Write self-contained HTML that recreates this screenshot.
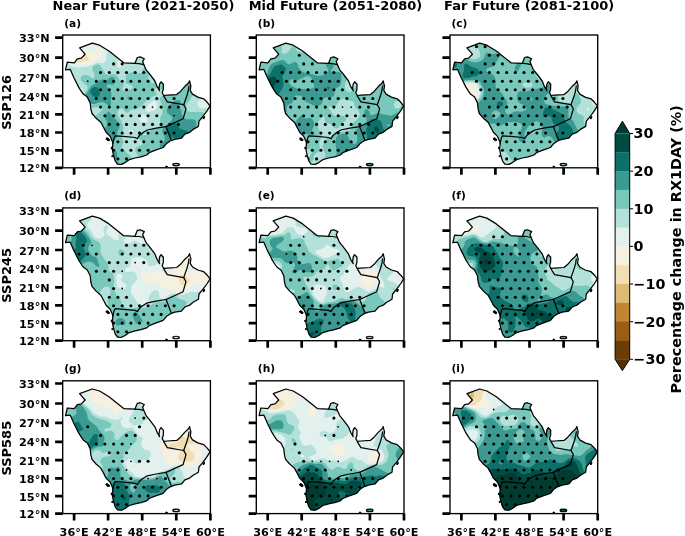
<!DOCTYPE html>
<html lang="en"><head><meta charset="utf-8"><title>Percentage change in RX1DAY</title>
<style>html,body{margin:0;padding:0;background:#fff}svg{display:block;will-change:transform}text{font-family:"DejaVu Sans","Liberation Sans",sans-serif;font-weight:bold;fill:#000}</style></head><body>
<svg width="685" height="536" viewBox="0 0 685 536">
<rect width="685" height="536" fill="#fff"/>
<defs>
<clipPath id="land"><path d="M2.8,34.8 4.6,27.2 11.6,27.8 14.6,23.9 18.7,23.1 22.4,19.2 16.9,12.9 29.6,8.2 36.9,10.2 46.3,16 61,27.8 72.2,28.4 74.6,22.5 77.5,21.9 81.6,23.7 79.9,26.6 81.1,29.6 83.4,34.8 86.9,39 92.2,46 94.6,51.9 96.9,55.8 96.3,53.5 96.9,49 98.3,46.8 100.7,49.3 100.6,54.5 99.5,57.8 101,60.5 104.6,60.2 114,59.6 117.8,56.4 122.2,51.3 125.6,48.2 126.9,45.8 127.5,48.5 128.2,51 127.5,55.4 129.8,59.1 135.1,62.1 141,63.8 144.5,67.3 147.4,70.9 144.5,75.6 139.8,82 136.3,86.1 135.7,91.4 130.4,94.4 126.9,97.3 122.2,99.1 118.7,103.2 112.1,104.3 107.4,106 103.9,108.4 100.4,112.5 92.2,115.4 86.4,117.7 84,120 78.2,121.8 72.3,123 66.5,124.7 62.4,127.6 58.9,129.4 54.8,129.2 52.5,125.9 50.7,120 49.6,114.2 50.2,108.4 49.8,106.7 47.5,101.4 43.4,97.3 41,92.6 38.1,87.3 33.4,83.2 29.3,78.5 28.1,73.8 27.5,67.9 24.6,62.1 20.5,59.1 18.1,55.6 15.8,51.9 11.1,42.5 7.5,34.3Z"/>
<ellipse cx="45" cy="104.3" rx="1.9" ry="1.1" transform="rotate(35 45 104.3)"/>
<ellipse cx="48.9" cy="113" rx="0.5" ry="0.9" transform="rotate(0 48.9 113)"/>
<ellipse cx="49.5" cy="121.2" rx="0.5" ry="0.6" transform="rotate(0 49.5 121.2)"/>
<ellipse cx="141.2" cy="82.6" rx="0.6" ry="1.3" transform="rotate(25 141.2 82.6)"/>
<ellipse cx="113.4" cy="129.6" rx="3.3" ry="1.25" transform="rotate(0 113.4 129.6)"/>
<ellipse cx="103.7" cy="131.6" rx="0.8" ry="0.5" transform="rotate(0 103.7 131.6)"/>
</clipPath>
<clipPath id="box"><rect x="0" y="0" width="147.7" height="132.8"/></clipPath>
<g id="ov" fill="none" stroke="#000" stroke-width="1.25" stroke-linejoin="round" stroke-linecap="round">
<path d="M2.8,34.8 4.6,27.2 11.6,27.8 14.6,23.9 18.7,23.1 22.4,19.2 16.9,12.9 29.6,8.2 36.9,10.2 46.3,16 61,27.8 72.2,28.4 74.6,22.5 77.5,21.9 81.6,23.7 79.9,26.6 81.1,29.6 83.4,34.8 86.9,39 92.2,46 94.6,51.9 96.9,55.8 96.3,53.5 96.9,49 98.3,46.8 100.7,49.3 100.6,54.5 99.5,57.8 101,60.5 104.6,60.2 114,59.6 117.8,56.4 122.2,51.3 125.6,48.2 126.9,45.8 127.5,48.5 128.2,51 127.5,55.4 129.8,59.1 135.1,62.1 141,63.8 144.5,67.3 147.4,70.9 144.5,75.6 139.8,82 136.3,86.1 135.7,91.4 130.4,94.4 126.9,97.3 122.2,99.1 118.7,103.2 112.1,104.3 107.4,106 103.9,108.4 100.4,112.5 92.2,115.4 86.4,117.7 84,120 78.2,121.8 72.3,123 66.5,124.7 62.4,127.6 58.9,129.4 54.8,129.2 52.5,125.9 50.7,120 49.6,114.2 50.2,108.4 49.8,106.7 47.5,101.4 43.4,97.3 41,92.6 38.1,87.3 33.4,83.2 29.3,78.5 28.1,73.8 27.5,67.9 24.6,62.1 20.5,59.1 18.1,55.6 15.8,51.9 11.1,42.5 7.5,34.3Z"/>
<path d="M72.2,28.4 76.3,28.6 81.1,29.6"/>
<path d="M50.2,108.4 51.3,103 52.5,100.8 60.7,101.4 72.3,102.5 74.7,103.7 77,100.2 79.9,97.9 84.6,95 93.4,93.2 103.4,91.6"/>
<path d="M103.4,91.6 120.4,83.8 123.3,73.8 121,69.7"/>
<path d="M121,69.7 104.6,66.8 101,60.9"/>
<path d="M121,69.7 124.5,59.7 125.7,55 126.3,51"/>
<path d="M103.4,91.6 108.3,104.5"/>
<ellipse cx="45" cy="104.3" rx="1.9" ry="1.1" stroke-width="0.9" fill="#000" transform="rotate(35 45 104.3)"/>
<ellipse cx="48.9" cy="113" rx="0.5" ry="0.9" stroke-width="0.9" fill="#000" transform="rotate(0 48.9 113)"/>
<ellipse cx="49.5" cy="121.2" rx="0.5" ry="0.6" stroke-width="0.9" fill="#000" transform="rotate(0 49.5 121.2)"/>
<ellipse cx="141.2" cy="82.6" rx="0.6" ry="1.3" stroke-width="0.9" fill="#000" transform="rotate(25 141.2 82.6)"/>
<ellipse cx="113.4" cy="129.6" rx="3.3" ry="1.25" stroke-width="1.2" fill="none" transform="rotate(0 113.4 129.6)"/>
<ellipse cx="103.7" cy="131.6" rx="0.8" ry="0.5" stroke-width="0.9" fill="#000" transform="rotate(0 103.7 131.6)"/>
</g>
<g id="fr">
<rect x="0" y="0" width="147.7" height="132.8" fill="none" stroke="#000" stroke-width="1.35"/>
<path d="M-7.6,132.8H0M-7.6,115.3H0M-7.6,97.5H0M-7.6,79.4H0M-7.6,61H0M-7.6,42.1H0M-7.6,22.7H0M-7.6,2.7H0M11.4,132.8v7M45.4,132.8v7M79.5,132.8v7M113.6,132.8v7M147.7,132.8v7" stroke="#000" stroke-width="2.7" fill="none"/>
</g>
</defs>
<g transform="translate(62.7,35.0)">
<g clip-path="url(#land)">
<rect x="-2" y="-2" width="151.7" height="136.8" fill="#f1dfb3"/>
<path d="M-.4-2l1.6,0l1.6,0l1.6,0l1.6,0l1.6,0l1.6,0l1.6,0l1.6,0l1.6,0l1.6,0l1.6,0l1.6,0l1.6,0l1.6,0l1.6,0l1.6,0l1.6,0l1.6,0l1.6,0l1.6,0l1.6,0l1.6,0l1.6,0l1.6,0l1.6,0l1.6,0l1.6,0l1.6,0l1.6,0l1.6,0l1.6,0l1.6,0l1.6,0l1.6,0l1.6,0l1.6,0l1.6,0l1.6,0l1.6,0l1.6,0l1.6,0l1.6,0l1.6,0l1.6,0l1.6,0l1.6,0l1.6,0l1.6,0l1.6,0l1.6,0l1.6,0l1.6,0l1.6,0l1.6,0l1.6,0l1.6,0l1.6,0l1.6,0l1.6,0l1.6,0l1.6,0l1.6,0l1.6,0l1.6,0l1.6,0l1.6,0l1.6,0l1.6,0l1.6,0l1.6,0l1.6,0l1.6,0l1.6,0l1.6,0l1.6,0l1.6,0l1.6,0l1.6,0l1.6,0l1.6,0l1.6,0l1.6,0l1.6,0l1.6,0l1.6,0l1.6,0l1.6,0l1.6,0l1.6,0l1.6,0l1.6,0l1.6,0l1.6,0l1.6,0l0,1.6l0,1.6l0,1.6l0,1.6l0,1.6l0,1.6l0,1.6l0,1.6l0,1.6l0,1.6l0,1.6l0,1.6l0,1.6l0,1.6l0,1.6l0,1.6l0,1.6l0,1.6l0,1.6l0,1.6l0,1.6l0,1.6l0,1.6l0,1.6l0,1.6l0,1.6l0,1.6l0,1.6l0,1.6l0,1.6l0,1.6l0,1.6l0,1.6l0,1.6l0,1.6l0,1.6l0,1.6l0,1.6l0,1.6l0,1.6l0,1.6l0,1.6l0,1.6l0,1.6l0,1.6l0,1.6l0,1.6l0,1.6l0,1.6l0,1.6l0,1.6l0,1.6l0,1.6l0,1.6l0,1.6l0,1.6l0,1.6l0,1.6l0,1.6l0,1.6l0,1.6l0,1.6l0,1.6l0,1.6l0,1.6l0,1.6l0,1.6l0,1.6l0,1.6l0,1.6l0,1.6l0,1.6l0,1.6l0,1.6l0,1.6l0,1.6l0,1.6l0,1.6l0,1.6l0,1.6l0,1.6l0,1.6l0,1.6l0,1.6l0,1.6l0,1.6l-1.6,0l-1.6,0l-1.6,0l-1.6,0l-1.6,0l-1.6,0l-1.6,0l-1.6,0l-1.6,0l-1.6,0l-1.6,0l-1.6,0l-1.6,0l-1.6,0l-1.6,0l-1.6,0l-1.6,0l-1.6,0l-1.6,0l-1.6,0l-1.6,0l-1.6,0l-1.6,0l-1.6,0l-1.6,0l-1.6,0l-1.6,0l-1.6,0l-1.6,0l-1.6,0l-1.6,0l-1.6,0l-1.6,0l-1.6,0l-1.6,0l-1.6,0l-1.6,0l-1.6,0l-1.6,0l-1.6,0l-1.6,0l-1.6,0l-1.6,0l-1.6,0l-1.6,0l-1.6,0l-1.6,0l-1.6,0l-1.6,0l-1.6,0l-1.6,0l-1.6,0l-1.6,0l-1.6,0l-1.6,0l-1.6,0l-1.6,0l-1.6,0l-1.6,0l-1.6,0l-1.6,0l-1.6,0l-1.6,0l-1.6,0l-1.6,0l-1.6,0l-1.6,0l-1.6,0l-1.6,0l-1.6,0l-1.6,0l-1.6,0l-1.6,0l-1.6,0l-1.6,0l-1.6,0l-1.6,0l-1.6,0l-1.6,0l-1.6,0l-1.6,0l-1.6,0l-1.6,0l-1.6,0l-1.6,0l-1.6,0l-1.6,0l-1.6,0l-1.6,0l-1.6,0l-1.6,0l-1.6,0l-1.6,0l-1.6,0l-1.6,0l0-1.6l0-1.6l0-1.6l0-1.6l0-1.6l0-1.6l0-1.6l0-1.6l0-1.6l0-1.6l0-1.6l0-1.6l0-1.6l0-1.6l0-1.6l0-1.6l0-1.6l0-1.6l0-1.6l0-1.6l0-1.6l0-1.6l0-1.6l0-1.6l0-1.6l0-1.6l0-1.6l0-1.6l0-1.6l0-1.6l0-1.6l0-1.6l0-1.6l0-1.6l0-1.6l0-1.6l0-1.6l0-1.6l0-1.6l0-1.6l0-1.6l0-1.6l0-1.6l0-1.6l0-1.6l0-1.6l0-1.6l0-1.6l0-1.6l0-1.6l0-1.6l0-1.6l0-1.6l0-1.6l0-1.6l0-1.6l0-1.6l0-1.6l0-1.6l0-1.6l0-1.6l0-1.6l0-1.6l0-1.6l0-1.6l0-1.6l0-1.6l0-1.6l0-1.6l0-1.6l0-1.6l0-1.6l0-1.6l0-1.6l0-1.6l0-1.6l0-1.6l0-1.6l0-1.6l0-1.6l0-1.6l0-1.6l0-1.6l0-1.6l0-1.6l0-1.6zM4.3,9.2l-1.1,1.6l.5,1.6l.7,1.2l.3,.4l1.2,1.6l.1,.2l1.1,1.4l.5,.7l.8,.9l.8,1.2l.3,.4l1,1.6l.3,.6l.5,1l.6,1.6l.5,.6l1.3,1l.3,.2l1.6,.4l1.6-.2l1.6-.3l.6-.1l1-.3l1.6-.2l1.6-.1l1.6-.4l.7-.6l-.2-1.6l-.5-1.1l-.3-.5l-1.1-1.6l-.2-.2l-1.6-1.1l-.6-.3l-1-.4l-1.6-.8l-.4-.4l-1.2-.8l-1-.8l-.6-.4l-1.6-1.2l-1.6-.9l-.9-.7l-.7-.4l-1.6-1l-.3-.2l-1.3-.7l-1.4-.9l-.2-.1l-1.6,0z" fill="#f5f0e0"/>
<path d="M-.4-2l1.6,0l1.6,0l1.6,0l1.6,0l1.6,0l1.6,0l1.6,0l1.6,0l1.6,0l1.6,0l1.6,0l1.6,0l1.6,0l1.6,0l1.6,0l1.6,0l1.6,0l1.6,0l1.6,0l1.6,0l1.6,0l1.6,0l1.6,0l1.6,0l1.6,0l1.6,0l1.6,0l1.6,0l1.6,0l1.6,0l1.6,0l1.6,0l1.6,0l1.6,0l1.6,0l1.6,0l1.6,0l1.6,0l1.6,0l1.6,0l1.6,0l1.6,0l1.6,0l1.6,0l1.6,0l1.6,0l1.6,0l1.6,0l1.6,0l1.6,0l1.6,0l1.6,0l1.6,0l1.6,0l1.6,0l1.6,0l1.6,0l1.6,0l1.6,0l1.6,0l1.6,0l1.6,0l1.6,0l1.6,0l1.6,0l1.6,0l1.6,0l1.6,0l1.6,0l1.6,0l1.6,0l1.6,0l1.6,0l1.6,0l1.6,0l1.6,0l1.6,0l1.6,0l1.6,0l1.6,0l1.6,0l1.6,0l1.6,0l1.6,0l1.6,0l1.6,0l1.6,0l1.6,0l1.6,0l1.6,0l1.6,0l1.6,0l1.6,0l1.6,0l0,1.6l0,1.6l0,1.6l0,1.6l0,1.6l0,1.6l0,1.6l0,1.6l0,1.6l0,1.6l0,1.6l0,1.6l0,1.6l0,1.6l0,1.6l0,1.6l0,1.6l0,1.6l0,1.6l0,1.6l0,1.6l0,1.6l0,1.6l0,1.6l0,1.6l0,1.6l0,1.6l0,1.6l0,1.6l0,1.6l0,1.6l0,1.6l0,1.6l0,1.6l0,1.6l0,1.6l0,1.6l0,1.6l0,1.6l0,1.6l0,1.6l0,1.6l0,1.6l0,1.6l0,1.6l0,1.6l0,1.6l0,1.6l0,1.6l0,1.6l0,1.6l0,1.6l0,1.6l0,1.6l0,1.6l0,1.6l0,1.6l0,1.6l0,1.6l0,1.6l0,1.6l0,1.6l0,1.6l0,1.6l0,1.6l0,1.6l0,1.6l0,1.6l0,1.6l0,1.6l0,1.6l0,1.6l0,1.6l0,1.6l0,1.6l0,1.6l0,1.6l0,1.6l0,1.6l0,1.6l0,1.6l0,1.6l0,1.6l0,1.6l0,1.6l0,1.6l-1.6,0l-1.6,0l-1.6,0l-1.6,0l-1.6,0l-1.6,0l-1.6,0l-1.6,0l-1.6,0l-1.6,0l-1.6,0l-1.6,0l-1.6,0l-1.6,0l-1.6,0l-1.6,0l-1.6,0l-1.6,0l-1.6,0l-1.6,0l-1.6,0l-1.6,0l-1.6,0l-1.6,0l-1.6,0l-1.6,0l-1.6,0l-1.6,0l-1.6,0l-1.6,0l-1.6,0l-1.6,0l-1.6,0l-1.6,0l-1.6,0l-1.6,0l-1.6,0l-1.6,0l-1.6,0l-1.6,0l-1.6,0l-1.6,0l-1.6,0l-1.6,0l-1.6,0l-1.6,0l-1.6,0l-1.6,0l-1.6,0l-1.6,0l-1.6,0l-1.6,0l-1.6,0l-1.6,0l-1.6,0l-1.6,0l-1.6,0l-1.6,0l-1.6,0l-1.6,0l-1.6,0l-1.6,0l-1.6,0l-1.6,0l-1.6,0l-1.6,0l-1.6,0l-1.6,0l-1.6,0l-1.6,0l-1.6,0l-1.6,0l-1.6,0l-1.6,0l-1.6,0l-1.6,0l-1.6,0l-1.6,0l-1.6,0l-1.6,0l-1.6,0l-1.6,0l-1.6,0l-1.6,0l-1.6,0l-1.6,0l-1.6,0l-1.6,0l-1.6,0l-1.6,0l-1.6,0l-1.6,0l-1.6,0l-1.6,0l-1.6,0l0-1.6l0-1.6l0-1.6l0-1.6l0-1.6l0-1.6l0-1.6l0-1.6l0-1.6l0-1.6l0-1.6l0-1.6l0-1.6l0-1.6l0-1.6l0-1.6l0-1.6l0-1.6l0-1.6l0-1.6l0-1.6l0-1.6l0-1.6l0-1.6l0-1.6l0-1.6l0-1.6l0-1.6l0-1.6l0-1.6l0-1.6l0-1.6l0-1.6l0-1.6l0-1.6l0-1.6l0-1.6l0-1.6l0-1.6l0-1.6l0-1.6l0-1.6l0-1.6l0-1.6l0-1.6l0-1.6l0-1.6l0-1.6l0-1.6l0-1.6l0-1.6l0-1.6l0-1.6l0-1.6l0-1.6l0-1.6l0-1.6l0-1.6l0-1.6l0-1.6l0-1.6l0-1.6l0-1.6l0-1.6l0-1.6l0-1.6l0-1.6l0-1.6l0-1.6l0-1.6l0-1.6l0-1.6l0-1.6l0-1.6l0-1.6l0-1.6l0-1.6l0-1.6l0-1.6l0-1.6l0-1.6l0-1.6l0-1.6l0-1.6l0-1.6l0-1.6zM3.6,7.6l-.8,.6l-.9,1l-.7,1.6l.4,1.6l1.1,1.6l.1,.1l1.1,1.5l.5,.7l.7,.9l.9,1.2l.3,.4l1.2,1.6l.1,.2l1,1.4l.6,1.1l.3,.5l.3,1.6l.7,1.6l.3,.4l1.4,1.2l.2,.1l1.6,.8l1.6,.3l1.6,0l1.6-.3l1.6-.2l1.6-.1l1.6,.1l1.6-.1l1.6-.1l1.6-.4l.3-.1l1.3-.8l1.6-.8l.9-1.6l.7-1.4l1.6,.4l1.6,0l1.4-.6l.2-.1l.8-1.5l.5-1.6l.2-1.6l-.1-1.6l-.4-1.6l-.8-1.6l-.2-.2l-1.5-1.4l-.1-.1l-1.6-.1l-.2,.2l-1.4,1.2l-.4,.4l-1.1,1.6l-.1,.3l-.8,1.3l-.8,1.4l-1.6-.3l-1.6-.9l-.4-.2l-1.2-.6l-1.6-.5l-1.6-.5l-.1,0l-1.5-.5l-1.6-.6l-.8-.5l-.8-.5l-1.6-1l-.2-.1l-1.4-.9l-1.2-.7l-.4-.3l-1.6-.9l-.7-.4l-.9-.6l-1.6-.9l-.2-.1l-1.4-.7l-1.6,0z" fill="#e2f0ee"/>
<path d="M58.8-2l1.6,0l1.6,0l1.6,0l1.6,0l1.6,0l1.6,0l1.6,0l1.6,0l1.6,0l1.6,0l1.6,0l1.6,0l1.6,0l1.6,0l1.6,0l1.6,0l1.6,0l1.6,0l1.6,0l1.6,0l1.6,0l1.6,0l1.6,0l1.6,0l1.6,0l1.6,0l1.6,0l1.6,0l1.6,0l1.6,0l1.6,0l1.6,0l1.6,0l1.6,0l1.6,0l1.6,0l1.6,0l1.6,0l1.6,0l1.6,0l1.6,0l1.6,0l1.6,0l1.6,0l1.6,0l1.6,0l1.6,0l1.6,0l1.6,0l1.6,0l1.6,0l1.6,0l1.6,0l1.6,0l1.6,0l1.6,0l1.6,0l0,1.6l0,1.6l0,1.6l0,1.6l0,1.6l0,1.6l0,1.6l0,1.6l0,1.6l0,1.6l0,1.6l0,1.6l0,1.6l0,1.6l0,1.6l0,1.6l0,1.6l0,1.6l0,1.6l0,1.6l0,1.6l0,1.6l0,1.6l0,1.6l0,1.6l0,1.6l0,1.6l0,1.6l0,1.6l0,1.6l0,1.6l0,1.6l0,1.6l0,1.6l0,1.6l0,.7l-.8,.9l-.8,.8l-.7,.8l-.9,.9l-.7,.7l-.9,.8l-1.1,.8l-.5,.2l-1.6,.6l-1.6,.6l-.3,.2l-1.3,1.1l-.5,.5l-1.1,1.3l-.4,.3l-1.2,1.4l-.2,.2l-.8,1.6l.2,1.6l.8,1.4l.1,.2l1.5,1.2l.9,.4l.7,.2l1.6,.2l1.6-.3l.6-.1l1-.2l1.6,.1l.4,.1l1.2,.9l.3,.7l-.1,1.6l-.2,.8l-.2,.8l-.1,1.6l.3,.9l.3,.7l1.1,1.6l.2,.2l1.2,1.4l.4,.5l0,1.1l0,1.6l0,1.6l0,1.6l0,1.6l0,1.6l0,1.6l0,1.6l0,1.6l0,1.6l0,1.6l0,1.6l0,1.6l0,1.6l0,1.6l0,1.6l0,1.6l0,1.6l0,1.6l0,1.6l0,1.6l0,1.6l0,1.6l0,1.6l0,1.6l0,1.6l0,1.6l0,1.6l0,1.6l0,1.6l0,1.6l0,1.6l-1.6,0l-1.6,0l-1.6,0l-1.6,0l-1.6,0l-1.6,0l-1.6,0l-1.6,0l-1.6,0l-1.6,0l-1.6,0l-1.6,0l-1.6,0l-1.6,0l-1.6,0l-1.6,0l-1.6,0l-1.6,0l-1.6,0l-1.6,0l-1.6,0l-1.6,0l-1.6,0l-1.6,0l-1.6,0l-1.6,0l-1.6,0l-1.6,0l-1.6,0l-1.6,0l-1.6,0l-1.6,0l-1.6,0l-1.6,0l-1.6,0l-1.6,0l-1.6,0l-1.6,0l-1.6,0l-1.6,0l-1.6,0l-1.6,0l-1.6,0l-1.6,0l-1.6,0l-1.6,0l-1.6,0l-1.6,0l-1.6,0l-1.6,0l-1.6,0l-1.6,0l-1.6,0l-1.6,0l-1.6,0l-1.6,0l-1.6,0l-1.6,0l-1.6,0l-1.6,0l-1.6,0l-1.6,0l-1.6,0l-1.6,0l-1.6,0l-1.6,0l-1.6,0l-1.6,0l-1.6,0l-1.6,0l-1.6,0l-1.6,0l-1.6,0l-1.6,0l-1.6,0l-1.6,0l-1.6,0l-1.6,0l-1.6,0l-1.6,0l-1.6,0l-1.6,0l-1.6,0l-1.6,0l-1.6,0l-1.6,0l-1.6,0l-1.6,0l-1.6,0l-1.6,0l-1.6,0l-1.6,0l-1.6,0l-1.6,0l-1.6,0l0-1.6l0-1.6l0-1.6l0-1.6l0-1.6l0-1.6l0-1.6l0-1.6l0-1.6l0-1.6l0-1.6l0-1.6l0-1.6l0-1.6l0-1.6l0-1.6l0-1.6l0-1.6l0-1.6l0-1.6l0-1.6l0-1.6l0-1.6l0-1.6l0-1.6l0-1.6l0-1.6l0-1.6l0-1.6l0-1.6l0-1.6l0-1.6l0-1.6l0-1.6l0-1.6l0-1.6l0-1.6l0-1.6l0-1.6l0-1.6l0-1.6l0-1.6l0-1.6l0-1.6l0-1.6l0-1.6l0-1.6l0-1.6l0-1.6l0-1.6l0-1.6l0-1.6l0-1.6l0-1.6l0-1.6l0-1.6l0-1.6l0-1.6l0-1.6l0-1.6l0-1.6l0-1.6l0-1.6l0-1.6l0-1.6l0-1.6l0-1.6l0-1.6l0-1.6l0-1.6l0-1.6l0-1.6l0-1.6l0-1.6l0-1.6l0-1.6l0-1.6l0-.3l.3,.3l1.3,.6l.8,1l.8,.9l.5,.7l1.1,1.4l.1,.2l1.2,1.6l.3,.4l.8,1.2l.8,1l.4,.6l.8,1.6l-.2,1.6l-.9,1.6l-.1,1.6l.6,1.6l1,1l1.4,.6l.2,.1l1.6,.3l1.6,.3l1.6,.2l1.6,0l1.6-.1l1.6-.3l1.6-.2l1.6-.1l1.6,0l.8-.2l.8-.1l1.6-.4l1.6-.7l.5-.4l1.1-.5l1.6-.6l1.2-.5l.4-.2l1.6-.4l1.6-.2l1.6,.1l1.6,.2l1.6,.2l1.4-1.3l.2-.3l.3-1.3l.3-1.6l.2-1.6l.2-1.6l.3-1.6l.3-1.6l.2-1.6l-.2-.8l-.1-.8l.1-.8l1.6-.3l1.6,.5l1.2,.6l.4,.2l1.2,1.4l.4,.6l.5,1l.7,1.6l.4,.6l.6,1l.9,1.6l.1,.2l.6,1.4l.3,1.6l0,1.6l-.1,1.6l-.1,1.6l.1,1.6l.8,1l1.6-.1l1.6-.4l1.2-.5l.4-.2l1.6-1.4l.5-1.6l.3-1.6l.5-1.6l.3-.7l.2-.9l.3-1.6l.2-1.6l.2-1.6l.1-1.6l0-1.6l0-1.6l0-1.6l-.1-1.6l-.2-1.6l-.3-1.6l-.4-1.1l-.4-.5l-.8-1.6l-.4-.8l-.5-.8l-1-1.6l-.1-.1l-1.2-1.5l-.4-.5l-1.1-1.1zM8.5,42.8l-.4,1.6l0,1.6l.4,1.6l.7,1.5l.1,.1l.6,1.6l-.1,1.6l-.6,.8l-.5,.8l-1.1,1.1l-.5,.5l-1.1,1.2l-.3,.4l-1.3,1.4l-.2,.2l-1.4,1.6l-1,1.6l-.1,1.6l.7,1.6l.4,.5l.8,1.1l.8,.8l1,.8l.6,.3l1.6,0l.6-.3l1-.8l1.1-.8l.5-.4l1.5-1.2l.1-.1l1.6-1.4l.1-.1l1.5-1.4l.1-.2l1-1.6l.2-1.6l-.5-1.6l-.6-1.6l-.2-.4l-.5-1.2l-.4-1.6l-.7-.6l-.5-1l-.3-1.6l-.2-1.6l-.4-1.6l-.2-.4l-.7-1.2l-.9-.9l-1.1-.7l-.5-.4zM16.5,54l.7,.4l1.6,.9l1.6-.8l.2-.5l-.2-.3l-1.6-.8l-1.6,.1zM89.1,66.8l-1.5,1.2l-.4,.4l-1.2,1.2l-.3,.4l-1.2,1.6l-.1,.2l-.8,1.4l-.5,1.6l.5,1.6l.8,.6l1.6-.2l1.6-.3l.5-.1l1.1-.2l1.6-.4l1.6-.8l.2-.2l1.3-1.6l.1-.2l.5-1.4l.2-1.6l-.4-1.6l-.3-.6l-.8-1l-.8-.7l-1.6-.1l-1.6,.7zM79.2,79.6l-1.2,.5l-1.1,1.1l-.5,1.3l-.1,.3l.1,1l.1,.6l1,1.6l.5,.3l1.6,.8l1.4,.5l.2,0l1.6,.1l.2-.1l1.4-1.5l0-.1l.3-1.6l-.3-1.2l-.1-.4l-1-1.6l-.5-.8l-1.6-.7l-.6-.1l-1-.1zM65.9,95.6l-.2,1.6l.9,1.6l.2,.1l1.6,.5l1.1-.6l.5-.7l.3-.9l-.3-1.6l0-.1l-1.6-1.1l-1.6,.2zM20.4,1.7l1.6-.3l1.6,.1l1.6,.4l1.2,.9l.4,.2l1.4,1.4l.2,1.4l1.6,.2l-1.6,0l-1.6,.2l-1.6,.7l-1.1,.7l-.5,.1l-1.6,.1l-.9-.2l-.7-.7l-1.2-.9l-.3-1.6l.5-1.6z" fill="#b4e2db"/>
<path d="M148.4,7.2l1.6-.6l0,1l0,1.6l0,1.6l0,1.6l0,1.6l0,.6l-.9,1l-.7,.7l-.7,.9l-.9,1.1l-.3,.5l-1.2,1.6l-.1,.2l-1,1.4l-.6,.9l-.4,.7l-1,1.6l-.2,.2l-.8,1.4l-.8,1.4l-.1,.2l-.9,1.6l-.6,1.1l-.2,.5l-.8,1.6l-.6,1.2l-.2,.4l-.3,1.6l.5,.9l.2,.7l1.2,1.6l.2,.3l.6,1.3l-.4,1.6l-.2,.3l-.6,1.3l-.8,1.6l-.2,.4l-.6,1.2l-.8,1.6l-.2,.5l-.5,1.1l-.7,1.6l-.4,.9l-.3,.7l-.5,1.6l-.3,1.6l-.5,1.6l-1.6,1l-.7,.6l-.9,.9l-.5,.7l-.8,1.6l-.3,.5l-.6,1.1l-1,1.3l-.2,.3l-1.2,1.6l-.2,.3l-.5,1.3l-.5,1.6l-.1,1.6l.2,1.6l.9,1.4l1,.2l.6,.1l1.6,.2l1.6,.3l1.6,.1l1.6-.2l1.6-.2l1.6,0l1.6,.2l1.6,.2l1.6,.4l1.4,.5l.2,.1l1.1,1.5l.3,1.6l.2,.7l.3,.9l1.1,1.6l.2,.3l1.1,1.3l.5,.6l.9,1l.7,.8l.6,.8l1,1.1l0,.5l0,1.6l0,1.6l0,1.6l0,1.6l0,1.6l0,1.6l0,1.6l0,1.6l0,1.6l0,1.6l0,1.6l0,1.6l0,1.6l0,1.6l0,1.6l0,1.6l0,1.6l0,1.6l0,1.6l0,1.6l0,1.6l0,1.6l0,1.6l0,1.6l0,1.6l0,1.6l0,1.6l0,1.6l-1.6,0l-1.6,0l-1.6,0l-1.6,0l-1.6,0l-1.6,0l-1.6,0l-1.6,0l-1.6,0l-1.6,0l-1.6,0l-1.6,0l-1.6,0l-1.6,0l-1.6,0l-1.6,0l-1.6,0l-1.6,0l-1.6,0l-1.6,0l-1.6,0l-1.6,0l-1.6,0l-1.6,0l-1.6,0l-1.6,0l-1.6,0l-1.6,0l-1.6,0l-1.6,0l-1.6,0l-1.6,0l-1.6,0l-1.6,0l-1.6,0l-1.6,0l-1.6,0l-1.6,0l-1.6,0l-1.6,0l-1.6,0l-1.6,0l-1.6,0l-1.6,0l-1.6,0l-1.6,0l-1.6,0l-1.6,0l-1.6,0l-1.6,0l-1.6,0l-1.6,0l-1.6,0l-1.6,0l-1.6,0l-1.6,0l-1.6,0l-1.6,0l-1.6,0l-1.6,0l-1.6,0l-1.6,0l-1.6,0l-1.6,0l-1.6,0l-1.6,0l-1.6,0l-1.6,0l-1.6,0l-1.6,0l-1.6,0l-1.6,0l-1.6,0l-1.6,0l-1.6,0l-1.6,0l-1.6,0l-1.6,0l-1.6,0l-1.6,0l-1.6,0l-1.6,0l-1.6,0l-1.6,0l-1.6,0l-1.6,0l-1.6,0l-1.6,0l-1.6,0l-1.6,0l-1.6,0l-1.6,0l-1.6,0l-1.6,0l-1.6,0l0-1.6l0-1.6l0-1.6l0-1.6l0-1.6l0-1.6l0-1.6l0-1.6l0-1.6l0-1.6l0-1.6l0-1.6l0-1.6l0-1.6l0-1.6l0-1.6l0-1.6l0-1.6l0-1.6l0-1.6l0-1.6l0-1.6l0-1.6l0-1.6l0-1.6l0-1.6l0-1.6l0-1.6l0-1.6l0-1.6l0-1.6l0-1.6l0-1.6l0-1.6l0-1.6l0-1.6l0-1.6l0-1.6l0-1.6l0-1.6l0-1.6l0-.7l1.6-.2l1.6,.4l1.3,.5l.3,.1l1.6,1l1.6,.4l1.6-.1l1.6-1l.4-.4l1.2-1l.7-.6l.9-.7l1-.9l.6-.5l1.2-1.1l.4-.3l1.4-1.3l.2-.2l1.2-1.4l.4-.6l.6-1l1-1.1l.5-.5l1.1-.9l.6-.7l1-1.2l.2-.4l.8-1.6l.3-1.6l-.5-1.6l-.8-.9l-.9-.7l-.7-.5l-1.6-1.1l-.1,0l-1.5-1.4l-.2-.2l-.5-1.6l0-1.6l.7-1.4l.2-.2l1.4-.9l1.6-.4l1.6,.1l1.6,.5l1.2,.7l.4,.3l1.6,1.1l.3,.2l1.3,.7l1.5-.7l.1-.1l.3-1.5l0-1.6l-.3-1.2l-.1-.4l-.8-1.6l-.7-1.4l-.1-.2l-.2-1.6l.3-.7l.3-.9l1.3-1l.8-.6l.8-.3l1.6-.2l1.6,.3l.3,.2l1.3,1.4l.1,.2l1.1,1.6l.4,.5l.7,1.1l.9,1.4l.1,.2l1,1.6l.5,.6l1.3,1l.3,.2l1.6,.1l1.3-.3l.3-.1l1.6-.4l1.6-.1l1.6,.4l.3,.2l1.3,.8l.8,.8l.8,1.2l.3,.4l.8,1.6l.5,1.3l.3,.3l1.3,1.6l1.6,1.1l1.2,.5l-.7,1.6l-.5,.6l-.4,1l-.3,1.6l.7,1l.7,.6l.9,.3l1.6-.2l.3-.1l1.3-.5l1.6-.5l1.6-.6l1.6-1.4l.2-.2l-.2-.3l-.8-1.3l-.8-.5l-1.6-.7l-1.5-.4l-.1,0l-1.6-.6l-.6-1l.1-1.6l-.1-1.6l.1-1.6l.3-1.6l.2-.5l.5-1.1l1.1-.8l1.5-.8l.1-.1l1.6-.6l1.6-.1l1.6,.2l1.6,.4l.8,.2l.8,.2l1.6,.2l1.6-.1l.4-.3l.8-1.6l.4-.5l.5-1.1l1.1-1.1l.5-.5l1.1-.9l1.6-.6l1.6,.8l.9,.7l.6,1.6l-.4,1.6l-1,1.6l-.1,.5l-.3,1.1l0,1.6l.1,1.6l.2,.7l.2,.9l.7,1.6l.7,1l.8,.6l.8,.7l1.6-.2l.5-.5l1.1-.8l.7-.8l.9-.6l1.6-.4l1.6,0l1.6,.2l1.6,.7l.3,.1l1.3,.9l1.6,.5l.4-1.4l.4-1.6l.5-1.6l.3-.7l.6-.9l.7-1.6l.3-1.4l.1-.2l0-1.6l-.1-1l0-.6l-.1-1.6l0-1.6l.1-.9l.3-.7l1.2-1.6l.1-.2l1.3-1.4l.3-.3l1.3-1.3l.3-.3l1.4-1.3l.2-.2l1.6-1.4l1.6-1.3l.4-.3l1.2-.9l1-.7l.6-.4l1.6-1.1l.2-.1l1.4-.9l1.3-.7l.3-.2l1.6-.8l1.2-.6l.4-.2l1.6-.8l1.5-.6l.1,0l1.6-.7l1.6-.5l1.2-.4l.4-.2l1.6-.4l1.6-.5l1.6-.4l.4-.1l1.2-.3l1.6-.4l1.6-.3l1.6-.5l.4-.1zM92.1,54l0,1.6l.3,.8l.7,.8l.7,1.6l-.3,1.6l-1.1,.3l-1.6,.5l-1.3,.8l-.3,.2l-1.6,1l-.8,.4l-.8,.5l-1.6,1l-.1,.1l-1.5,1.3l-.3,.3l-1.3,1.6l-1.5,1.6l-.1,.1l-1.6,1.5l-1.6,1.1l-.9,.5l-.7,.3l-1.6,.6l-1.6,.3l-1.6,0l-1.6,.3l-.2,.1l-1.4,1.3l-.3,.3l-1.3,1.3l-1.6-.1l-1.3-1.2l-.3-.4l-1-1.2l-.6-.7l-1.6-.7l-1.6,.5l-1.1,.9l-.5,.5l-.5,1.1l-.3,1.6l.2,1.6l.6,1.6l1,1.6l.6,.9l.4,.7l.9,1.6l.3,.6l.5,1l.6,1.6l.5,1.6l.3,1.6l-.1,1.6l-.2,1l-.1,.6l-.5,1.6l-.4,1.6l-.3,1.6l-.2,1.6l.4,1.6l1.1,1.6l.5,1.6l-.5,1.2l-.1,.4l-.7,1.6l-.4,1.6l.5,1.6l.7,.8l.8,.8l.8,.6l1,1l.6,.6l.9,1l.7,.8l.7,.8l.9,.9l.7,.7l.9,1l.6,.6l1,1.6l1.2,1.6l.4,.7l1.6,.1l1.6-.3l1.5-.5l.1,0l1.6-1.4l.2-.2l-.2-.4l-.3-1.2l-1.3-1.3l-.4-.3l-1.2-1.2l-.3-.4l-.9-1.6l-.4-.7l-.3-.9l-.4-1.6l.5-1.6l.2-.3l1.6-1.2l.3-.1l1.3-.6l1.6-.6l1.1-.4l.5-.6l.5-1l-.5-1.6l-1.3-1.6l-.3-.2l-1.6-1.3l-.1-.1l-1.3-1.6l-.2-.9l-.1-.7l.1-.5l.3-1.1l.7-1.6l.5-1.6l.1-.3l.2,.3l1.4,1.1l.3,.5l1.3,1.5l.1,.1l1.5,.9l1.6,.2l1.6-.6l.7-.5l.9-.9l.6-.7l.8-1.6l.2-.4l1.1-1.2l.5-.2l1.6-.3l1.6-.3l1.6-.5l1.1-.3l.5-.3l1.6-.8l.6-.5l.1-1.6l-.3-1.6l-.3-1.6l0-1.6l.2-1.6l.7-1.6l.6-.9l.4-.7l.5-1.6l.1-1.6l0-1.6l-.1-1.6l-.1-1.6l-.4-1.6l-.4-1l-.2-.6l-.7-1.6l-.6-1.6l-.1-.9l-.1-.7l.1-.5l.7-1.1l.9-.5l1.6-.7l.8-.4l.8-.5l1.4-1.1l.2-.3l.6-1.3l-.1-1.6l-.5-1.3l-1.6,.1l-1.6,.1l-1.6,0l-1.6-.2l-.5-.3l-1.1-.6l-1.6-.8l-1.6,1zM23.9,73.2l-.3,.2l-1.6,.7l-1.6,.5l-.6,.2l-1,.5l-1.6,.6l-1.3,.5l-.3,.2l-1.6,.8l-1.2,.6l-.4,.6l-.5,1l.1,1.6l.3,1.6l.1,.2l.4,1.4l.5,1.6l.7,1.3l.2,.3l.8,1.6l.6,.8l.6,.8l1,1.2l.4,.4l1.2,1.2l.5,.4l1.1,.8l1.2,.8l.4,.2l1.6,.4l1.6-.5l.1-.1l1.5-1.5l.1-.1l1.4-1.6l.1-.1l1.2-1.5l.4-.5l.8-1.1l.8-1.1l.3-.5l.6-1.6l-.1-1.6l0-1.6l.7-1.6l.1-.1l1.2-1.5l.4-.4l1.6-1.1l.1-.1l1.5-1.2l.3-.4l1.2-1.6l.1-.7l.2-.9l-.2-.2l-1.6-1.1l-1.6,0l-1.6,.2l-1.6,.3l-1.6,0l-1.6,0l-1.6-.1l-1.6,0l-1.6,.4z" fill="#79c8bc"/>
<path d="M47.6,42.6l1.6-.6l1.6,.2l.7,.6l.6,1.6l.2,1.6l-.1,1.6l-.9,1.6l-.5,.4l-1.6,.1l-1.6-.4l-.5-.1l-1.1-.4l-.9,.4l-.7,.7l-.1,.9l.1,.7l.2,.9l1.1,1.6l.3,.3l1.2,1.3l.4,.5l.7,1.1l.4,1.6l.1,1.6l-.1,1.6l-.2,1.6l-.3,1.6l0,1.6l.2,1.6l-.2,1.6l-.6,.8l-1.6,.1l-1.2-.9l-.4-.3l-1.3-1.3l-.3-.3l-1.6-.7l-1.6-.3l-1.6,.1l-1.6,.3l-1.6,.6l-.9,.3l-.7,.2l-1.6,.3l-1.6,0l-1.6-.2l-1.1-.3l-.5-.5l-.8-1.1l-.7-1.6l-.1-.1l-1.6-.1l-.5,.2l-.2,1.6l-.3,1.6l-.6,.5l-1.6,.5l-1.3-1l.8-1.6l.5-1.1l.4-.5l.6-1.6l.1-1.6l.5-.8l.5-.8l1.1-1.5l.1-.1l1-1.6l.5-.8l.4-.8l.9-1.6l.3-.6l.7-1l.9-1.1l.7-.5l.9-.7l1.6-.8l.1-.1l1.5-1.1l.7-.5l.9-.7l1.4-.9l.2-.2l1.6-.9l1.6-.3l1.6,0l1.6,.3l1.6,0l.5-.5l1.1-.6l1.1-1zM65.2,61.9l1.6-.2l.5,.3l.5,1.6l-1,1.4l-1.6-.8l-.3-.6l.2-1.6zM114.8,65.2l.1,0l1.5,.1l1.6,.8l.4,.7l-.4,.2l-1.6,1.3l0,.1l-.8,1.6l-.1,1.6l.7,1.6l.2,.2l1.6,1l.3,.4l.5,1.6l0,1.6l.4,1.6l.4,.7l.6,.9l1,1.2l.5,.4l1.1,.9l1.6,.5l1.6,.1l1.6-.1l1.6,0l1.3,.2l.3,.1l1.6,.8l.7,.7l.5,1.6l.1,1.6l-.2,1.6l-.6,1.6l-.3,1.6l1.4,.6l1.6,0l1.6,.7l.3,.3l1.3,1.3l.2,.3l1,1.6l.4,1l.1,.6l-.1,.3l-.6,1.3l-1,1.4l-.1,.2l-1.1,1.6l-.4,.6l-.6,1l-1,1.4l-.1,.2l-1.2,1.6l-.3,.3l-1.2,1.3l-.4,.5l-1.4,1.1l-.2,.2l-1.6,1.3l-.2,.1l-1.4,1.2l-.6,.4l-1,1l-.6,.6l-1,1.4l-.2,.2l-1.1,1.6l-.3,.3l-1.1,1.3l-.5,.5l-1.1,1.1l-.5,.4l-1.6,1.2l-1.6,1l-1.1,.6l-.5,.3l-1.6,.6l-1.6,.6l-.3,.1l-1.3,.3l-1.6,.3l-1.6,.1l-1.6,0l-1.6-.1l-1.6-.2l-1.3-.4l-.3-.2l-.7-1.4l-.9-1.6l-.4-1.6l-.4-1.6l-.7-1.6l-.1-.1l-.2-1.5l0-1.6l.2-.5l1.1-1.1l.5-1.1l.2-.5l-.2-.5l-.6-1.1l-1-1.5l-.1-.1l-.3-1.6l.4-.2l1.6-1.3l.1-.1l1.5-1.2l.4-.4l1.1-1.6l.1-.3l.3-1.3l-.3-1.6l-.7-1.6l-.8-1.6l-.1-.3l-.7-1.3l-.2-1.6l.7-1.6l.2-.2l1.2-1.4l.4-.4l1.3-1.2l.3-.3l1.4-1.3l.2-.2l1.5-1.4l.1-.1l1.4-1.5l.2-.3l.9-1.3l.3-1.6l-1-1.6l-.2-.2l-1.6-1.1l-.5-.3l-1.1-.9l-.5-.7l-.5-1.6l.1-1.6l.5-1.6l.4-.7l.6-.9l1-1.3l.3-.3l1.3-1.3l.3-.3l1.3-1.1l.7-.5l.9-.6l1.6-.7l1.6-.3zM46,76.2l.1,.2l1.4,1.6l.1,0l1.1,1.6l.5,.5l.8,1.1l.8,.6l.8,1l.8,.7l.6,.9l1,1.1l.4,.5l1.2,1.4l.1,.2l.8,1.6l.4,1.6l-.3,1.6l-.7,1.6l-.3,.7l-.4,.9l-.6,1.6l-.2,1.6l-.2,1.6l-.2,1l-.1,.6l-.6,1.6l-.9,1.6l-1.6,1.4l-.5,.2l-1.1,.6l-1.6,.5l-1.6,.4l-.2,.1l-1.4,.7l-1.6,.7l-.3,.2l-1.3,.6l-1.6,.4l-1.6,.4l-1,.2l-.6,.1l-.6-.1l-1-.2l-1.6-1.4l-1.3-1.6l-.3-.5l-.8-1.1l-.8-1.6l-.7-1.6l-.3-1.6l.7-1.6l.3-.4l1.3-1.2l.3-.3l1.5-1.3l.1-.1l1.6-1.4l.2-.1l1.4-1l1.6-.5l1.6,0l.6-.1l1-.3l1.6-1.2l.1-.1l1.2-1.6l.3-1.5l0-.1l0-.1l-.1-1.5l-.4-1.6l-.9-1.6l-.2-.5l-.7-1.1l.1-1.6l.6-1.3l.2-.3l1.3-1.6l.1-.2l1.5-1.4zM49.2,113.6l1.6,.4l1.3,.8l.3,.2l1.2,1.4l.4,.7l.4,.9l.2,1.6l-.2,1.6l-.4,1.6l-.5,1.6l-.2,1.6l.7,.4l1.6,1.2l.1,0l1.5,1.3l.2,.3l.1,1.6l-.3,.3l-1.6,.3l-.9-.6l-.7-.5l-.7-1.1l-.8-1.6l-.1-.3l-.2-1.3l-1.4-1l-.4-.6l-.8-1.6l-.4-.5l-.6-1.1l-.6-1.6l-.3-1.6l.1-1.6l.6-1.6z" fill="#3b9b93"/>
<path d="M31.6,52l1.6-.1l1.1,.5l.5,.4l1,1.2l.6,1.2l.2,.4l.5,1.6l.1,1.6l-.5,1.6l-.3,.4l-1.4,1.2l-.2,.1l-1.6,.4l-1.3-.5l-.3-.1l-1.6-1.5l-1.6-1.4l-.1-.2l-.8-1.6l.3-1.6l.6-1.3l.2-.3l1.4-1.3l.6-.3zM110,87.6l1.6-.2l.8,.2l.8,.4l1.3,1.2l.3,.5l.6,1.1l.7,1.6l.3,.4l1.6,1.1l.2,.1l1.4,.5l1.6,.5l1.6,.5l.3,.1l1.3,.5l1.6,.8l.3,.3l.9,1.6l-.7,1.6l-.5,.7l-1.4,.9l-.2,.2l-1.6,1.2l-.3,.2l-.6,1.6l.5,1.6l.4,1l.3,.6l-.3,.5l-1.6,0l-1.2-.5l-.4-.2l-1.6-1.3l-.2-.1l-1.4-1.4l-.2-.2l-1.4-.6l-1.6-.4l-1.6-.6l-1.6-.9l-1.1-.7l-.5-.3l-1.6-1.2l-.1-.1l-1.5-1.5l-.1-.1l-1-1.6l-.5-1.3l-.1-.3l.1-1.6l0-.1l1-1.5l.6-.6l1-1l.6-.6l1.1-1l.5-.5l1.6-1.1z" fill="#0c7169"/>
<g fill="#000"><circle cx="50.9" cy="28.9" r="1.55"/><circle cx="59.5" cy="28.9" r="1.55"/><circle cx="37.9" cy="37.5" r="1.55"/><circle cx="46.6" cy="37.5" r="1.55"/><circle cx="55.2" cy="37.5" r="1.55"/><circle cx="63.8" cy="37.5" r="1.55"/><circle cx="72.5" cy="37.5" r="1.55"/><circle cx="81.1" cy="37.5" r="1.55"/><circle cx="25" cy="46.2" r="0.9"/><circle cx="33.6" cy="46.2" r="1.55"/><circle cx="42.2" cy="46.2" r="1.55"/><circle cx="50.9" cy="46.2" r="1.55"/><circle cx="59.5" cy="46.2" r="1.55"/><circle cx="68.2" cy="46.2" r="1.55"/><circle cx="76.8" cy="46.2" r="1.55"/><circle cx="85.4" cy="46.2" r="1.55"/><circle cx="37.9" cy="54.8" r="1.55"/><circle cx="46.6" cy="54.8" r="1.55"/><circle cx="55.2" cy="54.8" r="1.55"/><circle cx="63.8" cy="54.8" r="1.55"/><circle cx="72.5" cy="54.8" r="1.55"/><circle cx="81.1" cy="54.8" r="1.55"/><circle cx="89.8" cy="54.8" r="1.55"/><circle cx="33.6" cy="63.5" r="1.55"/><circle cx="42.2" cy="63.5" r="1.55"/><circle cx="50.9" cy="63.5" r="1.55"/><circle cx="59.5" cy="63.5" r="1.55"/><circle cx="68.2" cy="63.5" r="1.55"/><circle cx="76.8" cy="63.5" r="1.55"/><circle cx="85.4" cy="63.5" r="1.55"/><circle cx="94.1" cy="63.5" r="1.55"/><circle cx="111.4" cy="63.5" r="1.55"/><circle cx="37.9" cy="72.1" r="1.55"/><circle cx="46.6" cy="72.1" r="1.55"/><circle cx="55.2" cy="72.1" r="1.55"/><circle cx="63.8" cy="72.1" r="1.55"/><circle cx="72.5" cy="72.1" r="1.55"/><circle cx="81.1" cy="72.1" r="1.55"/><circle cx="89.8" cy="72.1" r="0.9"/><circle cx="98.4" cy="72.1" r="1.55"/><circle cx="107" cy="72.1" r="1.55"/><circle cx="115.7" cy="72.1" r="1.55"/><circle cx="42.2" cy="80.7" r="1.55"/><circle cx="50.9" cy="80.7" r="1.55"/><circle cx="59.5" cy="80.7" r="1.55"/><circle cx="68.2" cy="80.7" r="1.55"/><circle cx="76.8" cy="80.7" r="1.55"/><circle cx="85.4" cy="80.7" r="1.55"/><circle cx="94.1" cy="80.7" r="1.55"/><circle cx="111.4" cy="80.7" r="0.9"/><circle cx="46.6" cy="89.4" r="1.55"/><circle cx="55.2" cy="89.4" r="1.55"/><circle cx="63.8" cy="89.4" r="1.55"/><circle cx="72.5" cy="89.4" r="1.55"/><circle cx="81.1" cy="89.4" r="1.55"/><circle cx="89.8" cy="89.4" r="1.55"/><circle cx="98.4" cy="89.4" r="1.55"/><circle cx="107" cy="89.4" r="1.55"/><circle cx="115.7" cy="89.4" r="1.55"/><circle cx="50.9" cy="98" r="1.55"/><circle cx="59.5" cy="98" r="1.55"/><circle cx="68.2" cy="98" r="1.55"/><circle cx="76.8" cy="98" r="1.55"/><circle cx="85.4" cy="98" r="1.55"/><circle cx="94.1" cy="98" r="1.55"/><circle cx="102.7" cy="98" r="1.55"/><circle cx="111.4" cy="98" r="1.55"/><circle cx="55.2" cy="106.7" r="1.55"/><circle cx="63.8" cy="106.7" r="1.55"/><circle cx="72.5" cy="106.7" r="1.55"/><circle cx="81.1" cy="106.7" r="1.55"/><circle cx="89.8" cy="106.7" r="1.55"/><circle cx="98.4" cy="106.7" r="1.55"/><circle cx="50.9" cy="115.3" r="1.55"/><circle cx="59.5" cy="115.3" r="1.55"/><circle cx="68.2" cy="115.3" r="1.55"/><circle cx="76.8" cy="115.3" r="1.55"/><circle cx="85.4" cy="115.3" r="1.55"/><circle cx="55.2" cy="123.9" r="1.55"/><circle cx="63.8" cy="123.9" r="1.55"/></g>
</g>
<use href="#ov"/><use href="#fr"/>
<text x="1.5" y="-7.8" font-size="10.6">(a)</text>
<text x="-13" y="137.4" font-size="11.25" text-anchor="end">12°N</text>
<text x="-13" y="119.9" font-size="11.25" text-anchor="end">15°N</text>
<text x="-13" y="102.1" font-size="11.25" text-anchor="end">18°N</text>
<text x="-13" y="84" font-size="11.25" text-anchor="end">21°N</text>
<text x="-13" y="65.6" font-size="11.25" text-anchor="end">24°N</text>
<text x="-13" y="46.7" font-size="11.25" text-anchor="end">27°N</text>
<text x="-13" y="27.3" font-size="11.25" text-anchor="end">30°N</text>
<text x="-13" y="7.3" font-size="11.25" text-anchor="end">33°N</text>
</g>
<g transform="translate(256.3,35.0)">
<g clip-path="url(#land)">
<rect x="-2" y="-2" width="151.7" height="136.8" fill="#b4e2db"/>
<path d="M-.4-2l1.6,0l1.6,0l1.6,0l1.6,0l1.6,0l1.6,0l1.6,0l.5,0l-.5,.5l-1.1,1.1l-.5,.6l-.8,1l-.8,1l-.4,.6l-1.2,1.5l-.1,.1l-1.5,1.6l-1.6,1.5l-.1,.1l-1.4,1.6l-.1,.2l-1,1.4l-.6,.8l-.5,.8l-.9,1.6l-.2,.3l0-.3l0-1.6l0-1.6l0-1.6l0-1.6l0-1.6l0-1.6l0-1.6l0-1.6l0-1.6l0-1.6zM38-2l1.6,0l1.6,0l1.6,0l1.6,0l1.6,0l1.6,0l1.6,0l1.6,0l1.6,0l1.6,0l1.6,0l1.6,0l1.6,0l1.6,0l1.6,0l1.6,0l1.6,0l1.6,0l1.6,0l1.6,0l1.6,0l1.6,0l1.6,0l1.6,0l1.6,0l1.6,0l1.6,0l1.6,0l1.6,0l1.6,0l1.6,0l1.6,0l1.6,0l1.6,0l1.6,0l1.6,0l1.6,0l1.6,0l1.6,0l1.6,0l1.6,0l1.6,0l1.6,0l1.6,0l1.6,0l1.6,0l1.6,0l1.6,0l1.6,0l1.6,0l1.6,0l1.6,0l1.6,0l1.6,0l1.6,0l1.6,0l1.6,0l1.6,0l1.6,0l1.6,0l1.6,0l1.6,0l1.6,0l1.6,0l1.6,0l1.6,0l1.6,0l1.6,0l1.6,0l1.6,0l0,1.6l0,1.6l0,1.6l0,1.6l0,1.6l0,1.6l0,1.6l0,1.6l0,1.6l0,1.6l0,1.6l0,1.6l0,1.6l0,1.6l0,1.6l0,1.6l0,1.6l0,1.6l0,1.6l0,1.6l0,1.6l0,1.6l0,1.6l0,1.6l0,1.6l0,1.6l0,1.6l0,1.6l0,1.6l0,1.6l0,1.6l0,1.6l0,1.6l0,.9l-.6,.7l-1,1.6l-.8,1.6l-.8,1.5l0,.1l-.5,1.6l-.2,1.6l.2,1.6l.5,.9l.5,.7l1.1,1.4l.3,.2l1.3,1.4l0,.2l0,1.6l0,1.6l0,1.6l0,1.6l0,1.6l0,1.6l0,1.6l0,1.6l0,1.6l0,1.6l0,1.6l0,1.6l0,1.6l0,1.6l0,1.6l0,1.6l0,1.6l0,1.6l0,1.6l0,1.6l0,1.6l0,1.6l0,1.6l0,1.6l0,1.6l0,1.6l0,1.6l0,1.6l0,1.6l0,1.6l0,1.6l0,1.6l0,1.6l0,1.6l0,1.6l0,1.6l0,1.6l0,1.6l0,1.6l0,1.6l0,1.6l0,1.6l0,1.6l-1.6,0l-1.6,0l-1.6,0l-1.6,0l-1.6,0l-1.6,0l-1.6,0l-1.6,0l-1.6,0l-1.6,0l-1.6,0l-1.6,0l-1.6,0l-1.6,0l-1.6,0l-1.6,0l-1.6,0l-1.6,0l-1.6,0l-1.6,0l-1.6,0l-1.6,0l-1.6,0l-1.6,0l-1.6,0l-1.6,0l-1.6,0l-1.6,0l-1.6,0l-1.6,0l-1.6,0l-1.6,0l-1.6,0l-1.6,0l-1.6,0l-1.6,0l-1.6,0l-1.6,0l-1.6,0l-1.6,0l-1.6,0l-1.6,0l-1.6,0l-1.6,0l-1.6,0l-1.6,0l-1.6,0l-1.6,0l-1.6,0l-1.6,0l-1.6,0l-1.6,0l-.8,0l.7-1.6l.1,0l.4-1.6l.6-1.6l.6-1.5l0-.1l.5-1.6l.3-1.6l-.1-1.6l-.3-1.6l-.1-1.6l0-1.6l-.3-1.5l0-.1l-.6-1.6l-.6-1.6l-.4-1.5l-.1-.1l-.4-1.6l.3-1.6l.2-.3l.3-1.3l.8-1.6l.5-.6l.5-1l1-1.6l.1-.1l1.6-.9l1.5-.6l.1,0l1.6-.5l1.6-.6l.8-.5l.8-.5l1.6-1l.1-.1l1.5-1.1l1.6-.5l1.6-.4l1.6-.1l1.6-.1l1.6-.1l1.6-.2l1.6-.5l.4-.2l1.2-.7l1-.9l.6-1l.4-.6l.1-1.6l0-1.6l1.1-1.6l1.6-1.4l.2-.2l1.4-1.3l.3-.3l1.3-1.6l0-.1l.8-1.5l.4-1.6l0-1.6l-.6-1.6l-.6-1l-.6-.6l-1-1l-.8-.6l-.8-1.1l-.4-.5l-.4-1.6l-.2-1.6l-.5-1.6l-.1-.1l-1.6-.7l-1.6,0l-1.6-.2l-1.2-.6l-.4-.2l-1.6-1.1l-1-.3l-.6-.2l-.5,.2l-1.1,.2l-1.6,.9l-.6,.5l-1,.8l-.7,.8l-.9,1.4l-.1,.2l-1.1,1.6l-.4,.6l-1.2,1l-.4,.3l-1.6,.4l-1.6-.3l-1-.4l-.6-.2l-.5,.2l-.4,1.6l.9,.9l.5,.7l1.1,1.5l0,.1l1,1.6l.6,1.2l.3,.4l1.3,1.1l1.6,.2l1.6-.2l1.6-.1l1.6,0l1.6,.2l1.6,.4l1.6,1.4l.1,.2l.5,1.6l-.3,1.6l-.3,.2l-1.6,.5l-1.6,.8l-.1,.1l-1.2,1.6l-.3,.5l-.6,1.1l-.9,1.6l-.1,.1l-1.6,1.1l-1.6-.1l-1.6-.7l-.8-.4l-.8-.9l-.8-.7l-.8-1.4l-.4-.2l-1.2-.5l-1.6-.1l-1.6-.8l-.3-.2l-1-1.6l-.3-1.6l.1-1.6l-.1-.8l-1.6-.5l-1.2,1.3l-.4,.3l-1.1,1.3l-.5,.4l-1.3,1.2l-.3,.4l-.5,1.2l-.1,1.6l.2,1.6l.2,1.6l.2,.6l.3,1l.9,1.6l.4,.5l.6,1.1l.6,1.6l.4,1.6l-.3,1.6l-.6,1.6l-.4,1.6l-.3,1l-.2,.6l-.3,1.6l-.1,1.6l.3,1.6l.2,1.6l-.1,1.6l-.7,1.6l-.7,.6l-1.6,1l-1.6,1l-.7,.6l-.5,1.6l-.1,1.6l-.3,1.3l-.1,.3l-1.2,1.6l-.3,.3l-1.6,.3l-1.3-.6l-.3-.3l-.5-1.3l.5-1.6l.9-1.6l.7-1.3l.3-.3l1-1.6l.3-1.2l.1-.4l-.1-.6l-.2-1l-1.4-.6l-1.6,0l-1.6,.2l-1.6,.1l-.9,.3l-.7,.3l-1.6,1l-.6,.3l-1,1.3l-.7,.3l-.9,1.5l-.2,.1l-.9,1.6l0,1.6l1.1,1.4l1.6-.1l1.5,.3l.1,0l1.6,1.3l.2,.3l0,1.6l-.2,1l-.6,.6l-.9,1.6l-.1,1.3l-.1,.3l.1,.1l.5,1.5l1.1,1.2l.3,.4l-.3,0l-1.6,0l-1.6,0l-1.6,0l-1.6,0l-1.6,0l-1.6,0l-1.6,0l-1.6,0l-1.6,0l-1.6,0l-1.6,0l-1.6,0l-1.6,0l-1.6,0l-1.6,0l-1.6,0l-1.6,0l-1.6,0l-1.6,0l-1.6,0l-1.6,0l-1.6,0l-1.6,0l-1.6,0l-1.6,0l-1.6,0l-1.6,0l-1.6,0l-1.6,0l-1.6,0l-1.6,0l0-1.6l0-1.6l0-1.6l0-1.6l0-1.6l0-1.6l0-1.6l0-1.6l0-1.6l0-1.6l0-1.6l0-1.6l0-1.6l0-1.6l0-1.6l0-1.6l0-1.6l0-1.6l0-1.6l0-1.6l0-1.6l0-1.6l0-1.6l0-1.6l0-1.6l0-1.6l0-1.6l0-1.6l0-1.6l0-1.6l0-1.6l0-1.6l0-1.6l0-1.6l0-1.6l0-1.6l0-1.6l0-1.6l0-1.6l0-1.6l0-1.6l0-1.6l0-1.6l0-1.6l0-1.6l0-1.6l0-1.6l0-1.6l0-1.6l0-1.6l0-1.6l0-1.6l0-1.2l.3-.4l1.3-1.4l.1-.2l1.2-1.6l.3-.4l.8-1.2l.8-1l.4-.6l1.2-1.6l.9-1.6l.7-1.4l.1-.2l-.1-.9l-.1-.7l-.9-1.6l-.6-.8l-.9-.8l-.7-.5l-1.5-1.1l-.1-.2l-1-1.4l0-1.6l.8-1.6l.2-.1l1.6-1.1l.9-.4l.7-.2l1.6-.6l1.6-.6l.3-.2l1.3-.7l1.6-.9l.1,0l1.5-.9l1.4-.7l.2-.1l1.6-.9l1.1-.6l.5-.4l1.1-1.2l.2-1.6l-.1-1.6l-.2-1.6l.1-1.6l.5-.8l.7-.8l.9-.7l1.6-.7l.3-.2l1.3-.5l.9,.5l.1,1.6l.6,1.2l.1,.4l.2,1.6l-.2,1.6l-.1,.8l-.3,.8l.3,.5l1.6,.8l1.6,.1l1.6-.3l1.6-1.1l1.2-1.6l.4-.7l.6-.9l1-1.4l.3-.2l1.3-1.1l1.6,.2l.5,.9l.9,1.6l.2,.2l1,1.4l.6,.4l1.6,.9l1,.3l.6,.1l1.6,0l.7-.1l.9-.2l1.4-1.4l-.9-1.6l-.5-.5l-1.5-1.1l-.1,0l-1.6-.8l-1.6-.4l-1.6-.4l-1.6-.3l-1.6-.4l-.3-.9l-1.2-1.6l-.1-.2l-.3-1.4l-.1-1.6l.3-1.6l.1-.2l.4-1.4l.4-1.6l.4-1.6zM97.4,28.4l-.2,.1l-1.6,1l-.9,.5l-.7,.5l-1.2,1.1l-.4,.9l-.2,.7l-.1,1.6l.1,1.6l.2,1.5l0,.1l.4,1.6l.3,1.6l.1,1.6l-.8,.8l-1.6,.8l-.9,1.6l-.6,1.6l-.1,.3l-.2,1.3l-.3,1.6l-.1,1.6l.1,1.6l.5,1.1l.5,.5l1.1,.7l1.6,.6l1.6,0l1.6-.8l.4-.5l1.2-1.1l.4-.5l1.2-1.6l.9-1.6l0-1.6l.7-1.4l1.6,1.2l.2,.2l.9,1.6l.3,1.6l.1,1.6l.1,.3l.4,1.3l.8,1.6l.4,1.2l.3,.4l1.3,1.4l1.6-.9l.3-.5l.7-1.6l.6-.9l.4-.7l1.2-1.4l.1-.2l1.1-1.6l.4-.8l.3-.8l.4-1.6l.4-1.6l.2-1.6l.2-1.6l.1-1.6l-.1-1.6l-.2-1.6l-1.3-1.5l-.2-.1l-1.4-.3l-1.6-.2l-1.5-1.1l-.1-.1l-.8-1.5l-.8-1.4l-.1-.2l-1.1-1.6l-.4-.5l-1.1-1.1l-.5-.7l-1.3-.9l-.3-.4l-1.6-.7l-1.6,.4zM138.6,66.8l-.9,1.6l-.2,1.6l.4,1.6l.9,1.2l.6,.4l1,.4l1.6-.1l.9-.3l.7-.5l1-1.1l.4-1.6l-.4-1.6l-1-1.4l-.2-.2l-1.4-.7l-1.6-.1l-1.6,.6z" fill="#79c8bc"/>
<path d="M25.2,25.1l1.6,0l.2,.1l1.4,.8l.8,.8l.8,.9l.8,.7l.8,.5l1.6,.3l1.6-.6l.4-.2l1.2-.9l1.6-.5l1.6,.1l1.2,1.3l.4,.7l.3,.9l.5,1.6l.7,1.6l.1,.1l1.2,1.5l.4,.5l1.6,1.1l1.6,1l1.6,.6l.2,0l1.4,.4l1.6,.2l1.6,.4l1.6,.3l1.4,.3l.2,.1l1.6,.5l1.6,.3l1.6,.2l1.6,0l1.6-.2l1.6-.5l.7-.4l.9-.6l1.3-1l.3-.4l1.4-1.2l.2-.6l.8-1l-.8-.6l-.4-1l-.9-1.6l-.3-.6l-.3-1l-.2-1.6l.5-1.5l.2-.1l1.4-.5l1.1,.5l.5,.1l1.6,.8l1.1,.7l.5,.5l.9,1.1l0,1.6l-.8,1.6l-.1,.1l-1.6,1.4l-.4,.1l.4,1.3l.1,.3l1.5,.4l1.6,.2l1.6-.1l1.6,0l1.6,.2l1.4,.9l.2,.2l.6,1.4l.1,1.6l0,1.6l0,1.6l-.1,1.6l-.2,1.6l-.4,1.3l-.1,.3l-1,1.6l-.5,.6l-1.4,1l-.2,.1l-1.6,1.1l-.3,.4l-.8,1.6l-.3,1.6l-.1,1.6l-.1,.3l-.3,1.3l-1.3,1.4l-.6,.2l-1,.3l-1.6,.2l-1.6-.1l-1.6,0l-1.6,.3l-.9,.9l-.7,1.5l-.1,.1l-.5,1.6l-.7,1.6l-.3,.4l-1.2,1.2l-.4,.3l-1.6,.7l-1.6,.1l-1.6-.2l-1.6-.5l-1.1-.4l-.5-.3l-1.6-1l-.7-.3l-.9-.7l-1.6-.4l-1.5-.5l-.1-.1l-.9-1.5l-.7-1.5l0-.1l-1.2-1.6l-.4-.4l-1.6-.7l-1.6-.3l-1.6-.1l-1.6,.1l-1.6,1l-.2,.4l-.4,1.6l-.3,1.6l-.6,1.6l-.1,.1l-1.6,1.5l-1.6,.9l-1.4,.7l-.2,.1l-.8,1.5l-.4,1.6l-.1,1.6l0,1.6l0,1.6l-.1,1.6l0,1.6l.3,1.6l1.1,1.5l.1,.1l1.5,1.5l.1,.1l1.5,1.2l.7,.4l.9,.6l1.6,.2l.8-.8l.8-.9l.4-.7l1-1.6l.2-.3l1.1-1.3l.5-.8l1.2-.8l.4-.5l1.6-.8l1.4,1.3l.2,.3l.4,1.3l1.2,.6l1.6,.1l1.6-.5l1.6,0l1.6,.8l.5,.6l1.1,1.6l.4,1.6l.2,1.6l-.2,1.6l-.4,1l-.3,.6l-.7,1.6l-.5,1.6l-.1,.6l-.3,1l-.2,1.6l-1.1,1.3l-1.6-.5l-1.6-.5l-1.6-.1l-1.6,.1l-1.6,.1l-1.6,0l-1.6,.5l-1.1,.7l-.5,.4l-1.6,.9l-.6,.3l-1,.4l-1.6,.6l-1.6,.5l-1.6-.1l-1.6-1.3l-.2-.1l-1.3-1.6l-.1-.1l-1.6-1.5l-1.6-.3l-.6,.3l-1,.5l-1.6,1.1l-1.6,1.1l-.7,.5l-.9,.7l-1.3,.9l-.3,.2l-1.6,1.2l-.3,.2l-1.3,1l-.8,.6l-.8,.6l-1.3,1l-.3,.2l-1.6,1.2l-.3,.2l-1.3,1l-.8,.6l-.8,.6l-1.3,1l-.3,.2l-1.6,1.2l-.3,.2l-1.3,.9l-.9,.7l-.7,.5l-1.6,1.1l-1.6,1.1l0-1.1l0-1.6l0-1.6l0-1.6l0-1.6l0-1.6l0-1.6l0-1.6l0-1.6l0-1.6l0-1.6l0-1.6l0-1.6l0-1.6l0-1.6l0-1.6l0-1.6l0-1.6l0-1.6l0-1.6l0-1.6l0-1.6l0-1.6l0-1.6l0-1.6l0-1.6l0-1.6l0-1.6l0-1.6l0-1.6l0-1.6l0-1.6l0-1.6l0-1.6l0-1.6l0-1.6l0-1.6l0-1.6l0-1.6l0-1.6l0-.6l1.6-1l1.3-1.6l.3-.3l1-1.3l.6-.7l.7-.9l.9-1.2l.3-.4l1.3-1.6l1-1.6l.6-.8l.6-.8l1-1.4l.1-.2l1.1-1.6l.4-.9l.4-.7l.5-1.6l.4-1.6l.3-.8l.3-.8l.7-1.6l.6-1.1l.4-.5l1.2-1.2l.7-.4l.9-.4l1.6-.6l1.6-.5l.2-.1l1.4-.6l1.6-.6l1.3-.4zM50.6,41.2l-1.4,.3l-1.6,.8l-.8,.5l-.8,.4l-1.6,.6l-1.4,.6l-.2,.1l-1.6,1.3l-1.6,0l-1.6-.8l-1.3-.6l-.3-.2l-1.6,0l-.2,.2l-1.3,1.6l-.1,.6l-.1,1l.1,.8l.2,.8l1.4,1.4l.3,.2l1.3,.6l1.6,.9l.3,.1l1.3,.8l1.6,.5l1.6,.1l1.6,.2l1.5,0l.1,0l1.6,0l1.6-.1l1.6-.1l1.6,0l1.6-.1l1.6-.3l1.6-.8l.3-.2l.4-1.6l-.3-1.6l-.4-.8l-.2-.8l-.6-1.6l-.7-1.6l-.1-.2l-.8-1.4l-.8-1.1l-1.3-.5l-.3-.2l-1.6,.1zM122.8,49l.3,.2l-.2,1.6l-.1,.2l-1.6,1.2l-.5-1.4l.5-.8l1.2-.8zM110,74.3l1.6,.2l.3,.3l1.1,1.6l.2,.7l.2,.9l.5,1.6l.9,.4l1.6,0l1.2-.4l.4-.1l1.6-.8l1.5-.7l.1-.1l1.6,0l.3,.1l1.3,.4l1.6,.6l1.6,.5l.7,.1l.9,.2l1.6,.3l1.6,.4l1.6,.3l1.6-.2l1.6-.7l.3-.3l1.3-.8l1.5-.8l.1,0l1.6-.4l1.6-.3l1.5,.7l.1,.1l.4,1.5l.3,1.6l.2,1.6l.1,1.6l.1,1.6l.1,1.6l.2,1.6l.1,1.6l.1,1.6l0,1.6l-.2,1.6l-.3,1.6l.1,1.6l.4,.4l.2,1.2l.8,1.6l.6,1.5l0,.1l.6,1.6l.4,1.6l.4,1.6l.2,1.4l0,.2l0,1.6l0,1.6l0,1.6l0,1.6l0,1.5l0,.1l-.3,1.6l-.4,1.6l-.5,1.6l-.4,1l-.2,.6l-.8,1.6l-.6,1.2l-.3,.4l-1,1.6l-.3,.5l-.9,1.1l-.7,.9l-.7,.7l-.9,.9l-.7,.7l-.9,.7l-1.1,.9l-.5,0l-1.6,0l-1.6,0l-1.6,0l-1.6,0l-1.6,0l-1.6,0l-1.6,0l-1.6,0l-1.6,0l-1.6,0l-1.6,0l-1.6,0l-1.6,0l-1.6,0l-1.6,0l-1.6,0l-1.6,0l-1.6,0l-1.6,0l-1.6,0l-1.6,0l-1.1,0l-.5-.2l-1.6-.3l-1.6,.2l-1.6,.2l-1.1,.1l-.5,0l-1.6,0l-1.6,0l-1.6,0l-.4,0l-1.2-1.4l-.1-.2l-.7-1.6l-.6-1.6l-.2-.5l-.5-1.1l-.6-1.6l-.5-1l-.3-.6l-1.2-1.6l-.1,0l-1.6-.7l-1.6-.3l-1.1-.6l-.5-.5l-.5-1.1l-.3-1.6l-.1-1.6l-.2-1.6l-.2-1.6l-.2-1.6l-.1-.8l-.1-.8l-.1-1.6l0-1.6l0-1.6l0-1.6l.2-1.5l0-.1l.8-1.6l.8-.8l.8-.8l.8-.3l1.6-.6l1.6-.5l1.1-.2l.5,0l.8,0l.8,.1l1.6,1l.4,.5l.8,1.6l.4,.9l.3,.7l.8,1.6l.5,.7l.9,.9l.7,.7l1.5,.9l.1,.1l1.6,.5l.7-.6l.9-1.5l0-.1l.4-1.6l.2-1.6l-.1-1.6l-.3-1.6l-.2-1.1l-.1-.5l-.4-1.6l-.3-1.6l.6-1.6l.2-.1l1.6-.9l1.6-.4l.7-.2l.9-.3l1.6-.7l.7-.6l.9-.9l.5-.7l.8-1.6l.3-.9l.2-.7l.1-1.6l-.3-1.4l-.1-.2l-1.3-1.6l-.2-.3l-.4-1.3l-.2-1.6l.2-1.6l.4-1l.6-.6zM131.9,89.2l-1.1,1.3l0,.3l0,.1l1.6,.4l.6-.5l-.3-1.6l-.3-.2z" fill="#3b9b93"/>
<path d="M22,29.9l1.6-.4l1.6,.1l.8,.4l.8,.6l1.1,1l.5,.6l.8,1l.4,1.6l-.5,1.6l-.7,1.1l-.3,.5l-1.1,1.6l-.2,.3l-.5,1.3l-.1,1.6l.3,1.6l.3,1l.2,.6l.2,1.6l0,1.6l-.2,1.6l-.2,.9l-.2,.7l-.7,1.6l-.7,1.2l-.3,.4l-1.2,1.6l-.1,.1l-1.1,1.5l-.5,.5l-.9,1.1l-.7,.8l-1.1,.8l-.5,.4l-1.6,.6l-1.6,.6l-1.6,.7l-1.6,.6l-.7,.3l-.9,.5l-1.6,.5l-1.6,0l-1.5-1l-.1,0l-1.6-1l-.7-.6l-.9-.8l-.8-.8l-.8-.9l-.7-.7l-.8-1.6l-.1-.5l-.2-1.1l.2-.2l.8-1.4l.8-1l.5-.6l1.1-1.4l.2-.2l1.3-1.6l.1-.2l1.2-1.4l.4-.5l.9-1.1l.7-1l.4-.6l1.1-1.6l.1-.2l1.2-1.4l.4-.5l1.1-1.1l.5-.6l.9-1l.7-1l.5-.6l.7-1.6l.4-1l.3-.6l.8-1.6l.5-.6l1.1-1l.5-.4l1.6-.7l1.3-.5zM71.6,51.4l1.6,.9l0,.1l.1,1.6l-.1,.4l-1.6,.1l-.4-.5l-.6-1.6zM116.4,83.9l1.6,0l1.6,.3l.7,.2l.9,.2l1.6,.4l1.6,.8l.2,.2l.9,1.6l.4,1.6l.1,.8l.1,.8l.5,1.6l.7,1.6l.3,.5l1,1.1l.6,.8l.9,.8l.7,1.6l.7,1.6l.9,1.4l.1,.2l1.2,1.6l.3,.7l.2,.9l-.2,.7l-.2,.9l-.7,1.6l-.7,1.4l-.1,.2l-.9,1.6l-.6,.7l-.7,.9l-.9,1.1l-.5,.5l-1.1,1l-.6,.6l-1,.8l-1.2,.8l-.4,.3l-1.6,.8l-1.2,.5l-.4,.2l-1.6,.5l-1.6,.3l-1.6-.1l-1.2-.9l-.4-.6l-.6-1l-.8-1.6l-.2-.4l-.6-1.2l-.8-1.6l-.2-.4l-.6-1.2l-.7-1.6l-.3-1.2l-.1-.4l.1-.7l.2-.9l.2-1.6l.2-1.6l.1-1.6l-.1-1.6l-.3-1.6l-.3-1.3l-.1-.3l-.2-1.6l.3-.9l.1-.7l.6-1.6l.8-1.6l.1-.2l.7-1.4l.6-1.6l.3-.7l.5-.9l1.1-1.6l.1,0z" fill="#0c7169"/>
<path d="M14,42.7l1.6-.8l1.6-.3l1.6,.5l.6,.7l.9,1.6l.1,1.3l0,.3l0,.1l-.4,1.5l-1.1,1.6l-.1,.2l-1.1,1.4l-.3,1.6l.4,1.6l.5,1.6l.1,1.6l-1.2,1.3l-1.6-.3l-1.6-.2l-1.6,.4l-.6,.4l-1,.7l-1.1,.9l-.5,.4l-1.6,.9l-1.6-.1l-1.6-1l-.3-.2l-1.3-1.4l-.1-.2l-.2-1.6l.3-.6l.7-1l.9-1.2l.4-.4l1.2-1.5l.1-.1l1.4-1.6l.1-.1l1.4-1.5l.2-.3l.8-1.3l.6-1.6l.2-.3l1.1-1.3l.5-.5l1.5-1.1zM119.6,91.3l1.6,.5l.4,.6l1,1.6l.2,.7l.2,.9l-.2,1.6l-1.6,1l-1.6-.6l-.3-.4l-1-1.6l-.3-.9l-.2-.7l.2-1.6z" fill="#004c42"/>
<g fill="#000"><circle cx="43" cy="20.2" r="1.55"/><circle cx="47.4" cy="28.9" r="1.55"/><circle cx="56" cy="28.9" r="1.55"/><circle cx="25.8" cy="37.5" r="1.55"/><circle cx="34.4" cy="37.5" r="1.55"/><circle cx="43" cy="37.5" r="1.55"/><circle cx="51.7" cy="37.5" r="1.55"/><circle cx="60.3" cy="37.5" r="1.55"/><circle cx="69" cy="37.5" r="1.55"/><circle cx="77.6" cy="37.5" r="1.55"/><circle cx="21.4" cy="46.2" r="1.55"/><circle cx="30.1" cy="46.2" r="1.55"/><circle cx="38.7" cy="46.2" r="1.55"/><circle cx="47.4" cy="46.2" r="1.55"/><circle cx="56" cy="46.2" r="1.55"/><circle cx="64.6" cy="46.2" r="1.55"/><circle cx="73.3" cy="46.2" r="1.55"/><circle cx="81.9" cy="46.2" r="1.55"/><circle cx="34.4" cy="54.8" r="1.55"/><circle cx="43" cy="54.8" r="1.55"/><circle cx="51.7" cy="54.8" r="1.55"/><circle cx="60.3" cy="54.8" r="1.55"/><circle cx="69" cy="54.8" r="1.55"/><circle cx="77.6" cy="54.8" r="1.55"/><circle cx="86.2" cy="54.8" r="1.55"/><circle cx="30.1" cy="63.5" r="1.55"/><circle cx="38.7" cy="63.5" r="1.55"/><circle cx="47.4" cy="63.5" r="1.55"/><circle cx="56" cy="63.5" r="1.55"/><circle cx="64.6" cy="63.5" r="1.55"/><circle cx="73.3" cy="63.5" r="1.55"/><circle cx="81.9" cy="63.5" r="1.55"/><circle cx="90.6" cy="63.5" r="1.55"/><circle cx="107.8" cy="63.5" r="1.55"/><circle cx="116.5" cy="63.5" r="1.55"/><circle cx="34.4" cy="72.1" r="1.55"/><circle cx="43" cy="72.1" r="1.55"/><circle cx="51.7" cy="72.1" r="1.55"/><circle cx="60.3" cy="72.1" r="1.55"/><circle cx="69" cy="72.1" r="1.55"/><circle cx="77.6" cy="72.1" r="1.55"/><circle cx="86.2" cy="72.1" r="0.9"/><circle cx="94.9" cy="72.1" r="0.9"/><circle cx="103.5" cy="72.1" r="1.55"/><circle cx="112.2" cy="72.1" r="1.55"/><circle cx="38.7" cy="80.7" r="1.55"/><circle cx="47.4" cy="80.7" r="1.55"/><circle cx="56" cy="80.7" r="1.55"/><circle cx="64.6" cy="80.7" r="1.55"/><circle cx="73.3" cy="80.7" r="1.55"/><circle cx="81.9" cy="80.7" r="1.55"/><circle cx="90.6" cy="80.7" r="1.55"/><circle cx="99.2" cy="80.7" r="1.55"/><circle cx="107.8" cy="80.7" r="1.55"/><circle cx="43" cy="89.4" r="1.55"/><circle cx="51.7" cy="89.4" r="1.55"/><circle cx="60.3" cy="89.4" r="1.55"/><circle cx="69" cy="89.4" r="1.55"/><circle cx="77.6" cy="89.4" r="1.55"/><circle cx="86.2" cy="89.4" r="1.55"/><circle cx="94.9" cy="89.4" r="1.55"/><circle cx="103.5" cy="89.4" r="1.55"/><circle cx="112.2" cy="89.4" r="1.55"/><circle cx="47.4" cy="98" r="1.55"/><circle cx="56" cy="98" r="1.55"/><circle cx="64.6" cy="98" r="1.55"/><circle cx="73.3" cy="98" r="1.55"/><circle cx="81.9" cy="98" r="1.55"/><circle cx="90.6" cy="98" r="1.55"/><circle cx="99.2" cy="98" r="1.55"/><circle cx="107.8" cy="98" r="1.55"/><circle cx="116.5" cy="98" r="1.55"/><circle cx="51.7" cy="106.7" r="1.55"/><circle cx="60.3" cy="106.7" r="1.55"/><circle cx="69" cy="106.7" r="1.55"/><circle cx="77.6" cy="106.7" r="1.55"/><circle cx="86.2" cy="106.7" r="1.55"/><circle cx="94.9" cy="106.7" r="1.55"/><circle cx="56" cy="115.3" r="1.55"/><circle cx="64.6" cy="115.3" r="1.55"/><circle cx="73.3" cy="115.3" r="1.55"/><circle cx="81.9" cy="115.3" r="1.55"/><circle cx="90.6" cy="115.3" r="1.55"/><circle cx="51.7" cy="123.9" r="1.55"/><circle cx="60.3" cy="123.9" r="1.55"/></g>
</g>
<use href="#ov"/><use href="#fr"/>
<text x="1.5" y="-7.8" font-size="10.6">(b)</text>
</g>
<g transform="translate(450.0,35.0)">
<g clip-path="url(#land)">
<rect x="-2" y="-2" width="151.7" height="136.8" fill="#f1dfb3"/>
<path d="M-.4-2l1.6,0l1.6,0l1.6,0l1.6,0l1.6,0l1.6,0l1.6,0l1.6,0l1.6,0l1.6,0l1.6,0l1.6,0l1.6,0l1.6,0l1.6,0l1.6,0l1.6,0l1.6,0l1.6,0l1.6,0l1.6,0l1.6,0l1.6,0l1.6,0l1.6,0l1.6,0l1.6,0l1.6,0l1.6,0l1.6,0l1.6,0l1.6,0l1.6,0l1.6,0l1.6,0l1.6,0l1.6,0l1.6,0l1.6,0l1.6,0l1.6,0l1.6,0l1.6,0l1.6,0l1.6,0l1.6,0l1.6,0l1.6,0l1.6,0l1.6,0l1.6,0l1.6,0l1.6,0l1.6,0l1.6,0l1.6,0l1.6,0l1.6,0l1.6,0l1.6,0l1.6,0l1.6,0l1.6,0l1.6,0l1.6,0l1.6,0l1.6,0l1.6,0l1.6,0l1.6,0l1.6,0l1.6,0l1.6,0l1.6,0l1.6,0l1.6,0l1.6,0l1.6,0l1.6,0l1.6,0l1.6,0l1.6,0l1.6,0l1.6,0l1.6,0l1.6,0l1.6,0l1.6,0l1.6,0l1.6,0l1.6,0l1.6,0l1.6,0l1.6,0l0,1.6l0,1.6l0,1.6l0,1.6l0,1.6l0,1.6l0,1.6l0,1.6l0,1.6l0,1.6l0,1.6l0,1.6l0,1.6l0,1.6l0,1.6l0,1.6l0,1.6l0,1.6l0,1.6l0,1.6l0,1.6l0,1.6l0,1.6l0,1.6l0,1.6l0,1.6l0,1.6l0,1.6l0,1.6l0,1.6l0,1.6l0,1.6l0,1.6l0,1.6l0,1.6l0,1.6l0,1.6l0,1.6l0,1.6l0,1.6l0,1.6l0,1.6l0,1.6l0,1.6l0,1.6l0,1.6l0,1.6l0,1.6l0,1.6l0,1.6l0,1.6l0,1.6l0,1.6l0,1.6l0,1.6l0,1.6l0,1.6l0,1.6l0,1.6l0,1.6l0,1.6l0,1.6l0,1.6l0,1.6l0,1.6l0,1.6l0,1.6l0,1.6l0,1.6l0,1.6l0,1.6l0,1.6l0,1.6l0,1.6l0,1.6l0,1.6l0,1.6l0,1.6l0,1.6l0,1.6l0,1.6l0,1.6l0,1.6l0,1.6l0,1.6l0,1.6l-1.6,0l-1.6,0l-1.6,0l-1.6,0l-1.6,0l-1.6,0l-1.6,0l-1.6,0l-1.6,0l-1.6,0l-1.6,0l-1.6,0l-1.6,0l-1.6,0l-1.6,0l-1.6,0l-1.6,0l-1.6,0l-1.6,0l-1.6,0l-1.6,0l-1.6,0l-1.6,0l-1.6,0l-1.6,0l-1.6,0l-1.6,0l-1.6,0l-1.6,0l-1.6,0l-1.6,0l-1.6,0l-1.6,0l-1.6,0l-1.6,0l-1.6,0l-1.6,0l-1.6,0l-1.6,0l-1.6,0l-1.6,0l-1.6,0l-1.6,0l-1.6,0l-1.6,0l-1.6,0l-1.6,0l-1.6,0l-1.6,0l-1.6,0l-1.6,0l-1.6,0l-1.6,0l-1.6,0l-1.6,0l-1.6,0l-1.6,0l-1.6,0l-1.6,0l-1.6,0l-1.6,0l-1.6,0l-1.6,0l-1.6,0l-1.6,0l-1.6,0l-1.6,0l-1.6,0l-1.6,0l-1.6,0l-1.6,0l-1.6,0l-1.6,0l-1.6,0l-1.6,0l-1.6,0l-1.6,0l-1.6,0l-1.6,0l-1.6,0l-1.6,0l-1.6,0l-1.6,0l-1.6,0l-1.6,0l-1.6,0l-1.6,0l-1.6,0l-1.6,0l-1.6,0l-1.6,0l-1.6,0l-1.6,0l-1.6,0l-1.6,0l0-1.6l0-1.6l0-1.6l0-1.6l0-1.6l0-1.6l0-1.6l0-1.6l0-1.6l0-1.6l0-1.6l0-1.6l0-1.6l0-1.6l0-1.6l0-1.6l0-1.6l0-1.6l0-1.6l0-1.6l0-1.6l0-1.6l0-1.6l0-1.6l0-1.6l0-1.6l0-1.6l0-1.6l0-1.6l0-1.6l0-1.6l0-1.6l0-1.6l0-1.6l0-1.6l0-1.6l0-1.6l0-1.6l0-1.6l0-1.6l0-1.6l0-1.6l0-1.6l0-1.6l0-1.6l0-1.6l0-1.6l0-1.6l0-1.6l0-1.6l0-1.6l0-1.6l0-1.6l0-1.6l0-1.6l0-1.6l0-1.6l0-1.6l0-1.6l0-1.6l0-1.6l0-1.6l0-1.6l0-1.6l0-1.6l0-1.6l0-1.6l0-1.6l0-1.6l0-1.6l0-1.6l0-1.6l0-1.6l0-1.6l0-1.6l0-1.6l0-1.6l0-1.6l0-1.6l0-1.6l0-1.6l0-1.6l0-1.6l0-1.6l0-1.6l0-1.6zM13.9,54l-1.5,.3l-1.6,.4l-1.6,.5l-1.4,.4l-.2,0l-1.6,.5l-1.6,.5l-1.6,.5l-.1,.1l-1.5,1.4l-.1,.2l-.1,1.6l0,1.6l.2,1.6l.7,1.6l.6,1.6l.3,.8l.5,.8l.9,1.6l.2,.2l1.2,1.4l.4,.5l1.1,1.1l.5,.4l1.4,1.2l.2,.1l1.6,.8l1.3,.7l.3,.1l1.6,.1l.4-.2l1.2-1.1l.3-.5l1.2-1.6l.1-.1l.8-1.5l.8-1.1l.3-.5l.9-1.6l.4-.8l.3-.8l.5-1.6l.1-1.6l-.3-1.6l-.3-1.6l-.2-1.6l-.1-.3l-.4-1.3l-.6-1.6l-.6-.8l-1.6-.7l-.6-.1l-1-.1l-1.6,.1z" fill="#f5f0e0"/>
<path d="M-.4-2l1.6,0l1.6,0l1.6,0l1.6,0l1.6,0l1.6,0l1.6,0l1.6,0l1.6,0l1.6,0l1.6,0l1.6,0l1.6,0l1.6,0l1.6,0l1.6,0l1.6,0l1.6,0l1.6,0l1.6,0l1.6,0l1.6,0l1.6,0l1.6,0l1.6,0l1.6,0l1.6,0l1.6,0l1.6,0l1.6,0l1.6,0l1.6,0l1.6,0l1.6,0l1.6,0l1.6,0l1.6,0l1.6,0l1.6,0l1.6,0l1.6,0l1.6,0l1.6,0l1.6,0l1.6,0l1.6,0l1.6,0l1.6,0l1.6,0l1.6,0l1.6,0l1.6,0l1.6,0l1.6,0l1.6,0l1.6,0l1.6,0l1.6,0l1.6,0l1.6,0l1.6,0l1.6,0l1.6,0l1.6,0l1.6,0l1.6,0l1.6,0l1.6,0l1.6,0l1.6,0l1.6,0l1.6,0l1.6,0l1.6,0l1.6,0l1.6,0l1.6,0l1.6,0l1.6,0l1.6,0l1.6,0l1.6,0l1.6,0l1.6,0l1.6,0l1.6,0l1.6,0l1.6,0l1.6,0l1.6,0l1.6,0l1.6,0l1.6,0l1.6,0l0,1.6l0,1.6l0,1.6l0,1.6l0,1.6l0,1.6l0,1.6l0,1.6l0,1.6l0,1.6l0,1.6l0,1.6l0,1.6l0,1.6l0,1.6l0,1.6l0,1.6l0,1.6l0,1.6l0,1.6l0,1.6l0,1.6l0,1.6l0,1.6l0,1.6l0,1.6l0,1.6l0,1.6l0,1.6l0,1.6l0,1.6l0,1.6l0,1.6l0,1.6l0,1.6l0,1.6l0,1.6l0,1.6l0,1.6l0,1.6l0,1.6l0,1.6l0,1.6l0,1.6l0,1.6l0,1.6l0,1.6l0,1.6l0,1.6l0,1.6l0,1.6l0,1.6l0,1.6l0,1.6l0,1.6l0,1.6l0,1.6l0,1.6l0,1.6l0,1.6l0,1.6l0,1.6l0,1.6l0,1.6l0,1.6l0,1.6l0,1.6l0,1.6l0,1.6l0,1.6l0,1.6l0,1.6l0,1.6l0,1.6l0,1.6l0,1.6l0,1.6l0,1.6l0,1.6l0,1.6l0,1.6l0,1.6l0,1.6l0,1.6l0,1.6l0,1.6l-1.6,0l-1.6,0l-1.6,0l-1.6,0l-1.6,0l-1.6,0l-1.6,0l-1.6,0l-1.6,0l-1.6,0l-1.6,0l-1.6,0l-1.6,0l-1.6,0l-1.6,0l-1.6,0l-1.6,0l-1.6,0l-1.6,0l-1.6,0l-1.6,0l-1.6,0l-1.6,0l-1.6,0l-1.6,0l-1.6,0l-1.6,0l-1.6,0l-1.6,0l-1.6,0l-1.6,0l-1.6,0l-1.6,0l-1.6,0l-1.6,0l-1.6,0l-1.6,0l-1.6,0l-1.6,0l-1.6,0l-1.6,0l-1.6,0l-1.6,0l-1.6,0l-1.6,0l-1.6,0l-1.6,0l-1.6,0l-1.6,0l-1.6,0l-1.6,0l-1.6,0l-1.6,0l-1.6,0l-1.6,0l-1.6,0l-1.6,0l-1.6,0l-1.6,0l-1.6,0l-1.6,0l-1.6,0l-1.6,0l-1.6,0l-1.6,0l-1.6,0l-1.6,0l-1.6,0l-1.6,0l-1.6,0l-1.6,0l-1.6,0l-1.6,0l-1.6,0l-1.6,0l-1.6,0l-1.6,0l-1.6,0l-1.6,0l-1.6,0l-1.6,0l-1.6,0l-1.6,0l-1.6,0l-1.6,0l-1.6,0l-1.6,0l-1.6,0l-1.6,0l-1.6,0l-1.6,0l-1.6,0l-1.6,0l-1.6,0l-1.6,0l0-1.6l0-1.6l0-1.6l0-1.6l0-1.6l0-1.6l0-1.6l0-1.6l0-1.6l0-1.6l0-1.6l0-1.6l0-1.6l0-1.6l0-1.6l0-1.6l0-1.6l0-1.6l0-1.6l0-1.6l0-1.6l0-1.6l0-1.6l0-1.6l0-1.6l0-1.6l0-1.6l0-1.6l0-1.6l0-1.6l0-1.6l0-1.6l0-1.6l0-1.6l0-1.6l0-1.6l0-1.6l0-1.6l0-1.6l0-1.6l0-1.6l0-1.6l0-1.6l0-1.6l0-1.6l0-1.6l0-1.6l0-1.6l0-1.6l0-1.6l0-1.6l0-1.6l0-1.6l0-1.6l0-1.6l0-1.6l0-1.6l0-1.6l0-1.6l0-1.6l0-1.6l0-1.6l0-1.6l0-1.6l0-1.6l0-1.6l0-1.6l0-1.6l0-1.6l0-1.6l0-1.6l0-1.6l0-1.6l0-1.6l0-1.6l0-1.6l0-1.6l0-1.6l0-1.6l0-1.6l0-1.6l0-1.6l0-1.6l0-1.6l0-1.6l0-1.6zM13.2,49.2l-.8,.2l-1.6,.4l-1.6,.6l-1.4,.4l-.2,.1l-1.6,.9l-1.5,.6l-.1,0l-1.6,1l-1.4,.6l-.2,.1l-1.6,1.4l-.1,.1l-.4,1.6l-.1,1.6l.1,1.6l.3,1.6l.2,.6l.2,1l.5,1.6l.6,1.6l.3,.5l.5,1.1l1,1.6l.1,.2l1,1.4l.6,.7l.8,.9l.8,.8l.9,.8l.7,.6l1.6,1l1.6,1l1.4,.6l.2,.1l1.6,.4l1.6-.2l.3-.3l1.3-1.4l.2-.2l1.1-1.6l.3-.4l.8-1.2l.8-1.1l.3-.5l1.1-1.6l.2-.3l.7-1.3l.9-1.5l.1-.1l.7-1.6l.8-1.4l.1-.2l.8-1.6l.7-1.5l0-.1l.3-1.6l-.1-1.6l-.2-1l-.1-.6l-.4-1.6l-.3-1.6l-.5-1.6l-.3-.4l-1.6-1.1l-.2-.1l-1.4-.2l-1.6-.1l-1.6,0l-1.6,0l-1.6,.1l-1.6,.1z" fill="#e2f0ee"/>
<path d="M-.4-2l1.6,0l1.6,0l1.6,0l1.6,0l1.6,0l1.6,0l1.6,0l1.6,0l1.6,0l1.6,0l1.6,0l1.6,0l1.6,0l1.6,0l1.6,0l1.6,0l1.6,0l1.6,0l1.6,0l1.6,0l1.6,0l1.6,0l1.6,0l1.6,0l1.6,0l1.6,0l1.6,0l1.6,0l1.6,0l1.6,0l1.6,0l1.6,0l1.6,0l1.6,0l1.6,0l1.6,0l1.6,0l1.6,0l1.6,0l1.6,0l1.6,0l1.6,0l1.6,0l1.6,0l1.6,0l1.6,0l1.6,0l1.6,0l1.6,0l1.6,0l1.6,0l1.6,0l1.6,0l1.6,0l1.6,0l1.6,0l1.6,0l1.6,0l1.6,0l1.6,0l1.6,0l1.6,0l1.6,0l1.6,0l1.6,0l1.6,0l1.6,0l1.6,0l1.6,0l1.6,0l1.6,0l1.6,0l1.6,0l1.6,0l1.6,0l1.6,0l1.6,0l1.6,0l1.6,0l1.6,0l1.6,0l1.6,0l1.6,0l1.6,0l1.6,0l1.6,0l1.6,0l1.6,0l1.6,0l1.6,0l1.6,0l1.6,0l1.6,0l1.6,0l0,1.6l0,1.6l0,1.6l0,1.6l0,1.6l0,1.6l0,1.6l0,1.6l0,1.6l0,1.6l0,1.6l0,1.6l0,1.6l0,1.6l0,1.6l0,1.6l0,1.6l0,1.6l0,1.6l0,1.6l0,1.6l0,1.6l0,1.6l0,1.6l0,1.6l0,1.6l0,1.6l0,1.6l0,1.6l0,1.6l0,1.6l0,1.6l0,1.6l0,1.6l0,1.6l0,1.6l0,1.6l0,1.6l0,1.6l0,1.6l0,1.6l0,1.6l0,1.6l0,1.6l0,1.6l0,1.6l0,1.6l0,1.6l0,1.6l0,1.6l0,1.6l0,1.6l0,1.6l0,1.6l0,1.6l0,1.6l0,1.6l0,1.6l0,1.6l0,1.6l0,1.6l0,1.6l0,1.6l0,1.6l0,1.6l0,1.6l0,1.6l0,1.6l0,1.6l0,1.6l0,1.6l0,1.6l0,1.6l0,1.6l0,1.6l0,1.6l0,1.6l0,1.6l0,1.6l0,1.6l0,1.6l0,1.6l0,1.6l0,1.6l0,1.6l0,1.6l-1.6,0l-1.6,0l-1.6,0l-1.6,0l-1.6,0l-1.6,0l-1.6,0l-1.6,0l-1.6,0l-1.6,0l-1.6,0l-1.6,0l-1.6,0l-1.6,0l-1.6,0l-1.6,0l-1.6,0l-1.6,0l-1.6,0l-1.6,0l-1.6,0l-1.6,0l-1.6,0l-1.6,0l-1.6,0l-1.6,0l-1.6,0l-1.6,0l-1.6,0l-1.6,0l-1.6,0l-1.6,0l-1.6,0l-1.6,0l-1.6,0l-1.6,0l-1.6,0l-1.6,0l-1.6,0l-1.6,0l-1.6,0l-1.6,0l-1.6,0l-1.6,0l-1.6,0l-1.6,0l-1.6,0l-1.6,0l-1.6,0l-1.6,0l-1.6,0l-1.6,0l-1.6,0l-1.6,0l-1.6,0l-1.6,0l-1.6,0l-1.6,0l-1.6,0l-1.6,0l-1.6,0l-1.6,0l-1.6,0l-1.6,0l-1.6,0l-1.6,0l-1.6,0l-1.6,0l-1.6,0l-1.6,0l-1.6,0l-1.6,0l-1.6,0l-1.6,0l-1.6,0l-1.6,0l-1.6,0l-1.6,0l-1.6,0l-1.6,0l-1.6,0l-1.6,0l-1.6,0l-1.6,0l-1.6,0l-1.6,0l-1.6,0l-1.6,0l-1.6,0l-1.6,0l-1.6,0l-1.6,0l-1.6,0l-1.6,0l-1.6,0l0-1.6l0-1.6l0-1.6l0-1.6l0-1.6l0-1.6l0-1.6l0-1.6l0-1.6l0-1.6l0-1.6l0-1.6l0-1.6l0-1.6l0-1.6l0-1.6l0-1.6l0-1.6l0-1.6l0-1.6l0-1.6l0-1.6l0-1.6l0-1.6l0-1.6l0-1.6l0-1.6l0-1.6l0-1.6l0-1.6l0-1.6l0-1.6l0-1.6l0-1.6l0-1.6l0-1.6l0-1.6l0-1.6l0-1.6l0-1.6l0-1.6l0-1.4l.5,1.4l1,1.6l.1,.1l1.1,1.5l.5,.5l1.2,1.1l.4,.3l1.6,1.2l.2,.1l1.4,.9l1.6,.7l1.6,.9l1.6,.6l.7,.1l.9,.4l1.6,.4l1.6-.1l.6-.7l1-.8l.6-.8l1-1.4l.1-.2l1.2-1.6l.3-.4l.8-1.2l.8-1.1l.3-.5l1-1.6l.3-.4l.7-1.2l.9-1.6l1.2-1.6l.4-.6l.7-1l.9-1.3l.2-.3l.8-1.6l.5-1.6l.1-.5l.1-1.1l-.1-1.5l0-.1l-.5-1.6l-.6-1.6l-.5-1.5l0-.1l-1-1.6l-.6-.6l-1.6-.7l-1.2-.3l-.4-.1l-1.6-.1l-1.6,0l-1.6,0l-1.6,0l-1.6,.1l-1.3,.1l-.3,.1l-1.6,.4l-1.6,.4l-1.6,.5l-.3,.2l-1.3,.6l-1.6,.7l-.5,.3l-1.1,.6l-1.6,.8l-.4,.2l-1.2,.7l-1.6,.8l-.3,.1l-1.3,1.3l0-1.3l0-1.6l0-1.6l0-1.6l0-1.6l0-1.6l0-1.6l0-1.6l0-1.6l0-1.6l0-1.6l0-1.6l0-1.6l0-1.6l0-1.6l0-1.6l0-1.6l0-1.6l0-1.6l0-1.6l0-1.6l0-1.6l0-1.6l0-1.6l0-1.6l0-1.6l0-1.6l0-1.6l0-1.6l0-1.6l0-1.6l0-1.6l0-1.6l0-1.6l0-1.6l0-1.6zM142.6,65.2l-.6,1.6l0,.5l0,1.1l0,.1l1.6,1.5l.1,0l1.5,.2l1.6,.2l.5-.4l.7-1.6l-.4-1.6l-.8-.9l-.7-.7l-.9-.5l-1.6-.2zM136.4,73.2l.6,1.6l.2,.1l1.6,0l.2-.1l0-1.6l-.2-.2l-1.6-.2z" fill="#b4e2db"/>
<path d="M-.4-2l1.6,0l1.6,0l1.6,0l1.6,0l1.6,0l1.6,0l1.6,0l1.6,0l1.6,0l1.6,0l1.6,0l1.6,0l1.6,0l1.6,0l1.6,0l1.6,0l1.6,0l1.6,0l1.6,0l1.6,0l1.6,0l1.6,0l1.6,0l1.6,0l1.6,0l1.6,0l1.6,0l1.6,0l1.6,0l1.6,0l1.6,0l1.6,0l1.6,0l1.6,0l1.6,0l1.6,0l1.6,0l1.6,0l1.6,0l1.6,0l1.6,0l1.6,0l1.6,0l1.6,0l1.6,0l1.6,0l1.6,0l1.6,0l1.6,0l1.6,0l1.6,0l1.6,0l1.6,0l1.6,0l1.6,0l1.6,0l1.6,0l1.6,0l1.6,0l1.6,0l1.6,0l1.6,0l1.6,0l1.6,0l1.6,0l1.6,0l1.6,0l1.6,0l1.6,0l1.6,0l1.6,0l1.6,0l1.6,0l1.6,0l1.6,0l1.6,0l1.6,0l1.6,0l1.6,0l1.6,0l1.6,0l1.6,0l1.6,0l1.6,0l1.6,0l1.6,0l1.6,0l1.6,0l1.6,0l1.6,0l1.6,0l1.6,0l1.6,0l1.6,0l0,1.6l0,1.6l0,1.6l0,1.6l0,1.6l0,1.6l0,1.6l0,1.6l0,1.6l0,1.6l0,1.6l0,1.6l0,1.6l0,1.6l0,1.6l0,1.6l0,1.6l0,1.6l0,1.6l0,1.6l0,1.6l0,1.6l0,1.6l0,1.6l0,1.6l0,1.6l0,1.6l0,1.6l0,1.6l0,1.6l0,1.6l0,1.6l0,.8l-1.2-.8l-.4-.3l-1.6-.8l-1.6-.5l-1.6,.6l-.8,1l-.8,1.1l-.3,.5l-1,1.6l-.3,.5l-.7,1.1l-.9,1.2l-.3,.4l-1.3,1.1l-1.4,.5l-.2,.1l-.3-.1l-1.3-.3l-1.6-1.2l-.1-.1l-1.2-1.6l-.3-.5l-1-1.1l-.5-1.6l-.1-.2l-.4-1.4l-.2-1.6l0-1.6l.3-1.6l.3-1l.2-.6l.3-1.6l-.4-1.6l-.1-.1l-1.6-1l-.8-.5l-.8-.3l-1.6-.4l-1.6-.3l-1.6-.1l-1.6,0l-1.6,.1l-1.6,.2l-1.6,.2l-1.6,.5l-.2,.1l-1.4,.6l-1.6,.7l-.5,.3l-1.1,.8l-1.1,.8l-.5,.8l-.4,.8l.2,1.6l.2,.7l.3,.9l.6,1.6l.5,1.6l.2,.9l.3,.7l.5,1.6l.4,1.6l0,1.6l-.5,1.6l-.6,1.6l-.1,.4l-.1,1.2l-.1,1.6l.1,1.6l.1,.7l.2,.9l1.1,1.6l.3,.2l1.6,.5l1.6,.3l1.6,.1l1.6,.3l1.1,.2l.5,.1l1.6,.3l1.6-.2l.3-.2l1.3-1.6l0-.1l.5-1.5l.3-1.6l.2-1.6l.3-1.6l.3-1.3l.2-.3l1.4-1.3l1.6,1.3l1.1,1.6l.5,.6l.5,1l.8,1.6l.3,.9l.2,.7l.1,1.6l-.3,.7l-.5,.9l-1.1,1.3l-.3,.3l-1.3,1.4l-.2,.2l-.8,1.6l-.1,1.6l.3,1.6l.8,1.5l.1,.1l1.5,1.1l1.4,.5l.2,.1l1.6,.8l1,.7l.5,1.6l-.3,1.6l-.1,1.6l.4,1.6l.1,.2l.8,1.4l.8,1.2l1.6,.3l1.1-1.5l.5-.6l.5-1l.9-1.6l.2-.4l.8-1.2l.8-1.3l.2-.3l1.4-1.5l.2-.1l1.4-.6l1.6,0l1.6,.3l1.5,.3l.1,0l0,1.6l0,1.6l0,1.6l0,1.6l0,1.6l0,1.6l0,1.6l0,1.6l0,1.6l0,1.6l0,1.6l0,1.6l0,1.6l0,1.6l0,1.6l0,1.6l0,1.6l0,1.6l0,1.6l0,1.6l0,1.6l0,1.6l0,1.6l0,1.6l0,1.6l0,1.6l0,1.6l0,1.6l0,1.6l0,1.6l0,1.6l0,1.6l0,1.6l0,1.6l-1.6,0l-1.6,0l-1.6,0l-1.6,0l-1.6,0l-1.6,0l-1.6,0l-1.6,0l-1.6,0l-1.6,0l-1.6,0l-1.6,0l-1.6,0l-1.6,0l-1.6,0l-1.6,0l-1.6,0l-1.6,0l-1.6,0l-1.6,0l-1.6,0l-1.6,0l-1.6,0l-1.6,0l-1.6,0l-1.6,0l-1.6,0l-1.6,0l-1.6,0l-1.6,0l-1.6,0l-1.6,0l-1.6,0l-1.6,0l-1.6,0l-1.6,0l-1.6,0l-1.6,0l-1.6,0l-1.6,0l-1.6,0l-1.6,0l-1.6,0l-1.6,0l-1.6,0l-1.6,0l-1.6,0l-1.6,0l-1.6,0l-1.6,0l-1.6,0l-1.6,0l-1.6,0l-1.6,0l-.5,0l0-1.6l.1-1.6l.1-1.6l-.1-1.6l-.5-1.6l-.6-1.6l-.1-.1l-1.1-1.5l-.5-.6l-.7-1l-.9-1.5l-.1-.1l-1-1.6l-.5-.7l-.8-.9l-.8-.8l-1.1-.8l-.5-.3l-1.6-1.3l-1.1-1.6l-.5-.8l-.4-.8l-1.2-1.6l0-.1l-1.6-1.3l-1.6-.1l-1.6,0l-.4-.1l-1.2-.2l-1.6-.4l-1.6-.2l-1.6-.1l-1.6,0l-1.6,.2l-1.6,.3l-1.3,.4l-.3,.2l-1.3,1.4l-.3,.8l-.5,.8l-.5,1.6l-.2,1.6l-.2,1.6l-.1,1.6l0,1.6l0,1.6l.2,1.6l.3,1.6l.4,1.6l.6,1.1l.2,.5l.6,1.6l.8,1.2l.2,.4l1.1,1.6l.3,.4l1,1.2l.6,.7l1,.9l-1,0l-1.6,0l-1.6,0l-1.6,0l-1.6,0l-1.6,0l-1.6,0l-1.6,0l-1.6,0l-1.6,0l-1.6,0l-1.6,0l-1.6,0l-1.6,0l-1.6,0l-1.6,0l-1.6,0l-1.6,0l-1.6,0l-1.6,0l-1.6,0l-1.6,0l-1.6,0l-1.6,0l0-1.6l0-1.6l0-1.6l0-1.6l0-1.6l0-1.6l0-1.6l0-1.6l0-1.6l0-1.6l0-1.6l0-1.6l0-1.6l0-1.6l0-1.6l0-1.6l0-1.6l0-.5l1.6-.6l1.4-.5l.2-.1l1.6-.6l1.6-.8l.2-.1l1.4-.7l1.5-.9l.1,0l1.6-1l.8-.6l.8-.6l1.3-1l.3-.2l1.6-1.3l.1-.1l1.5-1.4l.2-.2l1.4-1.4l.2-.2l1.4-1.6l1.1-1.6l.5-.7l.2-.9l.4-1.6l.6-1.6l.3-1.6l-1-1.6l-.5-.5l-1-1.1l-.6-.8l-.5-.8l.2-1.6l.3-.5l.8-1.1l.8-1.3l.2-.3l1.2-1.6l.2-.3l.9-1.3l.7-1.2l.3-.4l.9-1.6l.4-.8l.5-.8l1.1-1.5l0-.1l1.4-1.6l.2-.3l1-1.3l.6-.9l.5-.7l.7-1.6l.4-1.3l.1-.3l.3-1.6l-.1-1.6l-.3-1.5l0-.1l-.7-1.6l-.7-1.6l-.2-.3l-.7-1.3l-.9-1.3l-.3-.3l-1.3-.7l-1.6-.3l-1.6-.2l-1.6,0l-1.6-.1l-1.6,0l-1.6,.1l-1.6,.1l-1.6,.2l-1.6,.3l-1.6,.5l-.1,.1l-1.5,.5l-1.6,.7l-.7,.4l-.9,.4l-1.6,.8l-.7,.4l-.9,.5l-1.6,.7l-.6,.4l-1,.5l-1.6,.4l0-.9l0-1.6l0-1.6l0-1.6l0-1.6l0-1.6l0-1.6l0-1.6l0-1.6l0-1.6l0-1.6l0-1.6l0-1.6l0-1.6l0-1.6l0-1.6l0-1.6l0-1.6l0-1.6l0-1.6l0-1.6l0-1.6l0-1.6l0-1.6l0-1.6l0-1.6l0-1.6l0-1.6l0-1.6l0-1.6l0-1.6l0-1.6l0-1.6l0-1.6l0-1.6zM21.5,9.2l-1.1,.5l-1.4,1.1l-.2,.3l-.9,1.3l-.7,1.2l-.3,.4l-1.3,1.1l-.8,.5l-.8,.4l-1.6,1.2l.9,1.6l.7,.8l.6,.8l1,1l.7,.6l.9,.6l1.6,.9l.2,.1l1.4,.4l1.6,.3l1.6,.1l1.6-.1l1.6-.4l.7-.3l.9-.6l1.1-1l.5-1.1l.2-.5l0-1.6l-.2-1.3l-.1-.3l-.6-1.6l-.8-1.6l-.1-.2l-1.1-1.4l-.5-.7l-.9-.9l-.7-1.1l-.5-.5l-1.1-.5l-1.6,.3zM90.2,36.4l-1,.1l-1.6,.7l-.8,.8l-.5,1.6l.2,1.6l1,1.6l.1,.1l1.5,1.5l.1,.1l1.6,1.2l1.2,.3l.4,.1l.2-.1l1.4-.6l1.6-.3l1.6-.3l1.6-.3l.1-.1l1.5-1.1l.3-.5l.2-1.6l-.4-1.6l-.1-.2l-.9-1.4l-.7-1.1l-.5-.5l-1.1-.5l-1.6,0l-1.6,.2l-1.6,.1l-1.6,.1zM75.4,47.6l-.6,.3l-1.6,.7l-1.1,.6l.9,1.6l.2,.1l1.6,1l1.1,.5l.5,.1l1.6,.1l1.6-.1l.4-.1l1.2-.5l1.6-1.1l.1,0l-.1-.2l-.4-1.4l-1.2-1.3l-.4-.3l-1.2-1l-1.6-.2l-1.6,.7zM87.5,113.2l-.1,1.6l.2,.2l1.6,.7l.5-.9l-.2-1.6l-.3-.3l-1.6,.2z" fill="#79c8bc"/>
<path d="M2.8,13.9l.1,.1l1.5,.6l1.5,1l.1,.1l1.6,1.1l.5,.4l1.1,.9l.9,.7l.7,.6l1.1,1l.5,.5l1.1,1.1l.5,.5l1.5,1.1l.1,0l1.6,1.1l.8,.5l.8,.5l1.6,.8l1.1,.3l.5,.2l1.6,.3l1.6,.1l1.6-.2l1.6-.3l.2-.1l1.4-.4l1.6-.8l.6-.4l1-.9l.5-.7l.8-1.6l.3-1.1l.2-.5l.6-1.6l.8-1.2l1.6,.1l1.6,.6l1.6,.5l.5,0l1.1,.1l1-.1l.6-.1l1.6-.1l1.6,.1l.2,.1l1.3,1.6l.1,.6l.1,1l-.1,.3l-.5,1.3l-1.1,1.6l-1.1,1.6l-.5,.8l-.4,.8l-.9,1.6l-.3,.4l-1.4,1.2l-.2,.1l-1.6,.6l-1.6,.2l-1.6,.4l-.6,.3l-1,1l-.3,.6l.3,1.6l1.6,.9l1.6,.7l.1,0l1.5,.8l1.5,.8l.1,0l1.5,1.6l.1,.2l.7,1.4l.5,1.6l.2,1.6l0,1.6l-.2,1.6l0,1.6l.4,1.5l0,.1l1.1,1.6l.5,.6l1,1l.6,.6l1.3,1l.3,.3l1.4,1.3l.2,.3l.9,1.3l.7,1.6l1.2,1.6l.4,.6l.7,1l.8,1.6l.1,.6l.2,1l-.2,1l-.1,.6l-.5,1.6l-.7,1.6l-.3,.9l-.2,.7l-.2,1.6l.4,1l.4,.6l1.2,1.1l1.6,.4l1.6-.6l1.5-.9l.1,0l1.6-.9l1.6-.6l.5-.1l1.1-.2l1.6,.1l.4,.1l1.2,.2l1.6,0l.9-.2l.7-.2l1.6-.6l1.3-.8l.3-.7l.3-.9l-.3-.5l-.8-1.1l-.8-.4l-1.6-1.1l-.1-.1l-1.5-.9l-1.3-.7l-.3-.2l-1.6-1.2l-.2-.2l-.7-1.6l-.2-1.6l-.1-1.6l0-1.6l.1-1.6l1-1.6l.1-.1l1.6-.5l1.6-.3l1.6,0l1.6,.1l1.6,0l1.6-.3l1.6-.4l.3-.1l1.3-.2l1.6-.4l1.6-.4l1.6-.5l.2-.1l1.4-.5l1.6-.4l1.6-.3l1.6-.4l.1,0l1.5-.5l1.6-.7l.7-.4l.9-.6l1.3-1l.3-.3l1.6-.4l.7,.7l.6,1.6l.3,1l.1,.6l0,1.6l-.1,.7l-.3,.9l-.7,1.6l-.6,1.2l-1.6,.3l-.5,.1l-1.1,.2l-.9,1.4l-.7,.8l-.4,.8l-.6,1.6l-.3,1.6l0,1.6l.8,1.6l.5,.3l1.6,.8l1.4,.5l.2,.1l1.6,.3l1.6,.2l1.6,.1l1.6,.1l1.6,.2l1.6,.2l1.6,.3l1.6,.1l1.6-.1l1.6-.1l1.6,.1l.2,.1l1.4,1.6l0,.1l.3,1.5l.1,1.6l0,1.6l0,1.6l.1,1.6l.7,1.6l.4,.4l1.6,1.1l.2,.1l1.4,1.1l.4,.5l1,1.6l.2,.4l.5,1.2l.6,1.6l.5,1l.3,.6l.9,1.6l.4,.8l.5,.8l1,1.6l.1,.1l1.6,.6l1.6,.7l.5,.2l1.1,.7l.9,.9l.7,.7l.6,.9l.6,1.6l-.2,1.6l-.9,1.6l-.1,.2l-.7,1.4l-.9,1.3l-.2,.3l-1.1,1.6l-.3,.6l-.5,1l-.8,1.6l-.3,.8l-.3,.8l-.6,1.6l-.7,1.6l-.9,1.6l-.7,1l-.5,.6l-1.1,1.2l-.4,.4l-1.2,1l-.9,.6l-.7,.5l-1.6,.8l-.8,.3l-.8,.3l-1.6,.4l-1.6,.2l-1.6,0l-1.6-.1l-1.6-.3l-1.6-.4l-.2-.1l-1.4-.7l-1.6-.8l-.6-.1l-1-1.3l-.8-.3l-.3-1.6l.5-1.6l.6-.4l.4-1.2l.7-1.6l.4-1.6l.1-.5l.1-1.1l.1-1.6l0-1.6l-.2-1.3l0-.3l-.7-1.6l-.9-1.1l-.4-.5l-1.2-1.5l-.1-.1l-1.2-1.6l-.3-.5l-1.1-1.1l-.5-.5l-1.6-.6l-1.6,.4l-1.4,.7l-.2,.1l-1.6,.5l-1-.6l-.6-.4l-.5-1.2l-.4-1.6l0-1.6l.4-1.6l.5-1.1l.2-.5l.1-1.6l-.3-1.3l-.1-.3l-1-1.6l-.5-.5l-1.3-1.1l-.3-.2l-1.6-.9l-1.6-.2l-1.6,1l-.5,.3l-1.1,.8l-1.3,.8l-.3,.2l-1.6,1l-.6,.4l-1,1l-.4,.6l-1,1.6l-.2,.3l-.8,1.3l-.7,1.6l-.1,.4l-.4,1.2l.1,1.6l.3,.9l.2,.7l-.1,1.6l-.1,.4l-.7,1.2l-.9,1.2l-.8,.4l-.8,.3l-1.6-.3l-1.3-1.6l0-1.6l.4-1.6l.3-1.6l.1-1.6l.5-1.6l.8-1.6l.6-1.6l.2-.9l.2-.7l.5-1.6l-.2-1.6l-.5-.3l-1.6-.7l-1.6-.6l-1.6-.3l-1.6-.1l-1.6,0l-1.6,0l-1.6,0l-1.6-.1l-1.6,.5l-1.6,.7l-1.6,.7l-.5,.2l-1.1,.6l-1.6,.7l-1.6,0l-1.6-.7l-1.1-.6l-.5-.3l-1.6-.5l-1.6,0l-1.6,.2l-1.6,.1l-1.6,0l-1.6-.1l-1.6-.2l-1.6-.6l-.3-.2l-1.3-.4l-1.6-.8l-1.1-.4l-.5-.1l-1.6,0l-1.6-1.3l-.1-.2l-1.2-1.6l-.3-.8l-.4-.8l.2-1.6l.2-.5l.3-1.1l.6-1.6l.5-1.6l.2-.7l.3-.9l.6-1.6l.6-1.6l.1-.2l1.3-1.4l.3-.4l1.2-1.2l.4-.5l1-1.1l.6-.8l.6-.8l.7-1.6l.3-1.2l.1-.4l.4-1.6l.2-1.6l.1-1.6l-.3-1.6l-.5-1l-.2-.6l-.8-1.6l-.6-.9l-.3-.7l-.9-1.6l-.4-.5l-1.2-1.1l-.4-.2l-1.6-.5l-1.6-.2l-1.6,0l-1.6-.1l-1.6,0l-1.6,.1l-1.6,0l-1.6,.2l-1.6,.2l-1.4,.5l-.2,.1l-1.6,.3l-1.6,.3l-1.6,.8l-.1,.1l-1.5,.5l-1.6,1l-.2,.1l-1.4,.5l-1.6,1.1l-.1,0l-1.5,.4l-1.6,.1l0-.5l0-1.6l0-1.6l0-1.6l0-1.6l0-1.6l0-1.6l0-1.6l0-1.6l0-1.6l0-1.6l0-1.6l0-1.6l0-1.6l0-1.6l0-1.6l0-1.6l0-1.6l0-1.6l0-1.6l0-1.6l0-1.6l0-.6l1.1-1l.5-.5l1.6-.9l1.2-.2zM79.5,63.6l.1,.2l1.2,1.4l.4,.2l.8-.2l.5-1.6l-1.3-.4l-1.6,.3zM43.3,76.4l-.5,.5l-.7,1.1l-.5,1.6l.3,1.6l.9,1.6l1.6,1.2l1.6-.2l1.4-1l.2-.1l1.4-1.5l.2-.2l.9-1.4l.1-1.6l-1-.9l-.7-.7l-.9-.4l-1.6-.5l-1.6,.1zM66.8,28.3l1.6-1.4l1.6,.2l1.2,1.3l-.2,1.6l-.7,1.6l-.3,.5l-.8,1.1l-.7,1.6l-.1,.2l-.9,1.4l-.7,1.3l-1.6-.1l-.5-1.2l-.2-1.6l.2-1.6l.5-1.3l.1-.3l.7-1.6l.7-1.6zM98.8,115.1l1.3,1.3l.3,1.2l.3,.4l-.1,1.6l-.2,.3l-.6-.3l-1-.1l-.8-1.5l-.7-1.6z" fill="#3b9b93"/>
<path d="M4.4,27.1l1.6,.6l.3,.7l.9,1.6l-.5,1.6l-.7,.3l-1.6,.8l-1.6-.7l-.3-.4l-.2-1.6l.5-1.3l.2-.3zM14,30l1.6-1.5l1.6,.6l1.4,.9l.2,.1l1.6,1.1l.7,.4l.9,.4l1.6,.6l1.6,.4l.9,.2l.7,.3l1.5,1.3l.1,.3l.5,1.3l.3,1.6l-.4,1.6l-.4,.5l-1.6,1l-.3,.1l-1.3,.1l-1.6,.1l-1.6,.3l-1.6,.6l-1.2,.5l-.4,.1l-1.6,.2l-1.6,.1l-1.6-.1l-.9-.3l-.5-1.6l.2-1.6l.3-1.6l.5-1.6l.4-1.4l.1-.2l.3-1.6l-.3-1.6l-.1-1.4l0-.2zM49.2,66.6l1.6-.3l1.5,.5l.1,.1l.8,1.5l-.2,1.6l-.6,.9l-1.2,.7l-.4,.2l-1.6,0l-.7-.2l-.9-.6l-.8-1l.1-1.6l.7-.8l1.2-.8zM95.6,72.7l1.6-.3l1.6,.3l1.6,.4l.4,.1l1.2,.7l1.6,.6l.7,.3l.9,.5l1.6,.7l.9,.4l.7,.4l1.6,.9l.5,.3l1.1,.9l.9,.7l.7,.8l.5,.8l.5,1.6l.4,1.6l.2,.6l.4,1l1.2,1.5l.1,.1l1.5,1.4l.3,.2l1.3,1.1l.5,.5l1.1,1.2l.3,.4l.9,1.6l.4,1.1l.1,.5l.1,1.6l-.1,1.6l-.1,1.2l0,.4l0,1.6l0,.2l.4,1.4l1.1,1.6l.1,.1l1.3,1.5l.3,.4l.9,1.2l.5,1.6l-.6,1.6l-.8,.9l-.6,.7l-1,.7l-1.1,.9l-.5,.3l-1.6,.7l-1.6,.4l-1.6-1l-.4-.4l-1.1-1.6l-.1-.2l-.8-1.4l-.8-1.3l-.2-.3l-1.1-1.6l-.3-.2l-1.6-.9l-.7-.5l-.9-.6l-1-1l-.6-.6l-.9-1l-.7-1l-.4-.6l-.8-1.6l0-1.6l1.1-1.6l.1-.1l1.6-1.4l.1-.1l.6-1.6l-.2-1.6l-.5-.9l-.7-.7l-.9-.7l-1.6-.7l-.5-.2l-1.1-.5l-.7-1.1l-.5-1.6l-.4-1.1l-.1-.5l-.6-1.6l-.9-1.4l-.5-.2l-1.1-.3l-1.1,.3l-.5,.1l-1.6,.5l-1.6,.2l-1-.8l-.2-1.6l.4-1.6l.4-1.6l.4-1.2l.2-.4l.9-1.6z" fill="#0c7169"/>
<g fill="#000"><circle cx="26.5" cy="11.6" r="1.55"/><circle cx="35.1" cy="11.6" r="1.55"/><circle cx="39.4" cy="20.2" r="1.55"/><circle cx="48.1" cy="20.2" r="1.55"/><circle cx="35.1" cy="28.9" r="1.55"/><circle cx="43.7" cy="28.9" r="1.55"/><circle cx="52.4" cy="28.9" r="1.55"/><circle cx="22.1" cy="37.5" r="1.55"/><circle cx="30.8" cy="37.5" r="1.55"/><circle cx="39.4" cy="37.5" r="1.55"/><circle cx="48.1" cy="37.5" r="1.55"/><circle cx="56.7" cy="37.5" r="1.55"/><circle cx="65.3" cy="37.5" r="1.55"/><circle cx="74" cy="37.5" r="1.55"/><circle cx="82.6" cy="37.5" r="1.55"/><circle cx="26.5" cy="46.2" r="1.55"/><circle cx="35.1" cy="46.2" r="1.55"/><circle cx="43.7" cy="46.2" r="1.55"/><circle cx="52.4" cy="46.2" r="1.55"/><circle cx="61" cy="46.2" r="1.55"/><circle cx="69.7" cy="46.2" r="1.55"/><circle cx="78.3" cy="46.2" r="1.55"/><circle cx="86.9" cy="46.2" r="1.55"/><circle cx="30.8" cy="54.8" r="1.55"/><circle cx="39.4" cy="54.8" r="1.55"/><circle cx="48.1" cy="54.8" r="1.55"/><circle cx="56.7" cy="54.8" r="1.55"/><circle cx="65.3" cy="54.8" r="1.55"/><circle cx="74" cy="54.8" r="1.55"/><circle cx="82.6" cy="54.8" r="1.55"/><circle cx="91.3" cy="54.8" r="1.55"/><circle cx="35.1" cy="63.5" r="1.55"/><circle cx="43.7" cy="63.5" r="1.55"/><circle cx="52.4" cy="63.5" r="1.55"/><circle cx="61" cy="63.5" r="1.55"/><circle cx="69.7" cy="63.5" r="1.55"/><circle cx="78.3" cy="63.5" r="1.55"/><circle cx="86.9" cy="63.5" r="1.55"/><circle cx="95.6" cy="63.5" r="1.55"/><circle cx="104.2" cy="63.5" r="1.55"/><circle cx="112.9" cy="63.5" r="1.55"/><circle cx="39.4" cy="72.1" r="1.55"/><circle cx="48.1" cy="72.1" r="1.55"/><circle cx="56.7" cy="72.1" r="1.55"/><circle cx="65.3" cy="72.1" r="1.55"/><circle cx="74" cy="72.1" r="1.55"/><circle cx="82.6" cy="72.1" r="1.55"/><circle cx="91.3" cy="72.1" r="1.55"/><circle cx="99.9" cy="72.1" r="1.55"/><circle cx="108.5" cy="72.1" r="1.55"/><circle cx="117.2" cy="72.1" r="1.55"/><circle cx="35.1" cy="80.7" r="1.55"/><circle cx="43.7" cy="80.7" r="1.55"/><circle cx="52.4" cy="80.7" r="1.55"/><circle cx="61" cy="80.7" r="1.55"/><circle cx="69.7" cy="80.7" r="1.55"/><circle cx="78.3" cy="80.7" r="1.55"/><circle cx="86.9" cy="80.7" r="1.55"/><circle cx="95.6" cy="80.7" r="1.55"/><circle cx="104.2" cy="80.7" r="1.55"/><circle cx="112.9" cy="80.7" r="1.55"/><circle cx="48.1" cy="89.4" r="1.55"/><circle cx="56.7" cy="89.4" r="1.55"/><circle cx="65.3" cy="89.4" r="1.55"/><circle cx="74" cy="89.4" r="1.55"/><circle cx="82.6" cy="89.4" r="1.55"/><circle cx="91.3" cy="89.4" r="1.55"/><circle cx="52.4" cy="98" r="1.55"/><circle cx="61" cy="98" r="1.55"/><circle cx="69.7" cy="98" r="1.55"/><circle cx="78.3" cy="98" r="1.55"/><circle cx="86.9" cy="98" r="1.55"/><circle cx="95.6" cy="98" r="1.55"/><circle cx="112.9" cy="98" r="1.55"/><circle cx="56.7" cy="106.7" r="1.55"/><circle cx="65.3" cy="106.7" r="1.55"/><circle cx="74" cy="106.7" r="1.55"/><circle cx="82.6" cy="106.7" r="1.55"/><circle cx="91.3" cy="106.7" r="1.55"/><circle cx="99.9" cy="106.7" r="1.55"/><circle cx="52.4" cy="115.3" r="1.55"/><circle cx="61" cy="115.3" r="1.55"/><circle cx="69.7" cy="115.3" r="1.55"/><circle cx="78.3" cy="115.3" r="1.55"/><circle cx="86.9" cy="115.3" r="1.55"/><circle cx="56.7" cy="123.9" r="1.55"/><circle cx="65.3" cy="123.9" r="1.55"/></g>
</g>
<use href="#ov"/><use href="#fr"/>
<text x="1.5" y="-7.8" font-size="10.6">(c)</text>
</g>
<g transform="translate(62.7,207.9)">
<g clip-path="url(#land)">
<rect x="-2" y="-2" width="151.7" height="136.8" fill="#f1dfb3"/>
<path d="M-.4-2l1.6,0l1.6,0l1.6,0l1.6,0l1.6,0l1.6,0l1.6,0l1.6,0l1.6,0l1.6,0l1.6,0l1.6,0l1.6,0l1.6,0l1.6,0l1.6,0l1.6,0l1.6,0l1.6,0l1.6,0l1.6,0l1.6,0l1.6,0l1.6,0l1.6,0l1.6,0l1.6,0l1.6,0l1.6,0l1.6,0l1.6,0l1.6,0l1.6,0l1.6,0l1.6,0l1.6,0l1.6,0l1.6,0l1.6,0l1.6,0l1.6,0l1.6,0l1.6,0l1.6,0l1.6,0l1.6,0l1.6,0l1.6,0l1.6,0l1.6,0l1.6,0l1.6,0l1.6,0l1.6,0l1.6,0l1.6,0l1.6,0l1.6,0l1.6,0l1.6,0l1.6,0l1.6,0l1.6,0l1.6,0l1.6,0l1.6,0l1.6,0l1.6,0l1.6,0l1.6,0l1.6,0l1.6,0l1.6,0l1.6,0l1.6,0l1.6,0l1.6,0l1.6,0l1.6,0l1.6,0l1.6,0l1.6,0l1.6,0l1.6,0l1.6,0l1.6,0l1.6,0l1.6,0l1.6,0l1.6,0l1.6,0l1.6,0l1.6,0l1.6,0l0,1.6l0,1.6l0,1.6l0,1.6l0,1.6l0,1.6l0,1.6l0,1.6l0,1.6l0,1.6l0,1.6l0,1.6l0,1.6l0,1.6l0,1.6l0,1.6l0,1.6l0,1.6l0,1.6l0,1.6l0,1.6l0,1.6l0,1.6l0,1.6l0,1.6l0,1.6l0,1.6l0,1.6l0,1.6l0,1.6l0,1.6l0,1.6l0,1.6l0,1.6l0,1.6l0,1.6l0,1.6l0,1.6l0,1.6l0,1.6l0,1.6l0,1.6l0,1.6l0,1.6l0,1.6l0,1.6l0,1.6l0,1.6l0,1.6l0,1.6l0,1.6l0,1.6l0,1.6l0,1.6l0,1.6l0,1.6l0,1.6l0,1.6l0,1.6l0,1.6l0,1.6l0,1.6l0,1.6l0,1.6l0,1.6l0,1.6l0,1.6l0,1.6l0,1.6l0,1.6l0,1.6l0,1.6l0,1.6l0,1.6l0,1.6l0,1.6l0,1.6l0,1.6l0,1.6l0,1.6l0,1.6l0,1.6l0,1.6l0,1.6l0,1.6l0,1.6l-1.6,0l-1.6,0l-1.6,0l-1.6,0l-1.6,0l-1.6,0l-1.6,0l-1.6,0l-1.6,0l-1.6,0l-1.6,0l-1.6,0l-1.6,0l-1.6,0l-1.6,0l-1.6,0l-1.6,0l-1.6,0l-1.6,0l-1.6,0l-1.6,0l-1.6,0l-1.6,0l-1.6,0l-1.6,0l-1.6,0l-1.6,0l-1.6,0l-1.6,0l-1.6,0l-1.6,0l-1.6,0l-1.6,0l-1.6,0l-1.6,0l-1.6,0l-1.6,0l-1.6,0l-1.6,0l-1.6,0l-1.6,0l-1.6,0l-1.6,0l-1.6,0l-1.6,0l-1.6,0l-1.6,0l-1.6,0l-1.6,0l-1.6,0l-1.6,0l-1.6,0l-1.6,0l-1.6,0l-1.6,0l-1.6,0l-1.6,0l-1.6,0l-1.6,0l-1.6,0l-1.6,0l-1.6,0l-1.6,0l-1.6,0l-1.6,0l-1.6,0l-1.6,0l-1.6,0l-1.6,0l-1.6,0l-1.6,0l-1.6,0l-1.6,0l-1.6,0l-1.6,0l-1.6,0l-1.6,0l-1.6,0l-1.6,0l-1.6,0l-1.6,0l-1.6,0l-1.6,0l-1.6,0l-1.6,0l-1.6,0l-1.6,0l-1.6,0l-1.6,0l-1.6,0l-1.6,0l-1.6,0l-1.6,0l-1.6,0l-1.6,0l0-1.6l0-1.6l0-1.6l0-1.6l0-1.6l0-1.6l0-1.6l0-1.6l0-1.6l0-1.6l0-1.6l0-1.6l0-1.6l0-1.6l0-1.6l0-1.6l0-1.6l0-1.6l0-1.6l0-1.6l0-1.6l0-1.6l0-1.6l0-1.6l0-1.6l0-1.6l0-1.6l0-1.6l0-1.6l0-1.6l0-1.6l0-1.6l0-1.6l0-1.6l0-1.6l0-1.6l0-1.6l0-1.6l0-1.6l0-1.6l0-1.6l0-1.6l0-1.6l0-1.6l0-1.6l0-1.6l0-1.6l0-1.6l0-1.6l0-1.6l0-1.6l0-1.6l0-1.6l0-1.6l0-1.6l0-1.6l0-1.6l0-1.6l0-1.6l0-1.6l0-1.6l0-1.6l0-1.6l0-1.6l0-1.6l0-1.6l0-1.6l0-1.6l0-1.6l0-1.6l0-1.6l0-1.6l0-1.6l0-1.6l0-1.6l0-1.6l0-1.6l0-1.6l0-1.6l0-1.6l0-1.6l0-1.6l0-1.6l0-1.6l0-1.6l0-1.6zM117.6,68.4l-1,1.6l-.2,1l-.2,.6l.2,1.5l0,.1l.7,1.6l.9,1.4l.2,.2l1.4,1.5l1.6-.3l1.6-.7l1-.5l.6-.3l1.4-1.3l.2-.3l.7-1.3l.3-1.6l-1-1.5l-.1-.1l-1.5-1l-.9-.6l-.7-.4l-1.6-.5l-1.6,0l-1.6,.6zM103.3,73.2l.3,.2l.7-.2l-.7-.2z" fill="#f5f0e0"/>
<path d="M-.4-2l1.6,0l1.6,0l1.6,0l1.6,0l1.6,0l1.6,0l1.6,0l1.6,0l1.6,0l1.6,0l1.6,0l1.6,0l1.6,0l1.6,0l1.6,0l1.6,0l1.6,0l1.6,0l1.6,0l1.6,0l1.6,0l1.6,0l1.6,0l1.6,0l1.6,0l1.6,0l1.6,0l1.6,0l1.6,0l1.6,0l1.6,0l1.6,0l1.6,0l1.6,0l1.6,0l1.6,0l1.6,0l1.6,0l1.6,0l1.6,0l1.6,0l1.6,0l1.6,0l1.6,0l1.6,0l1.6,0l1.6,0l1.6,0l1.6,0l1.6,0l1.6,0l1.6,0l1.6,0l1.6,0l1.6,0l1.6,0l1.6,0l1.6,0l1.6,0l1.6,0l1.6,0l1.6,0l1.6,0l1.6,0l1.6,0l1.6,0l1.6,0l1.6,0l1.6,0l1.6,0l1.6,0l1.6,0l1.6,0l1.6,0l1.6,0l1.6,0l1.6,0l1.6,0l1.6,0l1.6,0l1.6,0l1.6,0l1.6,0l1.6,0l1.6,0l1.6,0l1.6,0l1.6,0l1.6,0l1.6,0l1.6,0l1.6,0l1.6,0l1.6,0l0,1.6l0,1.6l0,1.6l0,1.6l0,1.6l0,1.6l0,1.6l0,1.6l0,1.6l0,1.6l0,1.6l0,1.6l0,1.6l0,1.6l0,1.6l0,1.6l0,1.6l0,1.6l0,1.6l0,1.6l0,1.6l0,1.6l0,1.6l0,1.6l0,1.6l0,1.6l0,1.6l0,1.6l0,1.6l0,1.6l0,1.6l0,1.6l0,1.6l0,1.6l0,.6l-1.4,1l-.2,.2l-1.6,1.1l-.4,.3l-1.2,.9l-1,.7l-.6,.5l-1.3,1.1l-.3,.4l-.6,1.2l.6,1.6l0,.1l1.2,1.5l-1.2,.8l-1.6-.8l-.1,0l-1.5-.4l-1.6-.1l-1.6-.1l-1.6-.1l-1.6-.2l-1.6,0l-1.6,.4l-.8,.5l-.8,.3l-1.6,.4l-1.6-.4l-.9-.3l-.7-.6l-.8-1l.4-1.6l.4-.6l.8-1l.8-.7l1.6,0l1.6,.6l.4,.1l1.2,.4l1.5-.4l.1,0l.9-1.6l0-1.6l-.2-1.6l-.4-1.6l-.3-.7l-.4-.9l-1.2-1.2l-1.1-.4l-.5-.2l-1.4,.2l-.2,0l-.1,0l-1.5-.5l-1.6-.7l-1.6,.1l-1.6,1.1l-1.5,1.6l-.1,.1l-1.3,1.5l-.3,.3l-1.2,1.3l-.4,.4l-1.3,1.2l-.3,.2l-1.6,1.3l-.1,.1l-1,1.6l-.5,1.6l-.8,1.6l-.8,1l-.6,.6l-1,.7l-1.6,.7l-1.2,.2l-.4,.1l-1.6,.1l-1.6,.1l-1.5-.3l-.1,0l-1.6-.7l-1.6-.5l-1.6,.1l-1.6,.5l-1.5,.6l-.1,0l-1.6,.5l-1.6,.2l-1.6-.3l-.8-.4l-.8-.3l-1.6-.6l-1.6-.4l-1.6,.5l-.7,.8l-.8,1.6l-.1,.4l-.1,1.2l.1,1.5l0,.1l1,1.6l.6,.8l.6,.8l1,.7l1.3,.9l.3,.1l1.6,.6l1.6,0l1.6-.5l.4-.2l1.2-.4l1.6-.4l1.6-.1l1.6,.3l1,.6l.6,.4l1.2,1.2l.4,.4l1,1.2l.6,.6l1.1,1l.5,.4l1.6,.9l1.3,.3l.3,.1l1.6,.1l1.6,.5l1,.9l.6,.4l1.6,.7l1.6,.3l1.6,.2l1.6,.2l1.6,.1l1.6,0l1.5-.3l.1,0l1.6-.7l1.5-.9l.1-.1l1.6-1.2l.4-.3l1.2-.9l1-.7l.6-.5l1.2-1.1l.4-.5l1.2-1.1l.4-.3l1.6-.4l1.6,.3l1.6,.4l1.6,0l1.6-.4l1.6-.5l1.6,.4l.4,.5l1.2,.7l1.6,.9l.4,0l1.2,0l1.6,.1l1.6,.2l0,1.3l0,1.6l0,1.6l0,1.6l0,1.6l0,1.6l0,1.6l0,1.6l0,1.6l0,1.6l0,1.6l0,1.6l0,1.6l0,1.6l0,1.6l0,1.6l0,1.6l0,1.6l0,1.6l0,1.6l0,1.6l0,1.6l0,1.6l0,1.6l0,1.6l0,1.6l0,1.6l0,1.6l0,1.6l0,1.6l0,1.6l0,1.6l0,1.6l0,1.6l0,1.6l0,1.6l-1.6,0l-1.6,0l-1.6,0l-1.6,0l-1.6,0l-1.6,0l-1.6,0l-1.6,0l-1.6,0l-1.6,0l-1.6,0l-1.6,0l-1.6,0l-1.6,0l-1.6,0l-1.6,0l-1.6,0l-1.6,0l-1.6,0l-1.6,0l-1.6,0l-1.6,0l-1.6,0l-1.6,0l-1.6,0l-1.6,0l-1.6,0l-1.6,0l-1.6,0l-1.6,0l-1.6,0l-1.6,0l-1.6,0l-1.6,0l-1.6,0l-1.6,0l-1.6,0l-1.6,0l-1.6,0l-1.6,0l-1.6,0l-1.6,0l-1.6,0l-1.6,0l-1.6,0l-1.6,0l-1.6,0l-1.6,0l-1.6,0l-1.6,0l-1.6,0l-1.6,0l-1.6,0l-1.6,0l-1.6,0l-1.6,0l-1.6,0l-1.6,0l-1.6,0l-1.6,0l-1.6,0l-1.6,0l-1.6,0l-1.6,0l-1.6,0l-1.6,0l-1.6,0l-1.6,0l-1.6,0l-1.6,0l-1.6,0l-1.6,0l-1.6,0l-1.6,0l-1.6,0l-1.6,0l-1.6,0l-1.6,0l-1.6,0l-1.6,0l-1.6,0l-1.6,0l-1.6,0l-1.6,0l-1.6,0l-1.6,0l-1.6,0l-1.6,0l-1.6,0l-1.6,0l-1.6,0l-1.6,0l-1.6,0l-1.6,0l-1.6,0l0-1.6l0-1.6l0-1.6l0-1.6l0-1.6l0-1.6l0-1.6l0-1.6l0-1.6l0-1.6l0-1.6l0-1.6l0-1.6l0-1.6l0-1.6l0-1.6l0-1.6l0-1.6l0-1.6l0-1.6l0-1.6l0-1.6l0-1.6l0-1.6l0-1.6l0-1.6l0-1.6l0-1.6l0-1.6l0-1.6l0-1.6l0-1.6l0-1.6l0-1.6l0-1.6l0-1.6l0-1.6l0-1.6l0-1.6l0-1.6l0-1.6l0-1.6l0-1.6l0-1.6l0-1.6l0-1.6l0-1.6l0-1.6l0-1.6l0-1.6l0-1.6l0-1.6l0-1.6l0-1.6l0-1.6l0-1.6l0-1.6l0-1.6l0-1.6l0-1.6l0-1.6l0-1.6l0-1.6l0-1.6l0-1.6l0-1.6l0-1.6l0-1.6l0-1.6l0-1.6l0-1.6l0-1.6l0-1.6l0-1.6l0-1.6l0-1.6l0-1.6l0-1.6l0-1.6l0-1.6l0-1.6l0-1.6l0-1.6l0-1.6l0-1.6l0-1.6z" fill="#e2f0ee"/>
<path d="M-.4-2l1.6,0l1.6,0l1.6,0l1.6,0l1.6,0l1.6,0l1.6,0l1.6,0l1.1,0l-1.1,1.1l-.4,.5l-1.2,1.5l-.1,.1l-.7,1.6l-.8,1.2l-.1,.4l-.5,1.6l-.5,1.6l-.3,1.6l.8,1.6l.6,.5l1.4,1.1l.2,.1l1.6,.6l1.6,.8l1.6-.1l1.6-1l.4-.4l1.2-.9l1.1-.7l.5-.5l1.1-1.1l.5-.6l1.4-1l.2-.2l1.6-.6l1.6,0l1.5,.8l.1,.2l.5,1.4l-.2,1.6l-.3,.4l-.6,1.2l-1,1l-.8,.6l-.8,.8l-.5,.8l-.3,1.6l.6,1.6l.2,.3l.9,1.3l.7,.8l.7,.8l.9,1l.5,.6l.9,1.6l.2,.3l.6,1.3l.9,1.6l.1,.1l1.6,1.4l.2,.1l1.4,.5l1.6,.2l1.6-.2l1.1-.5l.5-.4l1.3-1.2l.3-.7l.8-.9l-.1-1.6l-.7-.8l-.2-.8l-.2-1.6l.1-1.6l.3-.9l.4-.7l1.2-1.3l.9-.3l.7-.2l.3,.2l.4,1.6l-.3,1.6l-.4,1.3l-.2,.3l-.7,1.6l-.3,1.6l1.1,1.6l.1,0l1.6,1.1l.9,.5l.7,.5l1.4,1.1l.2,.2l1.5,1.4l.1,0l1.6,.7l1.6,0l1.6-.5l.3-.2l.5-1.6l-.3-1.6l-.3-1.6l-.1-1.6l.6-1.6l.9-.6l1.6,.4l.3,.2l1.3,1.1l.5,.5l1.1,1.4l.2,.2l.7,1.6l-.3,1.6l-.6,.8l-.8,.8l-.5,1.6l1.3,1.3l.4,.3l1.2,.4l1.6,.3l1.6,0l1.6-.7l1.6-1.2l.8-.4l.8-.4l1.6,.3l.1,.1l1.5,.8l1.1,.8l.5,.2l1.6,.6l1.6,.2l1.6,0l1.6-.3l1.6-.4l.5-.3l1-1.6l-.2-1.6l-.5-1.6l-.5-1.6l-.3-.7l-.3-.9l-1.1-1.6l-.2-.2l-1.6-.9l-1.6-.1l-1.6,0l-1.6-.2l-.7-.2l-.9-.2l-1.6-.5l-1.6,0l-1.6,.3l-1.6,.4l-1.6-.9l-.3-.7l.2-1.6l.1-.2l.4-1.4l.4-1.6l.2-1.6l.2-1.6l.1-1.6l.1-1.6l.1-1.6l0-1.6l-.5-1.6l-1-.9l-1.1-.7l-.5-.3l-1.6-.8l-.9-.5l-.7-.5l-1.6-.8l-.7-.3l-.9-.6l-1.6-.6l-1.3-.4l-.3-.1l-1.6-.6l-1.6-.2l-1.6-.2l-1.6-.1l-1.6-.1l-1.6-.3l-.1,0l.1,0l1.6,0l1.6,0l1.6,0l1.6,0l1.6,0l1.6,0l1.6,0l1.6,0l1.6,0l1.6,0l1.6,0l1.6,0l1.6,0l1.6,0l1.6,0l1.6,0l1.6,0l1.6,0l1.6,0l1.6,0l1.6,0l1.6,0l1.6,0l1.6,0l1.6,0l1.6,0l1.6,0l1.6,0l1.6,0l1.6,0l1.6,0l1.6,0l1.6,0l1.6,0l1.6,0l1.6,0l.6,0l-.6,1.4l-.1,.2l-.7,1.6l-.6,1.6l-.2,.5l-.4,1.1l-.6,1.6l-.5,1.6l-.1,.2l-.4,1.4l-.5,1.6l-.3,1.6l0,1.6l.3,1.6l.3,1.6l.2,1.6l.2,1.6l.2,1.6l0,.2l.1,1.4l0,1.6l-.1,1.5l0,.1l-.3,1.6l-.3,1.6l-.2,1.6l.2,1.6l.6,1.3l.1,.3l.7,1.6l.5,1.6l.2,1.6l-.6,1.6l-.7,1.6l-.2,.6l-.7,1l-.3,1.6l.5,1.6l.5,1.1l.2,.5l-.2,.4l-1.1,1.2l-.5,.5l-.8,1.1l-.8,1l-.4,.6l-1.2,1.3l-.4,.3l-1.2,.8l-1.6,.7l-.2,.1l-1.4,.6l-1.6,.5l-1.6,.2l-1.6-.5l-.7-.8l-.3-1.6l-.4-1.6l-.2-.3l-1-1.3l-.6-.5l-1.4-1.1l-.2-.1l-1.6-.9l-1.6-.5l-.8-.1l-.8-.1l-1.6-.1l-1.1,.2l-.5,0l-1.6,.4l-1.6,.6l-.8,.6l-.8,1.1l-.3,.5l-.2,1.6l.1,1.6l-.2,1.6l-.9,1.6l-.1,0l-1.6,.9l-1.6,.6l-.1,.1l-1.2,1.6l0,1.6l1.3,.6l1.6,0l1.6-.3l1.6-.2l1.4-.1l.2,0l.1,0l1.5,.5l1.2,1.1l.4,.4l.5,1.2l.4,1.6l.2,1.6l-.1,1.6l-.7,1.6l-.3,.3l-1.6,1.2l-.1,.1l-1.5,1.6l0,.1l-.9,1.5l-.5,1.6l-.2,1.1l-.1,.5l-.1,1.6l.1,1.6l.1,.2l.4,1.4l.9,1.6l.3,.4l.9,1.2l.7,.9l.6,.7l1,1.6l0,.1l1.1,1.5l.5,.9l.6,.7l1,1l.7,.6l.9,.2l1.6,.3l1.6,.2l1.6-.3l1.3-.4l.3-.3l1.6-1.3l0-.3l.2-1.3l-.2-1.2l-.1-.4l0-1.6l.1-.3l.3-1.3l.5-1.6l.7-1.6l.1-.2l1-1.4l.6-.6l1.5-1l.1-.1l1.6-.6l1.6,.2l.9,.5l.7,.6l.6,1l.3,1.6l0,1.6l.4,1.6l.3,.5l1.2,1.1l.4,.1l1.6,.2l1.4-.3l.2-.1l1.6-1.1l.5-.4l1.1-1l.6-.6l1-.8l1.5-.8l.1,0l1.6-.3l1.6,.1l1.6,.2l1.6,.4l1.6,.3l1.6,.1l1.6,0l1.6-.3l1.4-.5l.2-.1l1.6-.6l1.6-.8l.2-.1l1.4-.4l1.6-.1l1.6,.1l1.6,.2l1.6,0l1.6-.3l1.6-.6l1.2-.5l.4-.1l1.6-.2l.7,.3l.9,1.2l.4,.4l.7,1.6l.4,1.6l.1,.4l.8,1.2l.6,1.6l.2,1.6l-.3,1.6l-1,1.6l-.3,.1l-.8,1.5l-.8,.7l-.4,.9l-1.2,1.5l-.1,.1l-1.4,1.6l-.1,.1l-1.3,1.5l-.3,.3l-1.1,1.3l-.5,.6l-.8,1l-.8,1l-.4,.6l-1.2,1.4l-.2,.2l-1.3,1.6l-.1,.1l-1.2,1.5l-.4,.5l-1,1.1l-.6,.9l-.6,.7l-1,1.6l-.3,1.6l0,1.6l.1,1.6l.2,1.6l.2,1.6l.2,1.6l.3,1.6l.3,1.6l.4,1.6l.2,.9l.2,.7l.4,1.6l-.6,0l-1.6,0l-1.6,0l-1.6,0l-1.6,0l-1.6,0l-1.6,0l-1.6,0l-1.6,0l-1.6,0l-1.6,0l-1.6,0l-1.6,0l-1.6,0l-1.6,0l-1.6,0l-1.6,0l-1.6,0l-1.6,0l-1.6,0l-1.6,0l-1.6,0l-1.6,0l-1.6,0l-1.6,0l-1.6,0l-1.6,0l-1.6,0l-1.6,0l-1.6,0l-1.6,0l-1.6,0l-1.6,0l-1.6,0l-1.6,0l-1.6,0l-1.6,0l-1.6,0l-1.6,0l-1.6,0l-1.6,0l-1.6,0l-1.6,0l-1.6,0l-1.6,0l-1.6,0l-1.6,0l-1.6,0l-1.6,0l-1.6,0l-1.6,0l-1.6,0l-1.6,0l-1.6,0l-1.6,0l-1.6,0l-1.6,0l-1.6,0l-1.6,0l-1.6,0l-1.6,0l-1.6,0l-1.6,0l-1.6,0l-1.6,0l-1.6,0l-1.6,0l-1.6,0l-1.6,0l-1.6,0l-1.6,0l-1.6,0l-1.6,0l-1.6,0l-1.6,0l-1.6,0l-1.6,0l-1.6,0l-1.6,0l-1.6,0l-1.6,0l-1.6,0l0-1.6l0-1.6l0-1.6l0-1.6l0-1.6l0-1.6l0-1.6l0-1.6l0-1.6l0-1.6l0-1.6l0-1.6l0-1.6l0-1.6l0-1.6l0-1.6l0-1.6l0-1.6l0-1.6l0-1.6l0-1.6l0-1.6l0-1.6l0-1.6l0-1.6l0-1.6l0-1.6l0-1.6l0-1.6l0-1.6l0-1.6l0-1.6l0-1.6l0-1.6l0-1.6l0-1.6l0-1.6l0-1.6l0-1.6l0-1.6l0-1.6l0-1.6l0-1.6l0-1.6l0-1.6l0-1.6l0-1.6l0-1.6l0-1.6l0-1.6l0-1.6l0-1.6l0-1.6l0-1.6l0-1.6l0-1.6l0-1.6l0-1.6l0-1.6l0-1.6l0-1.6l0-1.6l0-1.6l0-1.6l0-1.6l0-1.6l0-1.6l0-1.6l0-1.6l0-1.6l0-1.6l0-1.6l0-1.6l0-1.6l0-1.6l0-1.6l0-1.6l0-1.6l0-1.6l0-1.6l0-1.6l0-1.6l0-1.6l0-1.6l0-1.6l0-1.6zM53.8,66.8l-.4,1.6l.2,1.6l.2,1.6l.1,1.6l-.1,1.6l0,1.6l.2,.8l.3,.8l1,1.6l.3,.4l1.6,1l1.5,.2l.1,0l.1,0l1.5-.2l1.6-.5l1.3-.9l.3-1.5l0-.1l-.8-1.6l-.8-.8l-1.2-.8l-.4-.4l-1.6-1.1l-.2-.1l-.2-1.6l.4-.7l.5-.9l.8-1.6l0-1.6l-1.3-.7l-1.6-.2l-1.6,0l-1.6,.6z" fill="#b4e2db"/>
<path d="M-.4-2l1.6,0l1.6,0l1.6,0l1.6,0l1.6,0l1.6,0l.4,0l-.4,.6l-.6,1l-.8,1.6l-.2,.5l-.6,1.1l-.5,1.6l-.4,1.6l-.1,.5l-.3,1.1l-.2,1.6l.3,1.6l.2,.3l1.2,1.3l.4,.3l1.6,.9l.6,.4l1,.5l1.6,.9l.3,.2l1.3,.6l1.6,.7l.7,.3l.9,.3l1.6,.3l1.3,1l.3,.3l1.4,1.3l.2,.3l1.1,1.3l.5,.6l.9,1l.7,.8l.7,.8l.9,1.3l.2,.3l1,1.6l.4,.5l.9,1.1l.7,.6l1.3,1l.3,.2l1.6,.9l1.3,.5l.3,.2l1.6,1.2l.2,.2l1,1.6l.4,1l.2,.6l-.1,1.6l-.1,1l-.2,.6l-.2,1.6l.4,1.5l0,.1l.6,1.6l1,1.6l.9,1.6l.7,1.6l1.3,1.6l.3,.2l1.5,1.4l.1,.1l.8,1.5l.4,1.6l.2,1.6l.1,1.6l.1,.9l.1,.7l1,1.6l.5,.3l1.6,1.1l.2,.2l1.2,1.6l.2,.5l.2,1.1l.1,1.6l.1,1.6l.1,1.6l-.1,1.6l-.2,1.6l-.2,1.6l-.2,1.6l.2,.3l.3,1.3l.9,1.6l.4,.7l.3,.9l.6,1.6l.7,1.6l1.4,1.6l.2,.2l1.5,1.4l.1,.2l.9,1.4l.4,1.6l.3,1.6l.8,1.6l.8,.8l1.1,.8l.5,.3l1.6,.6l1.6,.6l.6,.1l1,.2l1.6,0l1.6-.2l.2,0l1.4-.4l1.6-.4l1.6,0l1.6,.1l1.6,.2l1.6,.1l1.6,.1l1.6-.1l1.6-.4l1.3-.8l.3-.1l1.6-.9l.8-.6l.8-.5l1.6-.9l.4-.2l1.2-.7l1.6-.5l1.6-.2l1.6,0l1.6,0l1.6-.1l.2-.1l1.4-.4l1.6-.9l.4-.3l1.2-.9l.9-.7l.7-.7l1.1-.9l.5-.5l1.6-.8l1.6,.2l1.6,.8l.5,.3l1.1,.9l1.5,.7l.1,0l1.6,.6l1.6,.5l1.6,.4l.4,.1l1.2,.7l1.2,.9l-.3,1.6l-.4,1.6l0,1.6l.5,1.6l.6,.7l.8,.9l.8,.7l1,.9l.6,.6l1,1l.6,.7l.5,.9l-.1,1.6l-.4,.7l-.5,.9l-1.1,1.3l-.2,.3l-1.4,1.4l-.2,.2l-1.4,1.2l-.4,.4l-1.2,.9l-.9,.7l-.7,.5l-1.6,.9l-.3,.2l-1.3,.6l-1.6,.7l-.5,.3l-1.1,.5l-1.6,.9l-.3,.2l-1.3,.8l-1.2,.8l-.4,.3l-1.6,.7l-1.3,.6l-.3,.1l-1.6,.6l-1.6,.4l-1.6,.3l-.8,.2l-.8,.2l-1.6,.5l-1.6,.4l-1.1,.5l-.5,.3l-1.3,1.3l-.3,.4l-.7,1.2l-.9,1.3l-.2,.3l-1.2,1.6l-.2,.3l-1.2,1.3l-.4,0l-1.6,0l-1.6,0l-1.6,0l-1.6,0l-1.6,0l-1.6,0l-1.6,0l-1.6,0l-1.6,0l-1.6,0l-1.6,0l-1.6,0l-1.6,0l-1.6,0l-1.6,0l-1.6,0l-1.6,0l-1.6,0l-1.6,0l-1.6,0l-1.6,0l-1.6,0l-1.6,0l-1.6,0l-1.6,0l-1.6,0l-1.6,0l-1.6,0l-1.6,0l-1.6,0l-1.6,0l-1.6,0l-1.6,0l-1.6,0l-1.6,0l-1.6,0l-1.6,0l-1.6,0l-1.6,0l-1.6,0l-1.6,0l-1.6,0l-1.6,0l-1.6,0l-1.6,0l-1.6,0l-1.6,0l-1.6,0l-1,0l-.6-.4l-1.6-.8l-1-.4l-.6-.2l-1.6-.6l-1.6-.5l-1.4-.3l-.2,0l-1.6-.3l-1.6-.3l-1.6-.1l0-.9l0-1.6l0-1.6l0-1.6l0-1.6l0-1.6l0-1.6l0-1.6l0-1.6l0-1.6l0-1.6l0-1.6l0-1.6l0-1.6l0-1.6l0-1.6l0-1.6l0-1.6l0-1.6l0-1.6l0-1.6l0-1.6l0-1.6l0-1.6l0-1.6l0-1.6l0-1.6l0-1.6l0-1.6l0-1.6l0-1.6l0-1.6l0-1.6l0-1.6l0-1.6l0-1.6l0-1.6l0-1.6l0-1.6l0-1.6l0-1.6l0-1.6l0-1.6l0-1.6l0-1.6l0-1.6l0-1.6l0-1.6l0-1.6l0-1.6l0-1.6l0-1.6l0-1.6l0-1.6l0-1.6l0-1.6l0-1.6l0-1.6l0-1.6l0-1.6l0-1.6l0-1.6l0-1.6l0-1.6l0-1.6l0-1.6l0-1.6l0-1.6l0-1.6l0-1.6l0-1.6l0-1.6l0-1.6l0-1.6l0-1.6l0-1.6l0-1.6l0-1.6l0-1.6l0-1.6l0-1.6l0-1.6l0-1.6l0-1.6zM41.2,79.6l-1.6,1.4l-.1,.2l-1.2,1.6l-.3,.6l-.5,1l-.5,1.6l-.2,1.6l0,1.6l.1,1.6l.3,1.6l.8,1.4l.1,.2l1.5,1.3l.3,.3l1.3,1.3l.4,.3l1.2,.8l1.6,.3l1.1-1.1l-.2-1.6l-.5-1.6l-.1-1.6l.7-1.6l.6-.9l.6-.7l.8-1.6l.2-1.1l.1-.5l.1-1.6l.1-1.6l-.1-1.6l-.2-.4l-.8-1.2l-.8-.4l-1.6-.5l-1.6,.1l-1.6,.8zM57.2,41.6l1.6,.1l1.6,.8l.5,.3l1.1,1.4l.1,.2l-.1,.8l-.2,.8l-1.4,1.1l-.8,.5l-.8,.3l-1.6,0l-.4-.3l-.9-1.6l-.3-1.1l-.1-.5l.1-1.4l0-.2z" fill="#79c8bc"/>
<path d="M9.2,15.4l.6,.2l1,.4l1.6,.8l.9,.4l.7,.4l1.6,.9l.7,.3l.9,.6l1.4,1l.2,.2l1.1,1.4l.5,.6l.8,1l.8,.9l.7,.7l.9,1l.5,.6l1.1,1.5l.1,.1l1.1,1.6l.4,.6l.8,1l.8,1.3l.2,.3l0,1.6l-.2,.3l-.9,1.3l-.7,.9l-.5,.7l-.7,1.6l-.1,1.6l.4,1.6l.7,1.6l.2,.4l.9,1.2l.7,.9l1,.7l.6,.6l1.6,.6l1.6,.3l.2,.1l1.3,1.6l.1,.4l.2,1.2l.3,1.6l.6,1.6l.5,1l.4,.6l-.4,1.5l-1,.1l-.6,0l-1.6-1l-.6-.6l-1-1.2l-.4-.4l-1.2-1l-1.1-.6l-.5-.2l-1.6-.1l-1.6,.1l-1.3,.2l-.3,.1l-1.6,.7l-1.5,.8l-.1,.1l-1.6,.9l-.6,.6l-1,1l-.3,.6l-1.3,1.3l-.4,.3l-1.2,1l-1.1,.6l-.5,.4l-1.6,.9l-.6,.3l-1,.8l-1.6,.7l-.2,.1l-1.4,1.1l-1.6,.4l-1.6-.1l-1.6-.5l-1.6-.8l-.2-.1l-1.4-.5l0-1.1l0-1.6l0-1.6l0-1.6l0-1.6l0-1.6l0-1.6l0-1.6l0-1.6l0-1.6l0-1.6l0-1.6l0-1.6l0-1.6l0-1.6l0-1.6l0-.2l1.6-.5l1.6-.5l1.5-.4l.1,0l1.6-.4l1.6-.6l.7-.6l.9-1.1l.3-.5l.6-1.6l.3-1.6l.1-1.6l-.1-1.6l-.3-1.6l-.3-1.6l-.1-1.6l0-1.6l0-1.6l-.1-1.6l-.2-1.6l.2-1.6zM71.6,104.3l1.6-.2l1.6,1l.1,.1l1.3,1.6l.2,.3l.8,1.3l.8,1.5l.1,.1l1.1,1.6l.4,1l.9,.6l-.9,.4l-1.6,1.2l-1.6,.6l-1.6,.4l-1.6-.5l-.3-.5l-.7-1.6l-.6-1.2l-.1-.4l-.8-1.6l-.7-1.6l-.3-1.6l.3-1.2l.2-.4zM55.6,110.7l1.6-.6l1.6,.1l1.6,.7l.8,.7l.8,.9l.4,.7l.4,1.6l-.5,1.6l-.3,.2l-1.6,.4l-1.6,.2l-1.6,.2l-1.6,.1l-1.6-.4l-.8-.7l-.7-1.6l.3-1.6l1.2-1.4l.2-.2zM50.8,125.2l1,.8l.6,.2l1.6,1l.8,.4l.8,.5l1.6,.9l.4,.2l1.2,.8l1.6,.1l1.6-.6l.7-.3l.9-.2l.5,.2l.2,1.6l-.7,1.1l-.7,.5l-.9,.4l-1.6,0l-1.6-.3l-.6-.1l-1-.1l-1.6,0l-1.6-.3l-1.6-.9l-.4-.3l-1.2-1.6l-.8-1.6l0-1.6z" fill="#3b9b93"/>
<path d="M12.4,19.7l1.6,0l1.3,.7l.3,.2l1.4,1.4l.2,.4l.6,1.2l1,1.4l.2,.2l1.4,1.4l.2,.2l1.4,1.5l.1,.1l1.1,1.6l.4,.8l.4,.8l.2,1.6l-.6,1.2l-.2,.4l-1.2,1.6l-.2,.3l-.9,1.3l-.5,1.6l.3,1.6l1,1.6l.1,.1l.7,1.5l.4,1.6l-.1,1.6l-1,1.5l-.1,.1l-1.5,1.5l-.1,.1l-1.5,1.6l-1.4,1.6l-.2,.2l-.9,1.4l-.5,1.6l-.2,.3l-.8,1.3l-.8,.7l-.9,.9l-.7,.4l-1.6,1.1l-.2,.1l-1.4,.8l-1.2,.8l-.4,.3l-1.6,.6l-1.6,0l-1.6-.8l-.1-.1l-1.5-1.1l-.5-.5l-1.1-1.1l-.5-.5l-1.1-1.4l0-.2l0-1.6l0-1.6l0-1.6l0-1.6l0-1.6l0-.4l1.6-1l.4-.2l1.2-.8l1.5-.8l.1-.1l1.6-1l.9-.5l.7-.5l1.6-1l.1-.1l1.5-1.2l.6-.4l1-.7l1.5-.9l.1-.2l.8-1.4l-.1-1.6l-.1-1.6l0-1.6l.3-1.6l.3-1.6l.2-1.6l-.2-1.6l-.6-1.6l-.6-1l-.3-.6l-.4-1.6l.1-1.6l.2-1.6z" fill="#0c7169"/>
<path d="M7.6,50.2l1.6-.4l1.5,1l.1,.1l.6,1.5l.7,1.6l.3,.7l.3,.9l.1,1.6l-.4,1.1l-.2,.5l-1.4,1.3l-.3,.3l-1.3,.7l-1.1,.9l-.5,.2l-1.6,.6l-1.6-.2l-1.2-.6l-.4-.3l-1.5-1.3l-.1-.1l-1.1-1.5l-.5-.8l-.4-.8l0-1.6l.4-.6l1.3-1l.3-.2l1.6-.9l.8-.5l.8-.4l1.6-1l.4-.2z" fill="#004c42"/>
<g fill="#000"><circle cx="20.6" cy="37.4" r="1.55"/><circle cx="29.3" cy="37.4" r="0.9"/><circle cx="63.8" cy="37.4" r="1.55"/><circle cx="72.5" cy="37.4" r="1.55"/><circle cx="81.1" cy="37.4" r="1.55"/><circle cx="16.3" cy="46.1" r="1.55"/><circle cx="25" cy="46.1" r="1.55"/><circle cx="33.6" cy="46.1" r="1.55"/><circle cx="59.5" cy="46.1" r="1.55"/><circle cx="68.2" cy="46.1" r="1.55"/><circle cx="76.8" cy="46.1" r="1.55"/><circle cx="85.4" cy="46.1" r="1.55"/><circle cx="46.6" cy="54.7" r="1.55"/><circle cx="55.2" cy="54.7" r="1.55"/><circle cx="63.8" cy="54.7" r="1.55"/><circle cx="72.5" cy="54.7" r="0.9"/><circle cx="81.1" cy="54.7" r="1.55"/><circle cx="33.6" cy="63.3" r="1.55"/><circle cx="42.2" cy="63.3" r="1.55"/><circle cx="50.9" cy="63.3" r="1.55"/><circle cx="59.5" cy="63.3" r="0.9"/><circle cx="46.6" cy="72" r="1.55"/><circle cx="50.9" cy="80.6" r="1.55"/><circle cx="59.5" cy="80.6" r="0.9"/><circle cx="46.6" cy="89.3" r="1.55"/><circle cx="55.2" cy="89.3" r="1.55"/><circle cx="63.8" cy="89.3" r="1.55"/><circle cx="50.9" cy="97.9" r="1.55"/><circle cx="59.5" cy="97.9" r="1.55"/><circle cx="68.2" cy="97.9" r="1.55"/><circle cx="76.8" cy="97.9" r="1.55"/><circle cx="85.4" cy="97.9" r="1.55"/><circle cx="94.1" cy="97.9" r="0.9"/><circle cx="102.7" cy="97.9" r="1.55"/><circle cx="111.4" cy="97.9" r="1.55"/><circle cx="55.2" cy="106.5" r="1.55"/><circle cx="63.8" cy="106.5" r="1.55"/><circle cx="72.5" cy="106.5" r="1.55"/><circle cx="81.1" cy="106.5" r="1.55"/><circle cx="89.8" cy="106.5" r="1.55"/><circle cx="98.4" cy="106.5" r="1.55"/><circle cx="50.9" cy="115.2" r="1.55"/><circle cx="59.5" cy="115.2" r="1.55"/><circle cx="68.2" cy="115.2" r="1.55"/><circle cx="76.8" cy="115.2" r="1.55"/><circle cx="85.4" cy="115.2" r="1.55"/><circle cx="55.2" cy="123.8" r="1.55"/><circle cx="63.8" cy="123.8" r="1.55"/></g>
</g>
<use href="#ov"/><use href="#fr"/>
<text x="1.5" y="-8.9" font-size="10.6">(d)</text>
<text x="-13" y="137.4" font-size="11.25" text-anchor="end">12°N</text>
<text x="-13" y="119.9" font-size="11.25" text-anchor="end">15°N</text>
<text x="-13" y="102.1" font-size="11.25" text-anchor="end">18°N</text>
<text x="-13" y="84" font-size="11.25" text-anchor="end">21°N</text>
<text x="-13" y="65.6" font-size="11.25" text-anchor="end">24°N</text>
<text x="-13" y="46.7" font-size="11.25" text-anchor="end">27°N</text>
<text x="-13" y="27.3" font-size="11.25" text-anchor="end">30°N</text>
<text x="-13" y="7.3" font-size="11.25" text-anchor="end">33°N</text>
</g>
<g transform="translate(256.3,207.9)">
<g clip-path="url(#land)">
<rect x="-2" y="-2" width="151.7" height="136.8" fill="#f5f0e0"/>
<path d="M-.4-2l1.6,0l1.6,0l1.6,0l1.6,0l1.6,0l1.6,0l1.6,0l1.6,0l1.6,0l1.6,0l1.6,0l1.6,0l1.6,0l1.6,0l1.6,0l1.6,0l1.6,0l1.6,0l1.6,0l1.6,0l1.6,0l1.6,0l1.6,0l1.6,0l1.6,0l1.6,0l1.6,0l1.6,0l1.6,0l1.6,0l1.6,0l1.6,0l1.6,0l1.6,0l1.6,0l1.6,0l1.6,0l1.6,0l1.6,0l1.6,0l1.6,0l1.6,0l1.6,0l1.6,0l1.6,0l1.6,0l1.6,0l1.6,0l1.6,0l1.6,0l1.6,0l1.6,0l1.6,0l1.6,0l1.6,0l1.6,0l1.6,0l1.6,0l1.6,0l1.6,0l1.6,0l1.6,0l1.6,0l1.6,0l1.6,0l1.6,0l1.6,0l1.6,0l1.6,0l1.6,0l1.6,0l1.6,0l1.6,0l1.6,0l1.6,0l1.6,0l1.6,0l1.6,0l1.6,0l1.6,0l1.6,0l1.6,0l1.6,0l1.6,0l1.6,0l1.6,0l1.6,0l1.6,0l1.6,0l1.6,0l1.6,0l1.6,0l1.6,0l1.6,0l0,1.6l0,1.6l0,1.6l0,1.6l0,1.6l0,1.6l0,1.6l0,1.6l0,1.6l0,1.6l0,1.6l0,1.6l0,1.6l0,1.6l0,1.6l0,1.6l0,1.6l0,1.6l0,1.6l0,1.6l0,1.6l0,1.6l0,1.6l0,1.6l0,1.6l0,1.6l0,1.6l0,1.6l0,1.6l0,1.6l0,1.6l0,1.6l0,1.6l0,1.6l0,1.6l0,1.6l0,1.6l0,1.6l0,1.6l0,1.6l0,1.6l0,1.6l0,1.6l0,1.6l0,1.6l0,1.6l0,1.6l0,1.6l0,1.6l0,1.6l0,1.6l0,1.6l0,1.6l0,1.6l0,1.6l0,1.6l0,1.6l0,1.6l0,1.6l0,1.6l0,1.6l0,1.6l0,1.6l0,1.6l0,1.6l0,1.6l0,1.6l0,1.6l0,1.6l0,1.6l0,1.6l0,1.6l0,1.6l0,1.6l0,1.6l0,1.6l0,1.6l0,1.6l0,1.6l0,1.6l0,1.6l0,1.6l0,1.6l0,1.6l0,1.6l0,1.6l-1.6,0l-1.6,0l-1.6,0l-1.6,0l-1.6,0l-1.6,0l-1.6,0l-1.6,0l-1.6,0l-1.6,0l-1.6,0l-1.6,0l-1.6,0l-1.6,0l-1.6,0l-1.6,0l-1.6,0l-1.6,0l-1.6,0l-1.6,0l-1.6,0l-1.6,0l-1.6,0l-1.6,0l-1.6,0l-1.6,0l-1.6,0l-1.6,0l-1.6,0l-1.6,0l-1.6,0l-1.6,0l-1.6,0l-1.6,0l-1.6,0l-1.6,0l-1.6,0l-1.6,0l-1.6,0l-1.6,0l-1.6,0l-1.6,0l-1.6,0l-1.6,0l-1.6,0l-1.6,0l-1.6,0l-1.6,0l-1.6,0l-1.6,0l-1.6,0l-1.6,0l-1.6,0l-1.6,0l-1.6,0l-1.6,0l-1.6,0l-1.6,0l-1.6,0l-1.6,0l-1.6,0l-1.6,0l-1.6,0l-1.6,0l-1.6,0l-1.6,0l-1.6,0l-1.6,0l-1.6,0l-1.6,0l-1.6,0l-1.6,0l-1.6,0l-1.6,0l-1.6,0l-1.6,0l-1.6,0l-1.6,0l-1.6,0l-1.6,0l-1.6,0l-1.6,0l-1.6,0l-1.6,0l-1.6,0l-1.6,0l-1.6,0l-1.6,0l-1.6,0l-1.6,0l-1.6,0l-1.6,0l-1.6,0l-1.6,0l-1.6,0l0-1.6l0-1.6l0-1.6l0-1.6l0-1.6l0-1.6l0-1.6l0-1.6l0-1.6l0-1.6l0-1.6l0-1.6l0-1.6l0-1.6l0-1.6l0-1.6l0-1.6l0-1.6l0-1.6l0-1.6l0-1.6l0-1.6l0-1.6l0-1.6l0-1.6l0-1.6l0-1.6l0-1.6l0-1.6l0-1.6l0-1.6l0-1.6l0-1.6l0-1.6l0-1.6l0-1.6l0-1.6l0-1.6l0-1.6l0-1.6l0-1.6l0-1.6l0-1.6l0-1.6l0-1.6l0-1.6l0-1.6l0-1.6l0-1.6l0-1.6l0-1.6l0-1.6l0-1.6l0-1.6l0-1.6l0-1.6l0-1.6l0-1.6l0-1.6l0-1.6l0-1.6l0-1.6l0-1.6l0-1.6l0-1.6l0-1.6l0-1.6l0-1.6l0-1.6l0-1.6l0-1.6l0-1.6l0-1.6l0-1.6l0-1.6l0-1.6l0-1.6l0-1.6l0-1.6l0-1.6l0-1.6l0-1.6l0-1.6l0-1.6l0-1.6l0-1.6zM30.9,7.6l.2,1.6l.5,.9l.6,.7l1,.9l.5-.9l.8-1.6l0-1.6l-1.3-.4l-1.6,.2zM2.6,9.2l-1.4,1.4l-.2,.2l-1.1,1.6l-.3,.5l-.4,1.1l.1,1.6l.3,.4l1.2,1.2l.4,.4l1.4,1.2l.2,.1l1.6,1.3l.2,.2l1.4,1l.7,.6l.9,.6l1.2,1l.4,.3l1.6,.9l1.3,.4l.3,0l1.6,.1l1.6-.1l.6,0l1-.1l1.6-.3l1.6-.3l1.6-.5l.8-.4l.8-1.5l.1-.1l-.1-.3l-.4-1.3l-1.2-1.4l-.2-.2l-1.4-.9l-1.3-.7l-.3-.1l-1.6-.9l-.9-.6l-.7-.5l-1.4-1.1l-.2-.2l-1.6-1.2l-.2-.2l-1.4-1.1l-.6-.5l-1-.8l-1.1-.8l-.5-.4l-1.6-.8l-1.6,.1l-1.6,.9zM108.1,41.2l-.3,1.6l.1,1.6l.2,1.6l.1,1.6l.2,1.6l0,.6l.1,1l.1,1.6l.1,1.6l0,1.6l.3,1.6l1,1.5l1.6-.6l.9-.9l.7-.3l1.6-1.1l.2-.2l.9-1.6l.5-1.6l0-.3l0-1.3l0-.9l-.1-.7l-.3-1.6l-.3-1.6l-.3-1.6l-.2-1.6l-.3-1.6l-.1-.2l-1.6-1.1l-1.6,0l-1.6,.4l-1.6,.7zM109.8,62l-1.3,1.6l-.1,0l-1.2,1.6l-.4,.4l-1.2,1.2l-.4,.3l-1.5,1.3l-.1,.1l-.8,1.5l.3,1.6l.5,.7l.6,.9l1,1.4l.2,.2l1.1,1.6l.3,.5l.7,1.1l.9,.9l.7,.7l.9,.5l1.6,.7l1.6-.1l1.5-1.1l.1-.7l.2-.9l0-1.6l1.2-1.6l.2-.1l1.6-.4l1.6-.1l1.6-.4l.3-.6l.2-1.6l0-1.6l0-1.6l-.3-1.6l-.2-.9l-.5-.7l-1.1-1.3l-.9-.3l-.7-.2l-1.6-.3l-1.6-.3l-1.6-.5l-1.1-.3l-.5-.5l-1.6-.2z" fill="#e2f0ee"/>
<path d="M-.4-2l1.6,0l1.6,0l1.6,0l1.6,0l1.6,0l1.6,0l1,0l-1,1.1l-.4,.5l-1.2,1.6l-.8,1.6l-.8,1.1l-.3,.5l-1.3,1.4l-.2,.2l-1.4,1.2l-.4,.4l-1.2,1.1l-.5,.5l-1.1,1.3l-.3,.3l-1,1.6l-.3,.5l0-.5l0-1.6l0-1.6l0-1.6l0-1.6l0-1.6l0-1.6l0-1.6l0-1.6l0-1.6zM44.4-2l1.6,0l1.6,0l1.6,0l1.6,0l1.6,0l1.6,0l1.6,0l1.6,0l1.6,0l1.6,0l1.6,0l1.6,0l1.6,0l1.6,0l1.6,0l1.6,0l1.6,0l1.6,0l1.6,0l1.6,0l1.6,0l1.6,0l1.6,0l1.6,0l1.6,0l1.6,0l1.6,0l1.6,0l1.6,0l1.6,0l1.6,0l1.6,0l1.6,0l1.6,0l1.6,0l1.6,0l1.6,0l1.6,0l1.6,0l1.6,0l1.6,0l1.6,0l1.6,0l1.6,0l1.6,0l1.6,0l1.6,0l1.6,0l1.6,0l1.6,0l1.6,0l1.6,0l1.6,0l1.6,0l1.6,0l1.6,0l1.6,0l1.6,0l1.6,0l1.6,0l1.6,0l1.6,0l1.6,0l1.6,0l1.6,0l1.6,0l0,1.6l0,1.6l0,1.6l0,1.6l0,1.6l0,1.6l0,1.6l0,1.6l0,1.6l0,1.6l0,1.6l0,1.6l0,1.6l0,1.6l0,1.4l-1.6-.7l-1.6-.6l-.4-.1l-1.2-.4l-1.6-.4l-1.6-.4l-1.6-.3l-.9-.1l-.7-.1l-1.6-.2l-1.6-.1l-1.6,0l-1.6,.1l-1.6,.1l-1.6,.1l-.3,.1l-1.3,.2l-1.6,.3l-1.6,.4l-1.6,.4l-.7,.3l-.9,.3l-1.6,.6l-1.6,.7l-1.6,.8l-1.5,.8l-.1,.1l-1.6,.9l-.8,.6l-.8,.5l-1.4,1.1l-.2,.1l-1.6,1.4l-.1,.1l-1.5,1.3l-.3,.3l-1.3,1.4l-.2,.2l-1.4,1.6l-1.1,1.6l-.5,.7l-.3,.9l-.1,1.6l.1,1.6l-.3,1.6l-.5,1.6l-.5,1.2l-.1,.4l-.5,1.6l-.5,1.6l-.5,1.3l-.1,.3l-.5,1.6l-.6,1.6l-.4,.7l-.5,.9l-1.1,1l-.5,.6l-1.1,.8l-.7,.8l-.9,.8l-.6,.8l-1,1.1l-.4,.5l-1.2,1.6l-.9,1.6l-.5,1.6l-.2,.7l-.5,.9l-1.1,1.4l-.4,.2l-1.2,.8l-.8,.8l-.1,1.6l.9,1.6l1.1,1.6l.5,.9l.3,.7l.5,1.6l.4,1.6l.4,1.3l.1,.3l.9,1.6l.6,.8l1.6,.5l1.6-.3l1.6-.7l.6-.3l1-.6l1.3-1l.3-.2l1.6-1l.8-.4l.8-.4l1.6-.3l1.6,.5l.3,.2l1.3,.7l1.5,.9l.1,.1l1.6,1l1.1,.5l.5,.3l1.6,.4l1.6,0l1.6-.3l1.1-.4l.5-.2l1.6-.9l1-.5l.6-.4l1.6-.9l.8-.3l.8-.4l1.6-.1l1.6,.5l.1,0l1.5-.2l.5-1.4l-.1-1.6l-.4-1.1l-.2-.5l-.7-1.6l-.7-.5l-.6-1.1l-1-1.6l0-.1l-.2-1.5l-.2-1.6l-.1-1.6l-.2-1.6l-.6-1.6l-.3-.5l-.7-1.1l-.9-1.2l-.3-.4l-.8-1.6l-.4-1.6l-.1-.2l-.3-1.4l-.1-1.6l.2-1.6l.1-1.6l.1-.6l.2-1l.1-1.6l0-1.6l-.3-1.6l0-.4l-.1-1.2l.1-.7l.2-.9l1.4-.9l1.6-.6l.4-.1l1.2-.2l1.6,0l1.6,0l1.6,.2l.2,0l1.4,.4l1.6,.4l1.6,.4l.8,.4l.8,.4l1.6,.8l.6,.4l1,.8l1.1,.8l.5,.4l1.2,1.2l.4,.4l1,1.2l.6,1l.4,.6l-.1,1.6l-.3,.6l-.6,1l-.8,1.6l-.2,.2l-.9,1.4l-.7,1.2l-.3,.4l-1,1.6l-.3,.5l-1,1.1l-.3,1.6l.1,1.6l-.3,1.6l-.1,.2l-.9,1.4l-.7,.8l-.8,.8l-.8,.8l-1,.8l-.6,.7l-1,.9l-.5,1.6l1.5,.9l1.6,.5l.4,.2l1.2,.4l1.6,.7l.7,.5l.9,.6l1.5,1l.1,0l1.6,.9l1.6,.7l1.6,.8l1.6,.8l.1,0l1.5,.8l1.4,.8l.2,.1l0,1.5l0,1.6l0,1.6l0,1.6l0,1.6l0,1.6l0,1.6l0,1.6l0,1.6l0,1.6l0,1.6l0,1.6l0,1.6l0,1.6l0,1.6l0,1.6l0,1.6l0,1.6l0,1.6l0,1.6l0,1.6l0,1.6l0,1.6l0,1.6l0,1.6l0,1.6l0,1.6l0,1.6l0,1.6l0,1.6l0,1.6l0,1.6l0,1.6l0,1.6l-1.6,0l-1.6,0l-1.6,0l-1.6,0l-1.6,0l-1.6,0l-1.6,0l-1.6,0l-1.6,0l-1.6,0l-1.6,0l-1.6,0l-1.6,0l-1.6,0l-1.6,0l-1.6,0l-1.6,0l-1.6,0l-1.6,0l-1.6,0l-1.6,0l-1.6,0l-1.6,0l-1.6,0l-1.6,0l-1.6,0l-1.6,0l-1.6,0l-1.6,0l-1.6,0l-1.6,0l-1.6,0l-1.6,0l-1.6,0l-1.6,0l-1.6,0l-1.6,0l-1.6,0l-1.6,0l-1.6,0l-1.6,0l-1.6,0l-1.6,0l-1.6,0l-1.6,0l-1.6,0l-1.6,0l-1.6,0l-1.6,0l-1.6,0l-1.6,0l-1.6,0l-1.6,0l-1.6,0l-1.6,0l-1.6,0l-1.6,0l-1.6,0l-1.6,0l-1.6,0l-1.6,0l-1.6,0l-1.6,0l-1.6,0l-1.6,0l-1.6,0l-1.6,0l-1.6,0l-1.6,0l-1.6,0l-1.6,0l-1.6,0l-1.6,0l-1.6,0l-1.6,0l-1.6,0l-1.6,0l-1.6,0l-1.6,0l-1.6,0l-1.6,0l-1.6,0l-1.6,0l-1.6,0l-1.6,0l-1.6,0l-1.6,0l-1.6,0l-1.6,0l-1.6,0l-1.6,0l-1.6,0l-1.6,0l-1.6,0l-1.6,0l0-1.6l0-1.6l0-1.6l0-1.6l0-1.6l0-1.6l0-1.6l0-1.6l0-1.6l0-1.6l0-1.6l0-1.6l0-1.6l0-1.6l0-1.6l0-1.6l0-1.6l0-1.6l0-1.6l0-1.6l0-1.6l0-1.6l0-1.6l0-1.6l0-1.6l0-1.6l0-1.6l0-1.6l0-1.6l0-1.6l0-1.6l0-1.6l0-1.6l0-1.6l0-1.6l0-1.6l0-1.6l0-1.6l0-1.6l0-1.6l0-1.6l0-1.6l0-1.6l0-1.6l0-1.6l0-1.6l0-1.6l0-1.6l0-1.6l0-1.6l0-1.6l0-1.6l0-1.6l0-1.6l0-1.6l0-1.6l0-1.6l0-1.6l0-1.6l0-1.6l0-1.6l0-1.6l0-1.6l0-1.6l0-1.6l0-1.6l0-1.6l0-1.6l0-1.6l0-1.6l0-1.6l0-1.6l0-1.6l0-.9l.9,.9l.7,.6l1.2,1l.4,.3l1.6,1.3l.1,0l1.5,1.2l.5,.4l1.1,.8l1.1,.8l.5,.4l1.6,.9l1.3,.3l.3,.1l1.6,.1l1.6,0l1.6-.1l1.1-.1l.5,0l1.6-.2l1.6-.3l1.6-.3l1.6-.3l1.6-.4l.4-.1l1.2-.9l.7-.7l.9-1.4l.2-.2l1.4-1.5l.2-.1l1.4-.7l1.6-.3l1.6,0l1.6,.2l1.4,.8l.2,.2l.7,1.4l.6,1.6l.3,.6l.8,1l.8,.7l1.6,.7l.9,.2l.7,.1l1.6,0l1-.1l.6-.1l1.6-.8l.9-.7l.7-1l.3-.6l.4-1.6l.2-1.6l.7-.9l1.2-.7l.4-.1l1.6-1l.8-.5l.8-.7l.8-.9l.8-1l.4-.6l1.1-1.6l.1-.2l.9-1.4l.7-1l.4-.6l.9-1.6l.3-.9l.1-.7l-.1-.2l-.9-1.4l-.7-.7l-1.1-.9l-.5-.4l-1.6-.9l-.7-.3l-.9-.4l-1.6-.6l-1.6-.6l-1.6-.2l-1.6-.1l-1.6-.1l-1.6-.1l-1.6-.1l-1.6-.7l-.2-.3zM69.1,38l-.7,.8l-.6,.8l-1,.7l-1.6,.9l-.1,0l-1.5,.4l-1.6,.3l-1.6,.4l-.7,.5l-.7,1.6l1.2,1.6l.2,.1l1.6,.9l.8,.6l.8,.4l1.6,.8l.9,.4l.7,.3l1.6,.4l1.6,0l1.6-.3l1.3-.4l.3-.2l1.6-.7l1.6-.6l.4-.1l1.2-.7l1.6-.7l.4-.2l1.2-.9l1-.7l.6-1.1l.2-.5l-.2-.4l-1.6-1.1l-.4-.1l-1.2-.1l-1.6-.2l-1.6-.4l-1.5-.9l-.1-.1l-1.6-1.4l-.2-.1l-1.4-1.2l-1.6,.1zM129.2,54l-.3,1.6l.3,.6l.6,1l1,.7l1.6,.8l.4,.1l1.2,.1l.4-.1l-.2-1.6l-.2-.2l-1-1.4l-.6-.7l-.9-.9l-.7-.4l-1.6,.4zM0.8,55.6l-1.2,.3l-.8,1.3l0,1.6l.2,1.6l.4,1.6l.2,.4l.7,1.2l.8,1.6l.1,.2l1,1.4l.6,.7l.8,.9l.8,.8l.9,.8l.7,.6l1.4,1l.2,.2l1.6,.7l1.2,.7l.4,.2l1.6,.5l1.6,.1l1.6-.7l.1-.1l1.5-1.4l.2-.2l1.4-1.4l.2-.2l1.4-1.6l1.3-1.6l.3-.5l.6-1.1l.7-1.6l.3-1.2l.1-.4l.1-1.6l-.2-1.6l0-.1l-.8-1.5l-.8-.7l-1.6-.7l-.5-.2l-1.1-.2l-1.6-.3l-1.6-.1l-1.6,.1l-1.6,.1l-1.6,.1l-1.6,.1l-1.6,0l-1.6,0l-1.6,.1l-1.6,0l-1.6,0zM57.8,78l-.6,1.4l-.1,.2l-.6,1.6l-.5,1.6l.2,1.6l.5,1.6l.5,1.1l.3,.5l1.2,1.6l.1,.1l1.4,1.5l.2,.2l1.6,1.4l1.6,1l.9,.6l.7,.2l1.6,0l.4-.2l.6-1.6l.3-1.6l.3-.8l.3-.8l.9-1.6l.4-.8l.4-.8l.2-1.6l-.1-1.6l-.3-1.6l-.2-.8l-.3-.8l-1.3-1.5l-.3-.1l-1.3-.5l-1.6-.3l-1.6-.3l-1.6-.3l-1.6-.1l-1.6,.6zM138.5,94l-1.1,1.6l-.2,.9l-.1,.7l.1,.9l.1,.7l.7,1.6l.8,1.3l.7,.3l.9,.2l.5-.2l1.1-.6l1.1-1l-.1-1.6l-.7-1.6l-.3-.5l-.7-1.1l-.9-1.3l-.6-.3l-1-.3zM42.8,7l1.6-.3l1.2,.9l.4,.2l.9,1.4l.7,1.6l0,.1l.6,1.5l.5,1.6l.5,1.1l.2,.5l.7,1.6l.2,1.6l-1.1,.7l-1.6,.4l-1.6,0l-1.6-.3l-1.6-.3l-1.6-.4l-.2-.1l-1.4-1.4l-.1-.2l-.1-1.6l-.1-1.6l0-1.6l.1-1.6l.2-.5l.9-1.1l.7-1l1.3-.6z" fill="#b4e2db"/>
<path d="M-1.5,4.4l.3,1.6l-.4,1.6l-.4,1.1l0-1.1l0-1.6l0-1.6l0-1.4zM57.2,22.9l1.6,.1l.9,.6l.7,.6l1.3,1l.3,.7l1,.9l.6,1.1l.2,.5l-.2,1.6l0,.1l-1.6,.1l-.1-.2l-1.5-1.4l-.9-.2l-.7-.1l-1.6-.2l-.9-1.3l0-1.6l.3-1.6zM31.6,24.6l1.6,0l.6,.6l.6,1.6l.1,1.6l-.1,1.6l.4,1.1l1.4,.5l.2,0l1.6-.5l1.6-.4l1.6-.3l1.6-.1l1.6,.1l1.6,.6l1.2,.6l.4,.9l.5,.7l.3,1.6l.5,1.6l.3,.5l1,1.1l.6,.9l.4,.7l.5,1.6l.5,1.6l.2,.2l1.1,1.4l.5,.2l1.6,1.1l.4,.3l1.2,.8l1.6,.8l.1,0l1.5,.9l1.5,.7l.1,.1l1.6,1l1.1,.5l.5,.4l1.6,.9l.8,.3l.8,.6l1.6,.7l1.6,0l1.6-.9l.6-.4l1-.3l1.6-.3l1.6-.3l1.6-.4l1.6-.2l1.6,.8l.5,.7l.9,1.6l.2,.4l.9,1.2l.7,.9l.5,.7l-.5,.9l-.5,.7l-1.1,.4l-1.6,.5l-1.2,.7l-.4,.2l-1.6,1l-.6,.4l-1,.6l-1.6,.1l-1.1-.7l-.5-.6l-.5-1l-.7-1.6l-.4-.7l-.9-.9l-.7-.7l-1.2,.7l-.4,.2l-.8,1.4l-.8,1.2l-.3,.4l-1.3,1.5l-.3,.1l-1.3,.6l-1.6,0l-1.6,.1l-1.3,.9l-.3,.2l-1.1,1.4l-.5,.7l-.6,.9l-1,1l-1.1,.6l-.5,.2l-1.6,.4l-1.6,.2l-1.6,0l-1.6,0l-1.6,.7l-.1,.1l.1,.9l.1,.7l.6,1.6l.6,1.6l.3,.7l.4,.9l1,1.6l.2,.2l.7,1.4l.8,1.6l.1,.1l.8,1.5l.8,1.6l0,.1l.8,1.5l.8,1.2l.2,.4l1.1,1.6l.3,.4l1,1.2l.6,.7l.9,.9l.7,.7l1,.9l.6,.5l1.6,.9l.4,.2l1.2,.5l1.6,0l1.6-.4l.2-.1l1.4-.8l1.6-.5l1.6-.2l1.6-.1l.3,0l1.3-.2l1.6-.5l1.6-.7l.5-.2l1.1-.8l1.3-.8l.3-.2l1.6-.6l1.6,0l1.6,.7l.1,.1l1.5,.3l1.6,.2l1.6,.1l1.6-.1l1.6-.1l1.6,.1l1.6,.4l1.6,.7l1.6,.6l1.6,.5l1.6,.4l1.6-.1l1.6-.8l.5-.6l1-1.6l.1-.3l.4-1.3l.4-1.6l.8-1.3l.2-.3l1.4-.6l1.6-.5l1.2-.5l.4-.1l1.6-.4l1.6-.2l1.6,.6l.1,.1l.9,1.6l.6,1.6l.8,1.6l.8,1.2l.4,.4l1.2,.9l.8,.7l.8,.6l1.2,1l.4,.4l1.3,1.2l-.3,1.6l-.4,1.6l.3,1.6l.7,1.2l.2,.4l1,1.6l.4,.6l.4,1l0,1.6l-.4,.6l-.8,1l-.8,.8l-.9,.8l-.7,.6l-1.2,1l-.4,.4l-1.5,1.2l-.1,.2l-1.2,1.4l-.4,1.4l-.1,.2l.1,.4l.3,1.2l.6,1.6l.7,1.6l0,.1l.6,1.5l.6,1.6l.4,1.1l.2,.5l.6,1.6l.6,1.6l.2,.6l.4,1l.6,1.6l.6,1.6l0,.1l.6,1.5l-.6,0l-1.6,0l-1.6,0l-1.6,0l-1.6,0l-1.6,0l-1.6,0l-1.6,0l-1.6,0l-1.6,0l-1.6,0l-1.6,0l-1.6,0l-1.6,0l-1.6,0l-1.6,0l-1.6,0l-1.6,0l-1.6,0l-1.6,0l-1.6,0l-1.6,0l-1.6,0l-1.6,0l-1.6,0l-1.6,0l-1.6,0l-1.6,0l-1.6,0l-1.6,0l-1.6,0l-1.6,0l-1.6,0l-1.6,0l-1.6,0l-1.6,0l-1.6,0l-1.6,0l-1.6,0l-1.6,0l-1.6,0l-1.6,0l-1.6,0l-1.6,0l-1.6,0l-1.6,0l-1.6,0l-1.6,0l-1.6,0l-1.6,0l-1.6,0l-1.6,0l-1.6,0l-1.6,0l-1.6,0l-1.6,0l-1.6,0l-1.6,0l-1.6,0l-1.6,0l-1.6,0l-1.6,0l-1.6,0l-1.6,0l-1.6,0l-1.6,0l-1.6,0l-1.6,0l-1.6,0l-1.6,0l-1.6,0l-1.6,0l-1.6,0l-1.6,0l-1.6,0l-1.6,0l-1.6,0l-1.6,0l-1.6,0l-1.6,0l-1.6,0l-1.6,0l-1.6,0l-1.6,0l0-1.6l0-1.6l0-1.6l0-1.6l0-1.6l0-1.6l0-1.6l0-1.6l0-1.6l0-1.6l0-1.6l0-1.6l0-1.6l0-1.6l0-1.6l0-1.6l0-1.6l0-1.6l0-1.6l0-1.6l0-1.6l0-1.6l0-1.6l0-1.6l0-1.6l0-1.6l0-1.6l0-1.6l0-1.6l0-1.6l0-1.6l0-1.6l0-1.6l0-1.6l0-1.6l0-1.6l0-1.6l0-1.6l0-1.6l0-1.6l0-1.6l0-1.6l0-1.6l0-1.6l0-1.6l0-1.6l0-.4l.1,.4l.5,1.6l1,1.5l.1,.1l.8,1.6l.7,.8l.6,.8l1,1.1l.5,.5l1.1,1l.7,.6l.9,.7l1.6,.9l.1,0l1.5,1l1.6,.5l.3,.1l1.3,.6l1.6,.3l1.6-.7l.3-.2l1.3-1l.6-.6l1-1l.6-.6l1-1.1l.5-.5l1.1-1.3l.3-.3l1.2-1.6l.1-.2l.9-1.4l.6-1.6l.1-.6l.3-1l.3-1.6l.1-1.6l-.2-1.6l-.5-1.5l-.1-.1l-1.4-1.6l-.1-.1l-1.6-.6l-1.6-.3l-1.6-.2l-1.6-.1l-1.6-.2l-1.6-.1l-1.6,.1l-1.6,.1l-1.6,.1l-1.6,.1l-1.6,.1l-1.6,0l-1.6,0l-1.6,.1l-1.6,0l-1.6,.4l0-1l0-1.6l0-1.6l0-1.6l0-.4l1-1.2l.6-.8l.6-.8l1-1.5l.1-.1l1.1-1.6l.4-.5l1.6-1l1.6,.4l1.2,1.1l.4,.2l1.6,.5l.5-.7l-.4-1.6l-.1-.2l-.9-1.4l-.7-1.2l-.8-.4l-.8-.6l-1.6-.1l-.9-.9l-.7-.7l-.6-.9l-.5-1.6l.3-1.6l.8-1.1l1.2-.5l.4-.1l.1,.1l1.5,1.5l.4,.1l1.2,.6l.9-.6l.7-.1l1.6-.5l1.6-.5l1.6-.3l1.2-.2l.4-.1l1.6-.1l1.6-.2l1.6-.2l1.6-.2l1.6-.3l1.6-.3l1.6,0l1.6-.2l1.6-1.2l.6-.4zM31.4,36.4l.2,.2l0-.2zM33.1,81.2l.1,.6l.3,1l1,1.6l.3,.3l1.6,.3l1.6-.3l.6-.3l-.1-1.6l-.5-.4l-1.6-.7l-1-.5l-.6-.3l-1.6,.1zM76.4,77.8l1.6-1.1l1.6-.1l1.6,.7l.8,.7l.8,1.5l0,.1l0,.1l-.7,1.5l-.9,.6l-1.6,.3l-1.6-.2l-1.4-.7l-.2-.4l-.4-1.2l.3-1.6zM137.2,80.4l1.6,.8l.1,0l1.5,1.4l.1,.2l-.1,.1l-1.6,.8l-.9-.9l-.7-.8l-.5-.8z" fill="#79c8bc"/>
<path d="M18.8,29.9l1.6-.2l1.6-.2l1.6-.3l1.6-.3l1.6,.5l.6,.6l.2,1.6l-.8,1.3l-.3,.3l-1.3,1.2l-.7,.4l-.9,.8l-1.6,.8l-1.6,1.3l-.3,.3l-.2,1.6l.5,.3l1.6,.8l.7,.5l.9,.5l1.6,.9l.3,.2l1.3,.7l1.6,.1l1.6-.3l1.6-.4l.9-.1l.7-.1l1.6,.1l.1,0l1.5,.4l1.6,1.1l.2,.1l1.4,1.5l.1,.1l1,1.6l.4,1.6l.1,1.6l0,.2l.2,1.4l1,1.6l.4,.3l1.6,1.1l.5,.2l1.1,.4l1.6,0l1.6-.4l.1,0l1.5-.3l1.6-.2l1.6,.4l.1,.1l1,1.6l.5,1.5l0,.1l.2,1.6l-.1,1.6l-.1,.2l-.8,1.4l-.8,.6l-1.6,.5l-1.6-.3l-1.6-.8l-.1,0l-1.5-1l-1.6-.6l-1.6,.1l-1.6,.5l-1.6,.8l-.4,.2l-1.2,1l-1.1,.6l-.5,.3l-1.6-.1l-.3-.2l-.3-1.6l.6-.8l.5-.8l1-1.6l.1-.2l.5-1.4l.3-1.6l-.3-1.6l-.5-.5l-1.6-.3l-1.6,0l-1.6,.2l-1.6,.1l-1.6,0l-1.6-.9l-.1-.2l-1.2-1.6l-.3-.4l-1.5-1.2l-.1-.1l-1.6-.5l-1.6-.2l-1.6-.1l-1.6-.1l-1.6,0l-1.6-.2l-1.4-.4l-.2-.1l-1.4-1.5l.2-1.6l1.1-1.6l.1-.1l1.3-1.5l.3-.7l.7-.9l-.5-1.6l-.2-.1l-1.1-1.5l-.5-.7l-.3-.9l-.3-1.6l.1-1.6l.5-1.3l.2-.3l1.4-.8l1.6-.7l.4-.1zM6,47.2l1.6-.8l1.6,.1l1.6,1l.8,.1l-.8,.4l-.8,1.2l-.8,.2l-1.6,.3l-1.6,0l-1.6-.5l1.1-1.6zM50.8,84.3l.1,.1l1.5,1.5l.1,.1l1,1.6l.5,.5l.7,1.1l.9,1.1l.3,.5l1,1.6l.3,1.1l.2,.5l-.2,1.5l0,.1l-.3,1.6l.1,1.6l.2,.9l.2,.7l.7,1.6l.7,.7l1.6,.4l1.6-.1l1.5-1l-.3-1.6l0-1.6l.4-.2l1.6-.3l1.6-.4l1.2-.7l.4-.1l1.6-.5l1.6-.4l1.6-.2l1.6-.1l1.6,0l1.6-.2l.5-.1l1.1-.2l1.6-.5l1.6-.6l.7-.3l.9-.4l1.6-.4l1.6-.2l1.6,0l1.6,.1l1.6,0l1.6,.1l1.6,0l1.6,.2l1.6,.5l.2,.1l1.4,1l1,.6l.6,.6l1.2,1l.4,.3l1.6,1.3l.1,0l1.5,1.1l.7,.5l.9,1l.6,.6l.8,1.6l.2,.8l.3,.8l.5,1.6l.6,1.6l.2,.5l.6,1.1l1,1.5l0,.1l1.1,1.6l.5,.7l.6,.9l.4,1.6l-.6,1.6l-.4,.5l-1,1.1l-.6,.6l-1.1,1l-.5,.4l-1.5,1.2l-.1,.1l-1.6,1l-.6,.5l-1,.7l-1.6,.9l-1.6,1.1l-.9,.5l-.7,.6l-1.3,1l-.3,.3l-1.5,1.3l-.1,.1l-1.6,1.2l-.4,.3l-1.2,.8l-1.6,.8l-1.6,.8l-1.6,.5l-1.2,.3l-.4,0l-1.6,0l-.3,0l-1.3-1.1l-.3-.5l-.9-1.6l-.4-.6l-.6-1l-1-1.5l-.1-.1l-1.4-1.6l-.1-.1l-1.6-.9l-1.6-.5l-1.6,0l-1.6,.3l-1.6,.5l-1.6,.4l-1,.3l-.6,.3l-1.6,.7l-1.5,.6l-.1,.1l-1.6,1.4l-.1,.1l-.6,1.6l-.2,1.6l0,1.6l-.7,0l-1.6,0l-1.6,0l-1.6,0l-1.6,0l-1.6,0l-1.6,0l-1.6,0l-1.6,0l-1.6,0l-1.6,0l-1.6,0l-1.6,0l-1.6,0l-1.6,0l-1.6,0l-1.6,0l-1.6,0l-1.6,0l-1.6,0l-1.6,0l-1.6,0l-1-1.6l-.6-1.2l-.2-.4l-.7-1.6l-.7-1.6l0-.1l-.5-1.5l-.6-1.6l-.4-1.6l-.1-.4l-.3-1.2l-.4-1.6l-.3-1.6l-.3-1.6l-.2-1.6l-.1-.4l-.2-1.2l-.1-1.6l-.2-1.6l0-1.6l-.1-1.6l.1-1.6l0-1.6l0-1.6l0-1.6l.1-1.6l.4-1.1l.1-.5l1.5-1.3l.4-.3l1.2-.8l1.5-.8l.1-.1l1.6-1l.9-.5l.7-.4l1.6-1l.4-.2l1.2-.8l1.2-.8l.4-.2l1.6-.7l1.6-.4l1-.3l.6-.2l1.6-.6l1.5-.8l.1-.1l1.6-1.1l.8-.4l.8-.5l1.6-.9l1-.2z" fill="#3b9b93"/>
<path d="M84.4,95.5l1.6-.4l1.6-.3l1.6-.1l1.6,.2l1.6,.2l1.6,.2l1.3,.3l.3,.2l1.2,1.4l.4,.6l.5,1l.6,1.6l.5,1.5l0,.1l.5,1.6l.1,1.6l-.1,1.6l-.3,1.6l-.2,1.3l0,.3l-.1,1.6l.1,1.6l0,.2l0,1.4l0,1.6l-1.6-.1l-1.6-1l-.6-.5l-1-1l-.5-.6l-1.1-1.5l0-.1l-.9-1.6l-.6-1.6l-.1-.3l-.3-1.3l-.2-1.6l-.4-1.6l-.7-1.4l-.1-.2l-1.3-1.6l-.2-.2l-1.6-1l-.8-.4l-.8-.5l-1.3-1.1l1.1-1.6zM34.8,96.9l1.6-.6l1.6-.6l1.6,.2l1.6,1.2l.1,.1l1.5,.7l1.6,.3l1.6,.3l.4,.3l1.2,.9l.4,.7l.3,1.6l-.6,1.6l-.1,.1l-1.6,1l-1,.5l-.6,.3l-1.6,1.1l-.2,.2l-1.4,1.1l-.6,.5l-1,.8l-.8,.8l-.8,.6l-1.3,1l-.3,.2l-1.6,0l-.3-.2l-1.3-.9l-.8-.7l-.8-.8l-.7-.8l-.9-1.1l-.3-.5l-.9-1.6l-.4-.7l-.3-.9l-.3-1.6l.3-1.6l.3-.4l1.6-1l.4-.2l1.2-.5l1.6-.7l.8-.4zM60.4,111.6l1.6-.5l1.6,.1l1.6,.2l1.5,.2l.1,0l.9,1.6l-.8,1.6l-.1,.2l-.7,1.4l-.6,1.6l-.3,.9l-.2,.7l-.2,1.6l-.1,1.6l.2,1.6l0,1.6l-.5,1.6l-.8,.7l-.5,.9l-1,1.6l-.1,.2l-.8,1.4l-.4,1.6l-.2,1.6l-.2,0l-1.6,0l-1.6,0l-1.6,0l-1.6,0l-1.6,0l-1.6,0l-1.6,0l-1.6,0l-1.6,0l-1.6,0l-1.6,0l-1.6,0l-.6,0l-1-1.1l-.4-.5l-1.2-1.6l-.6-1.6l-1-1.6l-.4-1.6l-.3-1.6l-.3-1.6l-.2-1.6l-.1-1.6l.1-1.6l.3-1.6l.5-1.6l.4-1.1l.8-.5l.8-.3l1.6,0l1.6,0l1.6,.1l1.6,0l1.6,.1l.8,.1l.8,.1l1.6,.1l1.6,0l1.6-.1l1.1-.1l.5,0l1.6-.4l1.6-.7l.8-.5l.8-.5l1.6-1.1z" fill="#0c7169"/>
<path d="M57.2,124l.7,.4l-.1,1.6l-.6,.6l-1,1l-.6,.3l-1.6,.8l-1.6-.9l-.1-.2l-.1-1.6l.2-.5l1.6-.4l1.6-.5l.4-.2z" fill="#004c42"/>
<g fill="#000"><circle cx="47.4" cy="28.8" r="0.9"/><circle cx="34.4" cy="37.4" r="1.55"/><circle cx="43" cy="37.4" r="1.55"/><circle cx="77.6" cy="37.4" r="1.55"/><circle cx="30.1" cy="46.1" r="0.9"/><circle cx="38.7" cy="46.1" r="1.55"/><circle cx="47.4" cy="46.1" r="1.55"/><circle cx="81.9" cy="46.1" r="1.55"/><circle cx="34.4" cy="54.7" r="1.55"/><circle cx="43" cy="54.7" r="1.55"/><circle cx="60.3" cy="54.7" r="1.55"/><circle cx="69" cy="54.7" r="1.55"/><circle cx="77.6" cy="54.7" r="1.55"/><circle cx="86.2" cy="54.7" r="1.55"/><circle cx="38.7" cy="63.3" r="1.55"/><circle cx="47.4" cy="63.3" r="1.55"/><circle cx="56" cy="63.3" r="1.55"/><circle cx="64.6" cy="63.3" r="1.55"/><circle cx="73.3" cy="63.3" r="1.55"/><circle cx="81.9" cy="63.3" r="1.55"/><circle cx="90.6" cy="63.3" r="1.55"/><circle cx="34.4" cy="72" r="1.55"/><circle cx="43" cy="72" r="1.55"/><circle cx="51.7" cy="72" r="1.55"/><circle cx="60.3" cy="72" r="1.55"/><circle cx="69" cy="72" r="1.55"/><circle cx="77.6" cy="72" r="0.9"/><circle cx="47.4" cy="80.6" r="1.55"/><circle cx="56" cy="80.6" r="1.55"/><circle cx="64.6" cy="80.6" r="0.9"/><circle cx="73.3" cy="80.6" r="1.55"/><circle cx="81.9" cy="80.6" r="1.55"/><circle cx="90.6" cy="80.6" r="1.55"/><circle cx="43" cy="89.3" r="1.55"/><circle cx="51.7" cy="89.3" r="1.55"/><circle cx="77.6" cy="89.3" r="1.55"/><circle cx="94.9" cy="89.3" r="1.55"/><circle cx="103.5" cy="89.3" r="1.55"/><circle cx="47.4" cy="97.9" r="1.55"/><circle cx="56" cy="97.9" r="1.55"/><circle cx="64.6" cy="97.9" r="1.55"/><circle cx="73.3" cy="97.9" r="1.55"/><circle cx="81.9" cy="97.9" r="1.55"/><circle cx="90.6" cy="97.9" r="1.55"/><circle cx="99.2" cy="97.9" r="1.55"/><circle cx="107.8" cy="97.9" r="1.55"/><circle cx="51.7" cy="106.5" r="1.55"/><circle cx="60.3" cy="106.5" r="1.55"/><circle cx="69" cy="106.5" r="1.55"/><circle cx="77.6" cy="106.5" r="1.55"/><circle cx="86.2" cy="106.5" r="1.55"/><circle cx="94.9" cy="106.5" r="1.55"/><circle cx="56" cy="115.2" r="1.55"/><circle cx="64.6" cy="115.2" r="1.55"/><circle cx="73.3" cy="115.2" r="1.55"/><circle cx="81.9" cy="115.2" r="1.55"/><circle cx="90.6" cy="115.2" r="1.55"/><circle cx="60.3" cy="123.8" r="1.55"/></g>
</g>
<use href="#ov"/><use href="#fr"/>
<text x="1.5" y="-8.9" font-size="10.6">(e)</text>
</g>
<g transform="translate(450.0,207.9)">
<g clip-path="url(#land)">
<rect x="-2" y="-2" width="151.7" height="136.8" fill="#f5f0e0"/>
<path d="M-.4-2l1.6,0l1.6,0l1.6,0l1.6,0l1.6,0l1.6,0l1.6,0l1.6,0l1.6,0l1.6,0l1.6,0l1.6,0l1.6,0l1.6,0l1.6,0l1.6,0l1.6,0l1.6,0l1.6,0l1.6,0l1.6,0l1.6,0l1.6,0l1.6,0l1.6,0l1.6,0l1.6,0l1.6,0l1.6,0l1.6,0l1.6,0l1.6,0l1.6,0l1.6,0l1.6,0l1.6,0l1.6,0l1.6,0l1.6,0l1.6,0l1.6,0l1.6,0l1.6,0l1.6,0l1.6,0l1.6,0l1.6,0l1.6,0l1.6,0l1.6,0l1.6,0l1.6,0l1.6,0l1.6,0l1.6,0l1.6,0l1.6,0l1.6,0l1.6,0l1.6,0l1.6,0l1.6,0l1.6,0l1.6,0l1.6,0l1.6,0l1.6,0l1.6,0l1.6,0l1.6,0l1.6,0l1.6,0l1.6,0l1.6,0l1.6,0l1.6,0l1.6,0l1.6,0l1.6,0l1.6,0l1.6,0l1.6,0l1.6,0l1.6,0l1.6,0l1.6,0l1.6,0l1.6,0l1.6,0l1.6,0l1.6,0l1.6,0l1.6,0l1.6,0l0,1.6l0,1.6l0,1.6l0,1.6l0,1.6l0,1.6l0,1.6l0,1.6l0,1.6l0,1.6l0,1.6l0,1.6l0,1.6l0,1.6l0,1.6l0,1.6l0,1.6l0,1.6l0,1.6l0,1.6l0,1.6l0,1.6l0,1.6l0,1.6l0,1.6l0,1.6l0,1.6l0,1.6l0,1.6l0,1.6l0,1.6l0,1.6l0,1.6l0,1.6l0,1.6l0,1.6l0,1.6l0,1.6l0,1.6l0,1.6l0,1.6l0,1.6l0,1.6l0,1.6l0,1.6l0,1.6l0,1.6l0,1.6l0,1.6l0,1.6l0,1.6l0,1.6l0,1.6l0,1.6l0,1.6l0,1.6l0,1.6l0,1.6l0,1.6l0,1.6l0,1.6l0,1.6l0,1.6l0,1.6l0,1.6l0,1.6l0,1.6l0,1.6l0,1.6l0,1.6l0,1.6l0,1.6l0,1.6l0,1.6l0,1.6l0,1.6l0,1.6l0,1.6l0,1.6l0,1.6l0,1.6l0,1.6l0,1.6l0,1.6l0,1.6l0,1.6l-1.6,0l-1.6,0l-1.6,0l-1.6,0l-1.6,0l-1.6,0l-1.6,0l-1.6,0l-1.6,0l-1.6,0l-1.6,0l-1.6,0l-1.6,0l-1.6,0l-1.6,0l-1.6,0l-1.6,0l-1.6,0l-1.6,0l-1.6,0l-1.6,0l-1.6,0l-1.6,0l-1.6,0l-1.6,0l-1.6,0l-1.6,0l-1.6,0l-1.6,0l-1.6,0l-1.6,0l-1.6,0l-1.6,0l-1.6,0l-1.6,0l-1.6,0l-1.6,0l-1.6,0l-1.6,0l-1.6,0l-1.6,0l-1.6,0l-1.6,0l-1.6,0l-1.6,0l-1.6,0l-1.6,0l-1.6,0l-1.6,0l-1.6,0l-1.6,0l-1.6,0l-1.6,0l-1.6,0l-1.6,0l-1.6,0l-1.6,0l-1.6,0l-1.6,0l-1.6,0l-1.6,0l-1.6,0l-1.6,0l-1.6,0l-1.6,0l-1.6,0l-1.6,0l-1.6,0l-1.6,0l-1.6,0l-1.6,0l-1.6,0l-1.6,0l-1.6,0l-1.6,0l-1.6,0l-1.6,0l-1.6,0l-1.6,0l-1.6,0l-1.6,0l-1.6,0l-1.6,0l-1.6,0l-1.6,0l-1.6,0l-1.6,0l-1.6,0l-1.6,0l-1.6,0l-1.6,0l-1.6,0l-1.6,0l-1.6,0l-1.6,0l0-1.6l0-1.6l0-1.6l0-1.6l0-1.6l0-1.6l0-1.6l0-1.6l0-1.6l0-1.6l0-1.6l0-1.6l0-1.6l0-1.6l0-1.6l0-1.6l0-1.6l0-1.6l0-1.6l0-1.6l0-1.6l0-1.6l0-1.6l0-1.6l0-1.6l0-1.6l0-1.6l0-1.6l0-1.6l0-1.6l0-1.6l0-1.6l0-1.6l0-1.6l0-1.6l0-1.6l0-1.6l0-1.6l0-1.6l0-1.6l0-1.6l0-1.6l0-1.6l0-1.6l0-1.6l0-1.6l0-1.6l0-1.6l0-1.6l0-1.6l0-1.6l0-1.6l0-1.6l0-1.6l0-1.6l0-1.6l0-1.6l0-1.6l0-1.6l0-1.6l0-1.6l0-1.6l0-1.6l0-1.6l0-1.6l0-1.6l0-1.6l0-1.6l0-1.6l0-1.6l0-1.6l0-1.6l0-1.6l0-.3l.4,.3l1.2,.7l1.5,.9l.1,0l1.6,.8l1.4,.8l.2,.1l1.6,.7l1.5,.8l.1,.1l1.6,.7l1.6,.6l1.6-.1l1.6-.2l1.6-.1l1.6-.1l1.6-.3l1.6-.4l.7-.2l.9-.4l1.6-.1l1.6,.5l1.6,.1l.3-.1l1.3-.8l.6-.8l.3-1.6l-.7-1.6l-.2-.2l-1.6-.8l-1.6,0l-1.6,.7l-.5,.3l-1.1,.5l-1.6,.1l-1.6-.4l-.4-.2l-1.2-.6l-1-1l-.6-.6l-.9-1l-.7-.7l-.9-.9l-.7-.6l-1.1-1l-.5-.4l-1.3-1.2l-.3-.3l-1.6-1.3l-1.6-1.2l-1.3-.4l-.3,0l-.1,0l-1.5,.8l-1,.8l-.6,.5l-1,1.1l-.6,.6l-.7,1l-.9,1.3l0-1.3l0-1.6l0-1.6l0-1.6l0-1.6l0-1.6l0-1.6l0-1.6l0-1.6l0-1.6z" fill="#e2f0ee"/>
<path d="M-.4-2l1.6,0l1.6,0l1.6,0l1.6,0l1.6,0l1.6,0l1.6,0l1.1,0l-1.1,1l-.7,.6l-.9,1l-.5,.6l-1.1,1.2l-.3,.4l-1.3,1.3l-.2,.3l-1.4,1l-.7,.6l-.9,.6l-1.2,1l-.4,.3l-1.3,1.3l-.3,.3l-1.1,1.3l-.5,.6l0-.6l0-1.6l0-1.6l0-1.6l0-1.6l0-1.6l0-1.6l0-1.6l0-1.6zM42.8-2l1.6,0l1.6,0l1.6,0l1.6,0l1.6,0l1.6,0l1.6,0l1.6,0l1.6,0l1.6,0l1.6,0l1.6,0l1.6,0l1.6,0l1.6,0l1.6,0l1.6,0l1.6,0l1.6,0l1.6,0l1.6,0l1.6,0l1.6,0l1.6,0l1.6,0l1.6,0l1.6,0l1.6,0l1.6,0l1.6,0l1.6,0l1.6,0l1.6,0l1.6,0l1.6,0l1.6,0l1.6,0l1.6,0l1.6,0l1.6,0l1.6,0l1.6,0l1.6,0l1.6,0l1.6,0l1.6,0l1.6,0l1.6,0l1.6,0l1.6,0l1.6,0l1.6,0l1.6,0l1.6,0l1.6,0l1.6,0l1.6,0l1.6,0l1.6,0l1.6,0l1.6,0l1.6,0l1.6,0l1.6,0l1.6,0l1.6,0l1.6,0l0,1.6l0,1.6l0,1.6l0,1.6l0,1.6l0,1.6l0,1.6l0,1.6l0,1.6l0,1.6l0,1.6l0,1.6l0,1.6l0,1.6l0,1.6l0,1.6l0,1.6l0,1.6l0,1.6l0,1.6l0,1.6l0,1.6l0,1.6l0,1.6l0,1.6l0,1.6l0,1.6l0,1.6l0,1.6l0,1.6l0,1.6l0,1.6l0,.1l-.1-.1l-1.5-1.1l-.7-.5l-.9-.5l-1.6-.7l-1.6,0l-1.3,1.2l-.3,.4l-.8,1.2l-.8,1.2l-.3,.4l-1,1.6l-.3,.4l-.7,1.2l-.6,1.6l.3,1.6l1,1.1l.5,.5l1.1,.7l1.1,.9l.5,.5l.8,1.1l.5,1.6l-.3,1.6l-1,1.6l-.7,1.6l-.2,1.6l.1,1.6l.5,1.6l.3,.4l.6,1.2l1,1.1l.4,.5l1.2,.9l1.2,.7l.4,.2l1.6,1l.6,.4l1,.6l0,1l0,1.6l0,1.6l0,1.6l0,1.6l0,1.6l0,1.6l0,1.6l0,1.6l0,1.6l0,1.6l0,1.6l0,1.6l0,1.6l0,1.6l0,1.6l0,1.6l0,1.6l0,1.6l0,1.6l0,1.6l0,1.6l0,1.6l0,1.6l0,1.6l0,1.6l0,1.6l0,1.6l0,1.6l0,1.6l0,1.6l0,1.6l0,1.6l0,1.6l0,1.6l-1.6,0l-1.6,0l-1.6,0l-1.6,0l-1.6,0l-1.6,0l-1.6,0l-1.6,0l-1.6,0l-1.6,0l-1.6,0l-1.6,0l-1.6,0l-1.6,0l-1.6,0l-1.6,0l-1.6,0l-1.6,0l-1.6,0l-1.6,0l-1.6,0l-1.6,0l-1.6,0l-1.6,0l-1.6,0l-1.6,0l-1.6,0l-1.6,0l-1.6,0l-1.6,0l-1.6,0l-1.6,0l-1.6,0l-1.6,0l-1.6,0l-1.6,0l-1.6,0l-1.6,0l-1.6,0l-1.6,0l-1.6,0l-1.6,0l-1.6,0l-1.6,0l-1.6,0l-1.6,0l-1.6,0l-1.6,0l-1.6,0l-1.6,0l-1.6,0l-1.6,0l-1.6,0l-1.6,0l-1.6,0l-1.6,0l-1.6,0l-1.6,0l-1.6,0l-1.6,0l-1.6,0l-1.6,0l-1.6,0l-1.6,0l-1.6,0l-1.6,0l-1.6,0l-1.6,0l-1.6,0l-1.6,0l-1.6,0l-1.6,0l-1.6,0l-1.6,0l-1.6,0l-1.6,0l-1.6,0l-1.6,0l-1.6,0l-1.6,0l-1.6,0l-1.6,0l-1.6,0l-1.6,0l-1.6,0l-1.6,0l-1.6,0l-1.6,0l-1.6,0l-1.6,0l-1.6,0l-1.6,0l-1.6,0l-1.6,0l-1.6,0l0-1.6l0-1.6l0-1.6l0-1.6l0-1.6l0-1.6l0-1.6l0-1.6l0-1.6l0-1.6l0-1.6l0-1.6l0-1.6l0-1.6l0-1.6l0-1.6l0-1.6l0-1.6l0-1.6l0-1.6l0-1.6l0-1.6l0-1.6l0-1.6l0-1.6l0-1.6l0-1.6l0-1.6l0-1.6l0-1.6l0-1.6l0-1.6l0-1.6l0-1.6l0-1.6l0-1.6l0-1.6l0-1.6l0-1.6l0-1.6l0-1.6l0-1.6l0-1.6l0-1.6l0-1.6l0-1.6l0-1.6l0-1.6l0-1.6l0-1.6l0-1.6l0-1.6l0-1.6l0-1.6l0-1.6l0-1.6l0-1.6l0-1.6l0-1.6l0-1.6l0-1.6l0-1.6l0-1.6l0-1.6l0-1.6l0-1.6l0-1.6l0-1.6l0-1.6l0-1.6l0-1.6l0-.5l.8,.5l.8,.4l1.6,.9l.7,.3l.9,.5l1.6,.8l.5,.3l1.1,.9l1.2,.7l.4,.3l1.6,.4l1.6,.2l1.6-.1l1.6-.1l1.6-.2l1.6-.2l1.2-.3l.4-.1l1.6-.6l1.6-.5l1.6,0l1.6,.4l1.4,.8l.2,.1l1.6,.9l1,.6l.6,.4l1.6,.7l1.6,.1l1.3-1.2l.3-.3l1.5-1.3l.1,0l1.6-.8l1-.8l.6-.3l1.6-1.2l.1-.1l1.5-1.2l.5-.4l1.1-1l.7-.6l.9-1.1l.5-.5l1-1.6l.1-.3l.3-1.3l-.3-1l-.2-.6l-.5-1.6l.2-1.6l.5-.8l.5-.8l1.1-1.6l0-.1l.9-1.5l.3-1.6l-.8-1.6l-.4-.2l-1.4-1.4l-.2-.1l-1.6-1l-.6-.5l-1-.4l-1.6-.7l-1-.5zM1.9,57.2l-.4,1.6l.2,1.6l.4,1.6l.4,1.6l.3,.8l.5,.8l.9,1.6l.2,.4l1.5,1.2l.1,.1l1-.1l.6-.1l1.6-.9l1.2-.6l.4-.3l1.6-.9l.7-.4l.9-.6l1.6-1l1.6-1.5l.1-.1l.8-1.6l-.3-1.6l-.6-.6l-1.1-1l-.5-.2l-1.6-.7l-1.6-.3l-1.6-.2l-1.6-.1l-1.6,0l-1.6,0l-1.6,0l-1.6,.3zM101.7,58.8l-1.3,1.1l-.4,.5l-.2,1.6l.6,.8l1.6,.5l1.6-.5l1.1-.8l.5-1l.2-.6l-.2-.8l-.4-.8l-1.2-.4l-1.6,.2z" fill="#b4e2db"/>
<path d="M-.4-2l1.6,0l1.6,0l1.6,0l.9,0l-.9,1.4l-.1,.2l-1.1,1.6l-.4,.8l-.5,.8l-1,1.6l-.1,.1l-1.3,1.5l-.3,.3l-1.1,1.3l-.5,.7l0-.7l0-1.6l0-1.6l0-1.6l0-1.6l0-1.6l0-1.6zM49.2-2l1.6,0l1.6,0l1.6,0l1.6,0l1.6,0l1.6,0l1.6,0l1.6,0l1.6,0l1.6,0l1.6,0l1.6,0l1.6,0l1.6,0l1.6,0l1.6,0l1.6,0l1.6,0l1.6,0l1.6,0l1.6,0l1.6,0l1.6,0l1.6,0l1.6,0l1.6,0l1.6,0l1.6,0l1.6,0l1.6,0l1.6,0l1.6,0l1.6,0l1.6,0l1.6,0l1.6,0l1.6,0l1.6,0l1.6,0l1.6,0l1.6,0l1.6,0l1.6,0l1.6,0l1.6,0l1.6,0l1.6,0l1.6,0l1.6,0l1.6,0l1.6,0l1.6,0l1.6,0l1.6,0l1.6,0l1.6,0l1.6,0l1.6,0l1.6,0l1.6,0l1.6,0l1.6,0l1.6,0l0,1.6l0,1.6l0,1.6l0,1.6l0,1.6l0,1.6l0,1.6l0,1.6l0,1.6l0,1.6l0,1.6l0,1.6l0,1.6l0,1.6l0,1.6l0,1.6l0,1.6l0,1.6l0,1.6l0,1.6l0,1.6l0,1.6l0,1.6l0,1.6l0,1.6l0,1.6l0,1.6l0,.6l-1.6-.6l-1.6-.6l-1.6-.5l-1.6-.4l-.2-.1l-1.4-.5l-1.6-.6l-1.6-.4l-.3-.1l-1.3-.6l-1.6-.4l-1.6-.3l-1.6-.2l-1-.1l-.6-.1l-1.6-.2l-1.6,0l-1.6,.1l-1.6,.1l-.6,.1l-1,0l-1.6,.1l-1.6,0l-1.6,.1l-1.6,.2l-1.6,.2l-1.6,.4l-1.1,.6l-.5,.3l-1.1,1.3l-.5,1.2l-.3,.4l-.6,1.6l-.6,1.6l-.1,.3l-.8,1.3l-.6,1.6l-.2,.4l-.7,1.2l-.8,1.6l-.1,.2l-.9,1.4l-.7,1.1l-.5,.5l-1.1,.9l-1.1,.7l-.5,.3l-1.6,1l-.4,.3l-1.2,1l-.6,.6l-1,1.6l0,.1l-.7,1.5l-.2,1.6l.3,1.6l.6,1.2l.3,.4l.9,1.6l.4,1.6l-.1,1.6l.1,.1l1.6,1.1l.4,.4l1.2,.5l1.2,1.1l.4,.4l1.1,1.2l.5,.5l1.3,1.1l.3,.2l1.6,1l1,.4l.6,.4l1.6,1.2l1.6,1l1.6,.4l1.6-.3l1.6-.7l.7-.4l.9-.6l1.5-1l.1,0l1.6-.9l1.6-.6l.5-.1l1.1-.3l1.6-.1l1.6,0l1.6,.2l1.6,.2l.2,0l1.4,0l1.6-.5l1.6-.1l1.6,.3l.7,.3l.9,.3l1.6,.8l.7,.5l.9,.6l1.2,1l.4,.5l1.3,1.1l.3,.3l1.6,1.2l.2,.1l1.4,1l.9,.6l.7,.5l0,1.1l0,1.6l0,1.6l0,1.6l0,1.6l0,1.6l0,1.6l0,1.6l0,1.6l0,1.6l0,1.6l0,1.6l0,1.6l0,1.6l0,1.6l0,1.6l0,1.6l0,1.6l0,1.6l0,1.6l0,1.6l0,1.6l0,1.6l0,1.6l0,1.6l0,1.6l0,1.6l0,1.6l0,1.6l0,1.6l0,1.6l-1.6,0l-1.6,0l-1.6,0l-1.6,0l-1.6,0l-1.6,0l-1.6,0l-1.6,0l-1.6,0l-1.6,0l-1.6,0l-1.6,0l-1.6,0l-1.6,0l-1.6,0l-1.6,0l-1.6,0l-1.6,0l-1.6,0l-1.6,0l-1.6,0l-1.6,0l-1.6,0l-1.6,0l-1.6,0l-1.6,0l-1.6,0l-1.6,0l-1.6,0l-1.6,0l-1.6,0l-1.6,0l-1.6,0l-1.6,0l-1.6,0l-1.6,0l-1.6,0l-1.6,0l-1.6,0l-1.6,0l-1.6,0l-1.6,0l-1.6,0l-1.6,0l-1.6,0l-1.6,0l-1.6,0l-1.6,0l-1.6,0l-1.6,0l-1.6,0l-1.6,0l-1.6,0l-1.6,0l-1.6,0l-1.6,0l-1.6,0l-1.6,0l-1.6,0l-1.6,0l-1.6,0l-1.6,0l-1.6,0l-1.6,0l-1.6,0l-1.6,0l-1.6,0l-1.6,0l-1.6,0l-1.6,0l-1.6,0l-1.6,0l-1.6,0l-1.6,0l-1.6,0l-1.6,0l-1.6,0l-1.6,0l-1.6,0l-1.6,0l-1.6,0l-1.6,0l-1.6,0l-1.6,0l-1.6,0l-1.6,0l-1.6,0l-1.6,0l-1.6,0l-1.6,0l-1.6,0l-1.6,0l-1.6,0l-1.6,0l-1.6,0l0-1.6l0-1.6l0-1.6l0-1.6l0-1.6l0-1.6l0-1.6l0-1.6l0-1.6l0-1.6l0-1.6l0-1.6l0-1.6l0-1.6l0-1.6l0-1.6l0-1.6l0-1.6l0-1.6l0-1.6l0-1.6l0-1.6l0-1.6l0-1.6l0-1.6l0-1.6l0-1.6l0-1.6l0-1.6l0-1.6l0-1.6l0-1.6l0-1.6l0-1.6l0-1.6l0-1.6l0-1.6l0-1.6l0-1.6l0-1.6l0-1.6l0-1.6l0-1.6l0-1.6l0-1.6l0-1.6l0-1.6l0-1.6l0-1.6l0-1.6l0-1.6l0-1.6l0-1.6l0-1.6l0-1.6l0-1.6l0-1.6l0-1.6l0-1.6l0-1.6l0-1.6l0-1.6l0-1.6l0-.5l.2,.5l1.4,1.1l.4,.5l1.2,.7l1.6,.6l1.6,.1l1.6-.4l.8-1l.3-1.6l.5-1.6l0-.1l1-1.5l.6-.4l1.6-.7l1.2-.5l.4-.1l1.6-.3l1.6-.3l1.6-.3l1.6-.4l.4-.2l1.2-.4l1.6-.6l1.6-.2l1.6,.5l1,.7l.6,.4l1.4,1.2l.2,.2l1.6,1.4l1.6,1.1l.7,.5l.9,.4l1.6,.5l1.6,.2l1.6-.5l1.1-.6l.5-.4l1.6-.9l1.3-.3l.3-.1l1.6-.4l1.6-.1l1.6,0l1.6,0l1.6-.3l1.6-.6l.1-.1l.6-1.6l.3-1.6l.6-1.4l.1-.2l.9-1.6l.6-.8l.4-.8l-.3-1.6l-.1-.4l-.4-1.2l-.3-1.6l.3-1.6l.4-.8l.5-.8l1.1-1.6l1-1.6l.6-1l.3-.6l.1-1.6l-.4-.6l-.5-1l-1.1-1.2l-.4-.4l-1.2-1.1l-.7-.5l-.9-.8l-1.4-.8l-.2-.2l-1.6-1.1l-.6-.3l-1-.9l-1.3-.7zM90,47.6l.8,1.1l1.6-.6l.2-.5l-.2-.1l-1.6-.3zM0.9,54l-.6,1.6l-.2,1.6l.1,1.6l.1,1.6l.4,1.6l.5,1.4l.1,.2l.6,1.6l.9,1.6l1,1.6l.6,.7l1.1,.9l.5,.5l1.6,.1l1.2-.6l.4-.2l1.6-.9l.9-.5l.7-.4l1.6-.9l.4-.3l1.2-.7l1.3-.9l.3-.2l1.6-1.3l.1-.1l1.3-1.6l.2-.3l.9-1.3l.7-.8l.7-.8l.6-1.6l-.6-1.6l-.7-.4l-1.6-.3l-1.6-.1l-1.6-.2l-1.6-.3l-.6-.3l-1-.4l-1.6-.5l-1.6-.3l-1.6-.1l-1.6,0l-1.6,.1l-1.6,.1l-1.6,.1l-1.6,.6zM-1.9,30l-.1,.5l0-.5l0-.4zM129.2,53.7l.5,.3l1.1,.6l.7,1l.9,1.6l.9,1.6l.2,1.6l-1.1,1.1l-1.1,.5l-.5,.2l-1-.2l-.6-.2l-1.2-1.4l-.4-.6l-.5-1l-.6-1.6l0-1.6l1.1-1.4l.4-.2z" fill="#79c8bc"/>
<path d="M71.6,24.8l1.6-.1l.8,.5l.4,1.6l0,1.6l.4,.9l.2,.7l1.4,1.2l.4,.4l1.2,.6l1.6,.9l.2,.1l1.4,.7l1.6,.6l1.2,.3l.4,.1l1.6,.2l1.6,.4l1,.9l.6,1.5l0,.1l.4,1.6l-.4,1.3l-.2,.3l-1.4,1.2l-.6,.4l-1,.7l-1.6,.9l-1.6,1l-.9,.6l-.7,1l-.4,.6l-.3,1.6l.1,1.6l0,1.6l0,1.6l.6,1.5l.1,.1l1.5,.9l1.6,.6l.1,.1l1.5,.9l.7,.7l.8,1.6l.1,.6l.2,1l.1,1.6l.1,1.6l.3,1.6l.2,1.6l.1,1.6l-.1,1.6l-.1,1.6l.2,1.6l.6,.9l.4,.7l1.1,1.6l.1,.2l.9,1.4l.2,1.6l-.2,1.6l-.2,1.6l-.2,1.6l-.4,1.6l1.5,.6l.7-.6l.9-.4l1.6-.6l1.6-.1l1.6,.9l.2,.2l1.3,1.6l.1,.1l1.6,.4l1.6,.1l1.6-.2l1.6-.3l.2-.1l1.4-.7l1.6-.7l.3-.2l1.3-.7l1.6-.7l.4-.2l1.2-.6l1.6-.7l.7-.3l.9-.4l1.6-.6l1.6-.4l1.6-.2l1.6,.3l1.6,.9l.4,.4l1.2,1.2l.3,.4l1.3,1.1l.7,.5l.9,.5l1.6,1.1l.1,0l1.5,1.5l.1,.1l.8,1.6l.3,1.6l.4,1.6l0,.1l.8,1.5l.8,1.1l.4,.5l1.2,1.5l.1,.1l1.2,1.6l.3,.7l1,.9l.6,.8l.9,.8l.7,.7l1,.9l.6,.6l1.1,1l.5,.5l1.3,1.1l.3,.3l1.6,1.3l0,1.6l0,1.6l0,1.6l0,1.6l0,1.6l0,1.6l0,1.6l0,1.6l0,1.6l0,1.6l0,1.6l0,1.6l0,1.6l0,1.6l0,1.6l-1.6,0l-1.6,0l-1.6,0l-1.6,0l-1.6,0l-1.6,0l-1.6,0l-1.6,0l-1.6,0l-1.6,0l-1.6,0l-1.6,0l-1.6,0l-1.6,0l-1.6,0l-1.6,0l-1.6,0l-1.6,0l-1.6,0l-1.6,0l-1.6,0l-1.6,0l-1.6,0l-1.6,0l-1.6,0l-1.6,0l-1.6,0l-1.6,0l-1.6,0l-1.6,0l-1.6,0l-1.6,0l-1.6,0l-1.6,0l-1.6,0l-1.6,0l-1.6,0l-1.6,0l-1.6,0l-1.6,0l-1.6,0l-1.6,0l-1.6,0l-1.6,0l-1.6,0l-1.6,0l-1.6,0l-1.6,0l-1.6,0l-1.6,0l-1.6,0l-1.6,0l-1.6,0l-1.6,0l-1.6,0l-1.6,0l-1.6,0l-1.6,0l-1.6,0l-1.6,0l-1.6,0l-1.6,0l-1.6,0l-1.6,0l-1.6,0l-1.6,0l-1.6,0l-1.6,0l-1.6,0l-1.6,0l-1.6,0l-1.6,0l-1.6,0l-1.6,0l-1.6,0l-1.6,0l-1.6,0l-1.6,0l-1.6,0l-1.6,0l-1.6,0l-1.6,0l-1.6,0l-1.6,0l-1.6,0l-1.6,0l-1.6,0l-1.6,0l-1.6,0l-1.6,0l-1.6,0l-1.6,0l-1.6,0l-1.6,0l-1.6,0l0-1.6l0-1.6l0-1.6l0-1.6l0-1.6l0-1.6l0-1.6l0-1.6l0-1.6l0-1.6l0-1.6l0-1.6l0-1.6l0-1.6l0-1.6l0-1.6l0-1.6l0-1.6l0-1.6l0-1.6l0-1.6l0-1.6l0-1.6l0-1.6l0-1.6l0-1.6l0-1.6l0-1.6l0-1.6l0-1.6l0-1.6l0-1.6l0-1.6l0-1.6l0-1.6l0-1.6l0-1.6l0-1.6l0-1.6l0-1.6l0-1.6l0-1.6l0-1.6l0-1.6l0-1.6l0-1.6l0-1.6l0-1.6l0-1.6l0-1.6l.1,1.6l.1,1.6l.2,1.6l.4,1.6l.8,1.4l0,.2l.4,1.6l1.1,1.6l.1,.1l.7,1.5l.9,1.1l.4,.5l1.2,1.3l.4,.3l1.2,1.1l1.6,.4l1.6-.3l1.6-.9l.4-.3l1.2-.6l1.5-1l.1,0l1.6-.9l1-.7l.6-.3l1.6-1.3l1.6-1.5l.1-.1l1.1-1.6l.4-.6l.8-1l.8-.7l.8-.9l.8-1.4l.1-.2l.5-1.6l0-1.6l-.3-1.6l-.3-.5l-1.4-1.1l-.2-.1l-1.6-.2l-1.6-.1l-1.6,0l-1.6-.2l-1.6-.2l-1.6-.5l-.7-.3l-.9-.5l-1.6-.4l-1.6-.3l-1.1-.4l.4-1.6l.6-1.6l.1-1.1l.1-.5l.3-1.6l1.2-1.2l.5-.4l1.1-.9l.5-.7l1-1.6l.1-.2l.4-1.4l.3-1.6l.6-1.6l.3-.3l1.6-1.2l.1-.1l1.5-.5l1.6-.5l1.3-.6l.3-.1l1.6-.3l1.6,.3l.1,.1l1.5,1.2l.5,.4l1.1,.9l1,.7l.6,.3l1.6,.8l1.3,.5l.3,.1l1.6,.5l1.6,.2l1.6-.2l1.2-.6l.4-.3l1.6-.5l1.6-.2l1.6,.1l1.6,.2l1.6,.2l1.6,.3l1.4,.2l.2,.1l1.6,.4l1.6,.8l.7,.3l.9,.6l1.6,.4l1.6,.2l1.6,.1l1.6,.2l.8,.1l.8,.6l.8,1l-.8,.9l-.2,.7l-.1,1.6l.3,.5l.4,1.1l1.1,1.6l.1,.1l1.3,1.5l.3,.3l1.6,.9l1.6-.9l.1-.3l-.1-1l-.1-.6l-.3-1.6l-.5-1.6l-.7-1.6l0-.1l-1.6-1.5l0-.1l-1.1-1.5l1.1-.6l.5-1l.7-1.6l.1-1.6l-.2-1.6l0-1.6l.2-1.6l.3-.8l.4-.8l1.2-1.2l.6-.4zM53.9,44.4l.1,.2l1.6,0l.1-.2l-.1-.2l-1.6-.1zM90.7,89.2l.1,.3l.1-.3l-.1-1zM88.7,90.8l-1.1,.9l-.5,.7l.5,.3l1.6,0l.6-.3l.1-1.6l-.7-.5z" fill="#3b9b93"/>
<path d="M23.6,35.9l1.6-.3l1.6-.2l1.6,.1l1.6,.2l1.6,.4l1.6,.3l.1,0l1.5,.4l1.6,.4l1.6,.1l1.6,.1l1.6,.1l1.4,.5l.2,.1l1.2,1.5l.4,.7l.4,.9l1.1,1.6l.1,.1l1,1.5l.6,1l.4,.6l.6,1.6l.6,1.6l1.2,1.6l.4,.4l1.2,1.2l.4,.5l.5,1.1l.2,1.6l-.1,1.6l-.4,1.6l-.2,.9l-.1,.7l-.3,1.6l-.3,1.6l-.3,1.6l-.3,1.6l-.3,1.1l-.2,.5l-.7,1.6l-.7,.9l-1.6,.4l-1.6,0l-1.6,0l-1.6,0l-1.6,.2l-.2,.1l-1.4,.9l-.9,.7l-.7,1.1l-.8,.5l-.8,.3l-1.6-.1l-.7-.2l-.9-.3l-1.4-1.3l-.2-.5l-.3-1.1l-.3-1.6l-.5-1.6l-.5-.9l-.4-.7l-1.2-1.6l-1.1-1.6l-.3-1.6l.2-1.6l.3-1.6l.1-1.6l0-1.6l-.1-1.6l-.4-1.6l-.3-1.1l-.3-.5l-1.3-1.5l-.2-.1l-1.4-.6l-1.6-.2l-1.6-.2l-1.6-.3l-.6-.3l-1-.8l-.5-.8l-.1-1.6l.4-1.6l.2-.4l.5-1.2l.9-1.6l.2-.4l1-1.2l.6-.7l1.6-.9l.1,0zM41.2,77.5l1.2,.5l.4,.1l1.6,.7l1.6,.5l1.3,.3l.3,.1l1.6,.2l1.6,.3l.4,1l-.2,1.6l-.2,.8l-.2,.8l-.4,1.6l-.1,1.6l.7,1.5l0,.1l1.4,1.6l.2,.1l1.6,1.5l1.6,1l1.4,.6l.2,.1l1.6,.7l1.5,.8l.1,.1l1.6,1.5l0,.1l1.1,1.5l.5,.9l.5,.7l1.1,1.4l.9,.2l.7,.1l.1-.1l1.5-.9l1.6-.6l.3-.1l1.3-.6l1.6-.5l1.1-.5l.5-.4l1.6-1.2l1.6-1.5l1.6-.1l1.6,.1l1.6,0l1.6,0l1.6,.1l1.6,.1l1.6,.1l1.6-.1l1.6-.2l.5-.1l1.1-.2l1.6-.4l1.6-.5l1-.5l.6-.3l1.6-.7l1.6-.5l.3-.1l1.3-.3l1.6-.3l1.6-.5l1.3-.5l.3-.1l1.6-.7l1.6-.7l.3-.1l1.3-.5l1.6-.4l1.6,0l1.5,.9l.1,.2l1.1,1.4l.5,.6l1,1l.6,.5l1.6,.8l1.6,.3l1.6,0l1.6,0l1.6,.3l1.6,1l.2,.3l-.2,1.3l0,.3l-.3,1.6l.3,1.1l.2,.5l1.1,1.6l.3,.3l1.1,1.3l.5,.7l.4,.9l-.2,1.6l-.2,.4l-.7,1.2l-.9,1.1l-.4,.5l-1.2,1.3l-.3,.3l-1.3,1.3l-.3,.3l-1.3,1.2l-.4,.4l-1.2,1.1l-.8,.5l-.8,.8l-1.6,.8l-1.6,1.3l-.8,.3l-.8,.7l-1.6,.8l-.1,.1l-1.5,1.3l-.4,.3l-1.2,1.2l-.5,.4l-1.1,1.2l-.4,.4l-1.2,1.3l-.4,.3l-1.2,1.3l-.3,.3l-1.3,1.3l-.4,.3l-1.2,1.1l-.6,.5l-1,.8l-1.1,.8l-.5,.4l-1.6,1l-.3,.2l-1.3,0l-1.6,0l-1.6,0l-1.6,0l-1.6,0l-1.6,0l-1.6,0l-1.6,0l-1.6,0l-1.6,0l-1.2,0l-.4-1.6l-.6-1.6l-.4-1.6l-.4-1.6l-.2-.7l-.3-.9l-.6-1.6l-.4-1.6l-.2-1.6l-.1-.9l-.2-.7l-1.4-1.4l-.8-.2l-.8-.1l-1.6,0l-1.6-1l-.3-.5l-1.1-1.6l-.2-.3l-.8-1.3l-.8-1.2l-.3-.4l-1.2-1.6l-.1-.1l-1.6-1.5l-1.6-1l-1.6,.4l-.1,.6l.1,.3l.3,1.3l.2,1.6l0,1.6l-.1,1.6l-.2,1.6l-.2,.7l-.3,.9l-.7,1.6l-.6,1.5l-.1,.1l-1,1.6l-.5,.6l-1.6-.3l-.8-.3l-.8-.5l-.8-1.1l.1-1.6l.2-1.6l-.1-1.6l-.2-1.6l-.3-1.6l-.5-1.2l-.2-.4l-1.4-1.6l-1.6-.9l-1.6-.1l-1.6,.3l-1.4,.7l-.2,.1l-1.5,1.5l-.1,.1l-1.5,1.5l-.1,.2l-1.5,1.4l-.1,.3l-1.5,1.3l-.1,.5l-1.4,1.1l1.4,.5l1.6-.3l1.6,.6l.6,.8l1,.5l.8,1.1l.8,.7l.5,.9l.5,1.6l-.1,1.6l-.4,1.6l-.3,1.6l-.1,1.6l-.1,1.6l.1,1.6l-.1,0l-1.6,0l-1.6,0l-.3,0l-1.3-1.3l-.3-.3l-1.3-1.6l0-.1l-1.1-1.5l-.5-1.3l-.1-.3l-.8-1.6l-.5-1.6l-.2-1.6l0-1.6l0-.1l-1.6-1.3l0-.2l-.9-1.6l-.7-.3l-.3-1.3l-1.2-1.6l-.1,0l-.9-1.6l-.7-.5l-.9-1.1l-.7-.8l-.7-.8l-.9-1.2l-.3-.4l-1.1-1.6l-.2-.5l-.7-1.1l-.7-1.6l-.2-.8l-.3-.8l-.4-1.6l-.4-1.6l-.3-1.6l-.2-1.5l0-.1l0-.7l.1-.9l.6-1.6l.9-.7l1.6-.9l1.6-.2l1.6,0l1.6,0l1.6-.1l1.4-1.3l.2-.1l.6-1.5l.8-1.6l.2-.3l.6-1.3l.7-1.6l.3-1.1l.1-.5l.1-1.6l-.1-1.6l-.1-1.6zM41,121.2l.2,.1l0-.1l0-.2zM73.2,86.6l1.6-.3l1.6,.5l.9,.8l.7,1.1l.2,.5l.3,1.6l-.1,1.6l-.4,1.2l-.5,.4l-1.1,.4l-1-.4l-.6-.2l-1.6-1l-.5-.4l-1.1-1.6l0-.3l-.2-1.3l.2-.7l.4-.9z" fill="#0c7169"/>
<path d="M26.8,39.3l1.6-.2l1.6,.3l.6,.2l1,.7l1.5,.9l.1,.1l1.6,1.2l.7,.3l.9,.4l1.6,.5l1.4,.7l.2,.1l1.6,1.3l.2,.2l1.4,1.6l0,.1l.6,1.5l.4,1.6l.4,1.6l.2,.6l.3,1l.6,1.6l.1,1.6l-.8,1.6l-.2,.2l-1.5,1.4l-.1,.1l-1.6,1l-.8,.5l-.8,.4l-1.6,.7l-1.6,.4l-1.6,0l-1.6-.7l-1-.8l-.6-.6l-.7-1l-.7-1.6l-.2-.6l-.2-1l-.2-1.6l-.2-1.6l-.1-1.6l.1-1.6l.3-1.6l.3-.8l.4-.8l.2-1.6l-.6-.6l-1.4-1l-.2-.1l-1.6-.7l-1.6-.6l-.3-.2l-.7-1.6l1-1l.7-.6zM110,92.4l1.6-.1l.5,.1l1.1,1.1l.3,.5l.1,1.6l-.4,.7l-1.6,.8l-1.6,.1l-1.6-.2l-1.6-.6l-1.2-.8l.8-1.6l.4-.2l1.6-.7l1.5-.7zM81.2,97.1l1.6,0l1.6,.1l.3,0l1.3,.8l1.1,.8l.4,1.6l.1,.3l1.1,1.3l.5,.3l1.6,.4l1.6,.2l1.6,.4l.5,.3l1.1,.5l1.4,1.1l.2,.2l1.6,1.1l.4,.3l1.2,.6l1.6,.5l1.6,0l1.6-.2l1.6-.2l1.6,.7l.4,.2l-.4,.5l-.5,1.1l-1.1,1.5l0,.1l-.9,1.6l-.7,1.3l-.2,.3l-.3,1.6l.2,1.6l.3,1l.2,.6l.6,1.6l-.1,1.6l-.7,.4l-1-.4l-.6-.3l-1.6-1.3l-1.6-1.4l-.2-.2l-1.4-.9l-1.1-.7l-.5-.2l-1.6-.6l-1.6-.6l-.2-.2l-1.2-1.6l-.2-.5l-.6-1.1l-1-1.6l-1.6-1l-1.6,.1l-1.6,.8l-.1,.1l-1.5,.9l-1.4,.7l-.2,.1l-1.6,.3l-1.5-.4l-.1,0l-1.5-1.6l-.1-.1l-.8-1.5l-.7-1.6l-.1-.3l-.8-1.3l-.8-1.6l-.8-1.6l.7-1.6l.1-.1l1.1-1.5l.5-.4l1-1.2l.6-.4l1.6-.9l.9-.3zM116.4,99.8l1.6-.9l1.6,0l1.6,.4l1.6,.4l1.1,.7l.4,1.6l0,1.6l.1,1.2l0,.4l.5,1.6l.8,1.6l.3,.5l.6,1.1l-.2,1.6l-.4,.6l-.8,1l-.8,.6l-1.1,1l-.5,.3l-1.6,.7l-1.3,.6l-.3,.1l-1.6,0l-.4-.1l-1.2-1.1l-.3-.5l-.9-1.6l-.4-.7l-.5-.9l-.9-1.6l-.2-.4l-.7-1.2l.4-1.6l.3-.2l1-1.4l.6-1.2l.2-.4l.6-1.6l.5-1.6z" fill="#004c42"/>
<path d="M34.8,51.7l1.6,.1l.9,.6l.7,1.1l.2,.5l-.2,1.4l-.1,.2l-1.5,1l-1.6-.3l-.7-.7l-.9-1.6l.5-1.6z" fill="#003c30"/>
<g fill="#000"><circle cx="43.7" cy="28.8" r="1.55"/><circle cx="52.4" cy="28.8" r="1.55"/><circle cx="22.1" cy="37.4" r="0.9"/><circle cx="30.8" cy="37.4" r="1.55"/><circle cx="39.4" cy="37.4" r="1.55"/><circle cx="48.1" cy="37.4" r="1.55"/><circle cx="56.7" cy="37.4" r="1.55"/><circle cx="65.3" cy="37.4" r="1.55"/><circle cx="74" cy="37.4" r="1.55"/><circle cx="26.5" cy="46.1" r="1.55"/><circle cx="35.1" cy="46.1" r="1.55"/><circle cx="43.7" cy="46.1" r="1.55"/><circle cx="52.4" cy="46.1" r="1.55"/><circle cx="61" cy="46.1" r="1.55"/><circle cx="69.7" cy="46.1" r="1.55"/><circle cx="78.3" cy="46.1" r="1.55"/><circle cx="86.9" cy="46.1" r="1.55"/><circle cx="30.8" cy="54.7" r="1.55"/><circle cx="39.4" cy="54.7" r="1.55"/><circle cx="48.1" cy="54.7" r="1.55"/><circle cx="56.7" cy="54.7" r="1.55"/><circle cx="65.3" cy="54.7" r="1.55"/><circle cx="74" cy="54.7" r="1.55"/><circle cx="82.6" cy="54.7" r="1.55"/><circle cx="91.3" cy="54.7" r="1.55"/><circle cx="35.1" cy="63.3" r="1.55"/><circle cx="43.7" cy="63.3" r="1.55"/><circle cx="52.4" cy="63.3" r="1.55"/><circle cx="61" cy="63.3" r="1.55"/><circle cx="69.7" cy="63.3" r="1.55"/><circle cx="78.3" cy="63.3" r="1.55"/><circle cx="86.9" cy="63.3" r="1.55"/><circle cx="95.6" cy="63.3" r="1.55"/><circle cx="39.4" cy="72" r="1.55"/><circle cx="48.1" cy="72" r="1.55"/><circle cx="56.7" cy="72" r="1.55"/><circle cx="65.3" cy="72" r="1.55"/><circle cx="74" cy="72" r="1.55"/><circle cx="82.6" cy="72" r="1.55"/><circle cx="91.3" cy="72" r="1.55"/><circle cx="43.7" cy="80.6" r="1.55"/><circle cx="52.4" cy="80.6" r="1.55"/><circle cx="61" cy="80.6" r="1.55"/><circle cx="69.7" cy="80.6" r="1.55"/><circle cx="78.3" cy="80.6" r="1.55"/><circle cx="86.9" cy="80.6" r="1.55"/><circle cx="95.6" cy="80.6" r="1.55"/><circle cx="48.1" cy="89.3" r="1.55"/><circle cx="56.7" cy="89.3" r="1.55"/><circle cx="65.3" cy="89.3" r="1.55"/><circle cx="74" cy="89.3" r="1.55"/><circle cx="82.6" cy="89.3" r="1.55"/><circle cx="91.3" cy="89.3" r="1.55"/><circle cx="52.4" cy="97.9" r="1.55"/><circle cx="61" cy="97.9" r="1.55"/><circle cx="69.7" cy="97.9" r="1.55"/><circle cx="78.3" cy="97.9" r="1.55"/><circle cx="86.9" cy="97.9" r="1.55"/><circle cx="95.6" cy="97.9" r="1.55"/><circle cx="112.9" cy="97.9" r="1.55"/><circle cx="56.7" cy="106.5" r="1.55"/><circle cx="65.3" cy="106.5" r="1.55"/><circle cx="74" cy="106.5" r="1.55"/><circle cx="82.6" cy="106.5" r="1.55"/><circle cx="91.3" cy="106.5" r="1.55"/><circle cx="99.9" cy="106.5" r="1.55"/><circle cx="52.4" cy="115.2" r="1.55"/><circle cx="61" cy="115.2" r="1.55"/><circle cx="69.7" cy="115.2" r="1.55"/><circle cx="78.3" cy="115.2" r="1.55"/><circle cx="86.9" cy="115.2" r="1.55"/><circle cx="56.7" cy="123.8" r="1.55"/><circle cx="65.3" cy="123.8" r="1.55"/></g>
</g>
<use href="#ov"/><use href="#fr"/>
<text x="1.5" y="-8.9" font-size="10.6">(f)</text>
</g>
<g transform="translate(62.7,380.8)">
<g clip-path="url(#land)">
<rect x="-2" y="-2" width="151.7" height="136.8" fill="#f1dfb3"/>
<path d="M-.4-2l1.6,0l1.6,0l1.6,0l1.6,0l1.6,0l1.6,0l1.6,0l1.6,0l1.6,0l1.6,0l1.6,0l1.6,0l1.6,0l1.6,0l1.6,0l1.6,0l1.6,0l1.6,0l1.6,0l1.6,0l1.6,0l1.6,0l1.6,0l1.6,0l1.6,0l1.6,0l1.6,0l1.6,0l1.6,0l1.6,0l1.6,0l1.6,0l1.6,0l1.6,0l1.6,0l1.6,0l1.6,0l1.6,0l1.6,0l1.6,0l1.6,0l1.6,0l1.6,0l1.6,0l1.6,0l1.6,0l1.6,0l1.6,0l1.6,0l1.6,0l1.6,0l1.6,0l1.6,0l1.6,0l1.6,0l1.6,0l1.6,0l1.6,0l1.6,0l1.6,0l1.6,0l1.6,0l1.6,0l1.6,0l1.6,0l1.6,0l1.6,0l1.6,0l1.6,0l1.6,0l1.6,0l1.6,0l1.6,0l1.6,0l1.6,0l1.6,0l1.6,0l1.6,0l1.6,0l1.6,0l1.6,0l1.6,0l1.6,0l1.6,0l1.6,0l1.6,0l1.6,0l1.6,0l1.6,0l1.6,0l1.6,0l1.6,0l1.6,0l1.6,0l0,1.6l0,1.6l0,1.6l0,1.6l0,1.6l0,1.6l0,1.6l0,1.6l0,1.6l0,1.6l0,1.6l0,1.6l0,1.6l0,1.6l0,1.6l0,1.6l0,1.6l0,1.6l0,1.6l0,1.6l0,1.6l0,1.6l0,1.6l0,1.6l0,1.6l0,1.6l0,1.6l0,1.6l0,1.6l0,1.6l0,1.6l0,1.6l0,1.6l0,1.6l0,1.6l0,1.6l0,1.6l0,1.6l0,1.6l0,1.6l0,1.6l0,1.6l0,1.6l0,1.6l0,1.6l0,1.6l0,1.6l0,1.6l0,1.6l0,1.6l0,1.6l0,1.6l0,1.6l0,1.6l0,1.6l0,1.6l0,1.6l0,1.6l0,1.6l0,1.6l0,1.6l0,1.6l0,1.6l0,1.6l0,1.6l0,1.6l0,1.6l0,1.6l0,1.6l0,1.6l0,1.6l0,1.6l0,1.6l0,1.6l0,1.6l0,1.6l0,1.6l0,1.6l0,1.6l0,1.6l0,1.6l0,1.6l0,1.6l0,1.6l0,1.6l0,1.6l-1.6,0l-1.6,0l-1.6,0l-1.6,0l-1.6,0l-1.6,0l-1.6,0l-1.6,0l-1.6,0l-1.6,0l-1.6,0l-1.6,0l-1.6,0l-1.6,0l-1.6,0l-1.6,0l-1.6,0l-1.6,0l-1.6,0l-1.6,0l-1.6,0l-1.6,0l-1.6,0l-1.6,0l-1.6,0l-1.6,0l-1.6,0l-1.6,0l-1.6,0l-1.6,0l-1.6,0l-1.6,0l-1.6,0l-1.6,0l-1.6,0l-1.6,0l-1.6,0l-1.6,0l-1.6,0l-1.6,0l-1.6,0l-1.6,0l-1.6,0l-1.6,0l-1.6,0l-1.6,0l-1.6,0l-1.6,0l-1.6,0l-1.6,0l-1.6,0l-1.6,0l-1.6,0l-1.6,0l-1.6,0l-1.6,0l-1.6,0l-1.6,0l-1.6,0l-1.6,0l-1.6,0l-1.6,0l-1.6,0l-1.6,0l-1.6,0l-1.6,0l-1.6,0l-1.6,0l-1.6,0l-1.6,0l-1.6,0l-1.6,0l-1.6,0l-1.6,0l-1.6,0l-1.6,0l-1.6,0l-1.6,0l-1.6,0l-1.6,0l-1.6,0l-1.6,0l-1.6,0l-1.6,0l-1.6,0l-1.6,0l-1.6,0l-1.6,0l-1.6,0l-1.6,0l-1.6,0l-1.6,0l-1.6,0l-1.6,0l-1.6,0l0-1.6l0-1.6l0-1.6l0-1.6l0-1.6l0-1.6l0-1.6l0-1.6l0-1.6l0-1.6l0-1.6l0-1.6l0-1.6l0-1.6l0-1.6l0-1.6l0-1.6l0-1.6l0-1.6l0-1.6l0-1.6l0-1.6l0-1.6l0-1.6l0-1.6l0-1.6l0-1.6l0-1.6l0-1.6l0-1.6l0-1.6l0-1.6l0-1.6l0-1.6l0-1.6l0-1.6l0-1.6l0-1.6l0-1.6l0-1.6l0-1.6l0-1.6l0-1.6l0-1.6l0-1.6l0-1.6l0-1.6l0-1.6l0-1.6l0-1.6l0-1.6l0-1.6l0-1.6l0-1.6l0-1.6l0-1.6l0-1.6l0-1.6l0-1.6l0-1.6l0-1.6l0-1.6l0-1.6l0-1.6l0-1.6l0-1.6l0-1.6l0-1.6l0-1.6l0-1.6l0-1.6l0-1.6l0-1.6l0-1.6l0-1.6l0-1.6l0-1.6l0-1.6l0-1.6l0-1.6l0-1.6l0-1.6l0-1.6l0-1.6l0-1.6l0-1.6zM117.8,55.6l-.9,1.6l-.5,.7l-.6,.9l-1,1.5l-.1,.1l-1.4,1.6l-.1,.2l-1.6,.2l-1.3-.4l-.3,0l-.5,0l-1.1,.1l-1.6,1.4l-.1,.1l-.6,1.6l0,1.6l.7,1l1.6,.4l1.6-.2l1.6-.6l1.5-.6l.1-.1l1.6-.4l1.6,.3l.5,.2l1.1,.5l1.1,1.1l-.2,1.6l-.9,1.4l-.1,.2l-1.1,1.6l-.4,.6l-.5,1l-.4,1.6l.2,1.6l.7,1.1l.4,.5l1.2,.7l1.6,.5l1.6,.1l1.6,0l1.6-.1l1.6-.1l1.6-.2l1.6-.4l.8-.5l.8-1l.4-.6l.4-1.6l.1-1.6l-.3-1.6l-.6-.9l-.5-.7l-1.1-1l-.8-.6l-.8-.7l-1-.9l-.6-.7l-1-.9l-.6-1.6l1-1.6l.6-.3l1.6-.2l1.6,0l1.6-.1l1.4-1l.2-.7l.1-.9l-.1-1.6l-1.1-1.6l-.5-.7l-1.6-.5l-1.6,.5l-1.6,.7l-.1,0l-1.5,.7l-1.6-.7l-1.4-1.6l-.2-.4l-1.6-1.1l-1.6,1.1z" fill="#f5f0e0"/>
<path d="M-.4-2l1.6,0l1.6,0l1.6,0l1.6,0l1.6,0l1.6,0l1.6,0l1.6,0l1.6,0l1.6,0l1.6,0l1.6,0l1.6,0l1.6,0l1.6,0l1.6,0l1.6,0l1.6,0l1.6,0l1.6,0l1.6,0l1.6,0l1.6,0l1.6,0l1.6,0l1.6,0l1.6,0l1.6,0l1.6,0l1.6,0l1.6,0l1.6,0l1.6,0l1.6,0l1.6,0l1.6,0l1.6,0l1.6,0l1.6,0l1.6,0l1.6,0l1.6,0l1.6,0l1.6,0l1.6,0l1.6,0l1.6,0l1.6,0l1.6,0l1.6,0l1.6,0l1.6,0l1.6,0l1.6,0l1.6,0l1.6,0l1.6,0l1.6,0l1.6,0l1.6,0l1.6,0l1.6,0l1.6,0l1.6,0l1.6,0l1.6,0l1.6,0l1.6,0l1.6,0l1.6,0l1.6,0l1.6,0l1.6,0l1.6,0l1.6,0l1.6,0l1.6,0l1.6,0l1.6,0l1.6,0l1.6,0l1.6,0l1.6,0l1.6,0l1.6,0l1.6,0l1.6,0l1.6,0l1.6,0l1.6,0l1.6,0l1.6,0l1.6,0l1.6,0l0,1.6l0,1.6l0,1.6l0,1.6l0,1.6l0,1.6l0,1.6l0,1.6l0,1.6l0,1.6l0,1.6l0,1.6l0,1.6l0,1.6l0,1.6l0,1.6l0,1.6l0,1.6l0,1.6l0,1.6l0,1.6l0,1.6l0,1.6l0,1.6l0,1.6l0,1.6l0,1.6l0,1.6l0,1.6l0,1.6l0,.6l-.7-.6l-.9-.8l-1.1-.8l-.5-.4l-1.6-1.1l-.2-.1l-1.4-1.1l-1.1-.5l-.5-.3l-1.6-.8l-1.6-.5l-1.6-.7l-1.6-.3l-1.6-.2l-1.6-.2l-1.6,0l-1.6,0l-1.6,.2l-1.6,.1l-1.6,.3l-1.6,.1l-1.6-.2l-1.6-.1l-1.6-.2l-1.6,0l-1.6,.1l-1.6,.1l-1.6,.4l-1.2,.6l-.4,.4l-.8,1.2l-.5,1.6l-.3,1.6l0,.2l-.5,1.4l-.4,1.6l-.3,1.6l-.4,1.6l0,.1l-.6,1.5l-.5,1.6l-.5,1.5l-.1,.1l-.8,1.6l-.7,.8l-.9,.8l-.7,.6l-1.3,1l-.3,.3l-1.5,1.3l-.1,.1l-1.6,1.4l-.1,.1l-1.1,1.6l.5,1.6l.7,.8l.5,.8l1.1,1.3l.2,.3l.8,1.6l.6,1.6l0,.1l.4,1.5l.6,1.6l.6,1.2l.3,.4l.9,1.6l.4,.6l.7,1l.8,1.6l.1,.1l.9,1.5l.7,.6l1.6,0l1.6-.6l.1,0l1.5-1l1.6-.5l1.6-.1l1.6,.5l1.6,.8l1,.3l.6,.3l1.6,.4l1.6,.4l1.4,.5l.2,.1l1.6,.8l1.6,.3l1.6-.5l1.2-.7l.4-.1l1.6-.5l1.6-.7l.5-.3l1.1-.9l.6-.7l1-1.5l.1-.1l.5-1.6l.2-1.6l.2-1.6l.4-1.6l.2-.5l.4-1.1l.3-1.6l.2-1.6l.2-1.6l.3-1.6l.2-1.6l0-1.6l0-.5l.3-1.1l1.3-.7l1.6-.4l1.4-.5l.2-.1l1.6-1.2l.3-.3l1.1-1.6l.2-.3l.9-1.3l.7-1.3l0,1.3l0,1.6l0,1.6l0,1.6l0,1.6l0,1.6l0,1.6l0,1.6l0,1.6l0,1.6l0,1.6l0,1.6l0,1.6l0,1.6l0,1.6l0,1.6l0,1.6l0,1.6l0,1.6l0,1.6l0,1.6l0,1.6l0,1.6l0,1.6l0,1.6l0,1.6l0,1.6l0,1.6l0,1.6l0,1.6l0,1.6l0,1.6l0,1.6l0,1.6l0,1.6l0,1.6l0,1.6l0,1.6l0,1.6l0,1.6l0,1.6l0,1.6l0,1.6l0,1.6l0,1.6l0,1.6l0,1.6l0,1.6l0,1.6l0,1.6l0,1.6l-1.6,0l-1.6,0l-1.6,0l-1.6,0l-1.6,0l-1.6,0l-1.6,0l-1.6,0l-1.6,0l-1.6,0l-1.6,0l-1.6,0l-1.6,0l-1.6,0l-1.6,0l-1.6,0l-1.6,0l-1.6,0l-1.6,0l-1.6,0l-1.6,0l-1.6,0l-1.6,0l-1.6,0l-1.6,0l-1.6,0l-1.6,0l-1.6,0l-1.6,0l-1.6,0l-1.6,0l-1.6,0l-1.6,0l-1.6,0l-1.6,0l-1.6,0l-1.6,0l-1.6,0l-1.6,0l-1.6,0l-1.6,0l-1.6,0l-1.6,0l-1.6,0l-1.6,0l-1.6,0l-1.6,0l-1.6,0l-1.6,0l-1.6,0l-1.6,0l-1.6,0l-1.6,0l-1.6,0l-1.6,0l-1.6,0l-1.6,0l-1.6,0l-1.6,0l-1.6,0l-1.6,0l-1.6,0l-1.6,0l-1.6,0l-1.6,0l-1.6,0l-1.6,0l-1.6,0l-1.6,0l-1.6,0l-1.6,0l-1.6,0l-1.6,0l-1.6,0l-1.6,0l-1.6,0l-1.6,0l-1.6,0l-1.6,0l-1.6,0l-1.6,0l-1.6,0l-1.6,0l-1.6,0l-1.6,0l-1.6,0l-1.6,0l-1.6,0l-1.6,0l-1.6,0l-1.6,0l-1.6,0l-1.6,0l-1.6,0l-1.6,0l0-1.6l0-1.6l0-1.6l0-1.6l0-1.6l0-1.6l0-1.6l0-1.6l0-1.6l0-1.6l0-1.6l0-1.6l0-1.6l0-1.6l0-1.6l0-1.6l0-1.6l0-1.6l0-1.6l0-1.6l0-1.6l0-1.6l0-1.6l0-1.6l0-1.6l0-1.6l0-1.6l0-1.6l0-1.6l0-1.6l0-1.6l0-1.6l0-1.6l0-1.6l0-1.6l0-1.6l0-1.6l0-1.6l0-1.6l0-1.6l0-1.6l0-1.6l0-1.6l0-1.6l0-1.6l0-1.6l0-1.6l0-1.6l0-1.6l0-1.6l0-1.6l0-1.6l0-1.6l0-1.6l0-1.6l0-1.6l0-1.6l0-1.6l0-1.6l0-1.6l0-1.6l0-1.6l0-1.6l0-1.6l0-1.6l0-1.6l0-1.6l0-1.6l0-1.6l0-1.6l0-1.6l0-1.6l0-1.6l0-1.6l0-1.6l0-1.6l0-1.6l0-1.6l0-1.6l0-1.6l0-1.6l0-1.6l0-1.6l0-1.6l0-1.6l0-1.6zM29.1,7.6l-.7,.5l-.9,1.1l-.6,1.6l-.1,1.3l0,.3l0,.1l.2,1.5l.6,1.6l.8,1.4l.1,.2l1.2,1.6l.3,.6l.8,1l.8,1l.7,.6l.9,.6l1.5,1l.1,.1l1.6,.9l1.2,.6l.4,.2l1.6,.7l1.6,.5l1.2,.2l.4,0l1.6,.1l1.6,0l1.6,.3l1.6,.8l.5,.4l1.1,1.6l.6,1.6l.4,1.6l.6,1l1.6-.1l1-.9l.6-.5l.9-1.1l.7-.8l.7-.8l.9-1l.7-.6l.9-.8l1.5-.8l.1-.1l.9-1.5l-.3-1.6l.2-1.6l.5-1.6l.3-.7l.3-.9l.4-1.6l.3-1.6l.2-1.6l.1-1.6l.1-1.6l-.2-1.6l-.6-1.6l-.6-.6l-1.6-.6l-1.6,.6l-.8,.6l-.8,.6l-1.3,1l-.3,.2l-1.6,1.2l-.3,.2l-1.3,.9l-1,.7l-.6,.3l-1.6,.7l-1.6,.3l-1.6-.6l-1.1-.7l-.5-.3l-1.6-1.1l-.4-.2l-1.2-.8l-1.6-.7l-.2-.1l-1.4-1l-1-.6l-.6-.5l-1.6-.6l-1.6,.2l-1.6,.2l-1.6,.2l-1.6,.2z" fill="#e2f0ee"/>
<path d="M-.4-2l1.6,0l1.6,0l1.6,0l1.6,0l1.6,0l1,0l-1,1.2l-.3,.4l-.8,1.6l-.5,.7l-.4,.9l-.6,1.6l-.6,1.5l0,.1l-.4,1.6l-.2,1.6l0,1.6l.4,1.6l.2,.2l1.4,1.4l.2,.2l1.6,1l.5,.4l1.1,.7l1.4,.9l.2,.1l1.6,.6l1.6,.9l1.6,.4l1.6,.8l.6,.4l1,.4l1.2,1.2l.4,.2l1.4,1.4l.2,.1l1.6,1.3l.2,.2l1.4,1l.9,.6l.7,.6l1.2,1l.4,.4l1.1,1.2l.5,.6l1,1l.6,.6l1.3,1l.3,.2l1.6,1l.6,.4l1,.4l1.6,.4l1.6,.2l1.6,0l1.6,0l1.5,.6l.1,0l1.6,.8l1,.8l.6,.2l1.6,.4l1.6,.2l1.6,.1l1.6,0l1.6-.1l1.5-.8l.1-.1l1.3-1.5l.3-.3l1.6,.3l0,.1l-.9,1.5l-.7,.6l-1.1,1l0,1.6l.5,1.6l.6,1.4l.1,.2l1.3,1.6l.2,.2l1.6,.7l1.6,.3l1.6-.1l1.6-.2l1.6-.3l1.6-.1l.5,1.1l1.1,1.4l.1,.2l1.3,1.6l.2,.3l1.1,1.3l.5,.9l.8,.7l.8,1l1.5,.6l.1,.1l1.6,.8l.4,.7l-.3,1.6l-.1,.1l-.7,1.5l-.4,1.6l.1,1.6l.4,1.6l.6,1.4l.1,.2l1.4,1.6l.1,.1l1.6,.7l1.6,.3l1.6,.2l.6,.3l1,1.1l.2,.5l.2,1.6l-.2,1.6l-.2,.4l-.5,1.2l-.8,1.6l-.3,.3l-1.6,1l-1.6,.1l-1.6-.3l-1.6,.1l-.8,.4l-.8,.7l-.7,.9l-.9,1.5l-.1,.1l-1.5,.7l-1.1-.7l-.5-.2l-1.4-1.4l-.2-.2l-1.4-1.4l-.2-.2l-1.6-1.2l-1-.2l-.6-.1l-.1,.1l-1.5,.7l-1.4,.9l-.2,.1l-1.6,1.4l-.1,.1l-.2,1.6l.3,.5l.6,1.1l1,1.6l1.2,1.6l.4,.6l.9,1l.7,.7l1.1,.9l.5,.5l1.4,1.1l.2,.2l1.3,1.4l.3,.4l1.1,1.2l.5,.3l1.6,.2l1.6,0l1.6,.1l1.6,.1l1.6,0l1.6-.1l1.6-.2l1.6-.2l1.6,0l1.6,0l1.2-.2l.4-.1l1.6-1l.7-.5l.9-.8l1-.8l.6-.5l1.6-.7l1.6-.3l.6-.1l1-.4l1.6-.7l1.1-.5l.5-.3l1.6-.7l1.4-.6l.2-.1l1.6-.6l1.6-.8l.1-.1l1.5-.7l1.6-.4l1.6,.4l1.1,.7l.5,.6l1,1l.6,.9l.6,.7l.9,1.6l.1,.5l.5,1.1l.3,1.6l.4,1.6l.4,.8l.4,.8l1.2,1.5l.1,.1l1.5,.9l1.6,.1l1.6-.1l1.6-.3l1.6-.2l1.6-.2l1.4-.2l.2,0l1.6-.2l1.6-.1l.8,.3l.8,.8l.3,.8l-.2,1.6l-.1,.1l-.8,1.5l-.8,1.4l-.1,.2l-.9,1.6l-.6,1.2l-.2,.4l-.2,1.6l.4,.9l.6,.7l1,1.1l.5,.5l1.1,1l.7,.6l.9,.8l1,.8l.6,.5l1.5,1.1l.1,.1l1.6,1.1l.7,.4l.9,.6l1.6,1l.1,0l1.5,.8l0,.8l0,1.6l0,1.6l0,1.6l0,1.6l0,1.6l0,1.6l0,1.6l0,1.6l-1.6,0l-1.6,0l-1.6,0l-1.6,0l-1.6,0l-1.6,0l-1.6,0l-1.6,0l-1.6,0l-1.6,0l-1.6,0l-1.6,0l-1.6,0l-1.6,0l-1.6,0l-1.6,0l-1.6,0l-1.6,0l-1.6,0l-1.6,0l-1.6,0l-1.6,0l-1.6,0l-1.6,0l-1.6,0l-1.6,0l-1.6,0l-1.6,0l-1.6,0l-1.6,0l-1.6,0l-1.6,0l-1.6,0l-1.6,0l-1.6,0l-1.6,0l-1.6,0l-1.6,0l-1.6,0l-1.6,0l-1.6,0l-1.6,0l-1.6,0l-1.6,0l-1.6,0l-1.6,0l-1.6,0l-1.6,0l-1.6,0l-1.6,0l-1.6,0l-1.6,0l-1.6,0l-1.6,0l-1.6,0l-1.6,0l-1.6,0l-1.6,0l-1.6,0l-1.6,0l-1.6,0l-1.6,0l-1.6,0l-1.6,0l-1.6,0l-1.6,0l-1.6,0l-1.6,0l-1.6,0l-1.6,0l-1.6,0l-1.6,0l-1.6,0l-1.6,0l-1.6,0l-1.6,0l-1.6,0l-1.6,0l-1.6,0l-1.6,0l-1.6,0l-1.6,0l-1.6,0l-1.6,0l-1.6,0l-1.6,0l-1.6,0l-1.6,0l-1.6,0l-1.6,0l-1.6,0l-1.6,0l-1.6,0l-1.6,0l-1.6,0l0-1.6l0-1.6l0-1.6l0-1.6l0-1.6l0-1.6l0-1.6l0-1.6l0-1.6l0-1.6l0-1.6l0-1.6l0-1.6l0-1.6l0-1.6l0-1.6l0-1.6l0-1.6l0-1.6l0-1.6l0-1.6l0-1.6l0-1.6l0-1.6l0-1.6l0-1.6l0-1.6l0-1.6l0-1.6l0-1.6l0-1.6l0-1.6l0-1.6l0-1.6l0-1.6l0-1.6l0-1.6l0-1.6l0-1.6l0-1.6l0-1.6l0-1.6l0-1.6l0-1.6l0-1.6l0-1.6l0-1.6l0-1.6l0-1.6l0-1.6l0-1.6l0-1.6l0-1.6l0-1.6l0-1.6l0-1.6l0-1.6l0-1.6l0-1.6l0-1.6l0-1.6l0-1.6l0-1.6l0-1.6l0-1.6l0-1.6l0-1.6l0-1.6l0-1.6l0-1.6l0-1.6l0-1.6l0-1.6l0-1.6l0-1.6l0-1.6l0-1.6l0-1.6l0-1.6l0-1.6l0-1.6l0-1.6l0-1.6l0-1.6l0-1.6l0-1.6zM66.8-2l1.6,0l1.6,0l1.6,0l1.6,0l1.6,0l1.6,0l1.6,0l1.6,0l1.6,0l1.6,0l1.6,0l1.6,0l1.6,0l1.6,0l1.6,0l1.6,0l1.6,0l1.6,0l1.6,0l1.6,0l1.6,0l1.6,0l1.6,0l1.6,0l1.6,0l1.6,0l1.6,0l1.6,0l1.6,0l1.6,0l.2,0l-.2,.2l-1.4,1.4l-.2,.2l-1.3,1.4l-.3,.3l-1.2,1.3l-.4,.5l-.9,1.1l-.7,.9l-.5,.7l-1.1,1.4l-.1,.2l-1.1,1.6l-.4,.6l-.6,1l-1,1.6l-.9,1.6l-.7,1.4l-.1,.2l-.4,1.6l-.2,1.6l-.1,1.6l0,1.6l-.1,1.6l-.2,1.6l-.2,1.6l-.3,1.1l-.1,.5l-.4,1.6l-.8,1.6l-.3,.2l-1.6,1l-.6,.4l-1,.4l-1.6,.5l-1.3,.7l-.3,.1l-1.6,.6l-1.4,.9l-.2,.2l-1.6,1.1l-1.6,.3l-.1,0l-1.5,.5l-1.6,.7l-.6,.4l-1,1.1l-.5,.5l-1,1.6l-.1,.2l-1.6,1l-1.6-.1l-1.6,.1l-1.6,.3l-.5,.1l-1.1,.4l-1.5-.4l-.1,0l-1.5-1.6l-.1-.1l-1.2-1.5l-.4-.7l-.4-.9l-.1-1.6l.5-.9l.3-.7l1.2-1.6l.1-.1l1.2-1.5l.4-.7l.6-.9l.5-1.6l.1-1.6l0-1.6l0-1.6l-1.1-1.6l-.1-.1l-.9-1.5l-.7-1.6l-.2-1.6l-.1-1.6l-.1-1.6l-.1-1.6l-.1-1.6l-.1-1.6l-.1-1.6l-.1-1.6l.1-1.6l.7-1.6l.1-.4l.7-1.2l-.4-1.6l-.3-.5l-.6-1.1l-1-1.3l-.2-.3zM77.8,22l0,1.6l.2,.4l1.6,.5l.8-.9l-.7-1.6l-.1-.1l-1.6,0z" fill="#b4e2db"/>
<path d="M12.4,20.1l1.6,.3l1.6,.6l1.6,.7l.5,.3l1.1,.7l1.2,.9l.4,.3l1.6,1.3l1.6,1.5l.1,.1l1.5,1.5l.1,.1l1.3,1.6l.2,.4l.8,1.2l.8,1.3l.2,.3l1.4,1.4l.2,.2l1.4,.8l1.6,.7l.2,.1l1.4,.8l1.6,.6l.6,.2l1,.6l1.6,.4l1.6,.2l1.6,.2l.5,.2l1.1,.6l1.6,.7l.7,.3l.9,.8l1,.8l.1,1.6l-.9,1.6l-.2,.3l-1.6,1.1l-1.6,.1l-.6,.1l-1,.2l-1.6,1.4l1.3,1.6l.3,.2l1.6-.1l.2-.1l1.4-1l1.6-.2l1.6,.5l1,.7l.6,.6l.8,1l.3,1.6l-.2,1.6l-.1,1.6l.8,1.5l.1,.1l1.5,.5l1.6-.4l.2-.1l1.4-1.4l.2-.2l1.1-1.6l.3-.4l1.1-1.2l.5-.5l1.5-1.1l.1-.1l1.6-.8l1.3-.7l.3-.1l1.6-.4l1.6-.2l1.6,.4l.2,.3l1.4,1.5l.1,.1l.9,1.6l.6,1l.3,.6l.4,1.6l.1,1.6l-.5,1.6l-.3,.4l-1.1,1.2l-.5,.4l-1.2,1.2l-.4,.4l-1.1,1.2l-.5,.6l-.8,1l-.8,1.3l-.4,.3l-1.2,.9l-1.4,.7l-.2,.1l-1.6,1l-.6,.5l-.5,1.6l.2,1.6l0,1.6l-.7,1.4l-.1,.2l-1.5,1.2l-1.1,.4l-.5,1l-.2,.6l.2,.1l1.4,1.5l.2,.2l1.1,1.4l.5,.7l.6,.9l1,1.4l.1,.2l1,1.6l.5,.9l.5,.7l1,1.6l.1,.1l1.6,1.5l1.6,1.1l.7,.5l.9,.6l1.6,.9l.2,.1l1.4,.3l1.6,.1l1.6,0l1.6,.1l1.6,.1l1.6,.1l1.6,0l1.6,0l1.6-.2l1.6-.1l1.6-.2l1-.2l.6-.2l1.6-.7l1-.7l.6-.4l1.4-1.2l.2-.2l1.6-.9l1.6-.4l1.3-.1l.3,0l1.6-.1l1.6-.3l1.6-.6l.9-.6l.7-.2l1.6-.7l1.1-.7l.5-.2l1.6-.3l.6,.5l.2,1.6l-.4,1.6l-.4,1l-.4,.6l-1.2,1.2l-.8,.4l-.8,.5l-1,1.1l.4,1.6l.6,1.2l.2,.4l1.4,1.5l.4,.1l1.2,.2l.5-.2l1.1-.5l1.6-.6l1.6,0l1.6,.4l1.4,.7l.2,.1l1.6,1l1.6,.4l.3,.1l1.3,.7l1.4,.9l.2,.2l1.1,1.4l.5,.7l.5,.9l-.1,1.6l-.4,.6l-.5,1l-1.1,1.2l-.3,.4l-1.3,1.2l-.4,.4l-1.2,1l-.7,.6l-.9,.7l-1.4,.9l-.2,.2l-1.6,1l-.7,.4l-.9,.9l-1,.7l-.6,.9l-.6,.7l-.6,1.6l-.1,1.6l0,1.6l0,1.6l.1,1.6l0,1.6l0,1.6l0,1.6l-.4,0l-1.6,0l-1.6,0l-1.6,0l-1.6,0l-1.6,0l-1.6,0l-1.6,0l-1.6,0l-1.6,0l-1.6,0l-1.6,0l-1.6,0l-1.6,0l-1.6,0l-1.6,0l-1.6,0l-1.6,0l-1.6,0l-1.6,0l-1.6,0l-1.6,0l-1.6,0l-1.6,0l-1.6,0l-1.6,0l-1.6,0l-1.6,0l-1.6,0l-1.6,0l-1.6,0l-1.6,0l-1.6,0l-1.6,0l-1.6,0l-1.6,0l-1.6,0l-1.6,0l-1.6,0l-1.6,0l-1.6,0l-1.6,0l-1.6,0l-1.6,0l-1.6,0l-1.6,0l-1.6,0l-1.6,0l-1.6,0l-1.6,0l-1.6,0l-1.6,0l-1.6,0l-1.6,0l-1.6,0l-1.6,0l-1.6,0l-1.6,0l-1.6,0l-1.6,0l-1.6,0l-1.6,0l-1.6,0l-1.6,0l-1.6,0l-1.6,0l-1.6,0l-1.6,0l-1.6,0l-1.6,0l-1.6,0l-1.6,0l-1.6,0l0-1.6l0-1.6l0-1.6l0-1.6l0-1.6l0-1.6l0-1.6l0-1.6l0-1.6l0-1.6l0-1.6l0-1.6l0-1.6l0-1.6l0-1.6l0-1.6l0-1.6l0-1.6l0-1.6l0-1.6l0-1.6l0-1.6l0-1.6l0-1.6l0-1.6l0-1.6l0-1.6l0-1.6l0-1.6l0-1.6l0-1.6l0-1.6l0-1.6l0-1.6l0-1.6l0-1.6l0-1.6l0-1.6l0-1.6l0-1.6l0-1.6l0-1.6l0-1.6l0-1.6l0-1.6l0-1.6l0-1.6l0-1.6l0-1.6l0-1.6l0-1.6l0-1.6l0-.6l1.6-.7l.4-.3l1.2-1.4l.2-.2l1.3-1.6l.1-.2l.9-1.4l.7-1.2l.1-.4l.4-1.6l0-1.6l-.2-1.6l-.3-1l-.2-.6l-.7-1.6l-.6-1.6l-.1-.6l-.3-1l-.1-1.6l.3-1.6l.1-.3l.8-1.3l.8-1l.6-.6l1-.8l.9-.8l.7-.5l1.1-1.1l.5-.5l.8-1.1l.8-1.4l.2-.2zM31.7,70l-.1,.1l-1.6,1.2l-.5,.3l-1.1,.8l-1.6,.6l-.6,.2l-1,.5l-1.6,.9l-.6,.2l-1,.8l-1.6,.7l-.1,.1l-1.5,1.1l-.9,.5l-.7,.7l-.6,.9l.1,1.6l.5,1.5l.1,.1l1,1.6l.5,1.2l.3,.4l.8,1.6l.4,1.6l.1,.2l.8,1.4l.7,1.6l.1,.3l1,1.3l.6,.8l1,.8l.6,.4l1.6-.1l.6-.3l1-.8l.9-.8l.7-.6l1.2-1l.4-.3l1.6-1.2l.4-.1l1.2-.5l1.6,.1l1,.4l.6,.2l.6-.2l1-.9l.3-.7l.3-1.6l-.2-1.6l-.4-1.2l-.2-.4l-1-1.6l-.4-.8l-.3-.8l.1-1.6l.2-.5l.7-1.1l.9-1l1-.6l.6-.4l1.6,0l1.6-.2l1.6-.4l1.4-.6l.2-.3l1-1.3l-1-1.1l-.4-.5l-1.2-.5l-1.6-.2l-1.6,.5l-.5,.2l-1.1,.7l-1.6-.4l-.2-.3l-1.4-1.1l-.4-.5l-1.2-.5l-1.6-.4l-1.6,.3zM52.1,78l.3,.6l.3-.6l-.3-.2zM53.1,79.6l.9,.2l1.3-.2l-1.3-.6zM84.4,32.9l.2,.3l-.2,.8l-.5-.8z" fill="#79c8bc"/>
<path d="M14,23l1.6-.1l1.6,.6l.2,.1l1.4,1.2l.6,.4l1,1.3l.3,.3l1,1.6l.3,.3l.8,1.3l.8,1.3l.2,.3l.5,1.6l.3,1.6l.3,1.6l.3,1l.2,.6l1,1.6l.4,.4l1.4,1.2l.2,.1l1.6,1.3l.3,.2l1.3,.9l1,.7l.6,.5l1.1,1.1l.5,.8l.3,.8l.9,1.6l.4,.3l1.1,1.3l.5,.4l1.1,1.2l.5,.6l1,1l.6,1l.4,.6l.3,1.6l-.3,1.6l-.3,1.6l-.1,1.6l0,.6l-.1,1l-.7,1.6l-.8,.5l-1.6,.3l-1.6,0l-1.6,.3l-1.6,.5l-.1,0l-1.5,.7l-1.5,.9l-.1,0l-1.6,1.1l-.9,.5l-.7,.4l-1.6,.6l-1.6,.5l-.3,.1l-1.3,.5l-1.6,.6l-.9,.5l-.7,.3l-1.6,.4l-1.6,0l-.3-.7l.3-.8l.3-.8l.7-1.6l.6-1.1l.2-.5l.5-1.6l.2-1.6l-.2-1.6l-.4-1.6l-.1-1.6l-.1-1.6l-.1-.9l-.2-.7l-1.4-.7l-1.6,0l-1.6,.1l-1.6,.2l-1.6,.2l-1.6,.2l-.3,0l-1.3,.3l-1.6,.2l-1.6,.1l-.8-.6l-.8-1.2l-.1-.4l.1-.1l1-1.5l.6-.6l1-1l.6-.6l1.1-1l.5-.5l1-1.1l.6-.9l.4-.7l.4-1.6l.1-1.6l-.1-1.6l-.1-1.6l-.3-1.6l-.4-1.4l0-.2l0-.3l.9-1.3l.7-.4l1.6-.8l.6-.4l1-.6l.9-1l.5-1.6l-.1-1.6l-.4-1.6l-.4-1.6l-.1-1.6l.6-1.6zM55.6,85.8l.3,.2l1.3,1.1l.3,.5l.3,1.6l0,1.6l-.1,1.6l0,1.6l.3,1.6l.8,1l.3,.6l1.3,.9l1.4,.7l.2,.1l1.6,.5l1.6,.5l1.6,.4l1.6,.1l1.6-.4l1.6-.7l1.5-.5l.1,0l1.6-.1l1.6,.1l1.1,0l.5,0l1.6,.2l1.6,.2l1.6,.1l1.6-.1l1.6-.2l1.6-.1l.4-.1l1.2-.1l1.6-.2l1.6-.4l1.4-.9l.2-.1l1.6-1.1l.7-.4l.9-.4l1.6,.1l.4,.3l.7,1.6l.5,.6l.7,1l.9,.8l.8,.8l.8,.7l.8,.9l.8,.9l.5,.7l1.1,1.5l.1,.1l1.1,1.6l.4,.6l.8,1l.7,1.6l.1,.2l.5,1.4l.7,1.6l.4,.8l.4,.8l.7,1.6l.4,1.6l-.7,1.6l-.8,.7l-1,.9l-.6,.4l-1.6,.9l-.5,.3l-1.1,.5l-1.4,1.1l-.2,.2l-1.4,1.4l-.2,.3l-1.1,1.3l-.5,.5l-1.1,1.1l-.5,.5l-1.3,1.1l-.3,.2l-1.6,1l-.6,.4l-1,.5l-1.6,.6l-.9,.5l-.7,.2l-1.6,.5l-1.6,.5l-.7,.4l-.9,0l-1.6,0l-1.6,0l-1.6,0l-1.6,0l-1.6,0l-1.6,0l-1.6,0l-1.6,0l-1.6,0l-1.6,0l-1.6,0l-1.6,0l-1.6,0l-1.6,0l-1.6,0l-1.6,0l-1.6,0l-1.6,0l-1.6,0l-1.6,0l-1.6,0l-1.6,0l-1.6,0l-1.6,0l-1.6,0l-1.6,0l-1.6,0l-1.6,0l-1.6,0l-1.6,0l-1.6,0l-1.6,0l-1.6,0l-1.6,0l-1.6,0l-1.6,0l-1.4,0l-.2-.8l-.2-.8l-.4-1.6l-.3-1.6l-.2-1.6l0-1.6l0-1.6l.1-1.6l.2-1.6l.3-1.6l.4-1.6l.1-.4l.3-1.2l.6-1.6l.7-1.6l.6-1.6l.7-1.6l.2-1.6l-.4-1.6l-.6-1.6l-.5-.9l-.3-.7l-.6-1.6l0-1.6l.9-1.2l.5-.4l1.1-.8l1.2-.8l.4-.3l1.6-.9l.9-.4l.7-.3l1.6-.1l1.6,.3l.9,.1l.7,.1l.8-.1l.8-.2l1.6-1.4l.1,0l1.1-1.6l.1-1.6l0-1.6l.2-1.6l.1-.2l.7-1.4l.9-1.1l1.6,.2l1.6,.6l1.6-.1l1.6-.7l1.1-.5zM48.8,95.6l.4,.1l1.6,0l.2-.1l-.2-.5l-1.6,0zM67.8,103.6l-.8,1.6l-.1,1.6l.6,1.6l.9,1.6l1.6,1.4l1.3,.2l.3,.1l.1-.1l.9-1.6l.2-1.6l-.1-1.6l-.4-1.6l-.7-1.4l-.2-.2l-1.4-1.1l-1.6,.2z" fill="#3b9b93"/>
<path d="M14,41.1l1.6-.1l.4,.2l1.2,1l.4,.6l.7,1.6l.5,1.3l.2,.3l1.2,1.6l.2,1.6l-1.6,.3l-1.6,.8l-.6,.5l-1,.5l-1.6,.6l-1.6-.7l-.5-.4l-.8-1.6l-.3-1.6l0-.3l-.1-1.3l0-1.6l.1-.3l1-1.3l.6-.8l1.4-.8zM31.6,53.5l1.6-.3l1.6,.5l.3,.3l.1,1.6l-.3,1.6l0,1.6l.2,1.6l-.1,1.6l-.2,.3l-.8,1.3l-.8,.5l-1.4,1.1l-.2,.1l-1.6,1l-.7,.5l-.9,.6l-1.5,1l-.1,0l-1.6,.4l-.9-.4l-.5-1.6l0-1.6l.4-1.6l1-1.1l.4-.5l1.2-1.6l1-1.6l.6-1.3l.2-.3l.8-1.6l.6-.9l.7-.7zM49.2,103.2l1.6-.7l1.6-.4l1.6-.1l1.6,.1l1.6,.1l1.6,0l1.6,.2l1.6,.7l.4,.5l.4,1.6l.3,1.6l.5,1.4l.1,.2l.6,1.6l.9,1.6l.9,1.6l.7,1.6l0,.2l.2,1.4l-.1,1.6l-.1,.6l-.2,1l-.2,1.6l-.2,1.6l.1,1.6l.2,1.6l.2,1.6l-.1,1.6l0,1.6l.2,1.2l0,.4l.2,1.6l.3,1.6l-.5,0l-1.6,0l-1.6,0l-1.6,0l-1.6,0l-1.6,0l-1.6,0l-1.6,0l-1.6,0l-1.6,0l-1.6,0l-1.6,0l-1.6,0l-1.6,0l-1.6,0l-1.6,0l-1.6,0l-1.6,0l-1.6,0l-.9,0l-.7-.9l-.3-.7l-.8-1.6l-.5-.8l-.2-.8l-.4-1.6l-.4-1.6l-.4-1.6l-.2-1.1l0-.5l0-1.6l0-.6l.1-1l.4-1.6l.4-1.6l.4-1.6l.3-1.2l.2-.4l.5-1.6l0-1.6l.2-1.6l.7-1.1l.7-.5l.9-.6l1.6-1l1.6-.8l1.4-.8l.2-.1l1.6-.6l1.6-.2l1.6-.3l.7-.4zM84.4,104.3l1.6-.1l1.6,.4l1.6-.1l1.6-.3l1.6,0l1.6,.5l1,.5l.6,.4l1.5,1.2l.1,.2l.5,1.4l-.3,1.6l-.2,.3l-1.2,1.3l-.4,.2l-1.6,.2l-1.6,0l-1.6,0l-1.6,0l-1.6-.1l-1.6-.3l-1.6-.7l-1.3-.9l-.3-.5l-.5-1.1l.3-1.6l.2-.5l.9-1.1z" fill="#0c7169"/>
<path d="M60.4,116.3l1.6-.7l.6,.8l.1,1.6l-.7,1.1l-1.6-.6l-.2-.5l.1-1.6z" fill="#004c42"/>
<g fill="#000"><circle cx="72.5" cy="37.3" r="0.9"/><circle cx="81.1" cy="37.3" r="1.55"/><circle cx="25" cy="46" r="1.55"/><circle cx="76.8" cy="46" r="1.55"/><circle cx="37.9" cy="54.6" r="1.55"/><circle cx="63.8" cy="54.6" r="1.55"/><circle cx="72.5" cy="54.6" r="1.55"/><circle cx="33.6" cy="63.2" r="1.55"/><circle cx="42.2" cy="63.2" r="1.55"/><circle cx="50.9" cy="63.2" r="1.55"/><circle cx="59.5" cy="63.2" r="1.55"/><circle cx="68.2" cy="63.2" r="0.9"/><circle cx="46.6" cy="71.9" r="1.55"/><circle cx="55.2" cy="71.9" r="1.55"/><circle cx="63.8" cy="71.9" r="1.55"/><circle cx="50.9" cy="80.5" r="1.55"/><circle cx="59.5" cy="80.5" r="1.55"/><circle cx="68.2" cy="80.5" r="0.9"/><circle cx="76.8" cy="80.5" r="1.55"/><circle cx="85.4" cy="80.5" r="1.55"/><circle cx="46.6" cy="89.2" r="1.55"/><circle cx="55.2" cy="89.2" r="1.55"/><circle cx="63.8" cy="89.2" r="0.9"/><circle cx="50.9" cy="97.8" r="1.55"/><circle cx="59.5" cy="97.8" r="1.55"/><circle cx="68.2" cy="97.8" r="1.55"/><circle cx="85.4" cy="97.8" r="0.9"/><circle cx="94.1" cy="97.8" r="0.9"/><circle cx="102.7" cy="97.8" r="1.55"/><circle cx="111.4" cy="97.8" r="1.55"/><circle cx="55.2" cy="106.4" r="1.55"/><circle cx="63.8" cy="106.4" r="1.55"/><circle cx="72.5" cy="106.4" r="1.55"/><circle cx="81.1" cy="106.4" r="1.55"/><circle cx="89.8" cy="106.4" r="1.55"/><circle cx="98.4" cy="106.4" r="1.55"/><circle cx="50.9" cy="115.1" r="1.55"/><circle cx="59.5" cy="115.1" r="1.55"/><circle cx="68.2" cy="115.1" r="1.55"/><circle cx="76.8" cy="115.1" r="1.55"/><circle cx="85.4" cy="115.1" r="1.55"/><circle cx="55.2" cy="123.7" r="1.55"/><circle cx="63.8" cy="123.7" r="1.55"/></g>
</g>
<use href="#ov"/><use href="#fr"/>
<text x="1.5" y="-9.2" font-size="10.6">(g)</text>
<text x="-13" y="137.4" font-size="11.25" text-anchor="end">12°N</text>
<text x="-13" y="119.9" font-size="11.25" text-anchor="end">15°N</text>
<text x="-13" y="102.1" font-size="11.25" text-anchor="end">18°N</text>
<text x="-13" y="84" font-size="11.25" text-anchor="end">21°N</text>
<text x="-13" y="65.6" font-size="11.25" text-anchor="end">24°N</text>
<text x="-13" y="46.7" font-size="11.25" text-anchor="end">27°N</text>
<text x="-13" y="27.3" font-size="11.25" text-anchor="end">30°N</text>
<text x="-13" y="7.3" font-size="11.25" text-anchor="end">33°N</text>
<text x="11.4" y="22.1" transform="translate(0,132.8)" font-size="11.25" text-anchor="middle">36°E</text>
<text x="45.4" y="22.1" transform="translate(0,132.8)" font-size="11.25" text-anchor="middle">42°E</text>
<text x="79.5" y="22.1" transform="translate(0,132.8)" font-size="11.25" text-anchor="middle">48°E</text>
<text x="113.6" y="22.1" transform="translate(0,132.8)" font-size="11.25" text-anchor="middle">54°E</text>
<text x="147.7" y="22.1" transform="translate(0,132.8)" font-size="11.25" text-anchor="middle">60°E</text>
</g>
<g transform="translate(256.3,380.8)">
<g clip-path="url(#land)">
<rect x="-2" y="-2" width="151.7" height="136.8" fill="#f1dfb3"/>
<path d="M-.4-2l1.6,0l1.6,0l1.6,0l1.6,0l1.6,0l1.6,0l1.6,0l1.6,0l1.6,0l1.6,0l1.6,0l1.6,0l1.6,0l1.6,0l1.6,0l1.6,0l1.6,0l1.6,0l1.6,0l1.6,0l1.6,0l1.6,0l1.6,0l1.6,0l1.6,0l1.6,0l1.6,0l1.6,0l1.6,0l1.6,0l1.6,0l1.6,0l1.6,0l1.6,0l1.6,0l1.6,0l1.6,0l1.6,0l1.6,0l1.6,0l1.6,0l1.6,0l1.6,0l1.6,0l1.6,0l1.6,0l1.6,0l1.6,0l1.6,0l1.6,0l1.6,0l1.6,0l1.6,0l1.6,0l1.6,0l1.6,0l1.6,0l1.6,0l1.6,0l1.6,0l1.6,0l1.6,0l1.6,0l1.6,0l1.6,0l1.6,0l1.6,0l1.6,0l1.6,0l1.6,0l1.6,0l1.6,0l1.6,0l1.6,0l1.6,0l1.6,0l1.6,0l1.6,0l1.6,0l1.6,0l1.6,0l1.6,0l1.6,0l1.6,0l1.6,0l1.6,0l1.6,0l1.6,0l1.6,0l1.6,0l1.6,0l1.6,0l1.6,0l1.6,0l0,1.6l0,1.6l0,1.6l0,1.6l0,1.6l0,1.6l0,1.6l0,1.6l0,1.6l0,1.6l0,1.6l0,1.6l0,1.6l0,1.6l0,1.6l0,1.6l0,1.6l0,1.6l0,1.6l0,1.6l0,1.6l0,1.6l0,1.6l0,1.6l0,1.6l0,1.6l0,1.6l0,1.6l0,1.6l0,1.6l0,1.6l0,1.6l0,1.6l0,1.6l0,1.6l0,1.6l0,1.6l0,1.6l0,1.6l0,1.6l0,1.6l0,1.6l0,1.6l0,1.6l0,1.6l0,1.6l0,1.6l0,1.6l0,1.6l0,1.6l0,1.6l0,1.6l0,1.6l0,1.6l0,1.6l0,1.6l0,1.6l0,1.6l0,1.6l0,1.6l0,1.6l0,1.6l0,1.6l0,1.6l0,1.6l0,1.6l0,1.6l0,1.6l0,1.6l0,1.6l0,1.6l0,1.6l0,1.6l0,1.6l0,1.6l0,1.6l0,1.6l0,1.6l0,1.6l0,1.6l0,1.6l0,1.6l0,1.6l0,1.6l0,1.6l0,1.6l-1.6,0l-1.6,0l-1.6,0l-1.6,0l-1.6,0l-1.6,0l-1.6,0l-1.6,0l-1.6,0l-1.6,0l-1.6,0l-1.6,0l-1.6,0l-1.6,0l-1.6,0l-1.6,0l-1.6,0l-1.6,0l-1.6,0l-1.6,0l-1.6,0l-1.6,0l-1.6,0l-1.6,0l-1.6,0l-1.6,0l-1.6,0l-1.6,0l-1.6,0l-1.6,0l-1.6,0l-1.6,0l-1.6,0l-1.6,0l-1.6,0l-1.6,0l-1.6,0l-1.6,0l-1.6,0l-1.6,0l-1.6,0l-1.6,0l-1.6,0l-1.6,0l-1.6,0l-1.6,0l-1.6,0l-1.6,0l-1.6,0l-1.6,0l-1.6,0l-1.6,0l-1.6,0l-1.6,0l-1.6,0l-1.6,0l-1.6,0l-1.6,0l-1.6,0l-1.6,0l-1.6,0l-1.6,0l-1.6,0l-1.6,0l-1.6,0l-1.6,0l-1.6,0l-1.6,0l-1.6,0l-1.6,0l-1.6,0l-1.6,0l-1.6,0l-1.6,0l-1.6,0l-1.6,0l-1.6,0l-1.6,0l-1.6,0l-1.6,0l-1.6,0l-1.6,0l-1.6,0l-1.6,0l-1.6,0l-1.6,0l-1.6,0l-1.6,0l-1.6,0l-1.6,0l-1.6,0l-1.6,0l-1.6,0l-1.6,0l-1.6,0l0-1.6l0-1.6l0-1.6l0-1.6l0-1.6l0-1.6l0-1.6l0-1.6l0-1.6l0-1.6l0-1.6l0-1.6l0-1.6l0-1.6l0-1.6l0-1.6l0-1.6l0-1.6l0-1.6l0-1.6l0-1.6l0-1.6l0-1.6l0-1.6l0-1.6l0-1.6l0-1.6l0-1.6l0-1.6l0-1.6l0-1.6l0-1.6l0-1.6l0-1.6l0-1.6l0-1.6l0-1.6l0-1.6l0-1.6l0-1.6l0-1.6l0-1.6l0-1.6l0-1.6l0-1.6l0-1.6l0-1.6l0-1.6l0-1.6l0-1.6l0-1.6l0-1.6l0-1.6l0-1.6l0-1.6l0-1.6l0-1.6l0-1.6l0-1.6l0-1.6l0-1.6l0-1.6l0-1.6l0-1.6l0-1.6l0-1.6l0-1.6l0-1.6l0-1.6l0-1.6l0-1.6l0-1.6l0-1.6l0-1.6l0-1.6l0-1.6l0-1.6l0-1.6l0-1.6l0-1.6l0-1.6l0-1.6l0-1.6l0-1.6l0-1.6l0-1.6zM3.1,10.8l-.3,.1l-1.6,1.5l-.7,1.6l-.1,1.6l.8,1l.7,.6l.9,.6l1.3,1l.3,.2l1.6,1.2l.3,.2l1.3,.9l.7,.7l.9,.9l.4,.7l.9,1.6l.3,.3l1.4,1.3l.2,.1l1.6,1l1.3,.5l.3,.1l1.6,.2l1.6-.1l1.6-.2l.2,0l1.4-.5l1.6-.7l1.2-.4l.4-.3l1.6-1.3l1.3-1.6l.3-1.1l.2-.5l-.2-.3l-.9-1.3l-.7-.4l-1.6-.9l-.7-.3l-.9-.3l-1.6-.5l-1.6-.3l-1.6-.3l-1.6,.6l-1.6-.2l-1.2-.6l-.4-.2l-1.6-1.1l-.3-.3l-1.3-.9l-.8-.7l-.8-.5l-1.4-1.1l-.2-.1l-1.6-1.1l-.8-.4l-.8-.3z" fill="#f5f0e0"/>
<path d="M-.4-2l1.6,0l1.6,0l1.6,0l1.6,0l1.6,0l1.6,0l1.6,0l1.6,0l1.6,0l1.6,0l1.6,0l1.6,0l1.6,0l1.6,0l1.6,0l1.6,0l1.6,0l1.6,0l1.6,0l1.6,0l1.6,0l1.6,0l1.6,0l1.6,0l1.6,0l.9,0l-.9,1.3l-.2,.3l-.6,1.6l-.8,1.5l0,.1l-.9,1.6l-.7,1l-.5,.6l-.4,1.6l.9,1l1.6-.2l1.6-.1l1.6,.3l.9,.6l.7,.9l.4,.7l-.3,1.6l-.1,.1l-1.6,.3l-1.6-.4l-.1,0l-1.5-.8l-1.6-.7l-1.2-.1l-.4,0l-.1,0l-1.5,.3l-1.6-.1l-.3-.2l-1.3-.9l-.8-.7l-.8-.5l-1.6-.5l-1.6-.2l-1.6,0l-1.6,.2l-1.6,.5l-.8,.5l-.8,.5l-1.1,1.1l-.5,.7l-1.1,.9l-.5,.2l-1.6-.1l-.1-.1l-1.5-.8l-1.6-.8l-.1,0l-1.5-1l-1.1-.6l-.5-.4l-1.6-.8l-1.6-.1l-1.6,.8l-.5,.5l-1.1,1l-.6,.6l-1,1.2l-.4,.4l-.9,1.6l-.3,.6l0-.6l0-1.6l0-1.6l0-1.6l0-1.6l0-1.6l0-1.6l0-1.6l0-1.6l0-1.6l0-1.6zM46-2l1.6,0l1.6,0l1.6,0l1.6,0l1.6,0l1.6,0l1.6,0l1.6,0l1.6,0l1.6,0l1.6,0l1.6,0l1.6,0l1.6,0l1.6,0l1.6,0l1.6,0l1.6,0l1.6,0l1.6,0l1.6,0l1.6,0l1.6,0l1.6,0l1.6,0l1.6,0l1.6,0l1.6,0l1.6,0l1.6,0l1.6,0l1.6,0l1.6,0l1.6,0l1.6,0l1.6,0l1.6,0l1.6,0l1.6,0l1.6,0l1.6,0l1.6,0l1.6,0l1.6,0l1.6,0l1.6,0l1.6,0l1.6,0l1.6,0l1.6,0l1.6,0l1.6,0l1.6,0l1.6,0l1.6,0l1.6,0l1.6,0l1.6,0l1.6,0l1.6,0l1.6,0l1.6,0l1.6,0l1.6,0l1.6,0l0,1.6l0,1.6l0,1.6l0,1.6l0,1.6l0,1.6l0,1.6l0,1.6l0,1.6l0,1.6l0,1.6l0,1.6l0,1.6l0,1.6l0,1.6l0,1.6l0,1.6l0,1.6l0,1.6l0,1.6l0,1.6l0,1.6l0,1.6l0,1.6l0,1.6l0,1.6l0,1.6l0,1.6l0,1.6l0,1.6l0,1.6l0,1.6l0,1.6l0,1.6l0,1.6l0,1.6l0,1.6l0,1.6l0,1.6l0,1.6l0,1.6l0,1.6l0,1.6l0,1.6l0,1.6l0,1.6l0,1.6l0,1.6l0,1.6l0,1.6l0,1.6l0,1.6l0,1.6l0,1.6l0,1.6l0,1.6l0,1.6l0,1.6l0,1.6l0,1.6l0,1.6l0,1.6l0,1.6l0,1.6l0,1.6l0,1.6l0,1.6l0,1.6l0,1.6l0,1.6l0,1.6l0,1.6l0,1.6l0,1.6l0,1.6l0,1.6l0,1.6l0,1.6l0,1.6l0,1.6l0,1.6l0,1.6l0,1.6l0,1.6l0,1.6l0,1.6l-1.6,0l-1.6,0l-1.6,0l-1.6,0l-1.6,0l-1.6,0l-1.6,0l-1.6,0l-1.6,0l-1.6,0l-1.6,0l-1.6,0l-1.6,0l-1.6,0l-1.6,0l-1.6,0l-1.6,0l-1.6,0l-1.6,0l-1.6,0l-1.6,0l-1.6,0l-1.6,0l-1.6,0l-1.6,0l-1.6,0l-1.6,0l-1.6,0l-1.6,0l-1.6,0l-1.6,0l-1.6,0l-1.6,0l-1.6,0l-1.6,0l-1.6,0l-1.6,0l-1.6,0l-1.6,0l-1.6,0l-1.6,0l-1.6,0l-1.6,0l-1.6,0l-1.6,0l-1.6,0l-1.6,0l-1.6,0l-1.6,0l-1.6,0l-1.6,0l-1.6,0l-1.6,0l-1.6,0l-1.6,0l-1.6,0l-1.6,0l-1.6,0l-1.6,0l-1.6,0l-1.6,0l-1.6,0l-1.6,0l-1.6,0l-1.6,0l-1.6,0l-1.6,0l-1.6,0l-1.6,0l-1.6,0l-1.6,0l-1.6,0l-1.6,0l-1.6,0l-1.6,0l-1.6,0l-1.6,0l-1.6,0l-1.6,0l-1.6,0l-1.6,0l-1.6,0l-1.6,0l-1.6,0l-1.6,0l-1.6,0l-1.6,0l-1.6,0l-1.6,0l-1.6,0l-1.6,0l-1.6,0l-1.6,0l-1.6,0l-1.6,0l0-1.6l0-1.6l0-1.6l0-1.6l0-1.6l0-1.6l0-1.6l0-1.6l0-1.6l0-1.6l0-1.6l0-1.6l0-1.6l0-1.6l0-1.6l0-1.6l0-1.6l0-1.6l0-1.6l0-1.6l0-1.6l0-1.6l0-1.6l0-1.6l0-1.6l0-1.6l0-1.6l0-1.6l0-1.6l0-1.6l0-1.6l0-1.6l0-1.6l0-1.6l0-1.6l0-1.6l0-1.6l0-1.6l0-1.6l0-1.6l0-1.6l0-1.6l0-1.6l0-1.6l0-1.6l0-1.6l0-1.6l0-1.6l0-1.6l0-1.6l0-1.6l0-1.6l0-1.6l0-1.6l0-1.6l0-1.6l0-1.6l0-1.6l0-1.6l0-1.6l0-1.6l0-1.6l0-1.6l0-1.6l0-1.6l0-1.6l0-1.6l0-1.6l0-1.6l0-1.6l0-1.6l0-1.6l0-1.6l0-.8l.8,.8l.8,.7l1.3,.9l.3,.2l1.6,1.1l.3,.3l1.3,.9l.9,.7l.7,.6l1.1,1l.5,.4l1.3,1.2l.3,.2l1.6,1.2l.3,.2l1.3,.8l1.6,.7l.3,.1l1.3,.3l1.6,.1l1.6,0l1.6-.2l1.2-.2l.4-.1l1.6-.3l1.6-.4l1.6-.3l1.6-.2l1.6-.3l1.6-.5l1.6-.4l1.6-.4l.8-.3l.8-.5l1.4-1.1l.2-.2l1.3-1.4l.3-.3l1-1.3l.6-1l.4-.6l1-1.6l.2-.4l1.3-1.2l.3-.3l1.6-.8l1.1-.5l.5-.7l.3-.9l0-1.6l.2-1.6l.5-1.6l.6-1.4l.1-.2l.7-1.6l.8-1.6l.5-1.6l-.3-1.6l-.2-.1l-1.6-1.5l-.1,0l-1.5-.6l-1.6-.9l-.2-.1zM54.8,23.6l-.8,.9l-.4,.7l-.8,1.6l-.4,.6l-.6,1l-.7,1.6l-.3,1.2l-.1,.4l0,1.6l.1,.7l.1,.9l.4,1.6l1.1,1.2l1.6,.3l1.6-.5l1.4-1l.2-.2l.9-1.4l.7-1.6l.8-1.6l.8-1.6l0-.1l.9-1.5l.7-1.1l.3-.5l-.3-.7l-.4-.9l-1.2-.6l-1.5-1l-.1-.1l-1.6-.8l-1.6,.2zM1.2,54l-.5,1.6l.1,1.6l.2,1.6l.2,.7l.6,.9l.8,1.6l.2,.5l1.5,1.1l.1,.1l1-.1l.6-.1l1.6-1l.8-.5l.8-.6l1.4-1l.2-.2l1.6-1.3l.1-.1l1.4-1.6l-1.3-1.6l-.2,0l-1.6-.5l-1.6-.5l-1.6-.6l-1.6-.2l-1.6-.1l-1.6,0l-1.6,.3zM81.9,62l-.7,.1l-1.6,.7l-1.6,.8l-1.6,1.4l-.4,.2l-1.2,1.1l-1.6,.4l-1.6-.2l-1.6-.2l-1.6,.2l-.6,.3l.4,1.6l.2,.2l1.6,.4l1.6,0l1.6,0l1.6,.6l.2,.4l1.4,.9l.4,.7l1.2,1.1l.3,.5l1.3,1.1l.6,.5l1,.6l1.6,.4l1.6-.4l1.1-.6l.5-.3l1.6-1l.4-.3l1-1.6l-.4-1.6l-1-1.6l0-.1l-.8-1.5l-.5-1.6l-.1-1.6l-.2-.6l-1-1l-.6-.1l-1.6,0zM116.8,70l-.4,.2l-1.5,1.4l-.1,.2l-.9,1.4l-.7,1.2l-.2,.4l-.7,1.6l-.7,1.5l0,.1l-.4,1.6l.4,1.3l.1,.3l1.5,.7l1.6,0l1.6-.3l1.6-.3l.5-.1l1.1-.4l1.6-.5l1.6-.6l.2-.1l1.4-1.4l.1-.2l.4-1.6l-.2-1.6l-.3-1l-.3-.6l-1.1-1.6l-.2-.2l-1.6-1.3l-.3-.1l-1.3-.4l-1.6,0z" fill="#e2f0ee"/>
<path d="M-.4-2l1.6,0l1.6,0l1.6,0l1.5,0l-1,1.6l-.5,1.4l-.1,.2l-.9,1.6l-.5,1.6l-.1,.3l-.8,1.3l-.8,1.2l-.3,.4l-1.3,1.6l0,.1l-1.3,1.5l-.3,.5l0-.5l0-1.6l0-1.6l0-1.6l0-1.6l0-1.6l0-1.6l0-1.6l0-1.6zM81.2-2l1.6,0l1.6,0l1.6,0l1.6,0l1.6,0l1.6,0l1.6,0l1.6,0l1.6,0l1.6,0l1.6,0l1.6,0l1.6,0l1.6,0l1.6,0l1.6,0l1.6,0l1.6,0l1.6,0l1.6,0l1.6,0l1.6,0l1.6,0l1.6,0l1.6,0l1.6,0l1.6,0l1.6,0l1.6,0l1.6,0l1.6,0l1.6,0l1.6,0l1.6,0l1.6,0l1.6,0l1.6,0l1.6,0l1.6,0l1.6,0l1.6,0l1.6,0l1.6,0l0,1.6l0,1.6l0,1.6l0,1.6l0,1.6l0,1.6l0,1.6l0,1.6l0,1.6l0,1.6l0,1.6l0,1.6l0,1.6l0,1.6l0,1.6l0,1.6l0,1.6l0,1.6l0,1.6l0,1.6l0,1.6l0,1.6l0,1.6l0,1.6l0,1.6l0,1.6l0,1.6l0,1.6l0,1.6l0,1.6l0,1.6l0,1.6l0,1.6l0,1.6l0,1.6l0,1.6l0,1.6l0,1.6l0,1.6l0,1.6l0,1.6l0,1.6l0,1.6l0,1.6l0,1.6l0,1.6l0,1.6l0,1.6l0,1.6l0,1.6l0,1.6l0,1.6l0,1.6l0,1.6l0,1.6l0,1.6l0,1.6l0,1.6l0,1.6l0,1.6l0,1.6l0,1.6l0,1.6l0,1.6l0,1.6l0,1.6l0,1.6l0,1.6l0,1.6l0,1.6l0,1.6l0,1.6l0,1.6l0,1.6l0,1.6l0,1.6l0,1.6l0,1.6l0,1.6l0,1.6l0,1.6l0,1.6l0,1.6l0,1.6l0,1.6l0,1.6l-1.6,0l-1.6,0l-1.6,0l-1.6,0l-1.6,0l-1.6,0l-1.6,0l-1.6,0l-1.6,0l-1.6,0l-1.6,0l-1.6,0l-1.6,0l-1.6,0l-1.6,0l-1.6,0l-1.6,0l-1.6,0l-1.6,0l-1.6,0l-1.6,0l-1.6,0l-1.6,0l-1.6,0l-1.6,0l-1.6,0l-1.6,0l-1.6,0l-1.6,0l-1.6,0l-1.6,0l-1.6,0l-1.6,0l-1.6,0l-1.6,0l-1.6,0l-1.6,0l-1.6,0l-1.6,0l-1.6,0l-1.6,0l-1.6,0l-1.6,0l-1.6,0l-1.6,0l-1.6,0l-1.6,0l-1.6,0l-1.6,0l-1.6,0l-1.6,0l-1.6,0l-1.6,0l-1.6,0l-1.6,0l-1.6,0l-1.6,0l-1.6,0l-1.6,0l-1.6,0l-1.6,0l-1.6,0l-1.6,0l-1.6,0l-1.6,0l-1.6,0l-1.6,0l-1.6,0l-1.6,0l-1.6,0l-1.6,0l-1.6,0l-1.6,0l-1.6,0l-1.6,0l-1.6,0l-1.6,0l-1.6,0l-1.6,0l-1.6,0l-1.6,0l-1.6,0l-1.6,0l-1.6,0l-1.6,0l-1.6,0l-1.6,0l-1.6,0l-1.6,0l-1.6,0l-1.6,0l-1.6,0l-1.6,0l-1.6,0l-1.6,0l0-1.6l0-1.6l0-1.6l0-1.6l0-1.6l0-1.6l0-1.6l0-1.6l0-1.6l0-1.6l0-1.6l0-1.6l0-1.6l0-1.6l0-1.6l0-1.6l0-1.6l0-1.6l0-1.6l0-1.6l0-1.6l0-1.6l0-1.6l0-1.6l0-1.6l0-1.6l0-1.6l0-1.6l0-1.6l0-1.6l0-1.6l0-1.6l0-1.6l0-1.6l0-1.6l0-1.6l0-1.6l0-1.6l0-1.6l0-1.6l0-1.6l0-1.6l0-1.6l0-1.6l0-1.6l0-1.6l0-1.6l0-1.6l0-1.6l0-1.6l0-1.6l0-1.6l0-1.6l0-1.6l0-1.6l0-1.6l0-1.6l0-1.6l0-1.6l0-1.6l0-1.6l0-1.6l0-1.6l0-1.6l0-1.6l0-1.6l0-1.6l0-1.6l0-1.6l0-1.6l0-1.4l1.6,1.1l.4,.3l1.2,1l.9,.6l.7,.8l.8,.8l.8,1.6l1.6,.7l1.6,.5l.9,.4l.7,.3l1.6,.8l1.2,.5l.4,.2l1.6,.4l1.6,.1l1.6-.2l1.6-.2l1.6-.3l.1,0l1.5-.2l1.6-.3l1.6-.3l1.6-.2l1.6-.3l1.4-.3l.2,0l1.6-.2l1.6-.1l1.6,.2l.2,.1l1.4,.9l.7,.7l.9,1.1l.4,.5l1.2,1.6l0,.1l1.1,1.5l.5,.7l.5,.9l1,1.6l.1,.4l.3,1.2l-.3,.9l-.2,.7l-.7,1.6l-.3,1.6l.3,1.6l.9,1.5l.1,.1l1.4,1.6l.1,.4l.2,1.2l-.2,.4l-.6,1.2l-.5,1.6l.1,1.6l.5,1.6l.5,1.3l.2,.3l.7,1.6l.7,1.6l1.6,1.1l1.6,.2l1.6-.3l1.6-.6l1.6-.2l1.6,.7l1,.7l.6,.7l.8,.9l.8,1.2l.2,.4l.8,1.6l.2,1.6l-.6,1.6l-.6,.6l-1.6,.7l-1.6,.2l-.4,.1l-1.2,.3l-1.6,1l-.5,.3l.5,.3l.8,1.3l.8,.3l1.6,.6l1.6,.5l1.6,0l1.6-.4l1.6-.5l1.6-.4l.9-.1l.7-.2l1.6-.3l1.6,.2l.7,.3l.9,.4l1.6,1.2l.2,0l1.4,.3l1.6-.2l.2-.1l1.4-.3l1.6,.2l.2,.1l1.4,.5l1.6,.7l1.2,.4l.4,.1l1.6,.1l1.2-.2l.4-.1l1.6-.7l1.2-.8l.4-.2l1.6-1l.9-.4l.7-.3l1.6-.7l1.6-.6l1.6,0l1.6,.9l.7,.7l.9,.6l1.6,.5l1.6,.2l1.6,.2l.2,.1l1.4,.7l.8,.9l.8,.8l.8,.8l.8,.5l1.6,.5l1.6,.1l1.6-.2l1.6-.3l1.6-.2l1.6-.3l.6-.1l1-.2l1.6-.4l1.6-.6l.8-.4l.8-.6l.9-1l.7-1.5l0-.1l.4-1.6l0-1.6l-.4-1.5l0-.1l-.7-1.6l-.9-1.3l-.3-.3l-1.3-1.2l-.5-.4l-1.1-.7l-1.6-.7l-.5-.2l-1.1-.7l-1.6-.7l-1.2-.2l.4-1.6l.8-.9l.3-.7l.5-1.6l.4-1.6l.4-1.1l.1-.5l.7-1.6l.8-1.1l.4-.5l1.2-1.1l.7-.5l.9-.6l1.6-.8l.4-.2l1.2-.5l1.2-1.1l-.1-1.6l-.8-1.6l-.3-1.1l-.1-.5l0-1.6l.1-.4l.2-1.2l-.2-.7l-.2-.9l-1.4-1l-.9-.6l-.7-.3l-1.6-.5l-1.6-.4l-1.6-.2l-1.6-.1l-1.6,0l-1.6,.1l-1.6,.2l-1.6,.3l-1.6,.4l-1.2,.5l-.4,.2l-1.6,.5l-1.6,.9l-1.6,1.6l0,.1l-1.1,1.5l-.5,.7l-.9,.9l-.7,.6l-1.4,1l-.2,.1l-1.6,.8l-1.3,.7l-.3,.3l-1.2,1.3l-.4,.6l-.5,1l-.9,1.6l-.2,.3l-1.1,1.3l-.5,.4l-1.5,1.2l-.1,.1l-1.6,1.1l-.6,.4l-1,.4l-1.6,.4l-1.6,.1l-1.6,.2l-1.5,.5l-.1,0l-1.6,.6l-1.6,.6l-1.3,.4l-.3,.1l-1.6,0l-.2-.1l-1.4-1.1l-.4-.5l-.8-1.6l-.4-.4l-1.6-.7l-1.6-.2l-1.6-.3l-.1,0l-1.5-1l-.5-.6l.3-1.6l.2-.2l1.6-1.4l1.6-.5l1.6-.2l1.6,.5l.5,.2l1.1,.8l1.6,.5l1.6-.1l1.6-.5l1.5-.7l.1-.1l1-1.5l.5-1.6l.1-.4l.1-1.2l.1-1.6l.1-1.6l.6-1.6l.7-.6l1.2-1l.4-.2l1.6-.8l1.4-.6l.2-.1l1.6-.7l1.6-.5l.9-.3l.7-.4l1.6-.5l1.6-.3l1.4-.4l.2-.1l1.6-.6l1.6-.7l.3-.2l.8-1.6l.4-1.6l.1-.7l.2-.9l.2-1.6l0-1.6l0-1.6l-.2-1.6l-.2-.7l-.2-.9l-.4-1.6l-.4-1.6l-.6-1.2l-.2-.4l-.7-1.6l-.7-1.1l-.4-.5l-1.1-1.6l-.1-.1l-1.2-1.5l-.4-.4l-1.3-1.2l-.3-.3l-1.6-1.2l-.1-.1l-1.5-1.2l-.9-.4l-.7-.6l-1.6-.8l-.4-.2l-1.2-1l-1.2-.6l-.4-.5l-1.1-1.1l-.5-.7l-.7-.9zM-.8,52.4l-.5,1.6l0,1.6l.2,1.6l.3,1.6l.4,1.1l.2,.5l.6,1.6l.7,1.6l.1,.1l.9,1.5l.7,1.1l.4,.5l1.2,1.6l1.4,1.6l.2,.2l1.5,1.4l.1,.1l1.6,1.3l.3,.2l1.3,.8l1.1,.8l.5,.2l1.6,.7l1.6,.7l1.6-.2l1.6-1.1l.3-.3l1.3-1.4l.2-.2l1.3-1.6l.1-.1l1.3-1.5l.3-.2l1.6-.9l.9-.5l.7-.7l.7-.9l.6-1.6l.3-1.1l.2-.5l.4-1.6l.2-1.6l-.1-1.6l-.6-1.6l-.1-.1l-1.4-1.5l-.2-.1l-1.6-1l-.7-.5l-.9-.4l-1.6-.6l-1.6-.5l-.5-.1l-1.1-.2l-1.6-.1l-1.6-.1l-1.6-.1l-1.6-.1l-1.6-.2l-1.6-.2l-1.6-.2l-1.6-.1l-1.6,0l-1.6,.1l-1.6,.1l-1.6,.6zM44.1,74.8l.3,1.1l.4,.5l1.2,.2l1.6,0l1.1-.2l-.6-1.6l-.5-.3l-1.6-.6l-1.6,.5zM73.2,21.7l1.6-.7l1.6-.3l1.6-.2l1.6,.1l1.6,.6l.8,.8l.8,1.5l.1,.1l.4,1.6l0,1.6l-.1,1.6l-.4,1.4l-.1,.2l-1.1,1.6l-.4,.5l-1.6,1.1l-1.6,.8l-1.6,.7l-.3,.1l-1.3,.5l-1.6,.7l-1,.4l-.6,.3l-1.6,.7l-1.6-.8l-.1-.2l-.1-1.6l.2-1.5l0-.1l.6-1.6l.9-1.6l.1-.1l.8-1.5l.4-1.6l-.1-1.6l.5-1.5l0-.1l1.3-1.6z" fill="#b4e2db"/>
<path d="M18.8,34.3l1.6-.4l1.6-.2l1.6-.2l1.6-.1l1.6-.1l1.6,.3l1,1.2l.5,1.6l.1,.5l.2,1.1l.3,1.6l.6,1.6l.5,.8l.8,.8l.8,.7l1.6,.6l1,.3l.6,.3l1.6,1.3l-.1,1.6l-.8,1.6l-.7,1.4l-.2,.2l-1.1,1.6l-.3,.7l-1.6,.8l-1.6-.3l-1.6-.6l-1.6-.5l-.2-.1l-1.4-.4l-1.6-.4l-1.6-.3l-1.6-.4l-.5-.1l-1.1-.2l-1.6-.2l-1.6-.1l-1.6,0l-1.6-.2l-1.6-.1l-1.6-.2l-1.6-.2l-1.6-.2l-1.6-.1l-.6-.1l-1-.3l-1.3-1.3l1-1.6l.3-.4l.7-1.2l.9-1.6l.5-1.6l.2-1.6l.5-1.6l.4-.3l.6,.3l1,.6l1.6,.7l1.6-.2l1.6-.9l.2-.2l1.3-1.6l.1-.1l1.6-1.4l.2-.1zM142,46.2l1.6-.2l1.6,.4l1.6,.3l1.6,.4l1.6,.4l0,.1l0,1.6l0,1.6l0,1.6l0,1.6l0,1.6l0,1.6l0,1.6l0,1.6l0,1.6l0,1.6l0,1.6l0,1.6l0,1.6l0,1.6l0,1.6l0,1.6l0,1.6l0,1.6l0,1.6l0,1.6l0,1.6l0,1.6l0,1.6l0,1.6l0,1.6l0,1.6l0,1.6l0,1.6l0,1.6l0,1.6l0,1.6l0,1.6l0,1.6l0,1.6l0,1.6l0,1.6l0,1.6l0,1.6l0,1.6l0,1.6l0,1.6l0,1.6l0,1.6l0,1.6l0,1.6l0,1.6l0,1.6l0,1.6l0,1.6l0,1.6l0,1.6l0,1.6l0,1.6l0,1.6l0,1.6l-1.6,0l-1.6,0l-1.6,0l-1.6,0l-1.6,0l-1.6,0l-1.6,0l-1.6,0l-1.6,0l-1.6,0l-1.6,0l-1.6,0l-1.6,0l-1.6,0l-1.6,0l-1.6,0l-1.6,0l-1.6,0l-1.6,0l-1.6,0l-1.6,0l-1.6,0l-1.6,0l-1.6,0l-1.6,0l-1.6,0l-1.6,0l-1.6,0l-1.6,0l-1.6,0l-1.6,0l-1.6,0l-1.6,0l-1.6,0l-1.6,0l-1.6,0l-1.6,0l-1.6,0l-1.6,0l-1.6,0l-1.6,0l-1.6,0l-1.6,0l-1.6,0l-1.6,0l-1.6,0l-1.6,0l-1.6,0l-1.6,0l-1.6,0l-1.6,0l-1.6,0l-1.6,0l-1.6,0l-1.6,0l-1.6,0l-1.6,0l-1.6,0l-1.6,0l-1.6,0l-1.6,0l-1.6,0l-1.6,0l-1.6,0l-1.6,0l-1.6,0l-1.6,0l-1.6,0l-1.6,0l-1.6,0l-1.6,0l-1.6,0l-1.6,0l-1.6,0l-1.6,0l-1.6,0l-1.6,0l-1.6,0l-1.6,0l-1.6,0l-1.6,0l-1.6,0l-1.6,0l-1.6,0l-1.6,0l-1.6,0l-1.6,0l-1.6,0l-1.6,0l-1.6,0l-1.6,0l-1.6,0l-1.6,0l-1.6,0l-1.6,0l0-1.6l0-1.6l0-1.6l0-1.6l0-1.6l0-1.6l0-1.6l0-1.6l0-1.6l0-1.6l0-1.6l0-1.6l0-1.6l0-1.6l0-1.6l0-1.6l0-1.6l0-1.6l0-1.6l0-1.6l0-1.6l0-1.6l0-1.6l0-1.6l0-1.6l0-1.6l0-1.6l0-1.6l0-1.6l0-1.6l0-1.6l0-1.6l0-1.6l0-1.6l0-1.6l0-1.6l0-1.6l0-1.6l0-1.6l0-1.6l0-1.6l0-1.6l0-1.6l0-1.6l0-1.6l0-1.6l0-.8l.1,.8l.5,1.6l1,1.5l0,.1l.7,1.6l.9,1.2l.2,.4l1.3,1.6l.1,.1l1.1,1.5l.5,.5l1,1.1l.6,.6l1.4,1l.2,.2l1.6,1.2l.4,.2l1.2,.9l1.6,.6l.3,.1l1.3,.8l1.6,.6l.3,.2l.9,1.6l.4,.6l.4,1l.9,1.6l.3,.4l.8,1.2l.8,1l.5,.6l1.1,1.1l.9,.5l.7,.4l1.6-.2l.3-.2l1.3-.7l1.6-.8l.2-.1l1.4-.6l1.6-.8l.5-.2l1.1-.5l1.6-.8l.7-.3l.9-.4l1.6-.8l.6-.4l1-.5l1.6-.7l1.3-.4l.3-.1l1.6-.2l1.6-.1l1.6,0l1.6,0l1.6,0l1.6,0l1.6,.2l1.1,.2l.5,.1l1.6,.2l1.6,.1l1.6-.1l1.6-.3l.2,0l1.4-.3l1.6-.1l1.6,.4l1.6,1.1l.6,.5l1,1.2l.4,.4l1.2,1.5l.1,.1l1.5,1.6l0,.1l1.6,1.1l1.6,.1l1.6-1.2l.1-.1l1.5-1.4l.8-.2l.8-.1l.7,.1l.9,.2l1.6,.6l1.6,.7l.2,.1l1.4,.6l1.6,0l.8-.6l.8-1.3l.1-.3l.5-1.6l.8-1.6l.2-.2l1.6-1.1l1.6,.1l1.2,1.2l.2,1.6l0,1.6l.2,.3l.7,1.3l.9,.7l1.4,.9l.2,.1l1.6,.5l1.6,.3l1.6-.2l1.6-.7l1.6-1.2l.5-.4l1.1-1l.9-.6l.7-.3l1.6-.4l1.6-.3l1.6-.3l1.6-.2l.8-.1l.8-.1l1.6,0l1.6-.1l1.6-.2l1.6-.4l1.6-.8l.1,0l1.5-1.2l.4-.4l1-1.6l.2-.5l.6-1.1l.5-1.6l.4-1.6l0-1.6l-.3-1.6l-.7-1.6l-.5-1.2l-.2-.4l-.5-1.6l-.3-1.6l1-1.5l.1-.1l1.5-.6l1.6-.7l.6-.3l1-.6l1-1l-.2-1.6l-.2-1.6l.4-1.6l.6-1.5l.1-.1l.8-1.6l.7-1.5l0-.1l.9-1.6l.7-1.4l.1-.2zM36.4,56.9l.3,.3l1.3,.9l.5,.7l1.1,1.5l.1,.1l.3,1.6l-.2,1.6l-.2,.8l-1.6,0l-.4-.8l-1.2-1.6l-.7-1.6l-.3-1.6l.6-1.6zM36.4,67.9l.5,.5l-.5,1.5l-1-1.5z" fill="#79c8bc"/>
<path d="M22,39.4l1.6,0l.7,.2l.9,.3l1.1,1.3l.5,1l.2,.6l.3,1.6l-.1,1.6l-.4,.8l-.5,.8l-1.1,.7l-1.6,.2l-1.6,0l-1.6-.1l-1.6,0l-1.6,0l-1.6-.1l-1.6-.1l-1.6-.2l-1.6-.3l-.2-.1l-1.3-1.6l1.2-1.6l.3-.1l1.6-.4l1.6-.6l.8-.5l.8-.5l1.6-1l.2-.1l1.4-.9l1.6-.6l.3-.1zM150,53.9l0,.1l0,1.6l0,1.6l0,1.6l0,1.6l0,1.6l0,1.6l0,1.6l0,1.6l0,1.6l0,1.6l0,1.6l0,1.6l0,1.6l0,1.6l0,1.6l0,1.6l0,1.6l0,1.6l0,1.6l0,1.6l0,1.6l0,.4l-.4-.4l-1.2-1.5l-.1-.1l-1.3-1.6l-.2-.3l-.9-1.3l-.7-.9l-.6-.7l-1-.7l-.9-.9l-.7-.6l-.9-1l-.7-1l-.4-.6l-.7-1.6l-.1-1.6l.5-1.6l.7-1.4l.2-.2l1.1-1.6l.3-.4l.6-1.2l1-1.4l.1-.2l.9-1.6l.6-1.3l.2-.3l.8-1.6l.6-1.1l.3-.5l.9-1.6l.4-.7l.6-.9l.9-1.6zM52.4,82.5l1.6-.2l1.6,.1l1.6,.4l.1,0l1.5,.3l1.6,.1l1.6-.2l1.6-.2l1.6,.3l1.6,1.1l.2,.2l1.2,1.6l.2,.3l.8,1.3l.8,1.6l.7,1.6l.6,1.6l.3,1.6l-.1,1.6l.1,.5l.3,1.1l1.3,.4l1.6,.2l1.6,.1l1.6,0l1.6-.3l1.6-.3l1.1-.1l.5-.1l1.6,.1l1.6,.3l1.6,.3l1.6-.1l1.5-.5l.1-.1l1.6-1.4l.2-.1l1.4-1.5l.2-.1l1.4-.8l1.6-.2l1.6,.1l1.6,.1l1.6,.2l1.6-.2l1.6-.4l1-.4l.6-.2l1.6-1l.5-.4l1.1-.9l.7-.7l.9-.9l.7-.7l.9-.6l1.6-.6l1.6-.3l1.6-.1l1.6,.3l1.6,.5l1.6,.7l.2,.1l1.4,.8l1.3,.8l.3,.2l1.6,1.1l.5,.3l1.1,.5l1.6,.7l1.6,.1l1.6-.3l1.6-.4l1.6,.5l.2,.5l.5,1.6l.9,1.6l1.3,1.6l.3,.3l.9,1.3l.1,1.6l-.6,1.6l-.4,.5l-.7,1.1l-.9,1.1l-.5,.5l-1.1,1.2l-.4,.4l-1.2,1.2l-.3,.4l-1.3,1.5l0,.1l-.7,1.6l-.9,1.4l-.1,.2l-.7,1.6l-.8,1.5l-.1,.1l-.3,1.6l-.1,1.6l.1,1.6l.1,1.6l.2,1.6l.1,1.6l0,.2l.1,1.4l.2,1.6l.1,1.6l.2,1.6l.1,1.6l.1,1.6l-.8,0l-1.6,0l-1.6,0l-1.6,0l-1.6,0l-1.6,0l-1.6,0l-1.6,0l-1.6,0l-1.6,0l-1.6,0l-1.6,0l-1.6,0l-1.6,0l-1.6,0l-1.6,0l-1.6,0l-1.6,0l-1.6,0l-1.6,0l-1.6,0l-1.6,0l-1.6,0l-1.6,0l-1.6,0l-1.6,0l-1.6,0l-1.6,0l-1.6,0l-1.6,0l-1.6,0l-1.6,0l-1.6,0l-1.6,0l-1.6,0l-1.6,0l-1.6,0l-1.6,0l-1.6,0l-1.6,0l-1.6,0l-1.6,0l-1.6,0l-1.6,0l-1.6,0l-1.6,0l-1.6,0l-1.6,0l-1.6,0l-1.6,0l-1.6,0l-1.6,0l-1.6,0l-1.6,0l-1.6,0l-1.6,0l-1.6,0l-1.6,0l-1.6,0l-1.6,0l-1.6,0l-1.6,0l-1.6,0l-1.6,0l-1.6,0l-1.6,0l-1.6,0l-1.6,0l-1.6,0l-1.6,0l-1.6,0l-1.6,0l-1.6,0l-1.6,0l-1.6,0l-1.6,0l-1.6,0l-1.6,0l-1.6,0l-1.6,0l-1.6,0l-1.6,0l-1.6,0l-1.6,0l0-1.6l0-.4l.4-1.2l.6-1.6l.6-1.3l.1-.3l.7-1.6l.8-1.6l.8-1.6l.8-1.5l.1-.1l.8-1.6l.7-1.1l.3-.5l1-1.6l.3-.4l.8-1.2l.8-1.1l.3-.5l1.2-1.6l.1-.1l1.1-1.5l.5-.5l.9-1.1l.7-.8l.6-.8l1-1l.5-.6l1.1-1.1l.5-.5l1.1-1.1l.5-.5l1.1-1l.6-.6l1-.9l.8-.7l.8-.6l1.3-1l.3-.2l1.6-.3l1.6,.1l1.6-.4l1.3-.8l.3-.2l1.6-1.1l.5-.3l1.1-.8l1-.8l.6-.5l1.1-1.1l.5-.4l1.5-1.2l.1,0l1.6-.8l1.3-.8l.3-.2l1.2-1.4l.4-.5l.9-1.1l.7-.6l1.5-1l.1,0l1.6-.6l1.6-.4l1.6-.5l.3-.1z" fill="#3b9b93"/>
<path d="M54,84.1l1.6,0l1,.3l.6,.4l1.6,1.1l.3,.1l1.3,.7l1.6,.6l.7,.3l.9,.4l1.3,1.2l.3,.4l.5,1.2l.3,1.6l.1,1.6l.1,1.6l.2,1.6l.4,.6l1,1l.6,.2l1.6,.5l1.6,.2l1.6,.1l1.6,0l1.6,0l1.6,0l1.6-.1l1.6-.2l1.6,0l1.6,.1l1.6,.3l1.6,.3l1.6-.1l1.6-.6l1.3-.7l.3-.2l1.6-.9l1.2-.5l.4-.2l1.6-.4l1.6-.3l1.6-.1l1.6,0l1.6-.1l1.6,0l1.6-.1l1.6-.2l.9-.2l.7-.1l1.6-.4l1.6-.4l1.6-.2l1.6,.3l1.6,.5l1.6,.3l1.6-.4l1.6-.4l1.6-.1l1.6,.2l1.6,.6l.2,.1l1.4,1l.6,.6l0,1.6l-.4,1.6l0,1.6l.9,1.6l.5,.6l.8,1l.7,1.6l-.2,1.6l-.7,1.6l-.6,1.1l-.3,.5l-1.1,1.6l-.2,.2l-1.3,1.4l-.3,.3l-1.4,1.3l-.2,.1l-1.6,1.1l-.5,.4l-1.1,.7l-1.6,.7l-.4,.2l-1.2,.6l-1.6,.4l-1.6,.4l-.9,.2l-.7,.3l-1.6,.5l-1.6,.7l-.2,.1l-1.4,1.1l-.8,.5l-.8,.8l-.7,.8l-.9,1.1l-.3,.5l-1.3,1.6l-1.2,1.6l-.4,.5l-1,1.1l-.6,.7l-1.1,.9l-.5,.6l-1.3,1l-.3,0l-1.6,0l-1.6,0l-1.6,0l-1.6,0l-1.6,0l-1.6,0l-1.6,0l-1.6,0l-1.6,0l-1.6,0l-1.6,0l-1.6,0l-1.6,0l-1.6,0l-1.6,0l-1.6,0l-1.6,0l-1.6,0l-1.6,0l-1.6,0l-1.6,0l-1.6,0l-1.6,0l-1.6,0l-1.6,0l-1.6,0l-1.6,0l-1.6,0l-1.6,0l-1.6,0l-1.6,0l-1.6,0l-1.6,0l-1.6,0l-1.6,0l-1.6,0l-1.6,0l-1.6,0l-1.6,0l-1.6,0l-1.6,0l-1.6,0l-1.6,0l-1.2,0l-.3-1.6l-.1-.7l-.1-.9l-.1-1.6l-.1-1.6l0-1.6l.1-1.6l.2-1.6l0-.1l.2-1.5l.3-1.6l.4-1.6l.4-1.6l.3-.8l.2-.8l.6-1.6l.6-1.6l.2-.7l.2-.9l.1-1.6l.1-1.6l.1-1.6l.3-1.6l.8-1.3l.3-.3l1.3-1.3l.3-.3l1.3-1.3l.3-.3l1.3-1.5l.1-.1l.8-1.6l.7-1.3l.1-.3l1.4-1.6l.1,0l1.6-1.3l.3-.3l1.3-1.3l.2-.3l1.3-1.6l.1-.1l1.5-1.5l.1-.1l1.6-.9l1-.6l.6-.3l1.6-.8l.8-.5z" fill="#0c7169"/>
<path d="M49.2,91.9l1.6-.7l1.6-.2l1.6,.2l1.6,.4l1.6,.2l1.6,.3l.7,.3l.9,.5l1.1,1.1l.5,.6l.4,1l.6,1.6l.6,.8l.5,.8l1.1,.7l1.6,.7l.5,.2l1.1,.4l1.6,.5l1.6,.2l1.6,.1l1.6,0l1.6,0l1.6,.1l1.6,.1l1.6,.1l1.4,.1l.2,.1l1.6,.5l1.6,.4l1.6,.3l1.6-.1l1.6-.6l.7-.6l.9-.5l1.6-1l.1-.1l1.5-.5l1.6-.2l1.6-.1l1.6,0l1.6,.4l1.1,.4l.5,.5l1.3,1.1l.3,.9l.3,.7l-.3,.5l-.9,1.1l-.7,.5l-1.2,1.1l-.4,.5l-.5,1.1l-.2,1.6l.7,1.2l1.6,.4l1.6-.1l1.5,.1l.1,0l1.6,1.5l.1,.1l.5,1.6l.4,1.6l.5,1.6l-.1,1.6l-1.2,1.6l-.2,.1l-1.6,1.5l-1.6,.9l-1.4,.7l-.2,.2l-1.6,.7l-1.6,.6l-.7,.1l-.9,.3l-1.6,.4l-1.6,.6l-.6,.3l-1,.6l-.8,1l-.8,.6l-.3,1l-1.3,1.4l0,.2l-1.5,1.6l-.1,0l-1.6,1.3l-.1,.3l-1.5,0l-1.6,0l-1.6,0l-1.6,0l-1.6,0l-1.6,0l-1.6,0l-1.6,0l-1.6,0l-1.6,0l-1.6,0l-1.6,0l-1.6,0l-1.6,0l-1.6,0l-1.6,0l-1.6,0l-1.6,0l-1.6,0l-1.6,0l-1.6,0l-1.6,0l-1.6,0l-1.6,0l-1.6,0l-1.6,0l-1.6,0l-1.6,0l-1.6,0l-1.6,0l-1,0l-.6-1l-.5-.6l-.8-1.6l-.3-.9l-.4-.7l-.6-1.6l-.3-1.6l-.3-1.6l0-.2l-.3-1.4l-.1-1.6l.1-1.6l.2-1.6l.1-.6l.1-1l.3-1.6l0-1.6l-.2-1.6l-.2-1l-.2-.6l-.4-1.6l-.1-1.6l0-1.6l.7-1.4l.2-.2l1.4-1.2l.7-.4l.9-.8l1.2-.8l.4-.4l1.2-1.2l.4-.6l.7-1l.9-1.6l1.6-1.4l.3-.2l1.3-1.2l.6-.4l1-.9l1-.7zM82.4,111.6l-.1,1.6l.2,1.6l.3,.8l.4,.8l1.2,1.3l.4,.3l1.2,.6l1.5,1l.1,.1l1.6,1.2l.9,.3l.7,.8l1.6,.4l1.6,0l1.2-1.2l.4-.3l.5-1.3l.4-1.6l.2-1.6l-.5-1.6l-.6-.2l-1.6-.3l-1.6-.6l-.6-.5l-1-.4l-1.6-.8l-.8-.4l-.8-.3l-1.6-.5l-1.6-.5l-1.6,.1z" fill="#004c42"/>
<path d="M47.6,100.2l1.6-.3l1.6,.1l1.2,.4l.4,.1l1.6,.7l1.4,.8l.2,.1l1.6,.9l1.4,.6l.2,.1l1.6,.2l.6-.3l1-.3l1.6-.3l1.6,.2l.8,.4l.8,.7l.6,.9l.9,1.6l.1,.2l.5,1.4l.6,1.6l.4,1.6l-.2,1.6l-.6,1.6l-.7,.9l-1.2,.7l-.4,.2l-1.6,.3l-1.6,.2l-1.6,.3l-1.6,.6l-1.6,1l-.6,.6l-.5,1.6l.2,1.6l.3,1.6l.1,1.6l-.1,1.6l0,1.6l.6,.8l1,.8l.6,.2l1.6,.2l1.6,.4l1,.8l.6,.9l.4,.7l.5,1.6l-.9,0l-1.6,0l-1.6,0l-1.6,0l-1.6,0l-1.6,0l-1.6,0l-1.6,0l-1.6,0l-1.6,0l-1.6,0l-1.6,0l-1.6,0l-1.6,0l-1.6,0l-1.6,0l-.6,0l-1-1.3l-.2-.3l-.8-1.6l-.6-.9l-.3-.7l-.5-1.6l-.5-1.6l-.3-.8l-.2-.8l-.1-1.6l-.1-1.6l0-1.6l.1-1.6l.2-1.6l.1-.5l.3-1.1l.2-1.6l-.5-1.6l-.3-1.6l-.2-1.6l-.1-1.6l.4-1.6l.2-.3l1.6-1l.6-.3l1-.5l1.6-.8l.6-.3l1-.6l1.6-1l1.6-1.2l1.1-.4zM74.8,117.4l1.6,.6l.4,1.6l-.4,1l-1.6,.3l-1.5-1.3l.5-1.6zM68.4,124.1l1.6,0l.3,.3l-.2,1.6l-.1,.2l-1.6,1.2l-.5,.2l-1.1,.3l-.7-.3l-.3-1.6l1-.9l1.2-.7z" fill="#003c30"/>
<g fill="#000"><circle cx="77.6" cy="37.3" r="1.55"/><circle cx="81.9" cy="46" r="0.9"/><circle cx="69" cy="54.6" r="0.9"/><circle cx="77.6" cy="54.6" r="1.55"/><circle cx="38.7" cy="63.2" r="1.55"/><circle cx="43" cy="71.9" r="1.55"/><circle cx="47.4" cy="80.5" r="1.55"/><circle cx="56" cy="80.5" r="0.9"/><circle cx="64.6" cy="80.5" r="0.9"/><circle cx="73.3" cy="80.5" r="0.9"/><circle cx="81.9" cy="80.5" r="0.9"/><circle cx="43" cy="89.2" r="1.55"/><circle cx="51.7" cy="89.2" r="1.55"/><circle cx="60.3" cy="89.2" r="1.55"/><circle cx="69" cy="89.2" r="1.55"/><circle cx="94.9" cy="89.2" r="0.9"/><circle cx="47.4" cy="97.8" r="1.55"/><circle cx="56" cy="97.8" r="1.55"/><circle cx="64.6" cy="97.8" r="1.55"/><circle cx="73.3" cy="97.8" r="1.55"/><circle cx="81.9" cy="97.8" r="1.55"/><circle cx="90.6" cy="97.8" r="1.55"/><circle cx="99.2" cy="97.8" r="1.55"/><circle cx="107.8" cy="97.8" r="1.55"/><circle cx="116.5" cy="97.8" r="1.55"/><circle cx="51.7" cy="106.4" r="1.55"/><circle cx="60.3" cy="106.4" r="1.55"/><circle cx="69" cy="106.4" r="1.55"/><circle cx="77.6" cy="106.4" r="1.55"/><circle cx="86.2" cy="106.4" r="1.55"/><circle cx="94.9" cy="106.4" r="1.55"/><circle cx="103.5" cy="106.4" r="1.55"/><circle cx="56" cy="115.1" r="1.55"/><circle cx="64.6" cy="115.1" r="1.55"/><circle cx="73.3" cy="115.1" r="1.55"/><circle cx="81.9" cy="115.1" r="1.55"/><circle cx="90.6" cy="115.1" r="1.55"/><circle cx="60.3" cy="123.7" r="1.55"/></g>
</g>
<use href="#ov"/><use href="#fr"/>
<text x="1.5" y="-9.2" font-size="10.6">(h)</text>
<text x="11.4" y="22.1" transform="translate(0,132.8)" font-size="11.25" text-anchor="middle">36°E</text>
<text x="45.4" y="22.1" transform="translate(0,132.8)" font-size="11.25" text-anchor="middle">42°E</text>
<text x="79.5" y="22.1" transform="translate(0,132.8)" font-size="11.25" text-anchor="middle">48°E</text>
<text x="113.6" y="22.1" transform="translate(0,132.8)" font-size="11.25" text-anchor="middle">54°E</text>
<text x="147.7" y="22.1" transform="translate(0,132.8)" font-size="11.25" text-anchor="middle">60°E</text>
</g>
<g transform="translate(450.0,380.8)">
<g clip-path="url(#land)">
<rect x="-2" y="-2" width="151.7" height="136.8" fill="#dcbc75"/>
<path d="M-.4-2l1.6,0l1.6,0l1.6,0l1.6,0l1.6,0l1.6,0l1.6,0l1.6,0l1.6,0l1.6,0l1.6,0l1.6,0l1.6,0l1.6,0l1.6,0l1.6,0l1.6,0l1.6,0l1.6,0l1.6,0l1.6,0l1.6,0l1.6,0l1.6,0l1.6,0l1.6,0l1.6,0l1.6,0l1.6,0l1.6,0l1.6,0l1.6,0l1.6,0l1.6,0l1.6,0l1.6,0l1.6,0l1.6,0l1.6,0l1.6,0l1.6,0l1.6,0l1.6,0l1.6,0l1.6,0l1.6,0l1.6,0l1.6,0l1.6,0l1.6,0l1.6,0l1.6,0l1.6,0l1.6,0l1.6,0l1.6,0l1.6,0l1.6,0l1.6,0l1.6,0l1.6,0l1.6,0l1.6,0l1.6,0l1.6,0l1.6,0l1.6,0l1.6,0l1.6,0l1.6,0l1.6,0l1.6,0l1.6,0l1.6,0l1.6,0l1.6,0l1.6,0l1.6,0l1.6,0l1.6,0l1.6,0l1.6,0l1.6,0l1.6,0l1.6,0l1.6,0l1.6,0l1.6,0l1.6,0l1.6,0l1.6,0l1.6,0l1.6,0l1.6,0l0,1.6l0,1.6l0,1.6l0,1.6l0,1.6l0,1.6l0,1.6l0,1.6l0,1.6l0,1.6l0,1.6l0,1.6l0,1.6l0,1.6l0,1.6l0,1.6l0,1.6l0,1.6l0,1.6l0,1.6l0,1.6l0,1.6l0,1.6l0,1.6l0,1.6l0,1.6l0,1.6l0,1.6l0,1.6l0,1.6l0,1.6l0,1.6l0,1.6l0,1.6l0,1.6l0,1.6l0,1.6l0,1.6l0,1.6l0,1.6l0,1.6l0,1.6l0,1.6l0,1.6l0,1.6l0,1.6l0,1.6l0,1.6l0,1.6l0,1.6l0,1.6l0,1.6l0,1.6l0,1.6l0,1.6l0,1.6l0,1.6l0,1.6l0,1.6l0,1.6l0,1.6l0,1.6l0,1.6l0,1.6l0,1.6l0,1.6l0,1.6l0,1.6l0,1.6l0,1.6l0,1.6l0,1.6l0,1.6l0,1.6l0,1.6l0,1.6l0,1.6l0,1.6l0,1.6l0,1.6l0,1.6l0,1.6l0,1.6l0,1.6l0,1.6l0,1.6l-1.6,0l-1.6,0l-1.6,0l-1.6,0l-1.6,0l-1.6,0l-1.6,0l-1.6,0l-1.6,0l-1.6,0l-1.6,0l-1.6,0l-1.6,0l-1.6,0l-1.6,0l-1.6,0l-1.6,0l-1.6,0l-1.6,0l-1.6,0l-1.6,0l-1.6,0l-1.6,0l-1.6,0l-1.6,0l-1.6,0l-1.6,0l-1.6,0l-1.6,0l-1.6,0l-1.6,0l-1.6,0l-1.6,0l-1.6,0l-1.6,0l-1.6,0l-1.6,0l-1.6,0l-1.6,0l-1.6,0l-1.6,0l-1.6,0l-1.6,0l-1.6,0l-1.6,0l-1.6,0l-1.6,0l-1.6,0l-1.6,0l-1.6,0l-1.6,0l-1.6,0l-1.6,0l-1.6,0l-1.6,0l-1.6,0l-1.6,0l-1.6,0l-1.6,0l-1.6,0l-1.6,0l-1.6,0l-1.6,0l-1.6,0l-1.6,0l-1.6,0l-1.6,0l-1.6,0l-1.6,0l-1.6,0l-1.6,0l-1.6,0l-1.6,0l-1.6,0l-1.6,0l-1.6,0l-1.6,0l-1.6,0l-1.6,0l-1.6,0l-1.6,0l-1.6,0l-1.6,0l-1.6,0l-1.6,0l-1.6,0l-1.6,0l-1.6,0l-1.6,0l-1.6,0l-1.6,0l-1.6,0l-1.6,0l-1.6,0l-1.6,0l0-1.6l0-1.6l0-1.6l0-1.6l0-1.6l0-1.6l0-1.6l0-1.6l0-1.6l0-1.6l0-1.6l0-1.6l0-1.6l0-1.6l0-1.6l0-1.6l0-1.6l0-1.6l0-1.6l0-1.6l0-1.6l0-1.6l0-1.6l0-1.6l0-1.6l0-1.6l0-1.6l0-1.6l0-1.6l0-1.6l0-1.6l0-1.6l0-1.6l0-1.6l0-1.6l0-1.6l0-1.6l0-1.6l0-1.6l0-1.6l0-1.6l0-1.6l0-1.6l0-1.6l0-1.6l0-1.6l0-1.6l0-1.6l0-1.6l0-1.6l0-1.6l0-1.6l0-1.6l0-1.6l0-1.6l0-1.6l0-1.6l0-1.6l0-1.6l0-1.6l0-1.6l0-1.6l0-1.6l0-1.6l0-1.6l0-1.6l0-1.6l0-1.6l0-1.6l0-1.6l0-1.6l0-1.6l0-1.6l0-1.6l0-1.6l0-1.6l0-1.6l0-1.6l0-1.6l0-1.6l0-1.6l0-1.6l0-1.6l0-1.6l0-1.6l0-1.6zM10.1,7.6l-.2,1.6l.9,1.1l.3,.5l1.3,1.5l0,.1l1.1,1.6l.5,.6l.6,1l1,1.2l.3,.4l1.3,1.2l.6,.4l1,.4l1.6-.1l.6-.3l1-.6l.9-1l.7-1.4l.1-.2l.3-1.6l.1-1.6l.1-1.6l.2-1.6l-.8-.7l-1.6-.4l-1.6-.1l-1.6,.1l-1.6,.2l-1.6,.1l-1.6,0l-1.6-.6l-.4-.2l-1.2-.4z" fill="#f1dfb3"/>
<path d="M-.4-2l1.6,0l1.6,0l1.6,0l1.6,0l1.6,0l1.6,0l1.6,0l1.6,0l1.6,0l1.5,0l-1.5,1.1l-.7,.5l-.9,.7l-1.1,.9l-.5,.4l-1.2,1.2l-.4,.4l-.9,1.2l-.7,.8l-.6,.8l-1,1.3l-.2,.3l-.8,1.6l-.6,1.6l.8,1.6l.8,1l.5,.6l1.1,1.2l.4,.4l1.2,1.3l.3,.3l1.3,1.3l.3,.3l1.3,1.1l.5,.5l1.1,.8l1.2,.8l.4,.2l1.6,.7l1.3,.7l.3,.1l1.6,.4l1.6,.5l1.6,.2l1.6-.6l.8-.6l.8-.8l1-.8l.6-.5l1.6-1.1l1.4-1.6l.2-.5l.4-1.1l.2-1.6l.2-1.6l.2-1.6l.5-1.6l.1-.2l.8-1.4l.8-1.1l.3-.5l.4-1.6l.4-1.6l.5-1.5l0-.1l.6-1.6l.7-1.6l.3-.8l.2-.8l1.4,0l1.6,0l1.6,0l1.6,0l1.6,0l1.6,0l1.6,0l1.6,0l1.6,0l1.6,0l1.6,0l1.6,0l1.6,0l1.6,0l1.6,0l1.6,0l1.6,0l1.6,0l1.6,0l1.6,0l1.6,0l1.6,0l1.6,0l1.6,0l1.6,0l1.6,0l1.6,0l1.6,0l1.6,0l1.6,0l1.6,0l1.6,0l1.6,0l1.6,0l1.6,0l1.6,0l1.6,0l1.6,0l1.6,0l1.6,0l1.6,0l1.6,0l1.6,0l1.6,0l1.6,0l1.6,0l1.6,0l1.6,0l1.6,0l1.6,0l1.6,0l1.6,0l1.6,0l1.6,0l1.6,0l1.6,0l1.6,0l1.6,0l1.6,0l1.6,0l1.6,0l1.6,0l1.6,0l1.6,0l1.6,0l1.6,0l1.6,0l1.6,0l1.6,0l1.6,0l0,1.6l0,1.6l0,1.6l0,1.6l0,1.6l0,1.6l0,1.6l0,1.6l0,1.6l0,1.6l0,1.6l0,1.6l0,1.6l0,1.6l0,1.6l0,1.6l0,1.6l0,1.6l0,1.6l0,1.6l0,1.6l0,1.6l0,1.6l0,1.6l0,1.6l0,1.6l0,1.6l0,1.6l0,1.6l0,1.6l0,1.6l0,1.6l0,1.6l0,1.6l0,1.6l0,1.6l0,1.6l0,1.6l0,1.6l0,1.6l0,1.6l0,1.6l0,1.6l0,1.6l0,1.6l0,1.6l0,1.6l0,1.6l0,1.6l0,1.6l0,1.6l0,1.6l0,1.6l0,1.6l0,1.6l0,1.6l0,1.6l0,1.6l0,1.6l0,1.6l0,1.6l0,1.6l0,1.6l0,1.6l0,1.6l0,1.6l0,1.6l0,1.6l0,1.6l0,1.6l0,1.6l0,1.6l0,1.6l0,1.6l0,1.6l0,1.6l0,1.6l0,1.6l0,1.6l0,1.6l0,1.6l0,1.6l0,1.6l0,1.6l0,1.6l0,1.6l-1.6,0l-1.6,0l-1.6,0l-1.6,0l-1.6,0l-1.6,0l-1.6,0l-1.6,0l-1.6,0l-1.6,0l-1.6,0l-1.6,0l-1.6,0l-1.6,0l-1.6,0l-1.6,0l-1.6,0l-1.6,0l-1.6,0l-1.6,0l-1.6,0l-1.6,0l-1.6,0l-1.6,0l-1.6,0l-1.6,0l-1.6,0l-1.6,0l-1.6,0l-1.6,0l-1.6,0l-1.6,0l-1.6,0l-1.6,0l-1.6,0l-1.6,0l-1.6,0l-1.6,0l-1.6,0l-1.6,0l-1.6,0l-1.6,0l-1.6,0l-1.6,0l-1.6,0l-1.6,0l-1.6,0l-1.6,0l-1.6,0l-1.6,0l-1.6,0l-1.6,0l-1.6,0l-1.6,0l-1.6,0l-1.6,0l-1.6,0l-1.6,0l-1.6,0l-1.6,0l-1.6,0l-1.6,0l-1.6,0l-1.6,0l-1.6,0l-1.6,0l-1.6,0l-1.6,0l-1.6,0l-1.6,0l-1.6,0l-1.6,0l-1.6,0l-1.6,0l-1.6,0l-1.6,0l-1.6,0l-1.6,0l-1.6,0l-1.6,0l-1.6,0l-1.6,0l-1.6,0l-1.6,0l-1.6,0l-1.6,0l-1.6,0l-1.6,0l-1.6,0l-1.6,0l-1.6,0l-1.6,0l-1.6,0l-1.6,0l-1.6,0l0-1.6l0-1.6l0-1.6l0-1.6l0-1.6l0-1.6l0-1.6l0-1.6l0-1.6l0-1.6l0-1.6l0-1.6l0-1.6l0-1.6l0-1.6l0-1.6l0-1.6l0-1.6l0-1.6l0-1.6l0-1.6l0-1.6l0-1.6l0-1.6l0-1.6l0-1.6l0-1.6l0-1.6l0-1.6l0-1.6l0-1.6l0-1.6l0-1.6l0-1.6l0-1.6l0-1.6l0-1.6l0-1.6l0-1.6l0-1.6l0-1.6l0-1.6l0-1.6l0-1.6l0-1.6l0-1.6l0-1.6l0-1.6l0-1.6l0-1.6l0-1.6l0-1.6l0-1.6l0-1.6l0-1.6l0-1.6l0-1.6l0-1.6l0-1.6l0-1.6l0-1.6l0-1.6l0-1.6l0-1.6l0-1.6l0-1.6l0-1.6l0-1.6l0-1.6l0-1.6l0-1.6l0-1.6l0-1.6l0-1.6l0-1.6l0-1.6l0-1.6l0-1.6l0-1.6l0-1.6l0-1.6l0-1.6l0-1.6l0-1.6l0-1.6l0-1.6z" fill="#f5f0e0"/>
<path d="M-.4-2l1.6,0l1.6,0l1.6,0l1.6,0l1.6,0l1.6,0l1.6,0l1.6,0l.7,0l-.7,.6l-1.1,1l-.5,.5l-1.1,1.1l-.5,.5l-1,1.1l-.6,.8l-.7,.8l-.9,1.3l-.2,.3l-1,1.6l-.4,.6l-.6,1l-.5,1.6l.4,1.6l.7,.9l.6,.7l1,1.2l.4,.4l1.2,1.3l.3,.3l1.3,1.4l.2,.2l1.4,1.4l.2,.2l1.4,1.2l.5,.4l1.1,.8l1.3,.8l.3,.2l1.6,.8l1.2,.6l.4,.1l1.6,.6l1.6,.6l.9,.3l.7,.2l1.6,.3l1.6,0l1.6-.5l.1,0l1.5-.5l1.6-.1l1.6,.5l.2,.1l1.4,.7l1.6,.9l1.6,.4l1.6-.4l.1,0l1.1-1.6l.4-1.4l0-.2l0-.6l-.1-1l-1-1.6l-.5-.5l-1.4-1.1l-.2-.2l-1.4-1.4l-.2-.5l-.4-1.1l0-1.6l.4-1.5l0-.1l1.2-1.6l.4-.5l1.4-1.1l.2-.2l1.1-1.4l.4-1.6l.1-.2l.5-1.4l.6-1.6l.5-1.4l.1-.2l.6-1.6l.4-1.6l-.3-1.6l.8,0l1.6,0l1.6,0l1.6,0l1.6,0l1.6,0l1.6,0l1.6,0l1.6,0l1.6,0l1.6,0l1.6,0l1.6,0l1.6,0l1.6,0l1.6,0l1.6,0l1.6,0l1.6,0l1.6,0l1.6,0l1.6,0l1.6,0l1.6,0l1.6,0l1.6,0l1.6,0l1.6,0l1.6,0l1.6,0l1.6,0l1.6,0l1.6,0l1.6,0l1.6,0l1.6,0l1.6,0l1.6,0l1.6,0l1.6,0l1.6,0l1.6,0l1.6,0l1.6,0l1.6,0l1.6,0l1.6,0l1.6,0l1.6,0l1.6,0l1.6,0l1.6,0l1.6,0l1.6,0l1.6,0l1.6,0l1.6,0l1.6,0l1.6,0l1.6,0l1.6,0l1.6,0l1.6,0l1.6,0l1.6,0l1.6,0l1.6,0l0,1.6l0,1.6l0,1.6l0,1.6l0,1.6l0,1.6l0,1.6l0,1.6l0,1.6l0,1.6l0,1.6l0,1.6l0,1.6l0,1.6l0,1.6l0,1.6l0,1.6l0,1.6l0,1.6l0,1.6l0,1.6l0,1.6l0,1.6l0,1.6l0,1.6l0,1.6l0,1.6l0,1.6l0,1.6l0,1.6l0,1.6l0,1.6l0,1.6l0,1.6l0,1.6l0,1.6l0,1.6l0,1.6l0,1.6l0,1.6l0,1.6l0,1.6l0,1.6l0,1.6l0,1.6l0,1.6l0,1.6l0,1.6l0,1.6l0,1.6l0,1.6l0,1.6l0,1.6l0,1.6l0,1.6l0,1.6l0,1.6l0,1.6l0,1.6l0,1.6l0,1.6l0,1.6l0,1.6l0,1.6l0,1.6l0,1.6l0,1.6l0,1.6l0,1.6l0,1.6l0,1.6l0,1.6l0,1.6l0,1.6l0,1.6l0,1.6l0,1.6l0,1.6l0,1.6l0,1.6l0,1.6l0,1.6l0,1.6l0,1.6l0,1.6l0,1.6l-1.6,0l-1.6,0l-1.6,0l-1.6,0l-1.6,0l-1.6,0l-1.6,0l-1.6,0l-1.6,0l-1.6,0l-1.6,0l-1.6,0l-1.6,0l-1.6,0l-1.6,0l-1.6,0l-1.6,0l-1.6,0l-1.6,0l-1.6,0l-1.6,0l-1.6,0l-1.6,0l-1.6,0l-1.6,0l-1.6,0l-1.6,0l-1.6,0l-1.6,0l-1.6,0l-1.6,0l-1.6,0l-1.6,0l-1.6,0l-1.6,0l-1.6,0l-1.6,0l-1.6,0l-1.6,0l-1.6,0l-1.6,0l-1.6,0l-1.6,0l-1.6,0l-1.6,0l-1.6,0l-1.6,0l-1.6,0l-1.6,0l-1.6,0l-1.6,0l-1.6,0l-1.6,0l-1.6,0l-1.6,0l-1.6,0l-1.6,0l-1.6,0l-1.6,0l-1.6,0l-1.6,0l-1.6,0l-1.6,0l-1.6,0l-1.6,0l-1.6,0l-1.6,0l-1.6,0l-1.6,0l-1.6,0l-1.6,0l-1.6,0l-1.6,0l-1.6,0l-1.6,0l-1.6,0l-1.6,0l-1.6,0l-1.6,0l-1.6,0l-1.6,0l-1.6,0l-1.6,0l-1.6,0l-1.6,0l-1.6,0l-1.6,0l-1.6,0l-1.6,0l-1.6,0l-1.6,0l-1.6,0l-1.6,0l-1.6,0l-1.6,0l0-1.6l0-1.6l0-1.6l0-1.6l0-1.6l0-1.6l0-1.6l0-1.6l0-1.6l0-1.6l0-1.6l0-1.6l0-1.6l0-1.6l0-1.6l0-1.6l0-1.6l0-1.6l0-1.6l0-1.6l0-1.6l0-1.6l0-1.6l0-1.6l0-1.6l0-1.6l0-1.6l0-1.6l0-1.6l0-1.6l0-1.6l0-1.6l0-1.6l0-1.6l0-1.6l0-1.6l0-1.6l0-1.6l0-1.6l0-1.6l0-1.6l0-1.6l0-1.6l0-1.6l0-1.6l0-1.6l0-1.6l0-1.6l0-1.6l0-1.6l0-1.6l0-1.6l0-1.6l0-1.6l0-1.6l0-1.6l0-1.6l0-1.6l0-1.6l0-1.6l0-1.6l0-1.6l0-1.6l0-1.6l0-1.6l0-1.6l0-1.6l0-1.6l0-1.6l0-1.6l0-1.6l0-1.6l0-1.6l0-1.6l0-1.6l0-1.6l0-1.6l0-1.6l0-1.6l0-1.6l0-1.6l0-1.6l0-1.6l0-1.6l0-1.6l0-1.6z" fill="#e2f0ee"/>
<path d="M-.4-2l1.6,0l1.6,0l1.6,0l1.6,0l1.6,0l1.6,0l1.6,0l.1,0l-.1,.1l-1.5,1.5l-.1,.1l-1.3,1.5l-.3,.4l-1,1.2l-.6,.9l-.5,.7l-1,1.6l-.1,.3l-1,1.3l-.6,1.5l-.1,.1l-.7,1.6l.5,1.6l.3,.4l.9,1.2l.7,.7l.8,.9l.8,.9l.6,.7l1,1l.5,.6l1.1,1.1l.5,.5l1.1,1l.6,.6l1,.8l1.1,.8l.5,.4l1.6,1l.4,.2l1.2,.6l1.6,.6l.9,.4l.7,.3l1.6,.6l1.6,.6l.4,.1l1.2,.5l1.6,.8l.6,.3l1,.7l1.3,.9l.3,.4l1.5,1.2l.1,.1l1.6,.9l1.6,.5l1.6-.1l1.6-.6l1.4-.8l.2-.1l1.6-1.3l.3-.2l1.3-1.1l.7-.5l.9-.9l.8-.7l.8-1l.7-.6l.9-.9l1.6-.7l1.6-.5l1.6-1.1l0-.1l-.1-1.5l-.5-1.6l-.4-1.6l-.4-1.6l-.2-.3l-.8-1.3l-.8-1.1l-.4-.5l-.9-1.6l0-1.6l.5-1.6l.5-1.6l.3-1l.2-.6l.6-1.6l.5-1.6l.2-1.6l-.5-1.6l-1-.8l-.8-.8l.8,0l1.6,0l1.6,0l1.6,0l1.6,0l1.6,0l1.6,0l1.6,0l1.6,0l1.6,0l1.6,0l1.6,0l1.6,0l1.6,0l1.6,0l1.6,0l1.6,0l1.6,0l1.6,0l1.6,0l1.6,0l1.6,0l1.6,0l1.6,0l1.6,0l1.6,0l1.6,0l1.6,0l1.6,0l1.6,0l1.6,0l1.6,0l1.6,0l1.6,0l1.6,0l1.6,0l1.6,0l1.6,0l1.6,0l1.6,0l1.6,0l1.6,0l1.6,0l1.6,0l1.6,0l1.6,0l1.6,0l1.6,0l1.6,0l1.6,0l1.6,0l1.6,0l1.6,0l1.6,0l1.6,0l1.6,0l1.6,0l1.6,0l1.6,0l1.6,0l1.6,0l1.6,0l1.6,0l1.6,0l0,1.6l0,1.6l0,1.6l0,1.6l0,1.6l0,1.6l0,1.6l0,1.6l0,1.6l0,1.6l0,1.6l0,1.6l0,1.6l0,1.6l0,1.6l0,1.6l0,1.6l0,1.6l0,1.6l0,1.6l0,1.6l0,1.6l0,1.6l0,1.6l0,1.6l0,1.6l0,1.6l0,1.6l0,1.6l0,1.6l0,1.6l0,1.6l0,1.6l0,1.6l0,1.6l0,1.6l0,1.6l0,1.6l0,1.6l0,1.6l0,1.6l0,1.6l0,1.6l0,1.6l0,1.6l0,1.6l0,1.6l0,1.6l0,1.6l0,1.6l0,1.6l0,1.6l0,1.6l0,1.6l0,1.6l0,1.6l0,1.6l0,1.6l0,1.6l0,1.6l0,1.6l0,1.6l0,1.6l0,1.6l0,1.6l0,1.6l0,1.6l0,1.6l0,1.6l0,1.6l0,1.6l0,1.6l0,1.6l0,1.6l0,1.6l0,1.6l0,1.6l0,1.6l0,1.6l0,1.6l0,1.6l0,1.6l0,1.6l0,1.6l0,1.6l0,1.6l-1.6,0l-1.6,0l-1.6,0l-1.6,0l-1.6,0l-1.6,0l-1.6,0l-1.6,0l-1.6,0l-1.6,0l-1.6,0l-1.6,0l-1.6,0l-1.6,0l-1.6,0l-1.6,0l-1.6,0l-1.6,0l-1.6,0l-1.6,0l-1.6,0l-1.6,0l-1.6,0l-1.6,0l-1.6,0l-1.6,0l-1.6,0l-1.6,0l-1.6,0l-1.6,0l-1.6,0l-1.6,0l-1.6,0l-1.6,0l-1.6,0l-1.6,0l-1.6,0l-1.6,0l-1.6,0l-1.6,0l-1.6,0l-1.6,0l-1.6,0l-1.6,0l-1.6,0l-1.6,0l-1.6,0l-1.6,0l-1.6,0l-1.6,0l-1.6,0l-1.6,0l-1.6,0l-1.6,0l-1.6,0l-1.6,0l-1.6,0l-1.6,0l-1.6,0l-1.6,0l-1.6,0l-1.6,0l-1.6,0l-1.6,0l-1.6,0l-1.6,0l-1.6,0l-1.6,0l-1.6,0l-1.6,0l-1.6,0l-1.6,0l-1.6,0l-1.6,0l-1.6,0l-1.6,0l-1.6,0l-1.6,0l-1.6,0l-1.6,0l-1.6,0l-1.6,0l-1.6,0l-1.6,0l-1.6,0l-1.6,0l-1.6,0l-1.6,0l-1.6,0l-1.6,0l-1.6,0l-1.6,0l-1.6,0l-1.6,0l-1.6,0l0-1.6l0-1.6l0-1.6l0-1.6l0-1.6l0-1.6l0-1.6l0-1.6l0-1.6l0-1.6l0-1.6l0-1.6l0-1.6l0-1.6l0-1.6l0-1.6l0-1.6l0-1.6l0-1.6l0-1.6l0-1.6l0-1.6l0-1.6l0-1.6l0-1.6l0-1.6l0-1.6l0-1.6l0-1.6l0-1.6l0-1.6l0-1.6l0-1.6l0-1.6l0-1.6l0-1.6l0-1.6l0-1.6l0-1.6l0-1.6l0-1.6l0-1.6l0-1.6l0-1.6l0-1.6l0-1.6l0-1.6l0-1.6l0-1.6l0-1.6l0-1.6l0-1.6l0-1.6l0-1.6l0-1.6l0-1.6l0-1.6l0-1.6l0-1.6l0-1.6l0-1.6l0-1.6l0-1.6l0-1.6l0-1.6l0-1.6l0-1.6l0-1.6l0-1.6l0-1.6l0-1.6l0-1.6l0-1.6l0-1.6l0-1.6l0-1.6l0-1.6l0-1.6l0-1.6l0-1.6l0-1.6l0-1.6l0-1.6l0-1.6l0-1.6l0-1.6zM18.8,49.2l-1.6,.8l-1.1,.8l-.5,.5l-1,1.1l-.6,1.5l-.1,.1l-.5,1.6l-.3,1.6l-.3,1.6l1.2,.6l1.6,.6l.9,.4l.7,.2l1.6,.5l1.6,.4l1.6,.2l1.6-1.1l.3-.2l1.3-1.3l.3-.3l1.3-1.6l.7-1.6l.4-1.6l.1-1.6l-.6-1.6l-.6-.7l-1.4-.9l-.2-.1l-1.6-.4l-1.6-.1l-1.6,.2l-1.6,.4z" fill="#b4e2db"/>
<path d="M63.6-2l1.6,0l1.6,0l1.6,0l1.6,0l1.6,0l1.6,0l1.6,0l1.6,0l1.6,0l1.6,0l1.6,0l1.6,0l1.6,0l1.6,0l1.6,0l1.6,0l1.6,0l1.6,0l1.6,0l1.6,0l1.6,0l1.6,0l1.6,0l1.6,0l1.6,0l1.6,0l1.6,0l1.6,0l1.6,0l1.6,0l1.6,0l1.6,0l1.6,0l1.6,0l1.6,0l1.6,0l1.6,0l1.6,0l1.6,0l1.6,0l1.6,0l1.6,0l1.6,0l1.6,0l1.6,0l1.6,0l1.6,0l1.6,0l1.6,0l1.6,0l1.6,0l1.6,0l1.6,0l1.6,0l0,1.6l0,1.6l0,1.6l0,1.6l0,1.6l0,1.6l0,1.6l0,1.6l0,1.6l0,1.6l0,1.6l0,1.6l0,1.6l0,1.6l0,1.6l0,1.6l0,1.6l0,1.6l0,1.6l0,1.6l0,1.6l0,1.6l0,1.6l0,1.6l0,1.6l0,1.6l0,1.6l0,1.6l0,1.6l0,1.6l0,1.6l0,1.6l0,1.6l0,1.6l0,1.6l0,1.6l0,1.6l0,1.6l0,1.6l0,1.6l0,1.6l0,1.6l0,1.6l0,1.6l0,1.6l0,1.6l0,1.6l0,1.6l0,1.6l0,1.6l0,1.6l0,1.6l0,1.6l0,1.6l0,1.6l0,1.6l0,1.6l0,1.6l0,1.6l0,1.6l0,1.6l0,1.6l0,1.6l0,1.6l0,1.6l0,1.6l0,1.6l0,1.6l0,1.6l0,1.6l0,1.6l0,1.6l0,1.6l0,1.6l0,1.6l0,1.6l0,1.6l0,1.6l0,1.6l0,1.6l0,1.6l0,1.6l0,1.6l0,1.6l0,1.6l0,1.6l-1.6,0l-1.6,0l-1.6,0l-1.6,0l-1.6,0l-1.6,0l-1.6,0l-1.6,0l-1.6,0l-1.6,0l-1.6,0l-1.6,0l-1.6,0l-1.6,0l-1.6,0l-1.6,0l-1.6,0l-1.6,0l-1.6,0l-1.6,0l-1.6,0l-1.6,0l-1.6,0l-1.6,0l-1.6,0l-1.6,0l-1.6,0l-1.6,0l-1.6,0l-1.6,0l-1.6,0l-1.6,0l-1.6,0l-1.6,0l-1.6,0l-1.6,0l-1.6,0l-1.6,0l-1.6,0l-1.6,0l-1.6,0l-1.6,0l-1.6,0l-1.6,0l-1.6,0l-1.6,0l-1.6,0l-1.6,0l-1.6,0l-1.6,0l-1.6,0l-1.6,0l-1.6,0l-1.6,0l-1.6,0l-1.6,0l-1.6,0l-1.6,0l-1.6,0l-1.6,0l-1.6,0l-1.6,0l-1.6,0l-1.6,0l-1.6,0l-1.6,0l-1.6,0l-1.6,0l-1.6,0l-1.6,0l-1.6,0l-1.6,0l-1.6,0l-1.6,0l-1.6,0l-1.6,0l-1.6,0l-1.6,0l-1.6,0l-1.6,0l-1.6,0l-1.6,0l-1.6,0l-1.6,0l-1.6,0l-1.6,0l-1.6,0l-1.6,0l-1.6,0l-1.6,0l-1.6,0l-1.6,0l-1.6,0l-1.6,0l-1.6,0l0-1.6l0-1.6l0-1.6l0-1.6l0-1.6l0-1.6l0-1.6l0-1.6l0-1.6l0-1.6l0-1.6l0-1.6l0-1.6l0-1.6l0-1.6l0-1.6l0-1.6l0-1.6l0-1.6l0-1.6l0-1.6l0-1.6l0-1.6l0-1.6l0-1.6l0-1.6l0-1.6l0-1.6l0-1.6l0-1.6l0-1.6l0-1.6l0-1.6l0-1.6l0-1.6l0-1.6l0-1.6l0-1.6l0-1.6l0-1.6l0-1.6l0-1.6l0-1.6l0-1.6l0-1.6l0-1.6l0-1.6l0-1.6l0-1.6l0-1.6l0-1.6l0-1.6l0-1.6l0-1.6l0-1.6l0-1.6l0-1.6l0-1.6l0-1.6l0-1.6l0-1.6l0-1.6l0-1.6l0-1.6l0-1.6l0-1.6l0-1.6l0-1.6l0-1.6l0-1.6l0-1.6l0-1.6l0-1.6l0-1.6l0-1.6l0-1.6l0-1.6l0-1.6l0-.8l.6,.8l1,.3l1.2,1.3l.4,.2l1.2,1.4l.4,.4l1.1,1.2l.5,.6l.9,1l.7,.8l.7,.8l.9,.9l.7,.7l.9,.9l.7,.7l.9,.8l1.1,.8l.5,.4l1.6,1.1l.1,.1l1.5,.9l1.6,.7l1.6,.7l1.6,.6l.7,.3l.9,.4l1.6,.7l1,.5l.6,.5l1.3,1.1l.3,.4l.9,1.2l.7,1.1l.4,.5l1.2,1.2l.6,.4l1,.4l1.6,.3l1.6-.1l1.6-.2l1.4-.4l.2-.1l1.6-.9l.9-.6l.7-.6l1.4-1l.2-.1l1.6-.7l1.6-.4l1.6-.3l.4-.1l1.2-.2l1.6-.1l1.6,.2l1.6,0l1.6-.2l1.6-.9l.4-.4l1.2-1l.5-.6l1.1-1.3l.3-.3l1.3-1.2l.7-.4l.9-1.2l.2-.4l.2-1.6l0-1.6l.1-1.6l0-1.6l.1-1.6l0-1.6l.1-1.6l.1-1.6l.1-1.6l.1-1.6l-.1-1.6l-.5-1.6l-.4-1.3l-.1-.3l-.3-1.6l-.3-1.6l-.3-1.6zM92.3,25.2l-1.5,.5l-1.6,.5l-1.6,.6l-1.6,.7l-1.6,.8l-.1,.1l-1.5,1.1l-1.6,.4l-.2,.1l-1.4,1.3l-.2,.3l.2,.3l.8,1.3l.8,1.1l.2,.5l0,1.6l-.2,1.1l-.1,.5l-.6,1.6l-.3,1.6l.4,1.6l.6,.9l.6,.7l1,.8l1.6,.8l1.6,0l1.6-.7l1.6-.8l.2-.1l1.4-1l1-.6l.6-.5l1.6-.8l1-.3l.6-.3l1.6-.9l.9-.4l.7-.5l1.6-.9l.4-.2l1.2-1.3l.2-.3l.2-1.6l-.1-1.6l-.1-1.6l-.2-1.2l-.1-.4l-.6-1.6l-.5-1.6l-.4-1l-.5-.6l-1.1-1.3l-1.6-.2l-1.6,.5l-1.6,.4l-1.6,.6zM53.9,34.8l-1.5,.4l-1.4,1.2l-.2,.2l-.6,1.4l-.1,1.6l.5,1.6l.2,.3l1,1.3l.6,.7l1,.9l.6,.5l1.6,.4l1.6-.4l1.6-.3l1.6-.1l1.6,0l1.6,0l.3-.1l1.3-.4l1.5-1.2l.1-.1l.8-1.5l.6-1.6l-.1-1.6l-.7-1.6l-.6-.6l-1.2-1l-.4-.2l-1.6-.6l-1.6-.1l-1.6,.5l-1,.4l-.6,.3l-1.6,.4l-1.6-.4l-1.5-.3l-.1,0zM111.1,41.2l-1.1,.6l-1,1l-.6,1l-.2,.6l-.3,1.6l-.5,1.6l-.6,1.4l-.1,.2l-.6,1.6l-.9,1.3l-.2,.3l-1.4,1.6l-1.6,1.5l-.1,.1l-.7,1.6l-.3,1.6l.3,1.6l.8,1.5l.1,.1l.9,1.6l.6,1.6l.4,1.6l.5,1.6l.7,.9l1.3,.7l.3,.1l1.6,0l.5-.1l1.1-.2l1.6-.4l1.6-.3l1.6-.2l1.6,0l1.6,0l1.6-.3l.3-.2l1.3-1.3l.4-.3l1.2-1.1l1.6-.3l1.6,.2l1.6,.1l.8-.5l-.6-1.6l-.2-.3l-.8-1.3l-.8-.8l-.7-.8l-.9-.8l-.7-.8l-.9-.7l-.8-.9l-.8-.7l-.8-.9l-.8-.9l-.7-.7l-.5-1.6l.2-1.6l.5-1.6l.5-1l.2-.6l.8-1.6l.6-1.4l.1-.2l.5-1.6l-.6-1.4l-.1-.2l-1.5-.4l-1.6-.3l-1.6,0l-1.6,.1l-1.6,.2l-1.6,.2zM18.4,46l-1.2,.6l-1.6,.9l-.2,.1l-1.4,1l-1.3,.6l-.3,.2l-1.6-.1l-1.6,.1l-1.6,.5l-1.6,.7l-.4,.2l-1.2,.7l-1.2,.9l-.4,.3l-1.6,1.2l-.1,.1l-1.3,1.6l0,1.6l.5,1.6l.6,1.6l.3,.6l.5,1l.9,1.6l.2,.3l.8,1.3l.8,1.1l.4,.5l1.2,1.4l.2,.2l1.4,1.4l.4,.2l1.2,.7l1.6-.3l.7-.4l.9-.6l1.6-1l1.6-1.1l.8-.5l.8-.6l1.6-.9l.1-.1l1.5-.6l1.6-.3l1.6-.1l1.3-.6l.3-.2l1.5-1.4l.1-.1l1.5-1.5l.1-.2l1-1.4l.6-1.3l.1-.3l.4-1.6l.3-1.6l0-1.6l-.3-1.6l-.5-1.1l-.3-.5l-1.2-1.6l-.1-.2l-1.6-1.1l-.7-.3l-.9-.4l-1.6-.4l-1.6-.1l-1.6,.3l-1.6,.4z" fill="#79c8bc"/>
<path d="M118-2l1.6,0l1.6,0l1.6,0l1.6,0l1.6,0l1.6,0l1.6,0l1.6,0l1.6,0l1.6,0l1.6,0l1.6,0l1.6,0l1.6,0l1.6,0l1.6,0l1.6,0l1.6,0l1.6,0l1.6,0l0,1.6l0,1.6l0,1.6l0,1.6l0,1.6l0,1.6l0,1.6l0,1.6l0,1.6l0,1.6l0,1.6l0,1.6l0,1.6l0,1.6l0,1.6l0,1.6l0,1.6l0,1.6l0,1.6l0,1.6l0,1.6l0,1.6l0,1.6l0,1.6l0,1.6l0,1.6l0,1.6l0,1.6l0,1.6l0,1.6l0,1.6l0,1.6l0,1.6l0,1.6l0,1.6l0,1.6l0,1.6l0,1.6l0,1.6l0,1.6l0,1.6l0,1.6l0,1.6l0,1.6l0,1.6l0,1.6l0,1.6l0,1.6l0,1.6l0,1.6l0,1.6l0,1.6l0,1.6l0,1.6l0,1.6l0,1.6l0,1.6l0,1.6l0,1.6l0,1.6l0,1.6l0,1.6l0,1.6l0,1.6l0,1.6l0,1.6l0,1.6l0,1.6l0,1.6l0,1.6l0,1.6l0,1.6l0,1.6l0,1.6l0,1.6l0,1.6l0,1.6l0,1.6l0,1.6l0,1.6l0,1.6l0,1.6l0,1.6l0,1.6l0,1.6l0,1.6l-1.6,0l-1.6,0l-1.6,0l-1.6,0l-1.6,0l-1.6,0l-1.6,0l-1.6,0l-1.6,0l-1.6,0l-1.6,0l-1.6,0l-1.6,0l-1.6,0l-1.6,0l-1.6,0l-1.6,0l-1.6,0l-1.6,0l-1.6,0l-1.6,0l-1.6,0l-1.6,0l-1.6,0l-1.6,0l-1.6,0l-1.6,0l-1.6,0l-1.6,0l-1.6,0l-1.6,0l-1.6,0l-1.6,0l-1.6,0l-1.6,0l-1.6,0l-1.6,0l-1.6,0l-1.6,0l-1.6,0l-1.6,0l-1.6,0l-1.6,0l-1.6,0l-1.6,0l-1.6,0l-1.6,0l-1.6,0l-1.6,0l-1.6,0l-1.6,0l-1.6,0l-1.6,0l-1.6,0l-1.6,0l-1.6,0l-1.6,0l-1.6,0l-1.6,0l-1.6,0l-1.6,0l-1.6,0l-1.6,0l-1.6,0l-1.6,0l-1.6,0l-1.6,0l-1.6,0l-1.6,0l-1.6,0l-1.6,0l-1.6,0l-1.6,0l-1.6,0l-1.6,0l-1.6,0l-1.6,0l-1.6,0l-1.6,0l-1.6,0l-1.6,0l-1.6,0l-1.6,0l-1.6,0l-1.6,0l-1.6,0l-1.6,0l-1.6,0l-1.6,0l-1.6,0l-1.6,0l-1.6,0l-1.6,0l-1.6,0l-1.6,0l0-1.6l0-1.6l0-1.6l0-1.6l0-1.6l0-1.6l0-1.6l0-1.6l0-1.6l0-1.6l0-1.6l0-1.6l0-1.6l0-1.6l0-1.6l0-1.6l0-1.6l0-1.6l0-1.6l0-1.6l0-1.6l0-1.6l0-1.6l0-1.6l0-1.6l0-1.6l0-1.6l0-1.6l0-1.6l0-1.6l0-1.6l0-1.6l0-1.6l0-1.6l0-1.6l0-1.6l0-1.6l0-1.6l0-1.6l0-1.6l0-1.6l0-1.6l0-.1l.2,.1l1.4,.4l1.6,.6l1.6,.6l1.6,1l.8,.6l.8,.5l1.6,1l.2,.1l1.4,.8l1.6,.2l1.6-.8l.3-.2l1.3-.8l1.2-.8l.4-.3l1.6-1l.4-.3l1.2-.8l1.2-.8l.4-.2l1.6-.6l1.6,0l1.6,.7l1.4,.1l.2,0l1.6-1.3l.2-.3l1-1.6l.4-.6l.7-1l.9-1.2l.3-.4l1.1-1.6l.2-.5l.6-1.1l.5-1.6l.3-1.6l.2-1.6l0-1.6l0-.5l0-1.1l.3-1.6l.3-1.6l0-1.6l-.5-1.6l-.1-.1l-1.1-1.5l-.5-.7l-.7-.9l.1-1.6l.6-.2l1.6-.4l1.6-.6l.9-.4l.7-.2l1.6-.4l1.6-.2l1.6,.2l.8,.6l.8,.7l.7,.9l.9,1.1l.4,.5l1.2,1.2l.4,.4l1.2,1.2l.4,.4l1.2,1.4l.1,.2l1.2,1.6l.3,.4l1.5,1.2l.1,.1l1.6,.4l1.6-.4l.2-.1l1.4-.5l1.6-.5l1.6-.2l1.6,0l1.6,.2l1.6-.5l.1-.1l1.2-1.6l.3-.5l.6-1.1l.9-1.6l.1-.1l1.6-1.3l1.6-.2l1.6,.6l1.2,1l.4,.5l.9,1.1l.7,.8l.7,.8l.9,1l.7,.6l.9,.8l1.3,.8l.3,.3l1.6,1.3l0,.1l.7,1.5l.3,1.6l0,1.6l0,1.6l.2,1.6l.4,.5l1.6,.9l1.6,0l1.5-1.4l.1-.1l.8-1.5l.6-1.6l-.1-1.6l-.9-1.6l-.4-.4l-1-1.2l-.6-1.5l0-.1l0-.1l.5-1.5l1.1-.9l.6-.7l1-.7l1.4-.9l.2-.1l1.6-.7l1.3-.8l.3-.2l1.6-.8l.9-.6l.7-.4l1.6-1l.4-.2l1.2-.7l1.6-.8l1.6-.1l.7,1.6l-.5,1.6l-.2,.9l-.3,.7l-.6,1.6l-.5,1.6l-.2,.8l-.4,.8l-.8,1.6l-.4,.7l-.8,.9l-.8,.8l-.9,.8l-.7,.7l-.9,.9l-.7,1.1l-.5,.5l-.6,1.6l-.2,1.6l-.2,1.6l-.1,1.6l.3,1.6l.7,1.6l.6,1.5l0,.1l.3,1.6l.3,1.6l1,1.1l.4,.5l1.2,.7l1.6,.7l1.2,.2l.4,.1l1.6,.3l1.6,.2l1.6,.1l1.6,0l1.6-.2l1.6-.3l1.6-.1l1.6,.2l1.6,.3l1.6,.3l1.6,0l1.6,.1l1.6,.4l.7,.2l.9,.2l1.6,.2l1.6-.3l.2-.1l1.4-1l.5-.6l1.1-1.3l.3-.3l1.3-1.3l.4-.3l1.2-.9l1.1-.7l.5-.3l1.5-1.3l.1-.1l1-1.5l.6-1.5l0-.1l0-.4l-.2-1.2l0-1.6l.2-.6l.4-1l1.2-1.6l1.2-1.6l.4-.5l.8-1.1l.8-1l.4-.6l1.1-1.6l-.2-1.6l-1.3-1.2l-.4-.4l-1.2-.6l-1.6-.9l-.1-.1l-1.5-.6l-1.6-1l-1.6-1.2l-.5-.4l-1.1-.9l-1.3-.7l-.3-.2l-1.6-1l-1.3-.4l-.3-.2l-1.6-.7l-1.6-.4l-1.6-.2l-.7-.1l-.9-.3l-1.6-.3l-1.6-.2l-1.6-.2l-1.6-.1l-1.6-.1l-1.6-.1l-1.6,0l-1.6,.1l-1.6,0l-1.6-.1l-.6-.3l.4-1.6l.2-.5l.4-1.1l.5-1.6l.4-1.6l.3-1l.2-.6l.4-1.6l.4-1.6l.4-1.6l.2-1.1l.1-.5l.4-1.6l.3-1.6l.3-1.6l.3-1.6l.2-1.4l0-.2l.3-1.6l.3-1.6l.2-1.6l.3-1.6l.2-1.6l.3-1.6l0-.1l.2-1.5l.3-1.6l.2-1.6l.2-1.6zM68,49.2l-1.2,1.5l0,.1l-.8,1.6l-.8,1.4l-.1,.2l-.7,1.6l-.3,1.6l.1,1.6l.6,1.6l.4,.7l1.4,.9l.2,.1l1.6,0l.4-.1l1.2-.2l1.6-.4l1.6-.6l.6-.4l-.1-1.6l-.5-1.2l-.1-.4l-.1-1.6l.2-.8l.2-.8l.7-1.6l.2-1.6l-1.1-1.6l-1.6-.5l-1.6-.1l-1.6,.3zM72.7,73.2l-.3,1.6l.2,1.6l.4,1.6l.2,.4l1.1,1.2l.5,.3l1.6,.1l.8-.4l.8-.7l.8-.9l.8-1.1l.6-.5l.2-1.6l-.8-.4l-1.3-1.2l-.3-.2l-1.6-.9l-1.6-.3l-1.6,.7zM83.8,74.8l.6,.1l.3-.1l-.3-.3zM-.4,14.7l1.6,.6l.3,.3l1.3,1.4l.2,.2l1.4,1.5l.1,.1l1.5,1.6l1.6,1.6l1.6,1.3l.4,.3l1.2,.9l1,.7l.6,.5l1.6,.9l.4,.2l1.2,.7l1.6,.6l.8,.3l.8,.4l1.6,.7l1.3,.5l.3,.2l1.6,1.1l.4,.3l1.2,1.6l0,.1l.4,1.5l.2,1.6l0,1.6l-.5,1.6l-.1,.2l-1,1.4l-.6,.4l-1.6,.8l-.6,.4l-1,.4l-1.6,.6l-1.1,.6l-.5,.2l-1.6,.8l-1.1,.6l-.5,.3l-1.6,.8l-1.6,.1l-1.6-.2l-1.6-.6l-.5-.4l-.5-1.6l-.1-1.6l.1-1.6l.4-1.6l.4-1.6l-.2-1.6l-.6-1.6l-.6-1.1l-.3-.5l-1.3-1.6l-1.6-1.6l-.1,0l-1.3-1.6l-.2-.6l-.8-1l-.8-1l-.8-.6l-.8-.5l0-1.1l0-1.6l0-1.6l0-1.6l0-1.6l0-1.6l0-.4z" fill="#3b9b93"/>
<path d="M12.4,29.5l1.6-.1l1.6,.2l1.2,.4l.4,.2l1.6,.9l.8,.5l.8,.9l.5,.7l.5,1.6l0,1.6l-.3,1.6l-.7,1.2l-.2,.4l-1.4,1.3l-.3,.3l-1.3,.9l-.8,.7l-.8,.4l-1.6,1.1l-.2,.1l-1.4,.6l-1.6,.1l-.8-.7l-.2-1.6l.5-1.6l.5-1l.3-.6l.6-1.6l0-1.6l-.4-1.6l-.5-1.5l0-.1l-.1-1.6l.1-.4l.7-1.2zM150,56.1l0,1.1l0,1.6l0,1.6l0,1.6l0,1.6l0,1.6l0,1.6l0,1.6l0,1.6l0,1.6l0,1.6l0,1.6l0,1.6l0,1.6l0,1.6l0,1.6l0,1.6l0,1.6l0,1.6l0,1.6l0,1.6l0,1.6l0,1.6l0,1.6l0,1.6l0,1.6l0,1.6l0,1.6l0,1.6l0,1.6l0,1.6l0,1.6l0,1.6l0,1.6l0,1.6l0,1.6l0,1.6l0,1.6l0,1.6l0,1.6l0,1.6l0,1.6l0,1.6l0,1.6l0,1.6l0,1.6l0,1.6l0,1.6l0,1.6l0,1.6l-1.6,0l-1.6,0l-1.6,0l-1.6,0l-1.6,0l-1.6,0l-1.6,0l-1.6,0l-1.6,0l-1.6,0l-1.6,0l-1.6,0l-1.6,0l-1.6,0l-1.6,0l-1.6,0l-1.6,0l-1.6,0l-1.6,0l-1.6,0l-1.6,0l-1.6,0l-1.6,0l-1.6,0l-1.6,0l-1.6,0l-1.6,0l-1.6,0l-1.6,0l-1.6,0l-1.6,0l-1.6,0l-1.6,0l-1.6,0l-1.6,0l-1.6,0l-1.6,0l-1.6,0l-1.6,0l-1.6,0l-1.6,0l-1.6,0l-1.6,0l-1.6,0l-1.6,0l-1.6,0l-1.6,0l-1.6,0l-1.6,0l-1.6,0l-1.6,0l-1.6,0l-1.6,0l-1.6,0l-1.6,0l-1.6,0l-1.6,0l-1.6,0l-1.6,0l-1.6,0l-1.6,0l-1.6,0l-1.6,0l-1.6,0l-1.6,0l-1.6,0l-1.6,0l-1.6,0l-1.6,0l-1.6,0l-1.6,0l-1.6,0l-1.6,0l-1.6,0l-1.6,0l-1.6,0l-1.6,0l-1.6,0l-1.6,0l-1.6,0l-1.6,0l-1.6,0l-1.6,0l-1.6,0l-1.6,0l-1.6,0l-1.6,0l-1.6,0l-1.6,0l-1.6,0l-1.6,0l-1.6,0l-1.6,0l-1.6,0l-1.6,0l0-1.6l0-1.6l0-1.6l0-1.6l0-1.6l0-1.6l0-1.6l0-1.6l0-1.6l0-.1l1-1.5l.6-.8l.6-.8l1-1.4l.2-.2l1.2-1.6l.2-.3l1-1.3l.6-.7l.7-.9l.9-1l.5-.6l1.1-1.3l.2-.3l1.4-1.6l1.5-1.6l.1-.1l1.3-1.5l.3-.3l1.2-1.3l.4-.4l1.2-1.2l.4-.4l1.1-1.2l.5-.5l1.1-1.1l.5-.4l1.6-1.1l1.6,.1l1.6-.1l.2-.1l1.4-1l.8-.6l.8-.7l1.1-.9l.5-.4l1.4-1.2l.2-.2l1.3-1.4l.3-.5l.7-1.1l.9-1.5l.1-.1l1.5-1l1.4-.6l.2-.1l1.6-.8l.9-.7l.7-.7l.7-.9l.4-1.6l.1-1.6l.3-1.6l.1-.3l.6-1.3l1-1.3l.2-.3l1.4-1.6l1.5-1.6l.1-.1l1.5-1.5l.1-.2l1.6-1.4l1.6-1.2l.8-.4l.8-.6l1.4-1l.2-.2l1.2-1.4l.4-.5l.8-1.1l.8-1.2l1.6-.1l.4,1.3l.4,1.6l.3,1.6l-.1,1.6l-.3,1.6l-.5,1.6l-.2,.4l-.4,1.2l-.5,1.6l-.4,1.6l-.3,1l-.2,.6l-.4,1.6l-.1,1.6l.7,1.6l1.6,1.4l.3,.2l1.3,.4l1.6,.3l1.6,.2l1.6,.4l.6,.3l1,.5l1.6,.7l1.6,.4l.1,0l1.5,.4l1.6,.5l1.6,.6l.3,.1l1.3,.5l1.6,.4l1.6-.1l1.5-.8l.1,0l1.6-1.3l.5-.3l1.1-.8l1.1-.8l.5-.3l1.6-.9l.9-.4l.7-.2l1.6-.1l1.6,.1l1.6,0l1.6-.2l1.6-.8l.7-.4l.9-.3l1.6-.6l1.6-.1l1.6,.7l.5,.3l1.1,.9l.9,.7l.7,.3l1.6,.6l1.6,.3l1.6-.2l1.6-.6l.6-.4l1-.6l1.4-1l.2-.1l1.6-1.3l.4-.2l1.2-.6l1.6-.2l1.6,.1l1.6,.2l1.5,.5l.1,0l1.6,.8l1.3,.8l.3,.3l1.3,1.3l.3,.6l.6,1l.6,1.6l.3,1.6l.1,.3l.5,1.3l.7,1.6l.4,.6l1.1,1l.5,.3l.7-.3l.9-1.6l-.6-1.6l-.5-1.6l-.3-1.6l0-1.6l-.1-1.6l-.1-.6l-.2-1l-.2-1.6l.1-1.6l.3-.7l.4-.9l1.1-1.6l.1-.1l1.6-1.1l.8-.4l.8-.4l1.6-.9l.4-.3l1.2-1.2l.4-.4l.9-1.6l.2-1.6l.1-.5l.2-1.1l.7-1.6l.7-1.3l.2-.3l1.1-1.6l.3-.4l.8-1.2zM49,81.2l.2,1.5l0,.1l1.6,1.1l1.6-.4l.5-.7l-.4-1.6l-.1-.1l-1.6-1.2l-1.6,.8z" fill="#0c7169"/>
<path d="M121.2,79.6l.2,0l1.4,.3l1.6,.8l.7,.5l.9,1.3l.2,.3l.7,1.6l.7,1.5l.1,.1l.6,1.6l.7,1.6l.2,.3l.6,1.3l.8,1.6l.2,.4l.7,1.2l.9,1.1l1.6,.5l1.6,.6l1.4,1l.2,.2l1.2,1.4l.4,.9l.3,.7l-.3,1.1l-.1,.5l-1.1,1.6l-.4,.5l-.9,1.1l-.7,.8l-.6,.8l-1,1.3l-.2,.3l-.7,1.6l-.7,1.2l-.2,.4l-.6,1.6l-.8,1.5l0,.1l-.5,1.6l-.5,1.6l-.4,1.6l-.2,.6l-.3,1l-.5,1.6l-.6,1.6l-.2,.4l-.5,1.2l-.7,1.6l-.4,.9l-.3,.7l-.8,1.6l-.5,.9l-.4,.7l-.9,1.6l-.3,.5l-.7,1.1l-.9,0l-1.6,0l-1.6,0l-1.6,0l-1.6,0l-1.6,0l-1.6,0l-1.6,0l-1.6,0l-1.6,0l-1.6,0l-1.6,0l-1.6,0l-1.6,0l-1.6,0l-1.6,0l-1.6,0l-1.6,0l-1.6,0l-1.6,0l-1.6,0l-1.6,0l-1.6,0l-1.6,0l-1.6,0l-1.6,0l-1.6,0l-1.6,0l-1.6,0l-1.6,0l-1.6,0l-1.6,0l-1.6,0l-1.6,0l-1.6,0l-1.6,0l-1.6,0l-1.6,0l-1.6,0l-1.6,0l-1.6,0l-1.6,0l-1.6,0l-1.6,0l-1.6,0l-1.6,0l-1.6,0l-1.6,0l-1.6,0l-1.6,0l-1.6,0l-1.6,0l-1.6,0l-1.6,0l-1.6,0l-1.6,0l-1.6,0l-.7,0l-.3-1.6l-.2-1.6l-.1-1.6l-.1-1.6l0-1.6l.1-1.6l.1-1.6l.2-1.6l.2-1.6l.4-1.6l.4-1.5l0-.1l.3-1.6l.2-1.6l.1-1.6l-.1-1.6l-.1-1.6l-.1-1.6l-.3-1.4l-.1-.2l-1-1.6l-.5-.8l-.6-.8l-1-1.6l0-.1l-.5-1.5l.4-1.6l.1-.1l1.6-1.4l.1-.1l1.5-1l.8-.6l.8-.5l1.5-1.1l.1-.1l1.6-1.1l.5-.4l1.1-1.3l.3-.3l1.3-1.2l.5-.4l1.1-.6l1.6-.6l1.6,0l1.6,.3l1.6,.3l1.6,0l1.6-.1l1.6,0l1.6,0l1.6,0l1.6,0l1.6-.3l1.6-.3l1.6-.1l1.6,.1l1.6,.4l1.6,.9l1.6,1.1l.6,.5l1,.9l.9,.7l.7,.6l1.6,.6l1.6-.2l1.6-.5l1.6-.3l.8-.2l.8-.1l1.6-.5l1.6-1l1.6-.9l1.6-.6l1.6-.1l1.6,.4l1.6,.7l1.2,.5l.4,.1l1.6,.3l1.6,.3l1.6,.4l1.3,.5l.3,.1l1.6,.2l.9-.3l.7-.3l1-1.3l.6-.8l.5-.8l1.1-1l.9-.6l.7-.3l1.6-.4l1.6-.4l1.6-.3l.7-.2l.9-.3l1.6-1l.4-.3l1.2-1.4l.1-.2l1.3-1.6l.2-.2l1.6-1.1l1.4-.3z" fill="#004c42"/>
<path d="M116.4,89.1l1.6,.1l.1,0l1.5,.5l1.6,.6l1.1,.5l.5,.3l1.6,1.2l.1,.1l1.3,1.6l.2,.3l.7,1.3l.6,1.6l.3,.8l.3,.8l1.3,1.5l.1,.1l1.5,1.4l.2,.2l1.3,1.6l.1,.7l.1,.9l-.1,.1l-.6,1.5l-.7,1.6l-.3,.5l-.7,1.1l-.9,1.3l-.3,.3l-1.3,1.6l-1.6,1.6l-.1,0l-1.5,1.2l-.5,.4l-1.1,.8l-1.4,.8l-.2,.2l-1.6,.8l-1.2,.6l-.4,.3l-1.6,.7l-1.6,.6l-1.6,.7l-1.6,.5l-1.1,.4l-.5,.3l-1.6,.7l-1.1,.6l-.5,.5l-.9,1.1l-.7,.9l-.5,.7l-1.1,1.4l-.2,.2l-1.4,1.5l-.1,.1l-1.5,1.3l-.4,.3l-1.2,.9l-1.1,.7l-.5,.3l-1.6,.8l-1.2,.5l-.4,0l-1.6,0l-1.6,0l-1.6,0l-1.6,0l-1.6,0l-1.6,0l-1.6,0l-1.6,0l-1.6,0l-1.6,0l-1.6,0l-1.6,0l-1.6,0l-1.6,0l-1.6,0l-1.6,0l-1.6,0l-1.6,0l-1.6,0l-1.6,0l-1.6,0l-1.6,0l-1.6,0l-1.6,0l-1.6,0l-1.6,0l-1.6,0l-1.6,0l-1.6,0l-1.6,0l-1.6,0l-1.6,0l-1.6,0l-1.6,0l-1,0l-.6-.9l-.5-.7l-.8-1.6l-.3-.6l-.5-1l-.5-1.6l-.4-1.6l-.2-.8l-.2-.8l-.2-1.6l-.1-1.6l0-1.6l.2-1.6l.3-1.6l0-.1l.3-1.5l.1-1.6l-.3-1.6l-.1-.3l-.3-1.3l-.3-1.6l-.2-1.6l.3-1.6l.5-1l.7-.6l.9-.8l1.2-.8l.4-.3l1.6-1.3l.1,0l1.5-1.3l.4-.3l1.2-.8l1-.8l.6-.4l1.3-1.2l.3-.3l1.3-1.3l.3-.3l1.6-.9l1.6-.3l1.6-.1l.4,0l1.2,0l1.6-.2l1.6-.3l1.6-.5l1.6-.5l.4-.1l1.2-.2l1.6,0l.5,.2l1.1,.4l1.5,1.2l.1,.1l.9,1.5l.7,1.6l0,.1l.7,1.5l.9,.9l1.4,.7l.2,.1l1.6,.2l1.6-.1l.8-.2l.8-.2l1.6-.4l1.6-.4l1.6-.4l.7-.2l.9-.3l1.6-.5l1.6-.3l1.6-.2l1.6,0l1.6-.3l1.6-.9l1.6-.6l1-.1l.6-.1l.6,.1l1,.1l1.6,.2l1.6,.3l1.6,.1l1.6-.2l1-.5l.6-.4l1.1-1.2l.5-.7l.7-.9l.9-.9l.9-.7l.7-.3l1.6-.5l1.6-.4l1.6-.3l.5-.1z" fill="#003c30"/>
<g fill="#000"><circle cx="43.7" cy="28.7" r="0.9"/><circle cx="13.5" cy="37.3" r="1.55"/><circle cx="22.1" cy="37.3" r="1.55"/><circle cx="48.1" cy="37.3" r="1.55"/><circle cx="56.7" cy="37.3" r="1.55"/><circle cx="65.3" cy="37.3" r="1.55"/><circle cx="74" cy="37.3" r="1.55"/><circle cx="26.5" cy="46" r="1.55"/><circle cx="35.1" cy="46" r="1.55"/><circle cx="43.7" cy="46" r="1.55"/><circle cx="52.4" cy="46" r="0.9"/><circle cx="61" cy="46" r="0.9"/><circle cx="69.7" cy="46" r="1.55"/><circle cx="78.3" cy="46" r="1.55"/><circle cx="86.9" cy="46" r="1.55"/><circle cx="30.8" cy="54.6" r="0.9"/><circle cx="39.4" cy="54.6" r="1.55"/><circle cx="48.1" cy="54.6" r="1.55"/><circle cx="56.7" cy="54.6" r="1.55"/><circle cx="65.3" cy="54.6" r="1.55"/><circle cx="74" cy="54.6" r="1.55"/><circle cx="82.6" cy="54.6" r="1.55"/><circle cx="91.3" cy="54.6" r="1.55"/><circle cx="35.1" cy="63.2" r="1.55"/><circle cx="43.7" cy="63.2" r="1.55"/><circle cx="52.4" cy="63.2" r="1.55"/><circle cx="61" cy="63.2" r="1.55"/><circle cx="69.7" cy="63.2" r="1.55"/><circle cx="78.3" cy="63.2" r="1.55"/><circle cx="86.9" cy="63.2" r="1.55"/><circle cx="95.6" cy="63.2" r="1.55"/><circle cx="39.4" cy="71.9" r="1.55"/><circle cx="48.1" cy="71.9" r="1.55"/><circle cx="56.7" cy="71.9" r="1.55"/><circle cx="65.3" cy="71.9" r="1.55"/><circle cx="74" cy="71.9" r="1.55"/><circle cx="82.6" cy="71.9" r="1.55"/><circle cx="91.3" cy="71.9" r="1.55"/><circle cx="99.9" cy="71.9" r="1.55"/><circle cx="35.1" cy="80.5" r="1.55"/><circle cx="43.7" cy="80.5" r="1.55"/><circle cx="52.4" cy="80.5" r="1.55"/><circle cx="61" cy="80.5" r="1.55"/><circle cx="69.7" cy="80.5" r="1.55"/><circle cx="78.3" cy="80.5" r="1.55"/><circle cx="86.9" cy="80.5" r="1.55"/><circle cx="95.6" cy="80.5" r="1.55"/><circle cx="104.2" cy="80.5" r="1.55"/><circle cx="48.1" cy="89.2" r="1.55"/><circle cx="56.7" cy="89.2" r="1.55"/><circle cx="65.3" cy="89.2" r="1.55"/><circle cx="74" cy="89.2" r="1.55"/><circle cx="82.6" cy="89.2" r="1.55"/><circle cx="91.3" cy="89.2" r="1.55"/><circle cx="99.9" cy="89.2" r="1.55"/><circle cx="108.5" cy="89.2" r="1.55"/><circle cx="52.4" cy="97.8" r="1.55"/><circle cx="61" cy="97.8" r="1.55"/><circle cx="69.7" cy="97.8" r="1.55"/><circle cx="78.3" cy="97.8" r="1.55"/><circle cx="86.9" cy="97.8" r="1.55"/><circle cx="95.6" cy="97.8" r="1.55"/><circle cx="104.2" cy="97.8" r="1.55"/><circle cx="112.9" cy="97.8" r="1.55"/><circle cx="56.7" cy="106.4" r="1.55"/><circle cx="65.3" cy="106.4" r="1.55"/><circle cx="74" cy="106.4" r="1.55"/><circle cx="82.6" cy="106.4" r="1.55"/><circle cx="91.3" cy="106.4" r="1.55"/><circle cx="99.9" cy="106.4" r="1.55"/><circle cx="52.4" cy="115.1" r="1.55"/><circle cx="61" cy="115.1" r="1.55"/><circle cx="69.7" cy="115.1" r="1.55"/><circle cx="78.3" cy="115.1" r="1.55"/><circle cx="86.9" cy="115.1" r="1.55"/><circle cx="56.7" cy="123.7" r="1.55"/><circle cx="65.3" cy="123.7" r="1.55"/></g>
</g>
<use href="#ov"/><use href="#fr"/>
<text x="1.5" y="-9.2" font-size="10.6">(i)</text>
<text x="11.4" y="22.1" transform="translate(0,132.8)" font-size="11.25" text-anchor="middle">36°E</text>
<text x="45.4" y="22.1" transform="translate(0,132.8)" font-size="11.25" text-anchor="middle">42°E</text>
<text x="79.5" y="22.1" transform="translate(0,132.8)" font-size="11.25" text-anchor="middle">48°E</text>
<text x="113.6" y="22.1" transform="translate(0,132.8)" font-size="11.25" text-anchor="middle">54°E</text>
<text x="147.7" y="22.1" transform="translate(0,132.8)" font-size="11.25" text-anchor="middle">60°E</text>
</g>
<text x="52.6" y="10.4" font-size="13">Near Future (2021-2050)</text>
<text x="248.7" y="10.4" font-size="13">Mid Future (2051-2080)</text>
<text x="444.1" y="10.4" font-size="13">Far Future (2081-2100)</text>
<text transform="translate(11.4,102.4) rotate(-90)" font-size="13" text-anchor="middle">SSP126</text>
<text transform="translate(11.4,275.3) rotate(-90)" font-size="13" text-anchor="middle">SSP245</text>
<text transform="translate(11.4,448.2) rotate(-90)" font-size="13" text-anchor="middle">SSP585</text>
<g>
<path d="M615.1,133.5L622.4,121.2L629.7,133.5Z" fill="#003c30"/>
<path d="M615.1,359.3L622.4,370.6L629.7,359.3Z" fill="#543005"/>
<rect x="615.1" y="133.5" width="14.6" height="19.1" fill="#004c42"/>
<rect x="615.1" y="152.3" width="14.6" height="19.1" fill="#0c7169"/>
<rect x="615.1" y="171.1" width="14.6" height="19.1" fill="#3b9b93"/>
<rect x="615.1" y="189.9" width="14.6" height="19.1" fill="#79c8bc"/>
<rect x="615.1" y="208.8" width="14.6" height="19.1" fill="#b4e2db"/>
<rect x="615.1" y="227.6" width="14.6" height="19.1" fill="#e2f0ee"/>
<rect x="615.1" y="246.4" width="14.6" height="19.1" fill="#f5f0e0"/>
<rect x="615.1" y="265.2" width="14.6" height="19.1" fill="#f1dfb3"/>
<rect x="615.1" y="284" width="14.6" height="19.1" fill="#dcbc75"/>
<rect x="615.1" y="302.9" width="14.6" height="19.1" fill="#c28633"/>
<rect x="615.1" y="321.7" width="14.6" height="19.1" fill="#995d13"/>
<rect x="615.1" y="340.5" width="14.6" height="19.1" fill="#6a3d07"/>
<path d="M615.1,133.5L622.4,121.2L629.7,133.5V359.3L622.4,370.6L615.1,359.3Z" fill="none" stroke="#000" stroke-width="1" stroke-linejoin="miter"/>
<text x="633.6" y="138.3" font-size="14.3">30</text>
<text x="633.6" y="175.9" font-size="14.3">20</text>
<text x="633.6" y="213.6" font-size="14.3">10</text>
<text x="633.6" y="251.2" font-size="14.3">0</text>
<text x="633.6" y="288.8" font-size="14.3">−10</text>
<text x="633.6" y="326.5" font-size="14.3">−20</text>
<text x="633.6" y="364.1" font-size="14.3">−30</text>
<path d="M629.7,133.5h3.4M629.7,171.1h3.4M629.7,208.8h3.4M629.7,246.4h3.4M629.7,284h3.4M629.7,321.7h3.4M629.7,359.3h3.4" stroke="#000" stroke-width="1" fill="none"/>
<text transform="translate(680.6,249.4) rotate(-90)" font-size="14.4" text-anchor="middle">Perecentage change in RX1DAY (%)</text>
</g>
</svg></body></html>
